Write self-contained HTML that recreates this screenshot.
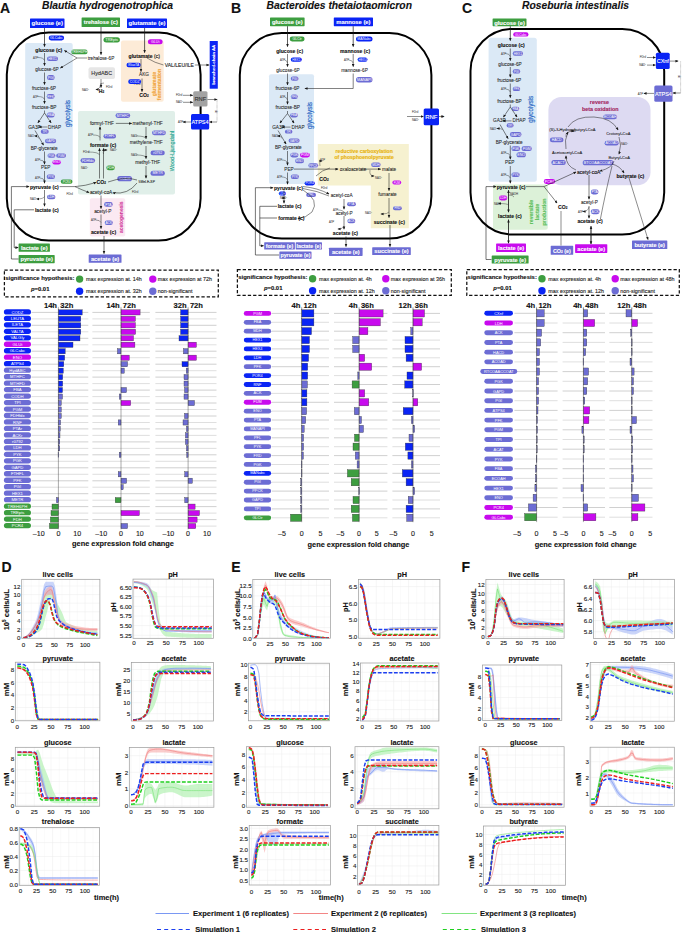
<!DOCTYPE html>
<html><head><meta charset="utf-8"><style>
html,body{margin:0;padding:0;background:#fff;width:685px;height:933px;overflow:hidden;}
svg{display:block;font-family:"Liberation Sans", sans-serif;}
</style></head><body>
<svg width="685" height="933" viewBox="0 0 685 933">
<defs><marker id="ah" viewBox="0 0 10 10" refX="8" refY="5" markerWidth="3.2" markerHeight="3.2" markerUnits="userSpaceOnUse" orient="auto"><path d="M0,1 L10,5 L0,9 Z" fill="#1a1a1a"/></marker></defs>
<rect width="685" height="933" fill="#fff"/>
<text x="0.00" y="7.60" font-size="14" font-weight="bold" text-anchor="start" fill="#111" dominant-baseline="central" stroke="#111" stroke-width="0.12">A</text>
<text x="42.00" y="5.40" font-size="10.3" font-weight="bold" text-anchor="start" fill="#111" dominant-baseline="central" font-style="italic" stroke="#111" stroke-width="0.12">Blautia hydrogenotrophica</text>
<rect x="25.20" y="43.10" width="47.50" height="139.00" rx="2" fill="#dbe9f6" stroke="none" stroke-width="1"/>
<rect x="121.00" y="40.50" width="42.70" height="61.30" rx="2" fill="#fdebd7" stroke="none" stroke-width="1"/>
<rect x="78.00" y="111.00" width="97.00" height="83.50" rx="2" fill="#e0efe9" stroke="none" stroke-width="1"/>
<rect x="89.80" y="198.20" width="35.40" height="38.30" rx="2" fill="#fbe9f2" stroke="none" stroke-width="1"/>
<rect x="88.50" y="67.30" width="26.50" height="11.70" rx="2" fill="#e6e6e6" stroke="none" stroke-width="1"/>
<text x="101.70" y="73.20" font-size="5.4" font-weight="normal" text-anchor="middle" fill="#333" dominant-baseline="central" stroke="#333" stroke-width="0.12">HydABC</text>
<rect x="6.80" y="32.60" width="193.80" height="208.00" rx="42" fill="none" stroke="#000" stroke-width="2.0"/>
<rect x="30.00" y="18.50" width="34.50" height="9.50" rx="0.6" fill="#0a24f5" stroke="none" stroke-width="1"/>
<text x="47.25" y="23.45" font-size="5.936" font-weight="bold" text-anchor="middle" fill="#fff" dominant-baseline="central" stroke="#fff" stroke-width="0.12">glucose (e)</text>
<rect x="81.60" y="17.50" width="38.40" height="9.50" rx="0.6" fill="#3d9e40" stroke="none" stroke-width="1"/>
<text x="100.80" y="22.45" font-size="5.724000000000001" font-weight="bold" text-anchor="middle" fill="#fff" dominant-baseline="central" stroke="#fff" stroke-width="0.12">trehalose (c)</text>
<rect x="127.00" y="18.50" width="40.00" height="9.50" rx="0.6" fill="#0a24f5" stroke="none" stroke-width="1"/>
<text x="147.00" y="23.45" font-size="5.936" font-weight="bold" text-anchor="middle" fill="#fff" dominant-baseline="central" stroke="#fff" stroke-width="0.12">glutamate (e)</text>
<rect x="209.70" y="41.00" width="8.10" height="47.70" rx="0" fill="#0a24f5" stroke="none" stroke-width="1"/>
<text x="213.90" y="64.80" font-size="4.4" font-weight="bold" text-anchor="middle" fill="#fff" dominant-baseline="central" transform="rotate(-90 213.90 64.80)" stroke="#fff" stroke-width="0.07">branched-chain AA</text>
<rect x="193.20" y="91.30" width="14.30" height="15.30" rx="1.5" fill="#a3a3a3" stroke="none" stroke-width="1"/>
<text x="200.35" y="99.15" font-size="5.724000000000001" font-weight="normal" text-anchor="middle" fill="#333" dominant-baseline="central" stroke="#333" stroke-width="0.12">RNF</text>
<rect x="191.00" y="114.00" width="18.20" height="15.50" rx="1.5" fill="#0a24f5" stroke="none" stroke-width="1"/>
<text x="200.10" y="121.95" font-size="5.5120000000000005" font-weight="normal" text-anchor="middle" fill="#fff" dominant-baseline="central" stroke="#fff" stroke-width="0.12">ATPS4</text>
<rect x="18.60" y="243.50" width="31.30" height="8.30" rx="0.6" fill="#3d9e40" stroke="none" stroke-width="1"/>
<text x="34.25" y="247.85" font-size="5.724000000000001" font-weight="bold" text-anchor="middle" fill="#fff" dominant-baseline="central" stroke="#fff" stroke-width="0.12">lactate (e)</text>
<rect x="18.60" y="255.10" width="36.10" height="8.10" rx="0.6" fill="#3d9e40" stroke="none" stroke-width="1"/>
<text x="36.65" y="259.35" font-size="5.724000000000001" font-weight="bold" text-anchor="middle" fill="#fff" dominant-baseline="central" stroke="#fff" stroke-width="0.12">pyruvate (e)</text>
<rect x="88.70" y="254.40" width="32.80" height="8.40" rx="0.6" fill="#6c6cd4" stroke="none" stroke-width="1"/>
<text x="105.10" y="258.80" font-size="5.724000000000001" font-weight="bold" text-anchor="middle" fill="#fff" dominant-baseline="central" stroke="#fff" stroke-width="0.12">acetate (e)</text>
<text x="35.30" y="49.80" font-size="5.1" font-weight="bold" text-anchor="start" fill="#111" dominant-baseline="central" stroke="#111" stroke-width="0.12">glucose (c)</text>
<text x="35.30" y="69.00" font-size="4.7" font-weight="normal" text-anchor="start" fill="#1e1e1e" dominant-baseline="central" stroke="#1e1e1e" stroke-width="0.07">glucose-6P</text>
<text x="31.90" y="88.00" font-size="4.7" font-weight="normal" text-anchor="start" fill="#1e1e1e" dominant-baseline="central" stroke="#1e1e1e" stroke-width="0.07">fructose-6P</text>
<text x="31.90" y="107.20" font-size="4.7" font-weight="normal" text-anchor="start" fill="#1e1e1e" dominant-baseline="central" stroke="#1e1e1e" stroke-width="0.07">fructose-BP</text>
<text x="28.20" y="127.00" font-size="4.7" font-weight="normal" text-anchor="start" fill="#1e1e1e" dominant-baseline="central" stroke="#1e1e1e" stroke-width="0.07">GA3P</text>
<text x="48.00" y="127.00" font-size="4.7" font-weight="normal" text-anchor="start" fill="#1e1e1e" dominant-baseline="central" stroke="#1e1e1e" stroke-width="0.07">DHAP</text>
<text x="30.70" y="148.20" font-size="4.7" font-weight="normal" text-anchor="start" fill="#1e1e1e" dominant-baseline="central" stroke="#1e1e1e" stroke-width="0.07">BP-glycerate</text>
<text x="41.10" y="167.50" font-size="4.7" font-weight="normal" text-anchor="start" fill="#1e1e1e" dominant-baseline="central" stroke="#1e1e1e" stroke-width="0.07">PEP</text>
<text x="29.90" y="186.60" font-size="5.1" font-weight="bold" text-anchor="start" fill="#111" dominant-baseline="central" stroke="#111" stroke-width="0.12">pyruvate (c)</text>
<text x="34.90" y="209.80" font-size="5.1" font-weight="bold" text-anchor="start" fill="#111" dominant-baseline="central" stroke="#111" stroke-width="0.12">lactate (c)</text>
<text x="87.70" y="58.00" font-size="4.7" font-weight="normal" text-anchor="start" fill="#1e1e1e" dominant-baseline="central" stroke="#1e1e1e" stroke-width="0.07">trehalose-6P</text>
<text x="128.60" y="55.80" font-size="5.1" font-weight="normal" text-anchor="start" fill="#111" dominant-baseline="central" stroke="#111" stroke-width="0.12"><tspan font-weight="bold">glutamate</tspan> (c)</text>
<text x="139.00" y="74.90" font-size="4.7" font-weight="normal" text-anchor="start" fill="#1e1e1e" dominant-baseline="central" stroke="#1e1e1e" stroke-width="0.07">AKG</text>
<text x="139.30" y="95.00" font-size="5.1" font-weight="bold" text-anchor="start" fill="#111" dominant-baseline="central" stroke="#111" stroke-width="0.12">CO<tspan font-size="3" dy="1">2</tspan></text>
<text x="164.80" y="65.00" font-size="5.0" font-weight="normal" text-anchor="start" fill="#1e1e1e" dominant-baseline="central" stroke="#1e1e1e" stroke-width="0.12">VAL/LEU/ILE</text>
<text x="98.80" y="91.30" font-size="5.1" font-weight="bold" text-anchor="start" fill="#111" dominant-baseline="central" stroke="#111" stroke-width="0.12">H<tspan font-size="3" dy="1">2</tspan></text>
<text x="89.90" y="123.30" font-size="4.8" font-weight="normal" text-anchor="start" fill="#1e1e1e" dominant-baseline="central" stroke="#1e1e1e" stroke-width="0.07">formyl-THF</text>
<text x="132.40" y="123.50" font-size="4.8" font-weight="normal" text-anchor="start" fill="#1e1e1e" dominant-baseline="central" stroke="#1e1e1e" stroke-width="0.07">methenyl-THF</text>
<text x="89.90" y="144.60" font-size="5.1" font-weight="bold" text-anchor="start" fill="#111" dominant-baseline="central" stroke="#111" stroke-width="0.12">formate (c)</text>
<text x="129.70" y="142.40" font-size="4.8" font-weight="normal" text-anchor="start" fill="#1e1e1e" dominant-baseline="central" stroke="#1e1e1e" stroke-width="0.07">methylene-THF</text>
<text x="135.20" y="162.50" font-size="4.8" font-weight="normal" text-anchor="start" fill="#1e1e1e" dominant-baseline="central" stroke="#1e1e1e" stroke-width="0.07">methyl-THF</text>
<text x="96.60" y="182.30" font-size="5.1" font-weight="bold" text-anchor="start" fill="#111" dominant-baseline="central" stroke="#111" stroke-width="0.12">CO<tspan font-size="3" dy="1">2</tspan></text>
<text x="138.50" y="181.60" font-size="3.4" font-weight="normal" text-anchor="start" fill="#1e1e1e" dominant-baseline="central" stroke="#1e1e1e" stroke-width="0.07">5MeLE-SP</text>
<text x="89.90" y="192.80" font-size="4.8" font-weight="normal" text-anchor="start" fill="#1e1e1e" dominant-baseline="central" stroke="#1e1e1e" stroke-width="0.07">acetyl-coA</text>
<text x="94.20" y="211.30" font-size="4.8" font-weight="normal" text-anchor="start" fill="#1e1e1e" dominant-baseline="central" stroke="#1e1e1e" stroke-width="0.07">acetyl-P</text>
<text x="90.90" y="231.90" font-size="5.1" font-weight="bold" text-anchor="start" fill="#111" dominant-baseline="central" stroke="#111" stroke-width="0.12">acetate (c)</text>
<text x="33.00" y="57.50" font-size="2.8" font-weight="normal" text-anchor="start" fill="#555" dominant-baseline="central" stroke="#555" stroke-width="0.07">ATP</text>
<text x="33.00" y="96.50" font-size="2.8" font-weight="normal" text-anchor="start" fill="#555" dominant-baseline="central" stroke="#555" stroke-width="0.07">ATP</text>
<text x="28.00" y="136.00" font-size="2.8" font-weight="normal" text-anchor="start" fill="#555" dominant-baseline="central" stroke="#555" stroke-width="0.07">NAD<tspan font-size="2" dy="-0.8">+</tspan></text>
<text x="35.00" y="160.00" font-size="2.8" font-weight="normal" text-anchor="start" fill="#555" dominant-baseline="central" stroke="#555" stroke-width="0.07">ATP</text>
<text x="35.00" y="178.00" font-size="2.8" font-weight="normal" text-anchor="start" fill="#555" dominant-baseline="central" stroke="#555" stroke-width="0.07">ATP</text>
<text x="30.00" y="199.00" font-size="2.8" font-weight="normal" text-anchor="start" fill="#555" dominant-baseline="central" stroke="#555" stroke-width="0.07">NAD<tspan font-size="2" dy="-0.8">+</tspan></text>
<text x="66.50" y="194.00" font-size="2.8" font-weight="normal" text-anchor="start" fill="#555" dominant-baseline="central" stroke="#555" stroke-width="0.07">FDrd</text>
<text x="82.00" y="90.00" font-size="2.8" font-weight="normal" text-anchor="start" fill="#555" dominant-baseline="central" stroke="#555" stroke-width="0.07">NAD<tspan font-size="2" dy="-0.8">+</tspan></text>
<text x="106.00" y="87.00" font-size="2.8" font-weight="normal" text-anchor="start" fill="#555" dominant-baseline="central" stroke="#555" stroke-width="0.07">FDrd</text>
<text x="134.00" y="84.00" font-size="2.8" font-weight="normal" text-anchor="start" fill="#555" dominant-baseline="central" stroke="#555" stroke-width="0.07">FDrd</text>
<text x="88.00" y="135.00" font-size="2.8" font-weight="normal" text-anchor="start" fill="#555" dominant-baseline="central" stroke="#555" stroke-width="0.07">ATP</text>
<text x="83.00" y="152.00" font-size="2.8" font-weight="normal" text-anchor="start" fill="#555" dominant-baseline="central" stroke="#555" stroke-width="0.07">FDrd</text>
<text x="81.00" y="168.00" font-size="2.8" font-weight="normal" text-anchor="start" fill="#555" dominant-baseline="central" stroke="#555" stroke-width="0.07">NAD<tspan font-size="2" dy="-0.8">+</tspan></text>
<text x="110.00" y="150.00" font-size="2.8" font-weight="normal" text-anchor="start" fill="#555" dominant-baseline="central" stroke="#555" stroke-width="0.07">NAD<tspan font-size="2" dy="-0.8">+</tspan></text>
<text x="131.00" y="136.00" font-size="2.8" font-weight="normal" text-anchor="start" fill="#555" dominant-baseline="central" stroke="#555" stroke-width="0.07">NAD<tspan font-size="2" dy="-0.8">+</tspan></text>
<text x="131.00" y="155.00" font-size="2.8" font-weight="normal" text-anchor="start" fill="#555" dominant-baseline="central" stroke="#555" stroke-width="0.07">NAD<tspan font-size="2" dy="-0.8">+</tspan></text>
<text x="132.00" y="191.50" font-size="2.8" font-weight="normal" text-anchor="start" fill="#555" dominant-baseline="central" stroke="#555" stroke-width="0.07">FDrd</text>
<text x="91.00" y="220.00" font-size="2.8" font-weight="normal" text-anchor="start" fill="#555" dominant-baseline="central" stroke="#555" stroke-width="0.07">ATP</text>
<text x="176.00" y="95.00" font-size="2.8" font-weight="normal" text-anchor="start" fill="#555" dominant-baseline="central" stroke="#555" stroke-width="0.07">FDrd</text>
<text x="176.00" y="102.00" font-size="2.8" font-weight="normal" text-anchor="start" fill="#555" dominant-baseline="central" stroke="#555" stroke-width="0.07">NAD<tspan font-size="2" dy="-0.8">+</tspan></text>
<text x="178.00" y="122.00" font-size="2.8" font-weight="normal" text-anchor="start" fill="#555" dominant-baseline="central" stroke="#555" stroke-width="0.07">ATP</text>
<text x="215.00" y="112.00" font-size="2.8" font-weight="normal" text-anchor="start" fill="#555" dominant-baseline="central" stroke="#555" stroke-width="0.07">H<tspan font-size="2" dy="-0.8">+</tspan></text>
<rect x="48.70" y="35.50" width="15.40" height="4.90" rx="2.4499999999999993" fill="#0a24f5" stroke="none" stroke-width="1"/>
<text x="56.40" y="38.05" font-size="3.5279999999999987" font-weight="normal" text-anchor="middle" fill="#fff" dominant-baseline="central">GLCabc</text>
<rect x="103.50" y="37.20" width="16.40" height="5.30" rx="2.6499999999999986" fill="#3d9e40" stroke="none" stroke-width="1"/>
<text x="111.70" y="39.95" font-size="3.8159999999999976" font-weight="normal" text-anchor="middle" fill="#fff" dominant-baseline="central">TREpts</text>
<rect x="71.30" y="49.60" width="16.30" height="4.70" rx="2.349999999999998" fill="#3d9e40" stroke="none" stroke-width="1"/>
<text x="79.45" y="52.05" font-size="3.383999999999997" font-weight="normal" text-anchor="middle" fill="#fff" dominant-baseline="central">TREH6PH</text>
<rect x="47.00" y="56.50" width="11.00" height="4.50" rx="2.25" fill="#6c6cd4" stroke="none" stroke-width="1"/>
<text x="52.50" y="58.85" font-size="3.2399999999999998" font-weight="normal" text-anchor="middle" fill="#fff" dominant-baseline="central">HEX1</text>
<rect x="47.00" y="75.00" width="7.60" height="5.00" rx="2.5" fill="#6c6cd4" stroke="none" stroke-width="1"/>
<text x="50.80" y="77.60" font-size="3.5999999999999996" font-weight="normal" text-anchor="middle" fill="#fff" dominant-baseline="central">PGI</text>
<rect x="46.70" y="94.00" width="7.90" height="4.80" rx="2.3999999999999986" fill="#6c6cd4" stroke="none" stroke-width="1"/>
<text x="50.65" y="96.50" font-size="3.4559999999999977" font-weight="normal" text-anchor="middle" fill="#fff" dominant-baseline="central">PFK</text>
<rect x="46.70" y="112.60" width="7.90" height="5.00" rx="2.5" fill="#6c6cd4" stroke="none" stroke-width="1"/>
<text x="50.65" y="115.20" font-size="3.5999999999999996" font-weight="normal" text-anchor="middle" fill="#fff" dominant-baseline="central">FBA</text>
<rect x="40.80" y="129.60" width="7.90" height="4.20" rx="2.1000000000000085" fill="#6c6cd4" stroke="none" stroke-width="1"/>
<text x="44.75" y="131.80" font-size="3.024000000000012" font-weight="normal" text-anchor="middle" fill="#fff" dominant-baseline="central">TPI</text>
<rect x="45.00" y="138.80" width="11.20" height="4.40" rx="2.1999999999999886" fill="#6c6cd4" stroke="none" stroke-width="1"/>
<text x="50.60" y="141.10" font-size="3.1679999999999837" font-weight="normal" text-anchor="middle" fill="#fff" dominant-baseline="central">GAPD</text>
<rect x="47.50" y="153.60" width="7.90" height="4.20" rx="2.1000000000000085" fill="#6c6cd4" stroke="none" stroke-width="1"/>
<text x="51.45" y="155.80" font-size="3.024000000000012" font-weight="normal" text-anchor="middle" fill="#fff" dominant-baseline="central">PGK</text>
<rect x="56.20" y="153.60" width="9.80" height="4.20" rx="2.1000000000000085" fill="#6c6cd4" stroke="none" stroke-width="1"/>
<text x="61.10" y="155.80" font-size="3.024000000000012" font-weight="normal" text-anchor="middle" fill="#fff" dominant-baseline="central">PGM</text>
<rect x="52.40" y="160.00" width="8.40" height="4.50" rx="2.25" fill="#c80aee" stroke="none" stroke-width="1"/>
<text x="56.60" y="162.35" font-size="3.2399999999999998" font-weight="normal" text-anchor="middle" fill="#fff" dominant-baseline="central">ENO</text>
<rect x="46.70" y="174.60" width="8.30" height="4.40" rx="2.200000000000003" fill="#6c6cd4" stroke="none" stroke-width="1"/>
<text x="50.85" y="176.90" font-size="3.168000000000004" font-weight="normal" text-anchor="middle" fill="#fff" dominant-baseline="central">PYK</text>
<rect x="60.80" y="179.60" width="11.70" height="4.20" rx="2.1000000000000085" fill="#3d9e40" stroke="none" stroke-width="1"/>
<text x="66.65" y="181.80" font-size="3.024000000000012" font-weight="normal" text-anchor="middle" fill="#fff" dominant-baseline="central">PCR4</text>
<rect x="47.00" y="194.70" width="8.40" height="4.50" rx="2.25" fill="#6c6cd4" stroke="none" stroke-width="1"/>
<text x="51.20" y="197.05" font-size="3.2399999999999998" font-weight="normal" text-anchor="middle" fill="#fff" dominant-baseline="central">LDH</text>
<rect x="147.90" y="39.20" width="14.70" height="5.00" rx="2.5" fill="#c80aee" stroke="none" stroke-width="1"/>
<text x="155.25" y="41.80" font-size="3.5999999999999996" font-weight="normal" text-anchor="middle" fill="#fff" dominant-baseline="central">GLUt</text>
<rect x="126.50" y="62.80" width="14.20" height="4.40" rx="2.200000000000003" fill="#0a24f5" stroke="none" stroke-width="1"/>
<text x="133.60" y="65.10" font-size="3.168000000000004" font-weight="normal" text-anchor="middle" fill="#fff" dominant-baseline="central">IKtaxTA</text>
<rect x="128.20" y="79.30" width="12.90" height="4.80" rx="2.3999999999999986" fill="#0a24f5" stroke="none" stroke-width="1"/>
<text x="134.65" y="81.80" font-size="3.4559999999999977" font-weight="normal" text-anchor="middle" fill="#fff" dominant-baseline="central">CODZ</text>
<rect x="115.50" y="113.20" width="14.70" height="4.80" rx="2.3999999999999986" fill="#6c6cd4" stroke="none" stroke-width="1"/>
<text x="122.85" y="115.70" font-size="3.4559999999999977" font-weight="normal" text-anchor="middle" fill="#fff" dominant-baseline="central">MTHFC</text>
<rect x="103.50" y="134.00" width="12.50" height="4.50" rx="2.25" fill="#6c6cd4" stroke="none" stroke-width="1"/>
<text x="109.75" y="136.35" font-size="3.2399999999999998" font-weight="normal" text-anchor="middle" fill="#fff" dominant-baseline="central">FTHFL</text>
<rect x="152.00" y="130.40" width="13.90" height="4.80" rx="2.3999999999999915" fill="#6c6cd4" stroke="none" stroke-width="1"/>
<text x="158.95" y="132.90" font-size="3.4559999999999875" font-weight="normal" text-anchor="middle" fill="#fff" dominant-baseline="central">MTHFD</text>
<rect x="150.50" y="150.50" width="14.30" height="4.80" rx="2.4000000000000057" fill="#6c6cd4" stroke="none" stroke-width="1"/>
<text x="157.65" y="153.00" font-size="3.456000000000008" font-weight="normal" text-anchor="middle" fill="#fff" dominant-baseline="central">r0792</text>
<rect x="150.50" y="170.70" width="14.30" height="5.00" rx="2.5" fill="#6c6cd4" stroke="none" stroke-width="1"/>
<text x="157.65" y="173.30" font-size="3.5999999999999996" font-weight="normal" text-anchor="middle" fill="#fff" dominant-baseline="central">METR</text>
<rect x="80.50" y="158.20" width="14.60" height="4.80" rx="2.4000000000000057" fill="#6c6cd4" stroke="none" stroke-width="1"/>
<text x="87.80" y="160.70" font-size="3.456000000000008" font-weight="normal" text-anchor="middle" fill="#fff" dominant-baseline="central">FDHfdx</text>
<rect x="106.30" y="165.40" width="8.60" height="4.80" rx="2.3999999999999915" fill="#3d9e40" stroke="none" stroke-width="1"/>
<text x="110.60" y="167.90" font-size="3.4559999999999875" font-weight="normal" text-anchor="middle" fill="#fff" dominant-baseline="central">FDH</text>
<rect x="117.30" y="176.10" width="14.70" height="5.10" rx="2.549999999999997" fill="#6c6cd4" stroke="none" stroke-width="1"/>
<text x="124.65" y="178.75" font-size="3.6719999999999957" font-weight="normal" text-anchor="middle" fill="#fff" dominant-baseline="central">CODH</text>
<rect x="104.10" y="202.00" width="8.60" height="4.80" rx="2.4000000000000057" fill="#6c6cd4" stroke="none" stroke-width="1"/>
<text x="108.40" y="204.50" font-size="3.456000000000008" font-weight="normal" text-anchor="middle" fill="#fff" dominant-baseline="central">PTA</text>
<rect x="104.70" y="220.50" width="8.10" height="4.40" rx="2.200000000000003" fill="#6c6cd4" stroke="none" stroke-width="1"/>
<text x="108.75" y="222.80" font-size="3.168000000000004" font-weight="normal" text-anchor="middle" fill="#fff" dominant-baseline="central">ACK</text>
<text x="67.30" y="113.50" font-size="6.3" font-weight="normal" text-anchor="middle" fill="#2f6cc6" dominant-baseline="central" transform="rotate(-90 67.30 113.50)" stroke="#2f6cc6" stroke-width="0.2">glycolysis</text>
<text x="153.80" y="84.00" font-size="5.2" font-weight="bold" text-anchor="middle" fill="#f0a43a" dominant-baseline="central" transform="rotate(-90 153.80 84.00)" stroke="#f0a43a" stroke-width="0.12">glutamate</text>
<text x="159.40" y="84.50" font-size="5.2" font-weight="bold" text-anchor="middle" fill="#f0a43a" dominant-baseline="central" transform="rotate(-90 159.40 84.50)" stroke="#f0a43a" stroke-width="0.12">fermentation</text>
<text x="171.60" y="151.00" font-size="5.6" font-weight="normal" text-anchor="middle" fill="#14a08c" dominant-baseline="central" transform="rotate(-90 171.60 151.00)" stroke="#14a08c" stroke-width="0.12">Wood-Ljungdahl</text>
<text x="121.20" y="217.20" font-size="5.0" font-weight="bold" text-anchor="middle" fill="#d23c9c" dominant-baseline="central" transform="rotate(-90 121.20 217.20)" stroke="#d23c9c" stroke-width="0.12">acetogenesis</text>
<path d="M44.5,28.0 L44.5,46.5" fill="none" stroke="#1a1a1a" stroke-width="0.7" marker-end="url(#ah)"/>
<path d="M101.0,27.0 L101.0,54.5" fill="none" stroke="#1a1a1a" stroke-width="0.7" marker-end="url(#ah)"/>
<path d="M144.6,28.0 L144.6,52.5" fill="none" stroke="#1a1a1a" stroke-width="0.7" marker-end="url(#ah)"/>
<path d="M44.5,53.0 L44.5,65.5" fill="none" stroke="#1a1a1a" stroke-width="0.55" marker-end="url(#ah)"/>
<path d="M44.5,72.5 L44.5,84.5" fill="none" stroke="#1a1a1a" stroke-width="0.55" marker-end="url(#ah)"/>
<path d="M44.5,91.5 L44.5,103.5" fill="none" stroke="#1a1a1a" stroke-width="0.55" marker-end="url(#ah)"/>
<path d="M44.5,151.5 L44.5,164.0" fill="none" stroke="#1a1a1a" stroke-width="0.55" marker-end="url(#ah)"/>
<path d="M44.5,171.0 L44.5,183.0" fill="none" stroke="#1a1a1a" stroke-width="0.55" marker-end="url(#ah)"/>
<path d="M44.5,110.5 L44.5,113.0 L38.0,122.8" fill="none" stroke="#1a1a1a" stroke-width="0.55" marker-end="url(#ah)"/>
<path d="M44.5,113.0 L51.0,122.8" fill="none" stroke="#1a1a1a" stroke-width="0.55" marker-end="url(#ah)"/>
<path d="M47.5,127.0 L39.0,127.0" fill="none" stroke="#1a1a1a" stroke-width="0.5" marker-end="url(#ah)"/>
<path d="M35.0,130.5 L43.5,145.0" fill="none" stroke="#1a1a1a" stroke-width="0.55" marker-end="url(#ah)"/>
<path d="M44.5,190.0 L44.5,206.0" fill="none" stroke="#1a1a1a" stroke-width="0.55" marker-end="url(#ah)"/>
<path d="M87.0,58.0 L77.0,58.0 L64.5,50.5" fill="none" stroke="#1a1a1a" stroke-width="0.5" marker-end="url(#ah)"/>
<path d="M77.0,58.0 L60.5,68.0" fill="none" stroke="#1a1a1a" stroke-width="0.5" marker-end="url(#ah)"/>
<path d="M101.0,79.0 L101.0,87.5" fill="none" stroke="#1a1a1a" stroke-width="0.5" marker-end="url(#ah)"/>
<path d="M141.0,59.0 L141.0,71.5" fill="none" stroke="#1a1a1a" stroke-width="0.55" marker-end="url(#ah)"/>
<path d="M142.0,78.5 L142.0,91.5" fill="none" stroke="#1a1a1a" stroke-width="0.55" marker-end="url(#ah)"/>
<path d="M147,58 Q155,63 163.5,65" fill="none" stroke="#1a1a1a" stroke-width="0.5"/>
<path d="M194.8,65.0 L209.0,65.0" fill="none" stroke="#1a1a1a" stroke-width="0.5" marker-end="url(#ah)"/>
<path d="M207.5,99.5 L217.0,99.5" fill="none" stroke="#1a1a1a" stroke-width="0.5" marker-end="url(#ah)"/>
<path d="M217.0,99.0 L217.0,122.0" fill="none" stroke="#666" stroke-width="0.5" stroke-dasharray="0.6,0.6"/>
<path d="M217.0,122.0 L209.7,122.0" fill="none" stroke="#1a1a1a" stroke-width="0.5" marker-end="url(#ah)"/>
<path d="M191.0,122.0 L183.0,122.0" fill="none" stroke="#1a1a1a" stroke-width="0.5" marker-end="url(#ah)"/>
<path d="M183.0,95.3 L192.7,95.3" fill="none" stroke="#1a1a1a" stroke-width="0.5" marker-end="url(#ah)"/>
<path d="M183.0,102.3 L192.7,102.3" fill="none" stroke="#1a1a1a" stroke-width="0.5" marker-end="url(#ah)"/>
<path d="M115.8,123.4 L131.5,123.4" fill="none" stroke="#1a1a1a" stroke-width="0.55" marker-end="url(#ah)"/>
<path d="M146.0,127.0 L146.0,138.5" fill="none" stroke="#1a1a1a" stroke-width="0.55" marker-end="url(#ah)"/>
<path d="M146.0,146.0 L146.0,158.5" fill="none" stroke="#1a1a1a" stroke-width="0.55" marker-end="url(#ah)"/>
<path d="M146.0,166.0 L146.0,178.0" fill="none" stroke="#1a1a1a" stroke-width="0.55" marker-end="url(#ah)"/>
<path d="M100.0,140.5 L100.0,127.0" fill="none" stroke="#1a1a1a" stroke-width="0.55" marker-end="url(#ah)"/>
<path d="M99.5,178.5 L99.5,148.5" fill="none" stroke="#1a1a1a" stroke-width="0.55" marker-end="url(#ah)"/>
<path d="M103.5,178.5 L103.5,148.5" fill="none" stroke="#1a1a1a" stroke-width="0.55" marker-end="url(#ah)"/>
<path d="M59.5,186.6 L75,186.6 Q85,186 96,182.5" fill="none" stroke="#1a1a1a" stroke-width="0.55" marker-end="url(#ah)"/>
<path d="M75,186.6 Q82,190 89,192.5" fill="none" stroke="#1a1a1a" stroke-width="0.55" marker-end="url(#ah)"/>
<path d="M108,182 Q125,176 137,180" fill="none" stroke="#1a1a1a" stroke-width="0.55"/>
<path d="M137,183 Q128,195 113,192.8" fill="none" stroke="#1a1a1a" stroke-width="0.55" marker-end="url(#ah)"/>
<path d="M101.0,195.5 L101.0,208.5" fill="none" stroke="#1a1a1a" stroke-width="0.55" marker-end="url(#ah)"/>
<path d="M101.0,214.5 L101.0,228.5" fill="none" stroke="#1a1a1a" stroke-width="0.55" marker-end="url(#ah)"/>
<path d="M104.0,236.0 L104.0,253.5" fill="none" stroke="#1a1a1a" stroke-width="0.6" marker-end="url(#ah)"/>
<path d="M37.8,57.5 Q43.7,57.5 44.5,60.5" fill="none" stroke="#333" stroke-width="0.45"/>
<path d="M37.8,96.5 Q43.7,96.5 44.5,99.5" fill="none" stroke="#333" stroke-width="0.45"/>
<path d="M39.8,160.0 Q43.7,160.0 44.5,163.0" fill="none" stroke="#333" stroke-width="0.45"/>
<path d="M39.8,178.0 Q43.7,178.0 44.5,181.0" fill="none" stroke="#333" stroke-width="0.45"/>
<path d="M38.8,138.5 Q37.8,136.0 34.8,136.0" fill="none" stroke="#333" stroke-width="0.45" marker-end="url(#ah)"/>
<path d="M44.5,196.5 Q43.5,199.0 36.8,199.0" fill="none" stroke="#333" stroke-width="0.45" marker-end="url(#ah)"/>
<path d="M101.0,83.0 Q100.0,89.5 96.0,89.5" fill="none" stroke="#333" stroke-width="0.45" marker-end="url(#ah)"/>
<path d="M104.0,83.0 Q100.2,83.0 101.0,85.0" fill="none" stroke="#333" stroke-width="0.45"/>
<path d="M93.0,135.0 Q99.2,135.0 100.0,137.5" fill="none" stroke="#333" stroke-width="0.45"/>
<path d="M88.0,152.0 Q98.7,152.0 99.5,155.0" fill="none" stroke="#333" stroke-width="0.45"/>
<path d="M103.5,154.0 Q102.5,150.0 107.0,150.0" fill="none" stroke="#333" stroke-width="0.45" marker-end="url(#ah)"/>
<path d="M136.0,136.0 Q145.2,136.0 146.0,138.5" fill="none" stroke="#333" stroke-width="0.45"/>
<path d="M136.0,155.0 Q145.2,155.0 146.0,157.5" fill="none" stroke="#333" stroke-width="0.45"/>
<path d="M95.5,220.0 Q100.2,220.0 101.0,222.5" fill="none" stroke="#333" stroke-width="0.45"/>
<path d="M11.4,259.0 L11.4,186.6 L29.0,186.6" fill="none" stroke="#1a1a1a" stroke-width="0.6" marker-end="url(#ah)"/>
<path d="M11.4,259.0 L18.5,259.0" fill="none" stroke="#1a1a1a" stroke-width="0.6"/>
<path d="M34.0,209.8 L14.2,209.8 L14.2,247.6 L18.0,247.6" fill="none" stroke="#1a1a1a" stroke-width="0.6" marker-end="url(#ah)"/>
<text x="231.00" y="8.20" font-size="14" font-weight="bold" text-anchor="start" fill="#111" dominant-baseline="central" stroke="#111" stroke-width="0.12">B</text>
<text x="266.60" y="5.80" font-size="10.3" font-weight="bold" text-anchor="start" fill="#111" dominant-baseline="central" font-style="italic" stroke="#111" stroke-width="0.12">Bacteroides thetaiotaomicron</text>
<rect x="269.00" y="74.30" width="45.00" height="109.70" rx="2" fill="#dbe9f6" stroke="none" stroke-width="1"/>
<path d="M317.8,144 L408.8,144 L408.8,228.2 L370.8,228.2 L370.8,185.5 L317.8,185.5 Z" fill="#f6f1d0" stroke="none" stroke-width="0"/>
<rect x="239.80" y="33.10" width="191.60" height="205.50" rx="42" fill="none" stroke="#000" stroke-width="2.0"/>
<rect x="270.00" y="17.50" width="34.60" height="8.70" rx="0.6" fill="#3d9e40" stroke="none" stroke-width="1"/>
<text x="287.30" y="22.05" font-size="5.83" font-weight="bold" text-anchor="middle" fill="#fff" dominant-baseline="central" stroke="#fff" stroke-width="0.12">glucose (e)</text>
<rect x="333.80" y="17.50" width="39.20" height="8.70" rx="0.6" fill="#0a24f5" stroke="none" stroke-width="1"/>
<text x="353.40" y="22.05" font-size="5.83" font-weight="bold" text-anchor="middle" fill="#fff" dominant-baseline="central" stroke="#fff" stroke-width="0.12">mannose (e)</text>
<rect x="423.70" y="108.50" width="15.30" height="16.80" rx="1.5" fill="#0a24f5" stroke="none" stroke-width="1"/>
<text x="431.35" y="117.10" font-size="5.936" font-weight="normal" text-anchor="middle" fill="#fff" dominant-baseline="central" stroke="#fff" stroke-width="0.12">RNF</text>
<rect x="264.20" y="242.20" width="30.70" height="7.30" rx="0.6" fill="#6c6cd4" stroke="none" stroke-width="1"/>
<text x="279.55" y="246.05" font-size="5.300000000000001" font-weight="bold" text-anchor="middle" fill="#fff" dominant-baseline="central" stroke="#fff" stroke-width="0.12">formate (e)</text>
<rect x="295.70" y="242.20" width="26.30" height="7.30" rx="0.6" fill="#6c6cd4" stroke="none" stroke-width="1"/>
<text x="308.85" y="246.05" font-size="5.300000000000001" font-weight="bold" text-anchor="middle" fill="#fff" dominant-baseline="central" stroke="#fff" stroke-width="0.12">lactate (e)</text>
<rect x="279.40" y="251.50" width="32.10" height="7.30" rx="0.6" fill="#6c6cd4" stroke="none" stroke-width="1"/>
<text x="295.45" y="255.35" font-size="5.300000000000001" font-weight="bold" text-anchor="middle" fill="#fff" dominant-baseline="central" stroke="#fff" stroke-width="0.12">pyruvate (e)</text>
<rect x="329.00" y="247.70" width="33.60" height="8.20" rx="0.6" fill="#6c6cd4" stroke="none" stroke-width="1"/>
<text x="345.80" y="252.00" font-size="5.618" font-weight="bold" text-anchor="middle" fill="#fff" dominant-baseline="central" stroke="#fff" stroke-width="0.12">acetate (e)</text>
<rect x="372.20" y="247.20" width="38.60" height="7.80" rx="0.6" fill="#6c6cd4" stroke="none" stroke-width="1"/>
<text x="391.50" y="251.30" font-size="5.618" font-weight="bold" text-anchor="middle" fill="#fff" dominant-baseline="central" stroke="#fff" stroke-width="0.12">succinate (e)</text>
<text x="276.20" y="50.80" font-size="5.1" font-weight="bold" text-anchor="start" fill="#111" dominant-baseline="central" stroke="#111" stroke-width="0.12">glucose (c)</text>
<text x="276.20" y="70.30" font-size="4.7" font-weight="normal" text-anchor="start" fill="#1e1e1e" dominant-baseline="central" stroke="#1e1e1e" stroke-width="0.07">glucose-6P</text>
<text x="275.50" y="88.50" font-size="4.7" font-weight="normal" text-anchor="start" fill="#1e1e1e" dominant-baseline="central" stroke="#1e1e1e" stroke-width="0.07">fructose-6P</text>
<text x="275.50" y="107.80" font-size="4.7" font-weight="normal" text-anchor="start" fill="#1e1e1e" dominant-baseline="central" stroke="#1e1e1e" stroke-width="0.07">fructose-BP</text>
<text x="272.20" y="127.10" font-size="4.7" font-weight="normal" text-anchor="start" fill="#1e1e1e" dominant-baseline="central" stroke="#1e1e1e" stroke-width="0.07">GA3P</text>
<text x="291.50" y="127.10" font-size="4.7" font-weight="normal" text-anchor="start" fill="#1e1e1e" dominant-baseline="central" stroke="#1e1e1e" stroke-width="0.07">DHAP</text>
<text x="274.90" y="147.90" font-size="4.7" font-weight="normal" text-anchor="start" fill="#1e1e1e" dominant-baseline="central" stroke="#1e1e1e" stroke-width="0.07">BP-glycerate</text>
<text x="284.30" y="169.10" font-size="4.7" font-weight="normal" text-anchor="start" fill="#1e1e1e" dominant-baseline="central" stroke="#1e1e1e" stroke-width="0.07">PEP</text>
<text x="274.00" y="187.70" font-size="5.1" font-weight="bold" text-anchor="start" fill="#111" dominant-baseline="central" stroke="#111" stroke-width="0.12">pyruvate (c)</text>
<text x="277.70" y="206.30" font-size="5.1" font-weight="bold" text-anchor="start" fill="#111" dominant-baseline="central" stroke="#111" stroke-width="0.12">lactate (c)</text>
<text x="278.20" y="218.00" font-size="5.1" font-weight="bold" text-anchor="start" fill="#111" dominant-baseline="central" stroke="#111" stroke-width="0.12">formate (c)</text>
<text x="340.10" y="50.80" font-size="5.1" font-weight="bold" text-anchor="start" fill="#111" dominant-baseline="central" stroke="#111" stroke-width="0.12">mannose (c)</text>
<text x="341.20" y="70.30" font-size="4.7" font-weight="normal" text-anchor="start" fill="#1e1e1e" dominant-baseline="central" stroke="#1e1e1e" stroke-width="0.07">mannose-6P</text>
<text x="339.70" y="169.10" font-size="4.7" font-weight="normal" text-anchor="start" fill="#1e1e1e" dominant-baseline="central" stroke="#1e1e1e" stroke-width="0.07">oxaloacetate</text>
<text x="382.10" y="169.10" font-size="4.7" font-weight="normal" text-anchor="start" fill="#1e1e1e" dominant-baseline="central" stroke="#1e1e1e" stroke-width="0.07">malate</text>
<text x="378.20" y="194.70" font-size="4.7" font-weight="normal" text-anchor="start" fill="#1e1e1e" dominant-baseline="central" stroke="#1e1e1e" stroke-width="0.07">fumarate</text>
<text x="373.70" y="221.50" font-size="5.1" font-weight="bold" text-anchor="start" fill="#111" dominant-baseline="central" stroke="#111" stroke-width="0.12">succinate (c)</text>
<text x="330.70" y="195.00" font-size="4.7" font-weight="normal" text-anchor="start" fill="#1e1e1e" dominant-baseline="central" stroke="#1e1e1e" stroke-width="0.07">acetyl-coA</text>
<text x="335.70" y="213.00" font-size="4.7" font-weight="normal" text-anchor="start" fill="#1e1e1e" dominant-baseline="central" stroke="#1e1e1e" stroke-width="0.07">acetyl-P</text>
<text x="332.80" y="233.10" font-size="5.1" font-weight="bold" text-anchor="start" fill="#111" dominant-baseline="central" stroke="#111" stroke-width="0.12">acetate (c)</text>
<text x="319.30" y="178.50" font-size="5.1" font-weight="bold" text-anchor="start" fill="#111" dominant-baseline="central" stroke="#111" stroke-width="0.12">CO<tspan font-size="3" dy="1">2</tspan></text>
<text x="364.20" y="151.20" font-size="5.1" font-weight="bold" text-anchor="middle" fill="#e8b20a" dominant-baseline="central" stroke="#e8b20a" stroke-width="0.12">reductive carboxylation</text>
<text x="364.20" y="157.20" font-size="5.1" font-weight="bold" text-anchor="middle" fill="#e8b20a" dominant-baseline="central" stroke="#e8b20a" stroke-width="0.12">of phosphoenolpyruvate</text>
<text x="309.80" y="115.50" font-size="6.3" font-weight="normal" text-anchor="middle" fill="#2f6cc6" dominant-baseline="central" transform="rotate(-90 309.80 115.50)" stroke="#2f6cc6" stroke-width="0.2">glycolysis</text>
<text x="280.00" y="60.00" font-size="2.8" font-weight="normal" text-anchor="start" fill="#555" dominant-baseline="central" stroke="#555" stroke-width="0.07">ATP</text>
<text x="344.00" y="60.00" font-size="2.8" font-weight="normal" text-anchor="start" fill="#555" dominant-baseline="central" stroke="#555" stroke-width="0.07">ATP</text>
<text x="280.00" y="97.00" font-size="2.8" font-weight="normal" text-anchor="start" fill="#555" dominant-baseline="central" stroke="#555" stroke-width="0.07">ATP</text>
<text x="272.00" y="136.00" font-size="2.8" font-weight="normal" text-anchor="start" fill="#555" dominant-baseline="central" stroke="#555" stroke-width="0.07">NAD<tspan font-size="2" dy="-0.8">+</tspan></text>
<text x="277.00" y="160.00" font-size="2.8" font-weight="normal" text-anchor="start" fill="#555" dominant-baseline="central" stroke="#555" stroke-width="0.07">ATP</text>
<text x="277.00" y="177.00" font-size="2.8" font-weight="normal" text-anchor="start" fill="#555" dominant-baseline="central" stroke="#555" stroke-width="0.07">ATP</text>
<text x="280.00" y="198.00" font-size="2.8" font-weight="normal" text-anchor="start" fill="#555" dominant-baseline="central" stroke="#555" stroke-width="0.07">NAD<tspan font-size="2" dy="-0.8">+</tspan></text>
<text x="320.00" y="160.00" font-size="2.8" font-weight="normal" text-anchor="start" fill="#555" dominant-baseline="central" stroke="#555" stroke-width="0.07">ATP</text>
<text x="375.00" y="178.00" font-size="2.8" font-weight="normal" text-anchor="start" fill="#555" dominant-baseline="central" stroke="#555" stroke-width="0.07">NAD<tspan font-size="2" dy="-0.8">+</tspan></text>
<text x="321.00" y="187.50" font-size="2.8" font-weight="normal" text-anchor="start" fill="#555" dominant-baseline="central" stroke="#555" stroke-width="0.07">FDrd</text>
<text x="333.00" y="210.00" font-size="2.8" font-weight="normal" text-anchor="start" fill="#555" dominant-baseline="central" stroke="#555" stroke-width="0.07">ATP</text>
<text x="329.00" y="222.00" font-size="2.8" font-weight="normal" text-anchor="start" fill="#555" dominant-baseline="central" stroke="#555" stroke-width="0.07">ATP</text>
<text x="365.00" y="213.00" font-size="2.8" font-weight="normal" text-anchor="start" fill="#555" dominant-baseline="central" stroke="#555" stroke-width="0.07">NAD<tspan font-size="2" dy="-0.8">+</tspan></text>
<text x="412.00" y="112.00" font-size="2.8" font-weight="normal" text-anchor="start" fill="#555" dominant-baseline="central" stroke="#555" stroke-width="0.07">FDrd</text>
<text x="412.00" y="120.00" font-size="2.8" font-weight="normal" text-anchor="start" fill="#555" dominant-baseline="central" stroke="#555" stroke-width="0.07">NAD<tspan font-size="2" dy="-0.8">+</tspan></text>
<text x="441.00" y="116.50" font-size="2.8" font-weight="normal" text-anchor="start" fill="#555" dominant-baseline="central" stroke="#555" stroke-width="0.07">H<tspan font-size="2" dy="-0.8">+</tspan></text>
<rect x="289.70" y="36.60" width="14.90" height="4.80" rx="2.3999999999999986" fill="#3d9e40" stroke="none" stroke-width="1"/>
<text x="297.15" y="39.10" font-size="3.4559999999999977" font-weight="normal" text-anchor="middle" fill="#fff" dominant-baseline="central">GLCtr</text>
<rect x="290.80" y="57.40" width="11.00" height="4.40" rx="2.1999999999999993" fill="#0a24f5" stroke="none" stroke-width="1"/>
<text x="296.30" y="59.70" font-size="3.167999999999999" font-weight="normal" text-anchor="middle" fill="#fff" dominant-baseline="central">HEX1</text>
<rect x="290.80" y="76.50" width="7.70" height="4.30" rx="2.1499999999999986" fill="#6c6cd4" stroke="none" stroke-width="1"/>
<text x="294.65" y="78.75" font-size="3.095999999999998" font-weight="normal" text-anchor="middle" fill="#fff" dominant-baseline="central">PGI</text>
<rect x="290.80" y="94.60" width="7.00" height="4.40" rx="2.200000000000003" fill="#6c6cd4" stroke="none" stroke-width="1"/>
<text x="294.30" y="96.90" font-size="3.168000000000004" font-weight="normal" text-anchor="middle" fill="#fff" dominant-baseline="central">PFK</text>
<rect x="290.20" y="113.00" width="7.60" height="4.40" rx="2.200000000000003" fill="#6c6cd4" stroke="none" stroke-width="1"/>
<text x="294.00" y="115.30" font-size="3.168000000000004" font-weight="normal" text-anchor="middle" fill="#fff" dominant-baseline="central">FBA</text>
<rect x="356.00" y="36.40" width="16.50" height="5.00" rx="2.5" fill="#0a24f5" stroke="none" stroke-width="1"/>
<text x="364.25" y="39.00" font-size="3.5999999999999996" font-weight="normal" text-anchor="middle" fill="#fff" dominant-baseline="central">MANabc</text>
<rect x="357.60" y="57.40" width="9.90" height="4.40" rx="2.1999999999999993" fill="#0a24f5" stroke="none" stroke-width="1"/>
<text x="362.55" y="59.70" font-size="3.167999999999999" font-weight="normal" text-anchor="middle" fill="#fff" dominant-baseline="central">HEX4</text>
<rect x="356.00" y="77.10" width="16.50" height="5.30" rx="2.6500000000000057" fill="#6c6cd4" stroke="none" stroke-width="1"/>
<text x="364.25" y="79.85" font-size="3.816000000000008" font-weight="normal" text-anchor="middle" fill="#fff" dominant-baseline="central">MANAPI</text>
<rect x="284.90" y="129.70" width="7.50" height="3.90" rx="1.9500000000000028" fill="#6c6cd4" stroke="none" stroke-width="1"/>
<text x="288.65" y="131.75" font-size="2.808000000000004" font-weight="normal" text-anchor="middle" fill="#fff" dominant-baseline="central">TPI</text>
<rect x="288.60" y="138.50" width="11.00" height="4.30" rx="2.1500000000000057" fill="#6c6cd4" stroke="none" stroke-width="1"/>
<text x="294.10" y="140.75" font-size="3.096000000000008" font-weight="normal" text-anchor="middle" fill="#fff" dominant-baseline="central">GAPD</text>
<rect x="290.20" y="152.70" width="8.30" height="4.80" rx="2.4000000000000057" fill="#6c6cd4" stroke="none" stroke-width="1"/>
<text x="294.35" y="155.20" font-size="3.456000000000008" font-weight="normal" text-anchor="middle" fill="#fff" dominant-baseline="central">PGK</text>
<rect x="300.00" y="152.70" width="9.90" height="4.80" rx="2.4000000000000057" fill="#c80aee" stroke="none" stroke-width="1"/>
<text x="304.95" y="155.20" font-size="3.456000000000008" font-weight="normal" text-anchor="middle" fill="#fff" dominant-baseline="central">PGM</text>
<rect x="295.20" y="158.60" width="8.80" height="4.60" rx="2.299999999999997" fill="#6c6cd4" stroke="none" stroke-width="1"/>
<text x="299.60" y="161.00" font-size="3.311999999999996" font-weight="normal" text-anchor="middle" fill="#fff" dominant-baseline="central">ENO</text>
<rect x="290.80" y="174.60" width="8.10" height="4.40" rx="2.200000000000003" fill="#6c6cd4" stroke="none" stroke-width="1"/>
<text x="294.85" y="176.90" font-size="3.168000000000004" font-weight="normal" text-anchor="middle" fill="#fff" dominant-baseline="central">PYK</text>
<rect x="308.40" y="163.20" width="9.80" height="4.40" rx="2.200000000000003" fill="#6c6cd4" stroke="none" stroke-width="1"/>
<text x="313.30" y="165.50" font-size="3.168000000000004" font-weight="normal" text-anchor="middle" fill="#fff" dominant-baseline="central">PPCK</text>
<rect x="371.20" y="162.50" width="9.40" height="4.50" rx="2.25" fill="#6c6cd4" stroke="none" stroke-width="1"/>
<text x="375.90" y="164.85" font-size="3.2399999999999998" font-weight="normal" text-anchor="middle" fill="#fff" dominant-baseline="central">MDH</text>
<rect x="304.60" y="181.20" width="10.30" height="4.30" rx="2.1500000000000057" fill="#0a24f5" stroke="none" stroke-width="1"/>
<text x="309.75" y="183.45" font-size="3.096000000000008" font-weight="normal" text-anchor="middle" fill="#fff" dominant-baseline="central">POR4</text>
<rect x="306.20" y="192.80" width="9.80" height="4.30" rx="2.1499999999999915" fill="#6c6cd4" stroke="none" stroke-width="1"/>
<text x="311.10" y="195.05" font-size="3.0959999999999877" font-weight="normal" text-anchor="middle" fill="#fff" dominant-baseline="central">PFL</text>
<rect x="278.80" y="191.50" width="7.20" height="3.90" rx="1.9500000000000028" fill="#0a24f5" stroke="none" stroke-width="1"/>
<text x="282.40" y="193.55" font-size="2.808000000000004" font-weight="normal" text-anchor="middle" fill="#fff" dominant-baseline="central">LDH</text>
<rect x="347.10" y="202.00" width="8.80" height="4.30" rx="2.1500000000000057" fill="#6c6cd4" stroke="none" stroke-width="1"/>
<text x="351.50" y="204.25" font-size="3.096000000000008" font-weight="normal" text-anchor="middle" fill="#fff" dominant-baseline="central">PTA</text>
<rect x="347.40" y="218.80" width="7.90" height="4.40" rx="2.1999999999999886" fill="#6c6cd4" stroke="none" stroke-width="1"/>
<text x="351.35" y="221.10" font-size="3.1679999999999837" font-weight="normal" text-anchor="middle" fill="#fff" dominant-baseline="central">ACK</text>
<rect x="392.40" y="180.50" width="8.80" height="3.90" rx="1.9500000000000028" fill="#c80aee" stroke="none" stroke-width="1"/>
<text x="396.80" y="182.55" font-size="2.808000000000004" font-weight="normal" text-anchor="middle" fill="#fff" dominant-baseline="central">FUM</text>
<rect x="393.00" y="206.30" width="8.80" height="4.00" rx="2.0" fill="#6c6cd4" stroke="none" stroke-width="1"/>
<text x="397.40" y="208.40" font-size="2.88" font-weight="normal" text-anchor="middle" fill="#fff" dominant-baseline="central">FRD</text>
<path d="M287.5,26.2 L287.5,46.5" fill="none" stroke="#1a1a1a" stroke-width="0.7" marker-end="url(#ah)"/>
<path d="M353.2,26.2 L353.2,46.5" fill="none" stroke="#1a1a1a" stroke-width="0.7" marker-end="url(#ah)"/>
<path d="M287.5,54.0 L287.5,66.5" fill="none" stroke="#1a1a1a" stroke-width="0.55" marker-end="url(#ah)"/>
<path d="M287.5,73.5 L287.5,84.8" fill="none" stroke="#1a1a1a" stroke-width="0.55" marker-end="url(#ah)"/>
<path d="M287.5,92.0 L287.5,104.0" fill="none" stroke="#1a1a1a" stroke-width="0.55" marker-end="url(#ah)"/>
<path d="M287.5,151.0 L287.5,165.0" fill="none" stroke="#1a1a1a" stroke-width="0.55" marker-end="url(#ah)"/>
<path d="M287.5,172.5 L287.5,184.0" fill="none" stroke="#1a1a1a" stroke-width="0.55" marker-end="url(#ah)"/>
<path d="M353.2,54.0 L353.2,66.5" fill="none" stroke="#1a1a1a" stroke-width="0.55" marker-end="url(#ah)"/>
<path d="M353.2,73.5 L353.2,88.5 L305.0,88.5" fill="none" stroke="#1a1a1a" stroke-width="0.55" marker-end="url(#ah)"/>
<path d="M287.5,111.0 L287.5,113.5 L280.0,123.0" fill="none" stroke="#1a1a1a" stroke-width="0.55" marker-end="url(#ah)"/>
<path d="M287.5,113.5 L294.0,123.0" fill="none" stroke="#1a1a1a" stroke-width="0.55" marker-end="url(#ah)"/>
<path d="M290.5,127.1 L282.0,127.1" fill="none" stroke="#1a1a1a" stroke-width="0.5" marker-end="url(#ah)"/>
<path d="M278.0,130.5 L286.0,144.0" fill="none" stroke="#1a1a1a" stroke-width="0.55" marker-end="url(#ah)"/>
<path d="M294.0,169.1 L338.0,169.1" fill="none" stroke="#1a1a1a" stroke-width="0.55" marker-end="url(#ah)"/>
<path d="M361.5,169.1 L380.5,169.1" fill="none" stroke="#1a1a1a" stroke-width="0.55" marker-end="url(#ah)"/>
<path d="M389.0,173.0 L389.0,190.5" fill="none" stroke="#1a1a1a" stroke-width="0.55" marker-end="url(#ah)"/>
<path d="M389.0,198.0 L389.0,217.5" fill="none" stroke="#1a1a1a" stroke-width="0.55" marker-end="url(#ah)"/>
<path d="M344.0,199.0 L344.0,209.0" fill="none" stroke="#1a1a1a" stroke-width="0.55" marker-end="url(#ah)"/>
<path d="M344.0,216.0 L344.0,229.0" fill="none" stroke="#1a1a1a" stroke-width="0.55" marker-end="url(#ah)"/>
<path d="M346.0,236.5 L346.0,246.5" fill="none" stroke="#1a1a1a" stroke-width="0.6" marker-end="url(#ah)"/>
<path d="M390.0,225.0 L390.0,246.5" fill="none" stroke="#1a1a1a" stroke-width="0.6" marker-end="url(#ah)"/>
<path d="M303,186.5 Q318,188 329,194" fill="none" stroke="#1a1a1a" stroke-width="0.5" marker-end="url(#ah)"/>
<path d="M303,188.5 Q318,191 329,196" fill="none" stroke="#1a1a1a" stroke-width="0.5"/>
<path d="M303,190 Q320,200 312,212 Q306,218 298,218.5" fill="none" stroke="#1a1a1a" stroke-width="0.5" marker-end="url(#ah)"/>
<path d="M316,176 Q322,170 330,168" fill="none" stroke="#1a1a1a" stroke-width="0.5"/>
<path d="M284.0,190.5 L284.0,203.0" fill="none" stroke="#1a1a1a" stroke-width="0.55" marker-end="url(#ah)"/>
<path d="M284.5,60.0 Q286.7,60.0 287.5,63.0" fill="none" stroke="#333" stroke-width="0.45"/>
<path d="M284.5,97.0 Q286.7,97.0 287.5,100.0" fill="none" stroke="#333" stroke-width="0.45"/>
<path d="M281.5,160.0 Q286.7,160.0 287.5,163.0" fill="none" stroke="#333" stroke-width="0.45"/>
<path d="M281.5,177.0 Q286.7,177.0 287.5,180.0" fill="none" stroke="#333" stroke-width="0.45"/>
<path d="M348.5,60.0 Q352.4,60.0 353.2,63.0" fill="none" stroke="#333" stroke-width="0.45"/>
<path d="M281.8,138.0 Q280.8,136.0 277.5,136.0" fill="none" stroke="#333" stroke-width="0.45" marker-end="url(#ah)"/>
<path d="M284.0,197.0 Q283.0,198.0 285.0,198.0" fill="none" stroke="#333" stroke-width="0.45" marker-end="url(#ah)"/>
<path d="M344.0,226.0 Q343.0,229.0 338.0,229.0" fill="none" stroke="#333" stroke-width="0.45" marker-end="url(#ah)"/>
<path d="M337.5,210.0 Q343.2,210.0 344.0,212.5" fill="none" stroke="#333" stroke-width="0.45"/>
<path d="M389.0,212.0 Q388.0,214.0 381.0,214.0" fill="none" stroke="#333" stroke-width="0.45" marker-end="url(#ah)"/>
<path d="M320.0,166.0 Q319.0,161.0 322.0,161.0" fill="none" stroke="#333" stroke-width="0.45" marker-end="url(#ah)"/>
<path d="M370.0,170.0 Q369.0,176.0 374.0,176.0" fill="none" stroke="#333" stroke-width="0.45" marker-end="url(#ah)"/>
<path d="M255.4,255.0 L255.4,187.7 L273.0,187.7" fill="none" stroke="#1a1a1a" stroke-width="0.6" marker-end="url(#ah)"/>
<path d="M255.4,255.0 L279.0,255.0" fill="none" stroke="#1a1a1a" stroke-width="0.6"/>
<path d="M277.0,206.3 L259.8,206.3 L259.8,245.8 L263.5,245.8" fill="none" stroke="#1a1a1a" stroke-width="0.6" marker-end="url(#ah)"/>
<path d="M277.0,218.0 L259.8,218.0" fill="none" stroke="#1a1a1a" stroke-width="0.6"/>
<path d="M407.0,116.5 L423.2,116.5" fill="none" stroke="#1a1a1a" stroke-width="0.5" marker-end="url(#ah)"/>
<path d="M439.0,116.5 L444.0,116.5" fill="none" stroke="#1a1a1a" stroke-width="0.5" marker-end="url(#ah)"/>
<text x="462.00" y="8.20" font-size="14" font-weight="bold" text-anchor="start" fill="#111" dominant-baseline="central" stroke="#111" stroke-width="0.12">C</text>
<text x="522.00" y="5.80" font-size="10.3" font-weight="bold" text-anchor="start" fill="#111" dominant-baseline="central" font-style="italic" stroke="#111" stroke-width="0.12">Roseburia intestinalis</text>
<rect x="488.60" y="37.70" width="48.20" height="144.10" rx="2.5" fill="#dbe9f6" stroke="none" stroke-width="1"/>
<rect x="548.40" y="96.90" width="102.10" height="88.40" rx="13" fill="#dddaf2" stroke="none" stroke-width="1"/>
<rect x="493.00" y="184.60" width="54.80" height="45.20" rx="2.5" fill="#dcf1d8" stroke="none" stroke-width="1"/>
<rect x="470.50" y="28.90" width="193.70" height="205.70" rx="42" fill="none" stroke="#000" stroke-width="2.0"/>
<rect x="492.60" y="18.50" width="33.90" height="7.70" rx="0.6" fill="#3d9e40" stroke="none" stroke-width="1"/>
<text x="509.55" y="22.55" font-size="5.83" font-weight="bold" text-anchor="middle" fill="#fff" dominant-baseline="central" stroke="#fff" stroke-width="0.12">glucose (e)</text>
<rect x="655.90" y="52.70" width="13.80" height="16.20" rx="1.5" fill="#0a24f5" stroke="none" stroke-width="1"/>
<text x="662.80" y="61.00" font-size="5.5120000000000005" font-weight="normal" text-anchor="middle" fill="#fff" dominant-baseline="central" stroke="#fff" stroke-width="0.12">CXnf</text>
<rect x="654.30" y="85.50" width="18.20" height="16.20" rx="1.5" fill="#6c6cd4" stroke="none" stroke-width="1"/>
<text x="663.40" y="93.80" font-size="5.5120000000000005" font-weight="normal" text-anchor="middle" fill="#fff" dominant-baseline="central" stroke="#fff" stroke-width="0.12">ATPS4</text>
<rect x="496.10" y="243.60" width="29.90" height="8.30" rx="0.6" fill="#c80aee" stroke="none" stroke-width="1"/>
<text x="511.05" y="247.95" font-size="5.618" font-weight="bold" text-anchor="middle" fill="#fff" dominant-baseline="central" stroke="#fff" stroke-width="0.12">lactate (e)</text>
<rect x="491.70" y="255.50" width="36.90" height="8.00" rx="0.6" fill="#3d9e40" stroke="none" stroke-width="1"/>
<text x="510.15" y="259.70" font-size="5.618" font-weight="bold" text-anchor="middle" fill="#fff" dominant-baseline="central" stroke="#fff" stroke-width="0.12">pyruvate (e)</text>
<rect x="550.70" y="245.80" width="22.50" height="9.00" rx="0.6" fill="#6c6cd4" stroke="none" stroke-width="1"/>
<text x="561.95" y="250.50" font-size="5.406" font-weight="bold" text-anchor="middle" fill="#fff" dominant-baseline="central" stroke="#fff" stroke-width="0.12">CO<tspan font-size="3.2" dy="1">2</tspan><tspan dy="-1"> (e)</tspan></text>
<rect x="575.10" y="244.20" width="32.20" height="8.70" rx="0.6" fill="#c80aee" stroke="none" stroke-width="1"/>
<text x="591.20" y="248.75" font-size="5.618" font-weight="bold" text-anchor="middle" fill="#fff" dominant-baseline="central" stroke="#fff" stroke-width="0.12">acetate (e)</text>
<rect x="632.00" y="240.40" width="35.30" height="8.60" rx="0.6" fill="#6c6cd4" stroke="none" stroke-width="1"/>
<text x="649.65" y="244.90" font-size="5.618" font-weight="bold" text-anchor="middle" fill="#fff" dominant-baseline="central" stroke="#fff" stroke-width="0.12">butyrate (e)</text>
<text x="497.80" y="45.10" font-size="5.1" font-weight="bold" text-anchor="start" fill="#111" dominant-baseline="central" stroke="#111" stroke-width="0.12">glucose (c)</text>
<text x="498.30" y="64.00" font-size="4.7" font-weight="normal" text-anchor="start" fill="#1e1e1e" dominant-baseline="central" stroke="#1e1e1e" stroke-width="0.07">glucose-6P</text>
<text x="497.20" y="80.40" font-size="4.7" font-weight="normal" text-anchor="start" fill="#1e1e1e" dominant-baseline="central" stroke="#1e1e1e" stroke-width="0.07">fructose-6P</text>
<text x="497.20" y="101.20" font-size="4.7" font-weight="normal" text-anchor="start" fill="#1e1e1e" dominant-baseline="central" stroke="#1e1e1e" stroke-width="0.07">fructose-BP</text>
<text x="493.00" y="120.90" font-size="4.7" font-weight="normal" text-anchor="start" fill="#1e1e1e" dominant-baseline="central" stroke="#1e1e1e" stroke-width="0.07">GA3P</text>
<text x="512.50" y="120.90" font-size="4.7" font-weight="normal" text-anchor="start" fill="#1e1e1e" dominant-baseline="central" stroke="#1e1e1e" stroke-width="0.07">DHAP</text>
<text x="495.70" y="142.40" font-size="4.7" font-weight="normal" text-anchor="start" fill="#1e1e1e" dominant-baseline="central" stroke="#1e1e1e" stroke-width="0.07">BP-glycerate</text>
<text x="505.00" y="162.70" font-size="4.7" font-weight="normal" text-anchor="start" fill="#1e1e1e" dominant-baseline="central" stroke="#1e1e1e" stroke-width="0.07">PEP</text>
<text x="496.70" y="186.60" font-size="5.1" font-weight="bold" text-anchor="start" fill="#111" dominant-baseline="central" stroke="#111" stroke-width="0.12">pyruvate (c)</text>
<text x="498.00" y="216.30" font-size="5.1" font-weight="bold" text-anchor="start" fill="#111" dominant-baseline="central" stroke="#111" stroke-width="0.12">lactate (c)</text>
<text x="558.00" y="207.30" font-size="5.1" font-weight="bold" text-anchor="start" fill="#111" dominant-baseline="central" stroke="#111" stroke-width="0.12">CO<tspan font-size="3" dy="1">2</tspan></text>
<text x="599.40" y="102.40" font-size="5.4" font-weight="bold" text-anchor="middle" fill="#a2245e" dominant-baseline="central" stroke="#a2245e" stroke-width="0.12">reverse</text>
<text x="600.20" y="108.50" font-size="5.4" font-weight="bold" text-anchor="middle" fill="#a2245e" dominant-baseline="central" stroke="#a2245e" stroke-width="0.12">beta oxidation</text>
<text x="549.20" y="129.30" font-size="4.05" font-weight="normal" text-anchor="start" fill="#1e1e1e" dominant-baseline="central" stroke="#1e1e1e" stroke-width="0.07">(S)-3-Hydroxybutyryl-CoA</text>
<text x="606.20" y="133.00" font-size="4.05" font-weight="normal" text-anchor="start" fill="#1e1e1e" dominant-baseline="central" stroke="#1e1e1e" stroke-width="0.07">Crotonyl-CoA</text>
<text x="552.00" y="152.80" font-size="4.05" font-weight="normal" text-anchor="start" fill="#1e1e1e" dominant-baseline="central" stroke="#1e1e1e" stroke-width="0.07">Acetoacetyl-CoA</text>
<text x="608.40" y="157.70" font-size="4.05" font-weight="normal" text-anchor="start" fill="#1e1e1e" dominant-baseline="central" stroke="#1e1e1e" stroke-width="0.07">Butyryl-CoA</text>
<text x="577.00" y="171.50" font-size="5.0" font-weight="normal" text-anchor="start" fill="#111" dominant-baseline="central" stroke="#111" stroke-width="0.12">acetyl-coA</text>
<text x="616.50" y="175.80" font-size="5.1" font-weight="bold" text-anchor="start" fill="#111" dominant-baseline="central" stroke="#111" stroke-width="0.12">butyrate (c)</text>
<text x="581.00" y="202.50" font-size="4.7" font-weight="normal" text-anchor="start" fill="#1e1e1e" dominant-baseline="central" stroke="#1e1e1e" stroke-width="0.07">acetyl-P</text>
<text x="577.40" y="221.00" font-size="5.1" font-weight="bold" text-anchor="start" fill="#111" dominant-baseline="central" stroke="#111" stroke-width="0.12">acetate (c)</text>
<text x="530.80" y="109.30" font-size="6.3" font-weight="normal" text-anchor="middle" fill="#2f6cc6" dominant-baseline="central" transform="rotate(-90 530.80 109.30)" stroke="#2f6cc6" stroke-width="0.2">glycolysis</text>
<text x="531.00" y="212.00" font-size="5.2" font-weight="bold" text-anchor="middle" fill="#5cbf5c" dominant-baseline="central" transform="rotate(-90 531.00 212.00)" stroke="#5cbf5c" stroke-width="0.12">reversible</text>
<text x="537.40" y="212.00" font-size="5.2" font-weight="bold" text-anchor="middle" fill="#5cbf5c" dominant-baseline="central" transform="rotate(-90 537.40 212.00)" stroke="#5cbf5c" stroke-width="0.12">lactate</text>
<text x="543.80" y="212.00" font-size="5.2" font-weight="bold" text-anchor="middle" fill="#5cbf5c" dominant-baseline="central" transform="rotate(-90 543.80 212.00)" stroke="#5cbf5c" stroke-width="0.12">production</text>
<text x="501.00" y="53.50" font-size="2.8" font-weight="normal" text-anchor="start" fill="#555" dominant-baseline="central" stroke="#555" stroke-width="0.07">ATP</text>
<text x="501.00" y="89.00" font-size="2.8" font-weight="normal" text-anchor="start" fill="#555" dominant-baseline="central" stroke="#555" stroke-width="0.07">ATP</text>
<text x="490.00" y="128.50" font-size="2.8" font-weight="normal" text-anchor="start" fill="#555" dominant-baseline="central" stroke="#555" stroke-width="0.07">NAD<tspan font-size="2" dy="-0.8">+</tspan></text>
<text x="501.00" y="153.00" font-size="2.8" font-weight="normal" text-anchor="start" fill="#555" dominant-baseline="central" stroke="#555" stroke-width="0.07">ATP</text>
<text x="501.00" y="175.00" font-size="2.8" font-weight="normal" text-anchor="start" fill="#555" dominant-baseline="central" stroke="#555" stroke-width="0.07">ATP</text>
<text x="510.00" y="194.00" font-size="2.8" font-weight="normal" text-anchor="start" fill="#555" dominant-baseline="central" stroke="#555" stroke-width="0.07">NADH</text>
<text x="494.00" y="203.50" font-size="2.8" font-weight="normal" text-anchor="start" fill="#555" dominant-baseline="central" stroke="#555" stroke-width="0.07">NAD<tspan font-size="2" dy="-0.8">+</tspan></text>
<text x="570.00" y="131.00" font-size="2.8" font-weight="normal" text-anchor="start" fill="#555" dominant-baseline="central" stroke="#555" stroke-width="0.07">NAD<tspan font-size="2" dy="-0.8">+</tspan></text>
<text x="621.00" y="144.00" font-size="2.8" font-weight="normal" text-anchor="start" fill="#555" dominant-baseline="central" stroke="#555" stroke-width="0.07">NAD<tspan font-size="2" dy="-0.8">+</tspan></text>
<text x="578.00" y="211.50" font-size="2.8" font-weight="normal" text-anchor="start" fill="#555" dominant-baseline="central" stroke="#555" stroke-width="0.07">ATP</text>
<text x="639.80" y="57.40" font-size="2.8" font-weight="normal" text-anchor="start" fill="#555" dominant-baseline="central" stroke="#555" stroke-width="0.07">FDrd</text>
<text x="639.20" y="65.10" font-size="2.8" font-weight="normal" text-anchor="start" fill="#555" dominant-baseline="central" stroke="#555" stroke-width="0.07">NAD<tspan font-size="2" dy="-0.8">+</tspan></text>
<text x="637.80" y="93.60" font-size="2.8" font-weight="normal" text-anchor="start" fill="#555" dominant-baseline="central" stroke="#555" stroke-width="0.07">ATP</text>
<text x="678.00" y="77.00" font-size="2.8" font-weight="normal" text-anchor="start" fill="#555" dominant-baseline="central" stroke="#555" stroke-width="0.07">H<tspan font-size="2" dy="-0.8">+</tspan></text>
<rect x="513.20" y="32.20" width="15.30" height="4.40" rx="2.1999999999999993" fill="#c80aee" stroke="none" stroke-width="1"/>
<text x="520.85" y="34.50" font-size="3.167999999999999" font-weight="normal" text-anchor="middle" fill="#fff" dominant-baseline="central">GLCabc</text>
<rect x="512.70" y="51.30" width="10.30" height="4.40" rx="2.200000000000003" fill="#6c6cd4" stroke="none" stroke-width="1"/>
<text x="517.85" y="53.60" font-size="3.168000000000004" font-weight="normal" text-anchor="middle" fill="#fff" dominant-baseline="central">HEX1</text>
<rect x="512.70" y="69.20" width="7.50" height="4.40" rx="2.1999999999999957" fill="#6c6cd4" stroke="none" stroke-width="1"/>
<text x="516.45" y="71.50" font-size="3.167999999999994" font-weight="normal" text-anchor="middle" fill="#fff" dominant-baseline="central">PGI</text>
<rect x="512.70" y="86.70" width="7.50" height="4.40" rx="2.1999999999999957" fill="#6c6cd4" stroke="none" stroke-width="1"/>
<text x="516.45" y="89.00" font-size="3.167999999999994" font-weight="normal" text-anchor="middle" fill="#fff" dominant-baseline="central">PFK</text>
<rect x="511.60" y="106.70" width="7.70" height="4.30" rx="2.1499999999999986" fill="#6c6cd4" stroke="none" stroke-width="1"/>
<text x="515.45" y="108.95" font-size="3.095999999999998" font-weight="normal" text-anchor="middle" fill="#fff" dominant-baseline="central">FBA</text>
<rect x="506.60" y="123.30" width="7.00" height="4.20" rx="2.1000000000000014" fill="#6c6cd4" stroke="none" stroke-width="1"/>
<text x="510.10" y="125.50" font-size="3.024000000000002" font-weight="normal" text-anchor="middle" fill="#fff" dominant-baseline="central">TPI</text>
<rect x="509.90" y="132.00" width="11.60" height="4.90" rx="2.450000000000003" fill="#6c6cd4" stroke="none" stroke-width="1"/>
<text x="515.70" y="134.55" font-size="3.528000000000004" font-weight="normal" text-anchor="middle" fill="#fff" dominant-baseline="central">GAPD</text>
<rect x="511.40" y="146.30" width="8.80" height="4.80" rx="2.3999999999999915" fill="#6c6cd4" stroke="none" stroke-width="1"/>
<text x="515.80" y="148.80" font-size="3.4559999999999875" font-weight="normal" text-anchor="middle" fill="#fff" dominant-baseline="central">PGK</text>
<rect x="521.50" y="146.30" width="10.30" height="4.80" rx="2.3999999999999915" fill="#6c6cd4" stroke="none" stroke-width="1"/>
<text x="526.65" y="148.80" font-size="3.4559999999999875" font-weight="normal" text-anchor="middle" fill="#fff" dominant-baseline="central">PGM</text>
<rect x="516.50" y="152.20" width="9.40" height="5.10" rx="2.5500000000000114" fill="#6c6cd4" stroke="none" stroke-width="1"/>
<text x="521.20" y="154.85" font-size="3.672000000000016" font-weight="normal" text-anchor="middle" fill="#fff" dominant-baseline="central">ENO</text>
<rect x="511.40" y="172.40" width="8.30" height="4.60" rx="2.299999999999997" fill="#6c6cd4" stroke="none" stroke-width="1"/>
<text x="515.55" y="174.80" font-size="3.311999999999996" font-weight="normal" text-anchor="middle" fill="#fff" dominant-baseline="central">PYK</text>
<rect x="499.00" y="195.60" width="8.30" height="4.80" rx="2.4000000000000057" fill="#c80aee" stroke="none" stroke-width="1"/>
<text x="503.15" y="198.10" font-size="3.456000000000008" font-weight="normal" text-anchor="middle" fill="#fff" dominant-baseline="central">LDH</text>
<rect x="543.80" y="179.10" width="11.30" height="4.80" rx="2.4000000000000057" fill="#c80aee" stroke="none" stroke-width="1"/>
<text x="549.45" y="181.60" font-size="3.456000000000008" font-weight="normal" text-anchor="middle" fill="#fff" dominant-baseline="central">PCR4</text>
<rect x="603.30" y="114.40" width="13.80" height="4.90" rx="2.4499999999999957" fill="#6c6cd4" stroke="none" stroke-width="1"/>
<text x="610.20" y="116.95" font-size="3.527999999999994" font-weight="normal" text-anchor="middle" fill="#fff" dominant-baseline="central">ECOAH</text>
<rect x="549.90" y="137.50" width="13.60" height="4.80" rx="2.4000000000000057" fill="#6c6cd4" stroke="none" stroke-width="1"/>
<text x="556.70" y="140.00" font-size="3.456000000000008" font-weight="normal" text-anchor="middle" fill="#fff" dominant-baseline="central">HACD</text>
<rect x="604.60" y="140.80" width="14.00" height="4.80" rx="2.3999999999999915" fill="#6c6cd4" stroke="none" stroke-width="1"/>
<text x="611.60" y="143.30" font-size="3.4559999999999875" font-weight="normal" text-anchor="middle" fill="#fff" dominant-baseline="central">ACOAD</text>
<rect x="551.40" y="159.90" width="14.30" height="5.00" rx="2.5" fill="#6c6cd4" stroke="none" stroke-width="1"/>
<text x="558.55" y="162.50" font-size="3.5999999999999996" font-weight="normal" text-anchor="middle" fill="#fff" dominant-baseline="central">ACACT</text>
<rect x="582.70" y="160.00" width="30.70" height="5.30" rx="2.6500000000000057" fill="#6c6cd4" stroke="none" stroke-width="1"/>
<text x="598.05" y="162.75" font-size="3.816000000000008" font-weight="normal" text-anchor="middle" fill="#fff" dominant-baseline="central">BTCOAACCOAT</text>
<rect x="590.80" y="189.60" width="7.70" height="4.80" rx="2.4000000000000057" fill="#6c6cd4" stroke="none" stroke-width="1"/>
<text x="594.65" y="192.10" font-size="3.456000000000008" font-weight="normal" text-anchor="middle" fill="#fff" dominant-baseline="central">PTA</text>
<rect x="590.80" y="209.30" width="8.80" height="4.90" rx="2.4499999999999886" fill="#6c6cd4" stroke="none" stroke-width="1"/>
<text x="595.20" y="211.85" font-size="3.5279999999999836" font-weight="normal" text-anchor="middle" fill="#fff" dominant-baseline="central">ACK</text>
<path d="M510.3,26.2 L510.3,40.5" fill="none" stroke="#1a1a1a" stroke-width="0.7" marker-end="url(#ah)"/>
<path d="M510.3,48.5 L510.3,60.5" fill="none" stroke="#1a1a1a" stroke-width="0.55" marker-end="url(#ah)"/>
<path d="M510.3,67.0 L510.3,77.0" fill="none" stroke="#1a1a1a" stroke-width="0.55" marker-end="url(#ah)"/>
<path d="M510.3,83.5 L510.3,97.5" fill="none" stroke="#1a1a1a" stroke-width="0.55" marker-end="url(#ah)"/>
<path d="M510.3,145.5 L510.3,159.0" fill="none" stroke="#1a1a1a" stroke-width="0.55" marker-end="url(#ah)"/>
<path d="M510.3,166.0 L510.3,183.0" fill="none" stroke="#1a1a1a" stroke-width="0.55" marker-end="url(#ah)"/>
<path d="M510.3,104.5 L510.3,107.0 L503.5,117.0" fill="none" stroke="#1a1a1a" stroke-width="0.55" marker-end="url(#ah)"/>
<path d="M510.3,107.0 L517.0,117.0" fill="none" stroke="#1a1a1a" stroke-width="0.55" marker-end="url(#ah)"/>
<path d="M511.5,120.9 L503.0,120.9" fill="none" stroke="#1a1a1a" stroke-width="0.5" marker-end="url(#ah)"/>
<path d="M500.0,124.5 L508.0,138.5" fill="none" stroke="#1a1a1a" stroke-width="0.55" marker-end="url(#ah)"/>
<path d="M505.5,53.5 Q509.5,53.5 510.3,56.5" fill="none" stroke="#333" stroke-width="0.45"/>
<path d="M505.5,89.0 Q509.5,89.0 510.3,92.0" fill="none" stroke="#333" stroke-width="0.45"/>
<path d="M505.5,153.0 Q509.5,153.0 510.3,156.0" fill="none" stroke="#333" stroke-width="0.45"/>
<path d="M505.5,175.0 Q509.5,175.0 510.3,178.0" fill="none" stroke="#333" stroke-width="0.45"/>
<path d="M502.6,129.5 Q501.6,128.5 497.0,128.5" fill="none" stroke="#333" stroke-width="0.45" marker-end="url(#ah)"/>
<path d="M508.5,195.0 Q513.2,195.0 514.0,197.0" fill="none" stroke="#333" stroke-width="0.45"/>
<path d="M508.5,205.0 Q507.5,203.5 498.5,203.5" fill="none" stroke="#333" stroke-width="0.45" marker-end="url(#ah)"/>
<path d="M589.0,207.0 Q588.0,211.5 583.0,211.5" fill="none" stroke="#333" stroke-width="0.45" marker-end="url(#ah)"/>
<path d="M566.0,137.0 Q565.0,131.0 574.0,131.0" fill="none" stroke="#333" stroke-width="0.45" marker-end="url(#ah)"/>
<path d="M508.5,190.0 L508.5,212.0" fill="none" stroke="#1a1a1a" stroke-width="0.6" marker-end="url(#ah)"/>
<path d="M508.5,212.0 L508.5,190.5" fill="none" stroke="#1a1a1a" stroke-width="0.6" marker-end="url(#ah)"/>
<path d="M508.5,219.5 L508.5,243.0" fill="none" stroke="#1a1a1a" stroke-width="0.6" marker-end="url(#ah)"/>
<path d="M508.5,243.0 L508.5,220.0" fill="none" stroke="#1a1a1a" stroke-width="0.6" marker-end="url(#ah)"/>
<path d="M486.0,259.5 L486.0,186.6 L496.0,186.6" fill="none" stroke="#1a1a1a" stroke-width="0.6" marker-end="url(#ah)"/>
<path d="M486.0,259.5 L491.5,259.5" fill="none" stroke="#1a1a1a" stroke-width="0.6"/>
<path d="M526.0,186.6 L544.0,186.6 L576.0,172.0" fill="none" stroke="#1a1a1a" stroke-width="0.55" marker-end="url(#ah)"/>
<path d="M544.0,186.6 L557.0,203.0" fill="none" stroke="#1a1a1a" stroke-width="0.55" marker-end="url(#ah)"/>
<path d="M561.0,211.0 L561.0,245.5" fill="none" stroke="#1a1a1a" stroke-width="0.5"/>
<path d="M589.0,175.0 L589.0,199.0" fill="none" stroke="#1a1a1a" stroke-width="0.55" marker-end="url(#ah)"/>
<path d="M589.0,206.0 L589.0,218.0" fill="none" stroke="#1a1a1a" stroke-width="0.55" marker-end="url(#ah)"/>
<path d="M591.0,226.0 L591.0,243.8" fill="none" stroke="#1a1a1a" stroke-width="0.6" marker-end="url(#ah)"/>
<path d="M591.0,243.8 L591.0,226.5" fill="none" stroke="#1a1a1a" stroke-width="0.6" marker-end="url(#ah)"/>
<path d="M568,127 Q575,116 594,117 Q612,118 618,130" fill="none" stroke="#1a1a1a" stroke-width="0.5" marker-end="url(#ah)"/>
<path d="M619,137 Q622,145 619,154" fill="none" stroke="#1a1a1a" stroke-width="0.5" marker-end="url(#ah)"/>
<path d="M614,161 Q612,168 600,171" fill="none" stroke="#1a1a1a" stroke-width="0.5" marker-end="url(#ah)"/>
<path d="M576,170 Q566,166 566,156" fill="none" stroke="#1a1a1a" stroke-width="0.5" marker-end="url(#ah)"/>
<path d="M566,149 Q564,140 568,132" fill="none" stroke="#1a1a1a" stroke-width="0.5" marker-end="url(#ah)"/>
<path d="M612,164 Q620,166 624,173" fill="none" stroke="#1a1a1a" stroke-width="0.5" marker-end="url(#ah)"/>
<path d="M612,166 Q606,190 600,221" fill="none" stroke="#1a1a1a" stroke-width="0.5"/>
<path d="M629.0,178.0 L648.0,239.5" fill="none" stroke="#1a1a1a" stroke-width="0.5" marker-end="url(#ah)"/>
<path d="M647.0,57.5 L655.4,57.5" fill="none" stroke="#1a1a1a" stroke-width="0.5" marker-end="url(#ah)"/>
<path d="M647.0,65.1 L655.4,65.1" fill="none" stroke="#1a1a1a" stroke-width="0.5" marker-end="url(#ah)"/>
<path d="M669.7,61.1 L678.0,61.1" fill="none" stroke="#1a1a1a" stroke-width="0.5" marker-end="url(#ah)"/>
<path d="M680.6,61.5 L680.6,93.0" fill="none" stroke="#666" stroke-width="0.5" stroke-dasharray="0.6,0.6"/>
<path d="M680.6,93.0 L673.0,93.0" fill="none" stroke="#1a1a1a" stroke-width="0.5" marker-end="url(#ah)"/>
<path d="M654.0,93.4 L644.0,93.4" fill="none" stroke="#1a1a1a" stroke-width="0.5" marker-end="url(#ah)"/>
<path d="M31.5,312.4 L88.3,312.4" fill="none" stroke="#a8a8a8" stroke-width="0.55"/>
<path d="M31.5,318.9 L88.3,318.9" fill="none" stroke="#c4c4c4" stroke-width="0.55"/>
<path d="M31.5,325.3 L88.3,325.3" fill="none" stroke="#a8a8a8" stroke-width="0.55"/>
<path d="M31.5,331.8 L88.3,331.8" fill="none" stroke="#c4c4c4" stroke-width="0.55"/>
<path d="M31.5,338.3 L88.3,338.3" fill="none" stroke="#a8a8a8" stroke-width="0.55"/>
<path d="M31.5,344.8 L88.3,344.8" fill="none" stroke="#c4c4c4" stroke-width="0.55"/>
<path d="M31.5,351.2 L88.3,351.2" fill="none" stroke="#a8a8a8" stroke-width="0.55"/>
<path d="M31.5,357.7 L88.3,357.7" fill="none" stroke="#c4c4c4" stroke-width="0.55"/>
<path d="M31.5,364.2 L88.3,364.2" fill="none" stroke="#a8a8a8" stroke-width="0.55"/>
<path d="M31.5,370.7 L88.3,370.7" fill="none" stroke="#c4c4c4" stroke-width="0.55"/>
<path d="M31.5,377.1 L88.3,377.1" fill="none" stroke="#a8a8a8" stroke-width="0.55"/>
<path d="M31.5,383.6 L88.3,383.6" fill="none" stroke="#c4c4c4" stroke-width="0.55"/>
<path d="M31.5,390.1 L88.3,390.1" fill="none" stroke="#a8a8a8" stroke-width="0.55"/>
<path d="M31.5,396.6 L88.3,396.6" fill="none" stroke="#c4c4c4" stroke-width="0.55"/>
<path d="M31.5,403.0 L88.3,403.0" fill="none" stroke="#a8a8a8" stroke-width="0.55"/>
<path d="M31.5,409.5 L88.3,409.5" fill="none" stroke="#c4c4c4" stroke-width="0.55"/>
<path d="M31.5,416.0 L88.3,416.0" fill="none" stroke="#a8a8a8" stroke-width="0.55"/>
<path d="M31.5,422.5 L88.3,422.5" fill="none" stroke="#c4c4c4" stroke-width="0.55"/>
<path d="M31.5,428.9 L88.3,428.9" fill="none" stroke="#a8a8a8" stroke-width="0.55"/>
<path d="M31.5,435.4 L88.3,435.4" fill="none" stroke="#c4c4c4" stroke-width="0.55"/>
<path d="M31.5,441.9 L88.3,441.9" fill="none" stroke="#a8a8a8" stroke-width="0.55"/>
<path d="M31.5,448.4 L88.3,448.4" fill="none" stroke="#c4c4c4" stroke-width="0.55"/>
<path d="M31.5,454.8 L88.3,454.8" fill="none" stroke="#a8a8a8" stroke-width="0.55"/>
<path d="M31.5,461.3 L88.3,461.3" fill="none" stroke="#c4c4c4" stroke-width="0.55"/>
<path d="M31.5,467.8 L88.3,467.8" fill="none" stroke="#a8a8a8" stroke-width="0.55"/>
<path d="M31.5,474.3 L88.3,474.3" fill="none" stroke="#c4c4c4" stroke-width="0.55"/>
<path d="M31.5,480.8 L88.3,480.8" fill="none" stroke="#a8a8a8" stroke-width="0.55"/>
<path d="M31.5,487.2 L88.3,487.2" fill="none" stroke="#c4c4c4" stroke-width="0.55"/>
<path d="M31.5,493.7 L88.3,493.7" fill="none" stroke="#a8a8a8" stroke-width="0.55"/>
<path d="M31.5,500.2 L88.3,500.2" fill="none" stroke="#c4c4c4" stroke-width="0.55"/>
<path d="M31.5,506.6 L88.3,506.6" fill="none" stroke="#a8a8a8" stroke-width="0.55"/>
<path d="M31.5,513.1 L88.3,513.1" fill="none" stroke="#c4c4c4" stroke-width="0.55"/>
<path d="M31.5,519.6 L88.3,519.6" fill="none" stroke="#a8a8a8" stroke-width="0.55"/>
<path d="M31.5,526.1 L88.3,526.1" fill="none" stroke="#c4c4c4" stroke-width="0.55"/>
<path d="M92.4,312.4 L149.8,312.4" fill="none" stroke="#a8a8a8" stroke-width="0.55"/>
<path d="M92.4,318.9 L149.8,318.9" fill="none" stroke="#c4c4c4" stroke-width="0.55"/>
<path d="M92.4,325.3 L149.8,325.3" fill="none" stroke="#a8a8a8" stroke-width="0.55"/>
<path d="M92.4,331.8 L149.8,331.8" fill="none" stroke="#c4c4c4" stroke-width="0.55"/>
<path d="M92.4,338.3 L149.8,338.3" fill="none" stroke="#a8a8a8" stroke-width="0.55"/>
<path d="M92.4,344.8 L149.8,344.8" fill="none" stroke="#c4c4c4" stroke-width="0.55"/>
<path d="M92.4,351.2 L149.8,351.2" fill="none" stroke="#a8a8a8" stroke-width="0.55"/>
<path d="M92.4,357.7 L149.8,357.7" fill="none" stroke="#c4c4c4" stroke-width="0.55"/>
<path d="M92.4,364.2 L149.8,364.2" fill="none" stroke="#a8a8a8" stroke-width="0.55"/>
<path d="M92.4,370.7 L149.8,370.7" fill="none" stroke="#c4c4c4" stroke-width="0.55"/>
<path d="M92.4,377.1 L149.8,377.1" fill="none" stroke="#a8a8a8" stroke-width="0.55"/>
<path d="M92.4,383.6 L149.8,383.6" fill="none" stroke="#c4c4c4" stroke-width="0.55"/>
<path d="M92.4,390.1 L149.8,390.1" fill="none" stroke="#a8a8a8" stroke-width="0.55"/>
<path d="M92.4,396.6 L149.8,396.6" fill="none" stroke="#c4c4c4" stroke-width="0.55"/>
<path d="M92.4,403.0 L149.8,403.0" fill="none" stroke="#a8a8a8" stroke-width="0.55"/>
<path d="M92.4,409.5 L149.8,409.5" fill="none" stroke="#c4c4c4" stroke-width="0.55"/>
<path d="M92.4,416.0 L149.8,416.0" fill="none" stroke="#a8a8a8" stroke-width="0.55"/>
<path d="M92.4,422.5 L149.8,422.5" fill="none" stroke="#c4c4c4" stroke-width="0.55"/>
<path d="M92.4,428.9 L149.8,428.9" fill="none" stroke="#a8a8a8" stroke-width="0.55"/>
<path d="M92.4,435.4 L149.8,435.4" fill="none" stroke="#c4c4c4" stroke-width="0.55"/>
<path d="M92.4,441.9 L149.8,441.9" fill="none" stroke="#a8a8a8" stroke-width="0.55"/>
<path d="M92.4,448.4 L149.8,448.4" fill="none" stroke="#c4c4c4" stroke-width="0.55"/>
<path d="M92.4,454.8 L149.8,454.8" fill="none" stroke="#a8a8a8" stroke-width="0.55"/>
<path d="M92.4,461.3 L149.8,461.3" fill="none" stroke="#c4c4c4" stroke-width="0.55"/>
<path d="M92.4,467.8 L149.8,467.8" fill="none" stroke="#a8a8a8" stroke-width="0.55"/>
<path d="M92.4,474.3 L149.8,474.3" fill="none" stroke="#c4c4c4" stroke-width="0.55"/>
<path d="M92.4,480.8 L149.8,480.8" fill="none" stroke="#a8a8a8" stroke-width="0.55"/>
<path d="M92.4,487.2 L149.8,487.2" fill="none" stroke="#c4c4c4" stroke-width="0.55"/>
<path d="M92.4,493.7 L149.8,493.7" fill="none" stroke="#a8a8a8" stroke-width="0.55"/>
<path d="M92.4,500.2 L149.8,500.2" fill="none" stroke="#c4c4c4" stroke-width="0.55"/>
<path d="M92.4,506.6 L149.8,506.6" fill="none" stroke="#a8a8a8" stroke-width="0.55"/>
<path d="M92.4,513.1 L149.8,513.1" fill="none" stroke="#c4c4c4" stroke-width="0.55"/>
<path d="M92.4,519.6 L149.8,519.6" fill="none" stroke="#a8a8a8" stroke-width="0.55"/>
<path d="M92.4,526.1 L149.8,526.1" fill="none" stroke="#c4c4c4" stroke-width="0.55"/>
<path d="M155.4,312.4 L216.5,312.4" fill="none" stroke="#a8a8a8" stroke-width="0.55"/>
<path d="M155.4,318.9 L216.5,318.9" fill="none" stroke="#c4c4c4" stroke-width="0.55"/>
<path d="M155.4,325.3 L216.5,325.3" fill="none" stroke="#a8a8a8" stroke-width="0.55"/>
<path d="M155.4,331.8 L216.5,331.8" fill="none" stroke="#c4c4c4" stroke-width="0.55"/>
<path d="M155.4,338.3 L216.5,338.3" fill="none" stroke="#a8a8a8" stroke-width="0.55"/>
<path d="M155.4,344.8 L216.5,344.8" fill="none" stroke="#c4c4c4" stroke-width="0.55"/>
<path d="M155.4,351.2 L216.5,351.2" fill="none" stroke="#a8a8a8" stroke-width="0.55"/>
<path d="M155.4,357.7 L216.5,357.7" fill="none" stroke="#c4c4c4" stroke-width="0.55"/>
<path d="M155.4,364.2 L216.5,364.2" fill="none" stroke="#a8a8a8" stroke-width="0.55"/>
<path d="M155.4,370.7 L216.5,370.7" fill="none" stroke="#c4c4c4" stroke-width="0.55"/>
<path d="M155.4,377.1 L216.5,377.1" fill="none" stroke="#a8a8a8" stroke-width="0.55"/>
<path d="M155.4,383.6 L216.5,383.6" fill="none" stroke="#c4c4c4" stroke-width="0.55"/>
<path d="M155.4,390.1 L216.5,390.1" fill="none" stroke="#a8a8a8" stroke-width="0.55"/>
<path d="M155.4,396.6 L216.5,396.6" fill="none" stroke="#c4c4c4" stroke-width="0.55"/>
<path d="M155.4,403.0 L216.5,403.0" fill="none" stroke="#a8a8a8" stroke-width="0.55"/>
<path d="M155.4,409.5 L216.5,409.5" fill="none" stroke="#c4c4c4" stroke-width="0.55"/>
<path d="M155.4,416.0 L216.5,416.0" fill="none" stroke="#a8a8a8" stroke-width="0.55"/>
<path d="M155.4,422.5 L216.5,422.5" fill="none" stroke="#c4c4c4" stroke-width="0.55"/>
<path d="M155.4,428.9 L216.5,428.9" fill="none" stroke="#a8a8a8" stroke-width="0.55"/>
<path d="M155.4,435.4 L216.5,435.4" fill="none" stroke="#c4c4c4" stroke-width="0.55"/>
<path d="M155.4,441.9 L216.5,441.9" fill="none" stroke="#a8a8a8" stroke-width="0.55"/>
<path d="M155.4,448.4 L216.5,448.4" fill="none" stroke="#c4c4c4" stroke-width="0.55"/>
<path d="M155.4,454.8 L216.5,454.8" fill="none" stroke="#a8a8a8" stroke-width="0.55"/>
<path d="M155.4,461.3 L216.5,461.3" fill="none" stroke="#c4c4c4" stroke-width="0.55"/>
<path d="M155.4,467.8 L216.5,467.8" fill="none" stroke="#a8a8a8" stroke-width="0.55"/>
<path d="M155.4,474.3 L216.5,474.3" fill="none" stroke="#c4c4c4" stroke-width="0.55"/>
<path d="M155.4,480.8 L216.5,480.8" fill="none" stroke="#a8a8a8" stroke-width="0.55"/>
<path d="M155.4,487.2 L216.5,487.2" fill="none" stroke="#c4c4c4" stroke-width="0.55"/>
<path d="M155.4,493.7 L216.5,493.7" fill="none" stroke="#a8a8a8" stroke-width="0.55"/>
<path d="M155.4,500.2 L216.5,500.2" fill="none" stroke="#c4c4c4" stroke-width="0.55"/>
<path d="M155.4,506.6 L216.5,506.6" fill="none" stroke="#a8a8a8" stroke-width="0.55"/>
<path d="M155.4,513.1 L216.5,513.1" fill="none" stroke="#c4c4c4" stroke-width="0.55"/>
<path d="M155.4,519.6 L216.5,519.6" fill="none" stroke="#a8a8a8" stroke-width="0.55"/>
<path d="M155.4,526.1 L216.5,526.1" fill="none" stroke="#c4c4c4" stroke-width="0.55"/>
<rect x="3.90" y="309.25" width="27.10" height="5.30" rx="2.6499999999999773" fill="#0a24f5" stroke="none" stroke-width="1"/>
<text x="17.45" y="312.00" font-size="4.24" font-weight="normal" text-anchor="middle" fill="#fff" dominant-baseline="central">CODZ</text>
<rect x="3.90" y="315.73" width="27.10" height="5.30" rx="2.6499999999999773" fill="#0a24f5" stroke="none" stroke-width="1"/>
<text x="17.45" y="318.48" font-size="4.24" font-weight="normal" text-anchor="middle" fill="#fff" dominant-baseline="central">LEUTA</text>
<rect x="3.90" y="322.20" width="27.10" height="5.30" rx="2.6499999999999773" fill="#0a24f5" stroke="none" stroke-width="1"/>
<text x="17.45" y="324.95" font-size="4.24" font-weight="normal" text-anchor="middle" fill="#fff" dominant-baseline="central">ILETA</text>
<rect x="3.90" y="328.68" width="27.10" height="5.30" rx="2.6499999999999773" fill="#0a24f5" stroke="none" stroke-width="1"/>
<text x="17.45" y="331.43" font-size="4.24" font-weight="normal" text-anchor="middle" fill="#fff" dominant-baseline="central">VALTA</text>
<rect x="3.90" y="335.15" width="27.10" height="5.30" rx="2.6499999999999773" fill="#0a24f5" stroke="none" stroke-width="1"/>
<text x="17.45" y="337.90" font-size="4.24" font-weight="normal" text-anchor="middle" fill="#fff" dominant-baseline="central">VALGly</text>
<rect x="3.90" y="341.62" width="27.10" height="5.30" rx="2.6499999999999773" fill="#c80aee" stroke="none" stroke-width="1"/>
<text x="17.45" y="344.38" font-size="4.24" font-weight="normal" text-anchor="middle" fill="#fff" dominant-baseline="central">GLUt</text>
<rect x="3.90" y="348.10" width="27.10" height="5.30" rx="2.6499999999999773" fill="#0a24f5" stroke="none" stroke-width="1"/>
<text x="17.45" y="350.85" font-size="4.24" font-weight="normal" text-anchor="middle" fill="#fff" dominant-baseline="central">GLCabc</text>
<rect x="3.90" y="354.57" width="27.10" height="5.30" rx="2.6499999999999773" fill="#c80aee" stroke="none" stroke-width="1"/>
<text x="17.45" y="357.32" font-size="4.24" font-weight="normal" text-anchor="middle" fill="#fff" dominant-baseline="central">ENO</text>
<rect x="3.90" y="361.05" width="27.10" height="5.30" rx="2.6499999999999773" fill="#0a24f5" stroke="none" stroke-width="1"/>
<text x="17.45" y="363.80" font-size="4.24" font-weight="normal" text-anchor="middle" fill="#fff" dominant-baseline="central">ATPS4</text>
<rect x="3.90" y="367.52" width="27.10" height="5.30" rx="2.6499999999999773" fill="#6c6cd4" stroke="none" stroke-width="1"/>
<text x="17.45" y="370.27" font-size="4.24" font-weight="normal" text-anchor="middle" fill="#fff" dominant-baseline="central">HydABC</text>
<rect x="3.90" y="374.00" width="27.10" height="5.30" rx="2.6499999999999773" fill="#6c6cd4" stroke="none" stroke-width="1"/>
<text x="17.45" y="376.75" font-size="4.24" font-weight="normal" text-anchor="middle" fill="#fff" dominant-baseline="central">MTHFC</text>
<rect x="3.90" y="380.48" width="27.10" height="5.30" rx="2.6499999999999773" fill="#6c6cd4" stroke="none" stroke-width="1"/>
<text x="17.45" y="383.23" font-size="4.24" font-weight="normal" text-anchor="middle" fill="#fff" dominant-baseline="central">MTHFD</text>
<rect x="3.90" y="386.95" width="27.10" height="5.30" rx="2.6499999999999773" fill="#6c6cd4" stroke="none" stroke-width="1"/>
<text x="17.45" y="389.70" font-size="4.24" font-weight="normal" text-anchor="middle" fill="#fff" dominant-baseline="central">FBA</text>
<rect x="3.90" y="393.43" width="27.10" height="5.30" rx="2.6499999999999773" fill="#6c6cd4" stroke="none" stroke-width="1"/>
<text x="17.45" y="396.18" font-size="4.24" font-weight="normal" text-anchor="middle" fill="#fff" dominant-baseline="central">CODH</text>
<rect x="3.90" y="399.90" width="27.10" height="5.30" rx="2.6499999999999773" fill="#6c6cd4" stroke="none" stroke-width="1"/>
<text x="17.45" y="402.65" font-size="4.24" font-weight="normal" text-anchor="middle" fill="#fff" dominant-baseline="central">TPI</text>
<rect x="3.90" y="406.38" width="27.10" height="5.30" rx="2.6499999999999773" fill="#6c6cd4" stroke="none" stroke-width="1"/>
<text x="17.45" y="409.12" font-size="4.24" font-weight="normal" text-anchor="middle" fill="#fff" dominant-baseline="central">PGM</text>
<rect x="3.90" y="412.85" width="27.10" height="5.30" rx="2.6499999999999773" fill="#6c6cd4" stroke="none" stroke-width="1"/>
<text x="17.45" y="415.60" font-size="4.24" font-weight="normal" text-anchor="middle" fill="#fff" dominant-baseline="central">FDHfdx</text>
<rect x="3.90" y="419.32" width="27.10" height="5.30" rx="2.6499999999999773" fill="#6c6cd4" stroke="none" stroke-width="1"/>
<text x="17.45" y="422.07" font-size="4.24" font-weight="normal" text-anchor="middle" fill="#fff" dominant-baseline="central">RNF</text>
<rect x="3.90" y="425.80" width="27.10" height="5.30" rx="2.6499999999999773" fill="#6c6cd4" stroke="none" stroke-width="1"/>
<text x="17.45" y="428.55" font-size="4.24" font-weight="normal" text-anchor="middle" fill="#fff" dominant-baseline="central">PTAr</text>
<rect x="3.90" y="432.27" width="27.10" height="5.30" rx="2.6499999999999773" fill="#6c6cd4" stroke="none" stroke-width="1"/>
<text x="17.45" y="435.02" font-size="4.24" font-weight="normal" text-anchor="middle" fill="#fff" dominant-baseline="central">ACKr</text>
<rect x="3.90" y="438.75" width="27.10" height="5.30" rx="2.6499999999999773" fill="#6c6cd4" stroke="none" stroke-width="1"/>
<text x="17.45" y="441.50" font-size="4.24" font-weight="normal" text-anchor="middle" fill="#fff" dominant-baseline="central">r0792</text>
<rect x="3.90" y="445.23" width="27.10" height="5.30" rx="2.6499999999999773" fill="#6c6cd4" stroke="none" stroke-width="1"/>
<text x="17.45" y="447.98" font-size="4.24" font-weight="normal" text-anchor="middle" fill="#fff" dominant-baseline="central">LDH</text>
<rect x="3.90" y="451.70" width="27.10" height="5.30" rx="2.6499999999999773" fill="#6c6cd4" stroke="none" stroke-width="1"/>
<text x="17.45" y="454.45" font-size="4.24" font-weight="normal" text-anchor="middle" fill="#fff" dominant-baseline="central">PYK</text>
<rect x="3.90" y="458.17" width="27.10" height="5.30" rx="2.6499999999999773" fill="#6c6cd4" stroke="none" stroke-width="1"/>
<text x="17.45" y="460.92" font-size="4.24" font-weight="normal" text-anchor="middle" fill="#fff" dominant-baseline="central">PGK</text>
<rect x="3.90" y="464.65" width="27.10" height="5.30" rx="2.6499999999999773" fill="#6c6cd4" stroke="none" stroke-width="1"/>
<text x="17.45" y="467.40" font-size="4.24" font-weight="normal" text-anchor="middle" fill="#fff" dominant-baseline="central">GAPD</text>
<rect x="3.90" y="471.12" width="27.10" height="5.30" rx="2.6499999999999773" fill="#6c6cd4" stroke="none" stroke-width="1"/>
<text x="17.45" y="473.88" font-size="4.24" font-weight="normal" text-anchor="middle" fill="#fff" dominant-baseline="central">FTHFL</text>
<rect x="3.90" y="477.60" width="27.10" height="5.30" rx="2.6499999999999773" fill="#6c6cd4" stroke="none" stroke-width="1"/>
<text x="17.45" y="480.35" font-size="4.24" font-weight="normal" text-anchor="middle" fill="#fff" dominant-baseline="central">PFK</text>
<rect x="3.90" y="484.07" width="27.10" height="5.30" rx="2.6499999999999773" fill="#6c6cd4" stroke="none" stroke-width="1"/>
<text x="17.45" y="486.82" font-size="4.24" font-weight="normal" text-anchor="middle" fill="#fff" dominant-baseline="central">PGI</text>
<rect x="3.90" y="490.55" width="27.10" height="5.30" rx="2.6499999999999773" fill="#6c6cd4" stroke="none" stroke-width="1"/>
<text x="17.45" y="493.30" font-size="4.24" font-weight="normal" text-anchor="middle" fill="#fff" dominant-baseline="central">HEX1</text>
<rect x="3.90" y="497.02" width="27.10" height="5.30" rx="2.6499999999999773" fill="#6c6cd4" stroke="none" stroke-width="1"/>
<text x="17.45" y="499.77" font-size="4.24" font-weight="normal" text-anchor="middle" fill="#fff" dominant-baseline="central">METR</text>
<rect x="3.90" y="503.50" width="27.10" height="5.30" rx="2.6499999999999773" fill="#3d9e40" stroke="none" stroke-width="1"/>
<text x="17.45" y="506.25" font-size="4.24" font-weight="normal" text-anchor="middle" fill="#fff" dominant-baseline="central">TREH6PH</text>
<rect x="3.90" y="509.98" width="27.10" height="5.30" rx="2.6499999999999773" fill="#3d9e40" stroke="none" stroke-width="1"/>
<text x="17.45" y="512.73" font-size="4.24" font-weight="normal" text-anchor="middle" fill="#fff" dominant-baseline="central">TREpts</text>
<rect x="3.90" y="516.45" width="27.10" height="5.30" rx="2.6499999999999773" fill="#3d9e40" stroke="none" stroke-width="1"/>
<text x="17.45" y="519.20" font-size="4.24" font-weight="normal" text-anchor="middle" fill="#fff" dominant-baseline="central">FDH</text>
<rect x="3.90" y="522.92" width="27.10" height="5.30" rx="2.6499999999999773" fill="#3d9e40" stroke="none" stroke-width="1"/>
<text x="17.45" y="525.67" font-size="4.24" font-weight="normal" text-anchor="middle" fill="#fff" dominant-baseline="central">PCR4</text>
<rect x="58.40" y="309.80" width="23.80" height="5.20" rx="0" fill="#0a24f5" stroke="#333" stroke-width="0.35"/>
<rect x="58.40" y="316.27" width="22.40" height="5.20" rx="0" fill="#0a24f5" stroke="#333" stroke-width="0.35"/>
<rect x="58.40" y="322.75" width="22.40" height="5.20" rx="0" fill="#0a24f5" stroke="#333" stroke-width="0.35"/>
<rect x="58.40" y="329.22" width="22.40" height="5.20" rx="0" fill="#0a24f5" stroke="#333" stroke-width="0.35"/>
<rect x="58.40" y="335.70" width="21.60" height="5.20" rx="0" fill="#0a24f5" stroke="#333" stroke-width="0.35"/>
<rect x="58.40" y="342.17" width="14.60" height="5.20" rx="0" fill="#0a24f5" stroke="#333" stroke-width="0.35"/>
<rect x="58.40" y="348.65" width="6.80" height="5.20" rx="0" fill="#0a24f5" stroke="#333" stroke-width="0.35"/>
<rect x="58.40" y="355.12" width="6.30" height="5.20" rx="0" fill="#0a24f5" stroke="#333" stroke-width="0.35"/>
<rect x="58.40" y="361.60" width="5.40" height="5.20" rx="0" fill="#0a24f5" stroke="#333" stroke-width="0.35"/>
<rect x="58.40" y="368.07" width="4.90" height="5.20" rx="0" fill="#0a24f5" stroke="#333" stroke-width="0.35"/>
<rect x="58.40" y="374.55" width="4.30" height="5.20" rx="0" fill="#0a24f5" stroke="#333" stroke-width="0.35"/>
<rect x="58.40" y="381.02" width="4.30" height="5.20" rx="0" fill="#0a24f5" stroke="#333" stroke-width="0.35"/>
<rect x="58.40" y="387.50" width="4.10" height="5.20" rx="0" fill="#0a24f5" stroke="#333" stroke-width="0.35"/>
<rect x="58.40" y="393.97" width="4.10" height="5.20" rx="0" fill="#6c6cd4" stroke="#333" stroke-width="0.35"/>
<rect x="58.40" y="400.45" width="2.90" height="5.20" rx="0" fill="#6c6cd4" stroke="#333" stroke-width="0.35"/>
<rect x="58.40" y="406.92" width="2.90" height="5.20" rx="0" fill="#6c6cd4" stroke="#333" stroke-width="0.35"/>
<rect x="58.40" y="413.40" width="2.90" height="5.20" rx="0" fill="#6c6cd4" stroke="#333" stroke-width="0.35"/>
<rect x="58.40" y="419.87" width="2.20" height="5.20" rx="0" fill="#6c6cd4" stroke="#333" stroke-width="0.35"/>
<rect x="58.40" y="426.35" width="1.90" height="5.20" rx="0" fill="#6c6cd4" stroke="#333" stroke-width="0.35"/>
<rect x="58.40" y="432.82" width="1.60" height="5.20" rx="0" fill="#6c6cd4" stroke="#333" stroke-width="0.35"/>
<rect x="58.40" y="439.30" width="1.40" height="5.20" rx="0" fill="#6c6cd4" stroke="#333" stroke-width="0.35"/>
<rect x="58.40" y="445.77" width="1.40" height="5.20" rx="0" fill="#6c6cd4" stroke="#333" stroke-width="0.35"/>
<rect x="58.10" y="452.25" width="0.60" height="5.20" rx="0" fill="#6c6cd4" stroke="#333" stroke-width="0.35"/>
<rect x="56.40" y="497.57" width="2.00" height="5.20" rx="0" fill="#6c6cd4" stroke="#333" stroke-width="0.35"/>
<rect x="52.00" y="504.05" width="6.40" height="5.20" rx="0" fill="#3d9e40" stroke="#333" stroke-width="0.35"/>
<rect x="51.00" y="510.52" width="7.40" height="5.20" rx="0" fill="#3d9e40" stroke="#333" stroke-width="0.35"/>
<rect x="50.40" y="517.00" width="8.00" height="5.20" rx="0" fill="#3d9e40" stroke="#333" stroke-width="0.35"/>
<rect x="49.40" y="523.47" width="9.00" height="5.20" rx="0" fill="#3d9e40" stroke="#333" stroke-width="0.35"/>
<rect x="121.00" y="309.80" width="19.10" height="5.20" rx="0" fill="#c80aee" stroke="#333" stroke-width="0.35"/>
<rect x="121.00" y="316.27" width="14.40" height="5.20" rx="0" fill="#c80aee" stroke="#333" stroke-width="0.35"/>
<rect x="121.00" y="322.75" width="14.40" height="5.20" rx="0" fill="#c80aee" stroke="#333" stroke-width="0.35"/>
<rect x="121.00" y="329.22" width="14.60" height="5.20" rx="0" fill="#c80aee" stroke="#333" stroke-width="0.35"/>
<rect x="121.00" y="335.70" width="12.50" height="5.20" rx="0" fill="#c80aee" stroke="#333" stroke-width="0.35"/>
<rect x="121.00" y="342.17" width="13.90" height="5.20" rx="0" fill="#c80aee" stroke="#333" stroke-width="0.35"/>
<rect x="117.40" y="348.65" width="3.60" height="5.20" rx="0" fill="#6c6cd4" stroke="#333" stroke-width="0.35"/>
<rect x="121.00" y="355.12" width="8.30" height="5.20" rx="0" fill="#c80aee" stroke="#333" stroke-width="0.35"/>
<rect x="121.00" y="361.60" width="6.60" height="5.20" rx="0" fill="#6c6cd4" stroke="#333" stroke-width="0.35"/>
<rect x="121.00" y="368.07" width="3.30" height="5.20" rx="0" fill="#6c6cd4" stroke="#333" stroke-width="0.35"/>
<rect x="121.00" y="387.50" width="5.50" height="5.20" rx="0" fill="#6c6cd4" stroke="#333" stroke-width="0.35"/>
<rect x="119.30" y="393.97" width="1.70" height="5.20" rx="0" fill="#6c6cd4" stroke="#333" stroke-width="0.35"/>
<rect x="121.00" y="400.45" width="9.70" height="5.20" rx="0" fill="#c80aee" stroke="#333" stroke-width="0.35"/>
<rect x="118.20" y="419.87" width="2.80" height="5.20" rx="0" fill="#6c6cd4" stroke="#333" stroke-width="0.35"/>
<rect x="119.20" y="452.25" width="1.80" height="5.20" rx="0" fill="#6c6cd4" stroke="#333" stroke-width="0.35"/>
<rect x="118.20" y="471.67" width="2.80" height="5.20" rx="0" fill="#6c6cd4" stroke="#333" stroke-width="0.35"/>
<rect x="121.00" y="478.15" width="5.60" height="5.20" rx="0" fill="#6c6cd4" stroke="#333" stroke-width="0.35"/>
<rect x="121.00" y="484.62" width="2.20" height="5.20" rx="0" fill="#6c6cd4" stroke="#333" stroke-width="0.35"/>
<rect x="115.20" y="497.57" width="5.80" height="5.20" rx="0" fill="#3d9e40" stroke="#333" stroke-width="0.35"/>
<rect x="121.00" y="510.52" width="18.40" height="5.20" rx="0" fill="#c80aee" stroke="#333" stroke-width="0.35"/>
<rect x="121.00" y="523.47" width="6.60" height="5.20" rx="0" fill="#6c6cd4" stroke="#333" stroke-width="0.35"/>
<rect x="180.60" y="309.80" width="7.50" height="5.20" rx="0" fill="#0a24f5" stroke="#333" stroke-width="0.35"/>
<rect x="180.60" y="316.27" width="7.50" height="5.20" rx="0" fill="#0a24f5" stroke="#333" stroke-width="0.35"/>
<rect x="180.60" y="322.75" width="7.50" height="5.20" rx="0" fill="#0a24f5" stroke="#333" stroke-width="0.35"/>
<rect x="180.60" y="329.22" width="7.50" height="5.20" rx="0" fill="#0a24f5" stroke="#333" stroke-width="0.35"/>
<rect x="179.00" y="335.70" width="9.10" height="5.20" rx="0" fill="#0a24f5" stroke="#333" stroke-width="0.35"/>
<rect x="188.10" y="342.17" width="8.30" height="5.20" rx="0" fill="#c80aee" stroke="#333" stroke-width="0.35"/>
<rect x="183.40" y="348.65" width="4.70" height="5.20" rx="0" fill="#6c6cd4" stroke="#333" stroke-width="0.35"/>
<rect x="188.10" y="355.12" width="8.30" height="5.20" rx="0" fill="#c80aee" stroke="#333" stroke-width="0.35"/>
<rect x="182.00" y="361.60" width="6.10" height="5.20" rx="0" fill="#0a24f5" stroke="#333" stroke-width="0.35"/>
<rect x="186.20" y="368.07" width="1.90" height="5.20" rx="0" fill="#6c6cd4" stroke="#333" stroke-width="0.35"/>
<rect x="184.00" y="374.55" width="4.10" height="5.20" rx="0" fill="#6c6cd4" stroke="#333" stroke-width="0.35"/>
<rect x="184.00" y="381.02" width="4.10" height="5.20" rx="0" fill="#6c6cd4" stroke="#333" stroke-width="0.35"/>
<rect x="184.50" y="387.50" width="3.60" height="5.20" rx="0" fill="#6c6cd4" stroke="#333" stroke-width="0.35"/>
<rect x="184.00" y="393.97" width="4.10" height="5.20" rx="0" fill="#6c6cd4" stroke="#333" stroke-width="0.35"/>
<rect x="188.10" y="400.45" width="6.40" height="5.20" rx="0" fill="#6c6cd4" stroke="#333" stroke-width="0.35"/>
<rect x="184.50" y="413.40" width="3.60" height="5.20" rx="0" fill="#6c6cd4" stroke="#333" stroke-width="0.35"/>
<rect x="183.00" y="419.87" width="5.10" height="5.20" rx="0" fill="#6c6cd4" stroke="#333" stroke-width="0.35"/>
<rect x="186.40" y="426.35" width="1.70" height="5.20" rx="0" fill="#6c6cd4" stroke="#333" stroke-width="0.35"/>
<rect x="185.40" y="432.82" width="2.70" height="5.20" rx="0" fill="#6c6cd4" stroke="#333" stroke-width="0.35"/>
<rect x="185.40" y="439.30" width="2.70" height="5.20" rx="0" fill="#6c6cd4" stroke="#333" stroke-width="0.35"/>
<rect x="186.40" y="445.77" width="1.70" height="5.20" rx="0" fill="#6c6cd4" stroke="#333" stroke-width="0.35"/>
<rect x="186.70" y="452.25" width="1.40" height="5.20" rx="0" fill="#6c6cd4" stroke="#333" stroke-width="0.35"/>
<rect x="184.70" y="471.67" width="3.40" height="5.20" rx="0" fill="#6c6cd4" stroke="#333" stroke-width="0.35"/>
<rect x="188.10" y="478.15" width="4.30" height="5.20" rx="0" fill="#6c6cd4" stroke="#333" stroke-width="0.35"/>
<rect x="184.70" y="497.57" width="3.40" height="5.20" rx="0" fill="#6c6cd4" stroke="#333" stroke-width="0.35"/>
<rect x="188.10" y="504.05" width="7.00" height="5.20" rx="0" fill="#c80aee" stroke="#333" stroke-width="0.35"/>
<rect x="188.10" y="510.52" width="11.40" height="5.20" rx="0" fill="#c80aee" stroke="#333" stroke-width="0.35"/>
<rect x="188.10" y="517.00" width="9.00" height="5.20" rx="0" fill="#c80aee" stroke="#333" stroke-width="0.35"/>
<rect x="188.10" y="523.47" width="7.70" height="5.20" rx="0" fill="#c80aee" stroke="#333" stroke-width="0.35"/>
<path d="M58.4,308.7 L58.4,529.3" fill="none" stroke="#444" stroke-width="0.45"/>
<path d="M121.0,308.7 L121.0,529.3" fill="none" stroke="#444" stroke-width="0.45"/>
<path d="M188.1,308.7 L188.1,529.3" fill="none" stroke="#444" stroke-width="0.45"/>
<text x="57.00" y="305.40" font-size="7.6" font-weight="bold" text-anchor="end" fill="#111" dominant-baseline="central" stroke="#111" stroke-width="0.12">14h</text>
<text x="60.20" y="305.40" font-size="7.6" font-weight="bold" text-anchor="start" fill="#111" dominant-baseline="central" stroke="#111" stroke-width="0.12">32h</text>
<path d="M58.4,306.9 L58.4,308.9" fill="none" stroke="#444" stroke-width="0.4"/>
<text x="119.60" y="305.40" font-size="7.6" font-weight="bold" text-anchor="end" fill="#111" dominant-baseline="central" stroke="#111" stroke-width="0.12">14h</text>
<text x="122.80" y="305.40" font-size="7.6" font-weight="bold" text-anchor="start" fill="#111" dominant-baseline="central" stroke="#111" stroke-width="0.12">72h</text>
<path d="M121.0,306.9 L121.0,308.9" fill="none" stroke="#444" stroke-width="0.4"/>
<text x="186.70" y="305.40" font-size="7.6" font-weight="bold" text-anchor="end" fill="#111" dominant-baseline="central" stroke="#111" stroke-width="0.12">32h</text>
<text x="189.90" y="305.40" font-size="7.6" font-weight="bold" text-anchor="start" fill="#111" dominant-baseline="central" stroke="#111" stroke-width="0.12">72h</text>
<path d="M188.1,306.9 L188.1,308.9" fill="none" stroke="#444" stroke-width="0.4"/>
<text x="38.70" y="534.00" font-size="7.1" font-weight="normal" text-anchor="middle" fill="#222" dominant-baseline="central" stroke="#222" stroke-width="0.12">–10</text>
<text x="58.40" y="534.00" font-size="7.1" font-weight="normal" text-anchor="middle" fill="#222" dominant-baseline="central" stroke="#222" stroke-width="0.12">0</text>
<text x="77.20" y="534.00" font-size="7.1" font-weight="normal" text-anchor="middle" fill="#222" dominant-baseline="central" stroke="#222" stroke-width="0.12">10</text>
<text x="101.25" y="534.00" font-size="7.1" font-weight="normal" text-anchor="middle" fill="#222" dominant-baseline="central" stroke="#222" stroke-width="0.12">–10</text>
<text x="121.00" y="534.00" font-size="7.1" font-weight="normal" text-anchor="middle" fill="#222" dominant-baseline="central" stroke="#222" stroke-width="0.12">0</text>
<text x="139.85" y="534.00" font-size="7.1" font-weight="normal" text-anchor="middle" fill="#222" dominant-baseline="central" stroke="#222" stroke-width="0.12">10</text>
<text x="168.40" y="534.00" font-size="7.1" font-weight="normal" text-anchor="middle" fill="#222" dominant-baseline="central" stroke="#222" stroke-width="0.12">–10</text>
<text x="188.10" y="534.00" font-size="7.1" font-weight="normal" text-anchor="middle" fill="#222" dominant-baseline="central" stroke="#222" stroke-width="0.12">0</text>
<text x="206.90" y="534.00" font-size="7.1" font-weight="normal" text-anchor="middle" fill="#222" dominant-baseline="central" stroke="#222" stroke-width="0.12">10</text>
<text x="123.00" y="543.60" font-size="7.4" font-weight="bold" text-anchor="middle" fill="#111" dominant-baseline="central" stroke="#111" stroke-width="0.12">gene expression fold change</text>
<rect x="4.40" y="270.00" width="213.90" height="26.90" rx="0" fill="none" stroke="#111" stroke-width="1.25" stroke-dasharray="3.3,2.0"/>
<text x="5.20" y="277.80" font-size="5.95" font-weight="bold" text-anchor="start" fill="#111" dominant-baseline="central" stroke="#111" stroke-width="0.12">significance hypothesis:</text>
<text x="30.90" y="288.50" font-size="5.9" font-weight="bold" text-anchor="start" fill="#111" dominant-baseline="central" stroke="#111" stroke-width="0.12"><tspan font-style="italic">p</tspan>=0.01</text>
<circle cx="79.60" cy="279.10" r="3.7" fill="#3d9e40"/>
<text x="85.90" y="279.30" font-size="5.4" font-weight="normal" text-anchor="start" fill="#222" dominant-baseline="central" stroke="#222" stroke-width="0.12">max expression at. 14h</text>
<circle cx="152.80" cy="279.10" r="3.7" fill="#c80aee"/>
<text x="157.80" y="279.30" font-size="5.4" font-weight="normal" text-anchor="start" fill="#222" dominant-baseline="central" stroke="#222" stroke-width="0.12">max expression at 72h</text>
<circle cx="79.60" cy="291.20" r="3.7" fill="#0a24f5"/>
<text x="85.90" y="291.00" font-size="5.4" font-weight="normal" text-anchor="start" fill="#222" dominant-baseline="central" stroke="#222" stroke-width="0.12">max expression at. 32h</text>
<circle cx="152.80" cy="291.20" r="3.7" fill="#6c6cd4"/>
<text x="157.80" y="291.00" font-size="5.4" font-weight="normal" text-anchor="start" fill="#222" dominant-baseline="central" stroke="#222" stroke-width="0.12">non-significant</text>
<path d="M272.0,313.4 L329.0,313.4" fill="none" stroke="#a8a8a8" stroke-width="0.55"/>
<path d="M272.0,322.3 L329.0,322.3" fill="none" stroke="#c4c4c4" stroke-width="0.55"/>
<path d="M272.0,331.2 L329.0,331.2" fill="none" stroke="#a8a8a8" stroke-width="0.55"/>
<path d="M272.0,340.1 L329.0,340.1" fill="none" stroke="#c4c4c4" stroke-width="0.55"/>
<path d="M272.0,348.9 L329.0,348.9" fill="none" stroke="#a8a8a8" stroke-width="0.55"/>
<path d="M272.0,357.8 L329.0,357.8" fill="none" stroke="#c4c4c4" stroke-width="0.55"/>
<path d="M272.0,366.7 L329.0,366.7" fill="none" stroke="#a8a8a8" stroke-width="0.55"/>
<path d="M272.0,375.6 L329.0,375.6" fill="none" stroke="#c4c4c4" stroke-width="0.55"/>
<path d="M272.0,384.5 L329.0,384.5" fill="none" stroke="#a8a8a8" stroke-width="0.55"/>
<path d="M272.0,393.4 L329.0,393.4" fill="none" stroke="#c4c4c4" stroke-width="0.55"/>
<path d="M272.0,402.3 L329.0,402.3" fill="none" stroke="#a8a8a8" stroke-width="0.55"/>
<path d="M272.0,411.1 L329.0,411.1" fill="none" stroke="#c4c4c4" stroke-width="0.55"/>
<path d="M272.0,420.0 L329.0,420.0" fill="none" stroke="#a8a8a8" stroke-width="0.55"/>
<path d="M272.0,428.9 L329.0,428.9" fill="none" stroke="#c4c4c4" stroke-width="0.55"/>
<path d="M272.0,437.8 L329.0,437.8" fill="none" stroke="#a8a8a8" stroke-width="0.55"/>
<path d="M272.0,446.7 L329.0,446.7" fill="none" stroke="#c4c4c4" stroke-width="0.55"/>
<path d="M272.0,455.6 L329.0,455.6" fill="none" stroke="#a8a8a8" stroke-width="0.55"/>
<path d="M272.0,464.5 L329.0,464.5" fill="none" stroke="#c4c4c4" stroke-width="0.55"/>
<path d="M272.0,473.3 L329.0,473.3" fill="none" stroke="#a8a8a8" stroke-width="0.55"/>
<path d="M272.0,482.2 L329.0,482.2" fill="none" stroke="#c4c4c4" stroke-width="0.55"/>
<path d="M272.0,491.1 L329.0,491.1" fill="none" stroke="#a8a8a8" stroke-width="0.55"/>
<path d="M272.0,500.0 L329.0,500.0" fill="none" stroke="#c4c4c4" stroke-width="0.55"/>
<path d="M272.0,508.9 L329.0,508.9" fill="none" stroke="#a8a8a8" stroke-width="0.55"/>
<path d="M272.0,517.8 L329.0,517.8" fill="none" stroke="#c4c4c4" stroke-width="0.55"/>
<path d="M334.0,313.4 L387.4,313.4" fill="none" stroke="#a8a8a8" stroke-width="0.55"/>
<path d="M334.0,322.3 L387.4,322.3" fill="none" stroke="#c4c4c4" stroke-width="0.55"/>
<path d="M334.0,331.2 L387.4,331.2" fill="none" stroke="#a8a8a8" stroke-width="0.55"/>
<path d="M334.0,340.1 L387.4,340.1" fill="none" stroke="#c4c4c4" stroke-width="0.55"/>
<path d="M334.0,348.9 L387.4,348.9" fill="none" stroke="#a8a8a8" stroke-width="0.55"/>
<path d="M334.0,357.8 L387.4,357.8" fill="none" stroke="#c4c4c4" stroke-width="0.55"/>
<path d="M334.0,366.7 L387.4,366.7" fill="none" stroke="#a8a8a8" stroke-width="0.55"/>
<path d="M334.0,375.6 L387.4,375.6" fill="none" stroke="#c4c4c4" stroke-width="0.55"/>
<path d="M334.0,384.5 L387.4,384.5" fill="none" stroke="#a8a8a8" stroke-width="0.55"/>
<path d="M334.0,393.4 L387.4,393.4" fill="none" stroke="#c4c4c4" stroke-width="0.55"/>
<path d="M334.0,402.3 L387.4,402.3" fill="none" stroke="#a8a8a8" stroke-width="0.55"/>
<path d="M334.0,411.1 L387.4,411.1" fill="none" stroke="#c4c4c4" stroke-width="0.55"/>
<path d="M334.0,420.0 L387.4,420.0" fill="none" stroke="#a8a8a8" stroke-width="0.55"/>
<path d="M334.0,428.9 L387.4,428.9" fill="none" stroke="#c4c4c4" stroke-width="0.55"/>
<path d="M334.0,437.8 L387.4,437.8" fill="none" stroke="#a8a8a8" stroke-width="0.55"/>
<path d="M334.0,446.7 L387.4,446.7" fill="none" stroke="#c4c4c4" stroke-width="0.55"/>
<path d="M334.0,455.6 L387.4,455.6" fill="none" stroke="#a8a8a8" stroke-width="0.55"/>
<path d="M334.0,464.5 L387.4,464.5" fill="none" stroke="#c4c4c4" stroke-width="0.55"/>
<path d="M334.0,473.3 L387.4,473.3" fill="none" stroke="#a8a8a8" stroke-width="0.55"/>
<path d="M334.0,482.2 L387.4,482.2" fill="none" stroke="#c4c4c4" stroke-width="0.55"/>
<path d="M334.0,491.1 L387.4,491.1" fill="none" stroke="#a8a8a8" stroke-width="0.55"/>
<path d="M334.0,500.0 L387.4,500.0" fill="none" stroke="#c4c4c4" stroke-width="0.55"/>
<path d="M334.0,508.9 L387.4,508.9" fill="none" stroke="#a8a8a8" stroke-width="0.55"/>
<path d="M334.0,517.8 L387.4,517.8" fill="none" stroke="#c4c4c4" stroke-width="0.55"/>
<path d="M392.4,313.4 L440.0,313.4" fill="none" stroke="#a8a8a8" stroke-width="0.55"/>
<path d="M392.4,322.3 L440.0,322.3" fill="none" stroke="#c4c4c4" stroke-width="0.55"/>
<path d="M392.4,331.2 L440.0,331.2" fill="none" stroke="#a8a8a8" stroke-width="0.55"/>
<path d="M392.4,340.1 L440.0,340.1" fill="none" stroke="#c4c4c4" stroke-width="0.55"/>
<path d="M392.4,348.9 L440.0,348.9" fill="none" stroke="#a8a8a8" stroke-width="0.55"/>
<path d="M392.4,357.8 L440.0,357.8" fill="none" stroke="#c4c4c4" stroke-width="0.55"/>
<path d="M392.4,366.7 L440.0,366.7" fill="none" stroke="#a8a8a8" stroke-width="0.55"/>
<path d="M392.4,375.6 L440.0,375.6" fill="none" stroke="#c4c4c4" stroke-width="0.55"/>
<path d="M392.4,384.5 L440.0,384.5" fill="none" stroke="#a8a8a8" stroke-width="0.55"/>
<path d="M392.4,393.4 L440.0,393.4" fill="none" stroke="#c4c4c4" stroke-width="0.55"/>
<path d="M392.4,402.3 L440.0,402.3" fill="none" stroke="#a8a8a8" stroke-width="0.55"/>
<path d="M392.4,411.1 L440.0,411.1" fill="none" stroke="#c4c4c4" stroke-width="0.55"/>
<path d="M392.4,420.0 L440.0,420.0" fill="none" stroke="#a8a8a8" stroke-width="0.55"/>
<path d="M392.4,428.9 L440.0,428.9" fill="none" stroke="#c4c4c4" stroke-width="0.55"/>
<path d="M392.4,437.8 L440.0,437.8" fill="none" stroke="#a8a8a8" stroke-width="0.55"/>
<path d="M392.4,446.7 L440.0,446.7" fill="none" stroke="#c4c4c4" stroke-width="0.55"/>
<path d="M392.4,455.6 L440.0,455.6" fill="none" stroke="#a8a8a8" stroke-width="0.55"/>
<path d="M392.4,464.5 L440.0,464.5" fill="none" stroke="#c4c4c4" stroke-width="0.55"/>
<path d="M392.4,473.3 L440.0,473.3" fill="none" stroke="#a8a8a8" stroke-width="0.55"/>
<path d="M392.4,482.2 L440.0,482.2" fill="none" stroke="#c4c4c4" stroke-width="0.55"/>
<path d="M392.4,491.1 L440.0,491.1" fill="none" stroke="#a8a8a8" stroke-width="0.55"/>
<path d="M392.4,500.0 L440.0,500.0" fill="none" stroke="#c4c4c4" stroke-width="0.55"/>
<path d="M392.4,508.9 L440.0,508.9" fill="none" stroke="#a8a8a8" stroke-width="0.55"/>
<path d="M392.4,517.8 L440.0,517.8" fill="none" stroke="#c4c4c4" stroke-width="0.55"/>
<rect x="243.80" y="311.00" width="27.40" height="4.80" rx="2.3999999999999773" fill="#c80aee" stroke="none" stroke-width="1"/>
<text x="257.50" y="313.50" font-size="3.84" font-weight="normal" text-anchor="middle" fill="#fff" dominant-baseline="central">PGM</text>
<rect x="243.80" y="319.89" width="27.40" height="4.80" rx="2.3999999999999773" fill="#6c6cd4" stroke="none" stroke-width="1"/>
<text x="257.50" y="322.39" font-size="3.84" font-weight="normal" text-anchor="middle" fill="#fff" dominant-baseline="central">FBA</text>
<rect x="243.80" y="328.77" width="27.40" height="4.80" rx="2.3999999999999773" fill="#6c6cd4" stroke="none" stroke-width="1"/>
<text x="257.50" y="331.27" font-size="3.84" font-weight="normal" text-anchor="middle" fill="#fff" dominant-baseline="central">MDH</text>
<rect x="243.80" y="337.66" width="27.40" height="4.80" rx="2.3999999999999773" fill="#0a24f5" stroke="none" stroke-width="1"/>
<text x="257.50" y="340.16" font-size="3.84" font-weight="normal" text-anchor="middle" fill="#fff" dominant-baseline="central">HEX1</text>
<rect x="243.80" y="346.54" width="27.40" height="4.80" rx="2.3999999999999773" fill="#0a24f5" stroke="none" stroke-width="1"/>
<text x="257.50" y="349.04" font-size="3.84" font-weight="normal" text-anchor="middle" fill="#fff" dominant-baseline="central">HEX4</text>
<rect x="243.80" y="355.43" width="27.40" height="4.80" rx="2.3999999999999773" fill="#0a24f5" stroke="none" stroke-width="1"/>
<text x="257.50" y="357.93" font-size="3.84" font-weight="normal" text-anchor="middle" fill="#fff" dominant-baseline="central">LDH</text>
<rect x="243.80" y="364.32" width="27.40" height="4.80" rx="2.3999999999999773" fill="#6c6cd4" stroke="none" stroke-width="1"/>
<text x="257.50" y="366.82" font-size="3.84" font-weight="normal" text-anchor="middle" fill="#fff" dominant-baseline="central">PFK</text>
<rect x="243.80" y="373.20" width="27.40" height="4.80" rx="2.3999999999999773" fill="#0a24f5" stroke="none" stroke-width="1"/>
<text x="257.50" y="375.70" font-size="3.84" font-weight="normal" text-anchor="middle" fill="#fff" dominant-baseline="central">POR4</text>
<rect x="243.80" y="382.09" width="27.40" height="4.80" rx="2.3999999999999773" fill="#0a24f5" stroke="none" stroke-width="1"/>
<text x="257.50" y="384.59" font-size="3.84" font-weight="normal" text-anchor="middle" fill="#fff" dominant-baseline="central">RNF</text>
<rect x="243.80" y="390.97" width="27.40" height="4.80" rx="2.3999999999999773" fill="#6c6cd4" stroke="none" stroke-width="1"/>
<text x="257.50" y="393.47" font-size="3.84" font-weight="normal" text-anchor="middle" fill="#fff" dominant-baseline="central">ACK</text>
<rect x="243.80" y="399.86" width="27.40" height="4.80" rx="2.3999999999999773" fill="#c80aee" stroke="none" stroke-width="1"/>
<text x="257.50" y="402.36" font-size="3.84" font-weight="normal" text-anchor="middle" fill="#fff" dominant-baseline="central">FUM</text>
<rect x="243.80" y="408.75" width="27.40" height="4.80" rx="2.3999999999999773" fill="#6c6cd4" stroke="none" stroke-width="1"/>
<text x="257.50" y="411.25" font-size="3.84" font-weight="normal" text-anchor="middle" fill="#fff" dominant-baseline="central">ENO</text>
<rect x="243.80" y="417.63" width="27.40" height="4.80" rx="2.3999999999999773" fill="#6c6cd4" stroke="none" stroke-width="1"/>
<text x="257.50" y="420.13" font-size="3.84" font-weight="normal" text-anchor="middle" fill="#fff" dominant-baseline="central">PTA</text>
<rect x="243.80" y="426.52" width="27.40" height="4.80" rx="2.3999999999999773" fill="#6c6cd4" stroke="none" stroke-width="1"/>
<text x="257.50" y="429.02" font-size="3.84" font-weight="normal" text-anchor="middle" fill="#fff" dominant-baseline="central">MANAPI</text>
<rect x="243.80" y="435.40" width="27.40" height="4.80" rx="2.3999999999999773" fill="#6c6cd4" stroke="none" stroke-width="1"/>
<text x="257.50" y="437.90" font-size="3.84" font-weight="normal" text-anchor="middle" fill="#fff" dominant-baseline="central">PFL</text>
<rect x="243.80" y="444.29" width="27.40" height="4.80" rx="2.3999999999999773" fill="#6c6cd4" stroke="none" stroke-width="1"/>
<text x="257.50" y="446.79" font-size="3.84" font-weight="normal" text-anchor="middle" fill="#fff" dominant-baseline="central">PYK</text>
<rect x="243.80" y="453.18" width="27.40" height="4.80" rx="2.3999999999999773" fill="#6c6cd4" stroke="none" stroke-width="1"/>
<text x="257.50" y="455.68" font-size="3.84" font-weight="normal" text-anchor="middle" fill="#fff" dominant-baseline="central">FRD</text>
<rect x="243.80" y="462.06" width="27.40" height="4.80" rx="2.3999999999999773" fill="#6c6cd4" stroke="none" stroke-width="1"/>
<text x="257.50" y="464.56" font-size="3.84" font-weight="normal" text-anchor="middle" fill="#fff" dominant-baseline="central">PGK</text>
<rect x="243.80" y="470.95" width="27.40" height="4.80" rx="2.3999999999999773" fill="#0a24f5" stroke="none" stroke-width="1"/>
<text x="257.50" y="473.45" font-size="3.84" font-weight="normal" text-anchor="middle" fill="#fff" dominant-baseline="central">MANabc</text>
<rect x="243.80" y="479.83" width="27.40" height="4.80" rx="2.3999999999999773" fill="#6c6cd4" stroke="none" stroke-width="1"/>
<text x="257.50" y="482.33" font-size="3.84" font-weight="normal" text-anchor="middle" fill="#fff" dominant-baseline="central">PGI</text>
<rect x="243.80" y="488.72" width="27.40" height="4.80" rx="2.3999999999999773" fill="#6c6cd4" stroke="none" stroke-width="1"/>
<text x="257.50" y="491.22" font-size="3.84" font-weight="normal" text-anchor="middle" fill="#fff" dominant-baseline="central">PPCK</text>
<rect x="243.80" y="497.61" width="27.40" height="4.80" rx="2.3999999999999773" fill="#6c6cd4" stroke="none" stroke-width="1"/>
<text x="257.50" y="500.11" font-size="3.84" font-weight="normal" text-anchor="middle" fill="#fff" dominant-baseline="central">GAPD</text>
<rect x="243.80" y="506.49" width="27.40" height="4.80" rx="2.3999999999999773" fill="#6c6cd4" stroke="none" stroke-width="1"/>
<text x="257.50" y="508.99" font-size="3.84" font-weight="normal" text-anchor="middle" fill="#fff" dominant-baseline="central">TPI</text>
<rect x="243.80" y="515.38" width="27.40" height="4.80" rx="2.3999999999999773" fill="#3d9e40" stroke="none" stroke-width="1"/>
<text x="257.50" y="517.88" font-size="3.84" font-weight="normal" text-anchor="middle" fill="#fff" dominant-baseline="central">GLCtr</text>
<rect x="301.70" y="309.80" width="12.20" height="7.20" rx="0" fill="#0a24f5" stroke="#333" stroke-width="0.35"/>
<rect x="301.70" y="318.69" width="12.20" height="7.20" rx="0" fill="#0a24f5" stroke="#333" stroke-width="0.35"/>
<rect x="301.70" y="327.57" width="9.80" height="7.20" rx="0" fill="#0a24f5" stroke="#333" stroke-width="0.35"/>
<rect x="301.70" y="336.46" width="7.80" height="7.20" rx="0" fill="#0a24f5" stroke="#333" stroke-width="0.35"/>
<rect x="301.70" y="345.34" width="7.80" height="7.20" rx="0" fill="#0a24f5" stroke="#333" stroke-width="0.35"/>
<rect x="301.70" y="354.23" width="6.90" height="7.20" rx="0" fill="#0a24f5" stroke="#333" stroke-width="0.35"/>
<rect x="301.70" y="363.12" width="6.00" height="7.20" rx="0" fill="#0a24f5" stroke="#333" stroke-width="0.35"/>
<rect x="301.70" y="372.00" width="6.00" height="7.20" rx="0" fill="#0a24f5" stroke="#333" stroke-width="0.35"/>
<rect x="301.70" y="380.89" width="5.70" height="7.20" rx="0" fill="#6c6cd4" stroke="#333" stroke-width="0.35"/>
<rect x="301.70" y="389.77" width="5.20" height="7.20" rx="0" fill="#0a24f5" stroke="#333" stroke-width="0.35"/>
<rect x="301.70" y="398.66" width="5.20" height="7.20" rx="0" fill="#0a24f5" stroke="#333" stroke-width="0.35"/>
<rect x="301.70" y="407.55" width="4.90" height="7.20" rx="0" fill="#6c6cd4" stroke="#333" stroke-width="0.35"/>
<rect x="301.70" y="416.43" width="4.00" height="7.20" rx="0" fill="#6c6cd4" stroke="#333" stroke-width="0.35"/>
<rect x="301.70" y="425.32" width="2.50" height="7.20" rx="0" fill="#6c6cd4" stroke="#333" stroke-width="0.35"/>
<rect x="301.70" y="434.20" width="1.90" height="7.20" rx="0" fill="#6c6cd4" stroke="#333" stroke-width="0.35"/>
<rect x="301.70" y="443.09" width="1.90" height="7.20" rx="0" fill="#6c6cd4" stroke="#333" stroke-width="0.35"/>
<rect x="301.70" y="451.98" width="1.70" height="7.20" rx="0" fill="#6c6cd4" stroke="#333" stroke-width="0.35"/>
<rect x="301.40" y="460.86" width="0.60" height="7.20" rx="0" fill="#6c6cd4" stroke="#333" stroke-width="0.35"/>
<rect x="301.40" y="469.75" width="0.60" height="7.20" rx="0" fill="#6c6cd4" stroke="#333" stroke-width="0.35"/>
<rect x="300.70" y="478.63" width="1.00" height="7.20" rx="0" fill="#6c6cd4" stroke="#333" stroke-width="0.35"/>
<rect x="300.70" y="487.52" width="1.00" height="7.20" rx="0" fill="#6c6cd4" stroke="#333" stroke-width="0.35"/>
<rect x="300.70" y="496.41" width="1.00" height="7.20" rx="0" fill="#6c6cd4" stroke="#333" stroke-width="0.35"/>
<rect x="300.70" y="505.29" width="1.00" height="7.20" rx="0" fill="#6c6cd4" stroke="#333" stroke-width="0.35"/>
<rect x="290.50" y="514.18" width="11.20" height="7.20" rx="0" fill="#3d9e40" stroke="#333" stroke-width="0.35"/>
<rect x="359.10" y="309.80" width="24.00" height="7.20" rx="0" fill="#c80aee" stroke="#333" stroke-width="0.35"/>
<rect x="359.10" y="318.69" width="21.30" height="7.20" rx="0" fill="#c80aee" stroke="#333" stroke-width="0.35"/>
<rect x="359.10" y="327.57" width="8.80" height="7.20" rx="0" fill="#c80aee" stroke="#333" stroke-width="0.35"/>
<rect x="352.70" y="336.46" width="6.40" height="7.20" rx="0" fill="#6c6cd4" stroke="#333" stroke-width="0.35"/>
<rect x="352.70" y="345.34" width="6.40" height="7.20" rx="0" fill="#6c6cd4" stroke="#333" stroke-width="0.35"/>
<rect x="359.10" y="354.23" width="5.60" height="7.20" rx="0" fill="#c80aee" stroke="#333" stroke-width="0.35"/>
<rect x="359.10" y="363.12" width="12.60" height="7.20" rx="0" fill="#c80aee" stroke="#333" stroke-width="0.35"/>
<rect x="357.80" y="372.00" width="1.30" height="7.20" rx="0" fill="#6c6cd4" stroke="#333" stroke-width="0.35"/>
<rect x="352.10" y="380.89" width="7.00" height="7.20" rx="0" fill="#3d9e40" stroke="#333" stroke-width="0.35"/>
<rect x="359.10" y="389.77" width="5.60" height="7.20" rx="0" fill="#c80aee" stroke="#333" stroke-width="0.35"/>
<rect x="359.10" y="398.66" width="9.70" height="7.20" rx="0" fill="#c80aee" stroke="#333" stroke-width="0.35"/>
<rect x="354.30" y="407.55" width="4.80" height="7.20" rx="0" fill="#6c6cd4" stroke="#333" stroke-width="0.35"/>
<rect x="359.10" y="416.43" width="2.40" height="7.20" rx="0" fill="#6c6cd4" stroke="#333" stroke-width="0.35"/>
<rect x="359.10" y="425.32" width="4.40" height="7.20" rx="0" fill="#6c6cd4" stroke="#333" stroke-width="0.35"/>
<rect x="354.50" y="434.20" width="4.60" height="7.20" rx="0" fill="#3d9e40" stroke="#333" stroke-width="0.35"/>
<rect x="353.00" y="443.09" width="6.10" height="7.20" rx="0" fill="#3d9e40" stroke="#333" stroke-width="0.35"/>
<rect x="355.30" y="451.98" width="3.80" height="7.20" rx="0" fill="#6c6cd4" stroke="#333" stroke-width="0.35"/>
<rect x="357.10" y="460.86" width="2.00" height="7.20" rx="0" fill="#6c6cd4" stroke="#333" stroke-width="0.35"/>
<rect x="347.40" y="469.75" width="11.70" height="7.20" rx="0" fill="#3d9e40" stroke="#333" stroke-width="0.35"/>
<rect x="351.20" y="478.63" width="7.90" height="7.20" rx="0" fill="#3d9e40" stroke="#333" stroke-width="0.35"/>
<rect x="358.80" y="487.52" width="0.60" height="7.20" rx="0" fill="#6c6cd4" stroke="#333" stroke-width="0.35"/>
<rect x="353.00" y="496.41" width="6.10" height="7.20" rx="0" fill="#3d9e40" stroke="#333" stroke-width="0.35"/>
<rect x="351.20" y="505.29" width="7.90" height="7.20" rx="0" fill="#3d9e40" stroke="#333" stroke-width="0.35"/>
<rect x="352.40" y="514.18" width="6.70" height="7.20" rx="0" fill="#3d9e40" stroke="#333" stroke-width="0.35"/>
<rect x="413.00" y="309.80" width="11.50" height="7.20" rx="0" fill="#c80aee" stroke="#333" stroke-width="0.35"/>
<rect x="413.00" y="318.69" width="9.20" height="7.20" rx="0" fill="#c80aee" stroke="#333" stroke-width="0.35"/>
<rect x="410.80" y="327.57" width="2.20" height="7.20" rx="0" fill="#6c6cd4" stroke="#333" stroke-width="0.35"/>
<rect x="405.00" y="336.46" width="8.00" height="7.20" rx="0" fill="#0a24f5" stroke="#333" stroke-width="0.35"/>
<rect x="405.00" y="345.34" width="8.00" height="7.20" rx="0" fill="#0a24f5" stroke="#333" stroke-width="0.35"/>
<rect x="406.10" y="354.23" width="6.90" height="7.20" rx="0" fill="#0a24f5" stroke="#333" stroke-width="0.35"/>
<rect x="413.00" y="363.12" width="8.60" height="7.20" rx="0" fill="#c80aee" stroke="#333" stroke-width="0.35"/>
<rect x="407.00" y="372.00" width="6.00" height="7.20" rx="0" fill="#0a24f5" stroke="#333" stroke-width="0.35"/>
<rect x="404.70" y="380.89" width="8.30" height="7.20" rx="0" fill="#0a24f5" stroke="#333" stroke-width="0.35"/>
<rect x="412.70" y="389.77" width="0.60" height="7.20" rx="0" fill="#6c6cd4" stroke="#333" stroke-width="0.35"/>
<rect x="413.00" y="398.66" width="4.80" height="7.20" rx="0" fill="#c80aee" stroke="#333" stroke-width="0.35"/>
<rect x="403.20" y="407.55" width="9.80" height="7.20" rx="0" fill="#0a24f5" stroke="#333" stroke-width="0.35"/>
<rect x="411.40" y="416.43" width="1.60" height="7.20" rx="0" fill="#6c6cd4" stroke="#333" stroke-width="0.35"/>
<rect x="413.00" y="425.32" width="1.60" height="7.20" rx="0" fill="#6c6cd4" stroke="#333" stroke-width="0.35"/>
<rect x="409.00" y="434.20" width="4.00" height="7.20" rx="0" fill="#6c6cd4" stroke="#333" stroke-width="0.35"/>
<rect x="405.30" y="443.09" width="7.70" height="7.20" rx="0" fill="#0a24f5" stroke="#333" stroke-width="0.35"/>
<rect x="407.90" y="451.98" width="5.10" height="7.20" rx="0" fill="#0a24f5" stroke="#333" stroke-width="0.35"/>
<rect x="411.40" y="460.86" width="1.60" height="7.20" rx="0" fill="#6c6cd4" stroke="#333" stroke-width="0.35"/>
<rect x="402.30" y="469.75" width="10.70" height="7.20" rx="0" fill="#0a24f5" stroke="#333" stroke-width="0.35"/>
<rect x="406.10" y="478.63" width="6.90" height="7.20" rx="0" fill="#0a24f5" stroke="#333" stroke-width="0.35"/>
<rect x="413.00" y="487.52" width="1.60" height="7.20" rx="0" fill="#6c6cd4" stroke="#333" stroke-width="0.35"/>
<rect x="408.20" y="496.41" width="4.80" height="7.20" rx="0" fill="#6c6cd4" stroke="#333" stroke-width="0.35"/>
<rect x="406.10" y="505.29" width="6.90" height="7.20" rx="0" fill="#0a24f5" stroke="#333" stroke-width="0.35"/>
<rect x="406.70" y="514.18" width="6.30" height="7.20" rx="0" fill="#6c6cd4" stroke="#333" stroke-width="0.35"/>
<path d="M301.7,308.5 L301.7,522.2" fill="none" stroke="#444" stroke-width="0.45"/>
<path d="M359.1,308.5 L359.1,522.2" fill="none" stroke="#444" stroke-width="0.45"/>
<path d="M413.0,308.5 L413.0,522.2" fill="none" stroke="#444" stroke-width="0.45"/>
<text x="300.30" y="305.40" font-size="7.6" font-weight="bold" text-anchor="end" fill="#111" dominant-baseline="central" stroke="#111" stroke-width="0.12">4h</text>
<text x="303.50" y="305.40" font-size="7.6" font-weight="bold" text-anchor="start" fill="#111" dominant-baseline="central" stroke="#111" stroke-width="0.12">12h</text>
<path d="M301.7,306.9 L301.7,308.9" fill="none" stroke="#444" stroke-width="0.4"/>
<text x="357.70" y="305.40" font-size="7.6" font-weight="bold" text-anchor="end" fill="#111" dominant-baseline="central" stroke="#111" stroke-width="0.12">4h</text>
<text x="360.90" y="305.40" font-size="7.6" font-weight="bold" text-anchor="start" fill="#111" dominant-baseline="central" stroke="#111" stroke-width="0.12">36h</text>
<path d="M359.1,306.9 L359.1,308.9" fill="none" stroke="#444" stroke-width="0.4"/>
<text x="411.60" y="305.40" font-size="7.6" font-weight="bold" text-anchor="end" fill="#111" dominant-baseline="central" stroke="#111" stroke-width="0.12">12h</text>
<text x="414.80" y="305.40" font-size="7.6" font-weight="bold" text-anchor="start" fill="#111" dominant-baseline="central" stroke="#111" stroke-width="0.12">36h</text>
<path d="M413.0,306.9 L413.0,308.9" fill="none" stroke="#444" stroke-width="0.4"/>
<text x="282.00" y="533.80" font-size="7.1" font-weight="normal" text-anchor="middle" fill="#222" dominant-baseline="central" stroke="#222" stroke-width="0.12">–5</text>
<text x="301.70" y="533.80" font-size="7.1" font-weight="normal" text-anchor="middle" fill="#222" dominant-baseline="central" stroke="#222" stroke-width="0.12">0</text>
<text x="320.50" y="533.80" font-size="7.1" font-weight="normal" text-anchor="middle" fill="#222" dominant-baseline="central" stroke="#222" stroke-width="0.12">5</text>
<text x="340.45" y="533.80" font-size="7.1" font-weight="normal" text-anchor="middle" fill="#222" dominant-baseline="central" stroke="#222" stroke-width="0.12">–5</text>
<text x="359.10" y="533.80" font-size="7.1" font-weight="normal" text-anchor="middle" fill="#222" dominant-baseline="central" stroke="#222" stroke-width="0.12">0</text>
<text x="376.85" y="533.80" font-size="7.1" font-weight="normal" text-anchor="middle" fill="#222" dominant-baseline="central" stroke="#222" stroke-width="0.12">5</text>
<text x="393.45" y="533.80" font-size="7.1" font-weight="normal" text-anchor="middle" fill="#222" dominant-baseline="central" stroke="#222" stroke-width="0.12">–5</text>
<text x="413.00" y="533.80" font-size="7.1" font-weight="normal" text-anchor="middle" fill="#222" dominant-baseline="central" stroke="#222" stroke-width="0.12">0</text>
<text x="431.65" y="533.80" font-size="7.1" font-weight="normal" text-anchor="middle" fill="#222" dominant-baseline="central" stroke="#222" stroke-width="0.12">5</text>
<text x="358.50" y="544.80" font-size="7.4" font-weight="bold" text-anchor="middle" fill="#111" dominant-baseline="central" stroke="#111" stroke-width="0.12">gene expression fold change</text>
<rect x="237.40" y="269.60" width="213.90" height="25.80" rx="0" fill="none" stroke="#111" stroke-width="1.25" stroke-dasharray="3.3,2.0"/>
<text x="238.20" y="277.40" font-size="5.95" font-weight="bold" text-anchor="start" fill="#111" dominant-baseline="central" stroke="#111" stroke-width="0.12">significance hypothesis:</text>
<text x="263.90" y="288.10" font-size="5.9" font-weight="bold" text-anchor="start" fill="#111" dominant-baseline="central" stroke="#111" stroke-width="0.12"><tspan font-style="italic">p</tspan>=0.01</text>
<circle cx="312.60" cy="278.70" r="3.7" fill="#3d9e40"/>
<text x="318.90" y="278.90" font-size="5.4" font-weight="normal" text-anchor="start" fill="#222" dominant-baseline="central" stroke="#222" stroke-width="0.12">max expression at. 4h</text>
<circle cx="385.80" cy="278.70" r="3.7" fill="#c80aee"/>
<text x="390.80" y="278.90" font-size="5.4" font-weight="normal" text-anchor="start" fill="#222" dominant-baseline="central" stroke="#222" stroke-width="0.12">max expression at 36h</text>
<circle cx="312.60" cy="290.80" r="3.7" fill="#0a24f5"/>
<text x="318.90" y="290.60" font-size="5.4" font-weight="normal" text-anchor="start" fill="#222" dominant-baseline="central" stroke="#222" stroke-width="0.12">max expression at. 12h</text>
<circle cx="385.80" cy="290.80" r="3.7" fill="#6c6cd4"/>
<text x="390.80" y="290.60" font-size="5.4" font-weight="normal" text-anchor="start" fill="#222" dominant-baseline="central" stroke="#222" stroke-width="0.12">non-significant</text>
<path d="M514.4,313.3 L557.6,313.3" fill="none" stroke="#a8a8a8" stroke-width="0.55"/>
<path d="M514.4,323.0 L557.6,323.0" fill="none" stroke="#c4c4c4" stroke-width="0.55"/>
<path d="M514.4,332.7 L557.6,332.7" fill="none" stroke="#a8a8a8" stroke-width="0.55"/>
<path d="M514.4,342.4 L557.6,342.4" fill="none" stroke="#c4c4c4" stroke-width="0.55"/>
<path d="M514.4,352.1 L557.6,352.1" fill="none" stroke="#a8a8a8" stroke-width="0.55"/>
<path d="M514.4,361.9 L557.6,361.9" fill="none" stroke="#c4c4c4" stroke-width="0.55"/>
<path d="M514.4,371.6 L557.6,371.6" fill="none" stroke="#a8a8a8" stroke-width="0.55"/>
<path d="M514.4,381.3 L557.6,381.3" fill="none" stroke="#c4c4c4" stroke-width="0.55"/>
<path d="M514.4,391.0 L557.6,391.0" fill="none" stroke="#a8a8a8" stroke-width="0.55"/>
<path d="M514.4,400.7 L557.6,400.7" fill="none" stroke="#c4c4c4" stroke-width="0.55"/>
<path d="M514.4,410.4 L557.6,410.4" fill="none" stroke="#a8a8a8" stroke-width="0.55"/>
<path d="M514.4,420.1 L557.6,420.1" fill="none" stroke="#c4c4c4" stroke-width="0.55"/>
<path d="M514.4,429.8 L557.6,429.8" fill="none" stroke="#a8a8a8" stroke-width="0.55"/>
<path d="M514.4,439.5 L557.6,439.5" fill="none" stroke="#c4c4c4" stroke-width="0.55"/>
<path d="M514.4,449.2 L557.6,449.2" fill="none" stroke="#a8a8a8" stroke-width="0.55"/>
<path d="M514.4,459.0 L557.6,459.0" fill="none" stroke="#c4c4c4" stroke-width="0.55"/>
<path d="M514.4,468.7 L557.6,468.7" fill="none" stroke="#a8a8a8" stroke-width="0.55"/>
<path d="M514.4,478.4 L557.6,478.4" fill="none" stroke="#c4c4c4" stroke-width="0.55"/>
<path d="M514.4,488.1 L557.6,488.1" fill="none" stroke="#a8a8a8" stroke-width="0.55"/>
<path d="M514.4,497.8 L557.6,497.8" fill="none" stroke="#c4c4c4" stroke-width="0.55"/>
<path d="M514.4,507.5 L557.6,507.5" fill="none" stroke="#a8a8a8" stroke-width="0.55"/>
<path d="M514.4,517.2 L557.6,517.2" fill="none" stroke="#c4c4c4" stroke-width="0.55"/>
<path d="M562.6,313.3 L605.0,313.3" fill="none" stroke="#a8a8a8" stroke-width="0.55"/>
<path d="M562.6,323.0 L605.0,323.0" fill="none" stroke="#c4c4c4" stroke-width="0.55"/>
<path d="M562.6,332.7 L605.0,332.7" fill="none" stroke="#a8a8a8" stroke-width="0.55"/>
<path d="M562.6,342.4 L605.0,342.4" fill="none" stroke="#c4c4c4" stroke-width="0.55"/>
<path d="M562.6,352.1 L605.0,352.1" fill="none" stroke="#a8a8a8" stroke-width="0.55"/>
<path d="M562.6,361.9 L605.0,361.9" fill="none" stroke="#c4c4c4" stroke-width="0.55"/>
<path d="M562.6,371.6 L605.0,371.6" fill="none" stroke="#a8a8a8" stroke-width="0.55"/>
<path d="M562.6,381.3 L605.0,381.3" fill="none" stroke="#c4c4c4" stroke-width="0.55"/>
<path d="M562.6,391.0 L605.0,391.0" fill="none" stroke="#a8a8a8" stroke-width="0.55"/>
<path d="M562.6,400.7 L605.0,400.7" fill="none" stroke="#c4c4c4" stroke-width="0.55"/>
<path d="M562.6,410.4 L605.0,410.4" fill="none" stroke="#a8a8a8" stroke-width="0.55"/>
<path d="M562.6,420.1 L605.0,420.1" fill="none" stroke="#c4c4c4" stroke-width="0.55"/>
<path d="M562.6,429.8 L605.0,429.8" fill="none" stroke="#a8a8a8" stroke-width="0.55"/>
<path d="M562.6,439.5 L605.0,439.5" fill="none" stroke="#c4c4c4" stroke-width="0.55"/>
<path d="M562.6,449.2 L605.0,449.2" fill="none" stroke="#a8a8a8" stroke-width="0.55"/>
<path d="M562.6,459.0 L605.0,459.0" fill="none" stroke="#c4c4c4" stroke-width="0.55"/>
<path d="M562.6,468.7 L605.0,468.7" fill="none" stroke="#a8a8a8" stroke-width="0.55"/>
<path d="M562.6,478.4 L605.0,478.4" fill="none" stroke="#c4c4c4" stroke-width="0.55"/>
<path d="M562.6,488.1 L605.0,488.1" fill="none" stroke="#a8a8a8" stroke-width="0.55"/>
<path d="M562.6,497.8 L605.0,497.8" fill="none" stroke="#c4c4c4" stroke-width="0.55"/>
<path d="M562.6,507.5 L605.0,507.5" fill="none" stroke="#a8a8a8" stroke-width="0.55"/>
<path d="M562.6,517.2 L605.0,517.2" fill="none" stroke="#c4c4c4" stroke-width="0.55"/>
<path d="M609.3,313.3 L652.5,313.3" fill="none" stroke="#a8a8a8" stroke-width="0.55"/>
<path d="M609.3,323.0 L652.5,323.0" fill="none" stroke="#c4c4c4" stroke-width="0.55"/>
<path d="M609.3,332.7 L652.5,332.7" fill="none" stroke="#a8a8a8" stroke-width="0.55"/>
<path d="M609.3,342.4 L652.5,342.4" fill="none" stroke="#c4c4c4" stroke-width="0.55"/>
<path d="M609.3,352.1 L652.5,352.1" fill="none" stroke="#a8a8a8" stroke-width="0.55"/>
<path d="M609.3,361.9 L652.5,361.9" fill="none" stroke="#c4c4c4" stroke-width="0.55"/>
<path d="M609.3,371.6 L652.5,371.6" fill="none" stroke="#a8a8a8" stroke-width="0.55"/>
<path d="M609.3,381.3 L652.5,381.3" fill="none" stroke="#c4c4c4" stroke-width="0.55"/>
<path d="M609.3,391.0 L652.5,391.0" fill="none" stroke="#a8a8a8" stroke-width="0.55"/>
<path d="M609.3,400.7 L652.5,400.7" fill="none" stroke="#c4c4c4" stroke-width="0.55"/>
<path d="M609.3,410.4 L652.5,410.4" fill="none" stroke="#a8a8a8" stroke-width="0.55"/>
<path d="M609.3,420.1 L652.5,420.1" fill="none" stroke="#c4c4c4" stroke-width="0.55"/>
<path d="M609.3,429.8 L652.5,429.8" fill="none" stroke="#a8a8a8" stroke-width="0.55"/>
<path d="M609.3,439.5 L652.5,439.5" fill="none" stroke="#c4c4c4" stroke-width="0.55"/>
<path d="M609.3,449.2 L652.5,449.2" fill="none" stroke="#a8a8a8" stroke-width="0.55"/>
<path d="M609.3,459.0 L652.5,459.0" fill="none" stroke="#c4c4c4" stroke-width="0.55"/>
<path d="M609.3,468.7 L652.5,468.7" fill="none" stroke="#a8a8a8" stroke-width="0.55"/>
<path d="M609.3,478.4 L652.5,478.4" fill="none" stroke="#c4c4c4" stroke-width="0.55"/>
<path d="M609.3,488.1 L652.5,488.1" fill="none" stroke="#a8a8a8" stroke-width="0.55"/>
<path d="M609.3,497.8 L652.5,497.8" fill="none" stroke="#c4c4c4" stroke-width="0.55"/>
<path d="M609.3,507.5 L652.5,507.5" fill="none" stroke="#a8a8a8" stroke-width="0.55"/>
<path d="M609.3,517.2 L652.5,517.2" fill="none" stroke="#c4c4c4" stroke-width="0.55"/>
<rect x="484.30" y="310.85" width="28.70" height="4.90" rx="2.4499999999999886" fill="#0a24f5" stroke="none" stroke-width="1"/>
<text x="498.65" y="313.40" font-size="3.9200000000000004" font-weight="normal" text-anchor="middle" fill="#fff" dominant-baseline="central">CXnf</text>
<rect x="484.30" y="320.56" width="28.70" height="4.90" rx="2.4499999999999886" fill="#c80aee" stroke="none" stroke-width="1"/>
<text x="498.65" y="323.11" font-size="3.9200000000000004" font-weight="normal" text-anchor="middle" fill="#fff" dominant-baseline="central">LDH</text>
<rect x="484.30" y="330.27" width="28.70" height="4.90" rx="2.4499999999999886" fill="#6c6cd4" stroke="none" stroke-width="1"/>
<text x="498.65" y="332.82" font-size="3.9200000000000004" font-weight="normal" text-anchor="middle" fill="#fff" dominant-baseline="central">ACK</text>
<rect x="484.30" y="339.98" width="28.70" height="4.90" rx="2.4499999999999886" fill="#6c6cd4" stroke="none" stroke-width="1"/>
<text x="498.65" y="342.53" font-size="3.9200000000000004" font-weight="normal" text-anchor="middle" fill="#fff" dominant-baseline="central">PTA</text>
<rect x="484.30" y="349.69" width="28.70" height="4.90" rx="2.4499999999999886" fill="#6c6cd4" stroke="none" stroke-width="1"/>
<text x="498.65" y="352.24" font-size="3.9200000000000004" font-weight="normal" text-anchor="middle" fill="#fff" dominant-baseline="central">HACD</text>
<rect x="484.30" y="359.40" width="28.70" height="4.90" rx="2.4499999999999886" fill="#6c6cd4" stroke="none" stroke-width="1"/>
<text x="498.65" y="361.95" font-size="3.9200000000000004" font-weight="normal" text-anchor="middle" fill="#fff" dominant-baseline="central">ACOAD</text>
<rect x="480.30" y="369.11" width="37.00" height="4.90" rx="2.4499999999999886" fill="#6c6cd4" stroke="none" stroke-width="1"/>
<text x="498.80" y="371.66" font-size="3.9200000000000004" font-weight="normal" text-anchor="middle" fill="#fff" dominant-baseline="central">RTCOAACCOAT</text>
<rect x="484.30" y="378.82" width="28.70" height="4.90" rx="2.4499999999999886" fill="#6c6cd4" stroke="none" stroke-width="1"/>
<text x="498.65" y="381.37" font-size="3.9200000000000004" font-weight="normal" text-anchor="middle" fill="#fff" dominant-baseline="central">PGK</text>
<rect x="484.30" y="388.53" width="28.70" height="4.90" rx="2.4499999999999886" fill="#6c6cd4" stroke="none" stroke-width="1"/>
<text x="498.65" y="391.08" font-size="3.9200000000000004" font-weight="normal" text-anchor="middle" fill="#fff" dominant-baseline="central">GAPD</text>
<rect x="484.30" y="398.24" width="28.70" height="4.90" rx="2.4499999999999886" fill="#6c6cd4" stroke="none" stroke-width="1"/>
<text x="498.65" y="400.79" font-size="3.9200000000000004" font-weight="normal" text-anchor="middle" fill="#fff" dominant-baseline="central">PGI</text>
<rect x="484.30" y="407.95" width="28.70" height="4.90" rx="2.4499999999999886" fill="#6c6cd4" stroke="none" stroke-width="1"/>
<text x="498.65" y="410.50" font-size="3.9200000000000004" font-weight="normal" text-anchor="middle" fill="#fff" dominant-baseline="central">ATPS4</text>
<rect x="484.30" y="417.66" width="28.70" height="4.90" rx="2.4499999999999886" fill="#6c6cd4" stroke="none" stroke-width="1"/>
<text x="498.65" y="420.21" font-size="3.9200000000000004" font-weight="normal" text-anchor="middle" fill="#fff" dominant-baseline="central">PFK</text>
<rect x="484.30" y="427.37" width="28.70" height="4.90" rx="2.4499999999999886" fill="#6c6cd4" stroke="none" stroke-width="1"/>
<text x="498.65" y="429.92" font-size="3.9200000000000004" font-weight="normal" text-anchor="middle" fill="#fff" dominant-baseline="central">PGM</text>
<rect x="484.30" y="437.08" width="28.70" height="4.90" rx="2.4499999999999886" fill="#6c6cd4" stroke="none" stroke-width="1"/>
<text x="498.65" y="439.63" font-size="3.9200000000000004" font-weight="normal" text-anchor="middle" fill="#fff" dominant-baseline="central">TPI</text>
<rect x="484.30" y="446.79" width="28.70" height="4.90" rx="2.4499999999999886" fill="#6c6cd4" stroke="none" stroke-width="1"/>
<text x="498.65" y="449.34" font-size="3.9200000000000004" font-weight="normal" text-anchor="middle" fill="#fff" dominant-baseline="central">ACAT</text>
<rect x="484.30" y="456.50" width="28.70" height="4.90" rx="2.4499999999999886" fill="#6c6cd4" stroke="none" stroke-width="1"/>
<text x="498.65" y="459.05" font-size="3.9200000000000004" font-weight="normal" text-anchor="middle" fill="#fff" dominant-baseline="central">PYK</text>
<rect x="484.30" y="466.21" width="28.70" height="4.90" rx="2.4499999999999886" fill="#6c6cd4" stroke="none" stroke-width="1"/>
<text x="498.65" y="468.76" font-size="3.9200000000000004" font-weight="normal" text-anchor="middle" fill="#fff" dominant-baseline="central">FBA</text>
<rect x="484.30" y="475.92" width="28.70" height="4.90" rx="2.4499999999999886" fill="#6c6cd4" stroke="none" stroke-width="1"/>
<text x="498.65" y="478.47" font-size="3.9200000000000004" font-weight="normal" text-anchor="middle" fill="#fff" dominant-baseline="central">ECOAH</text>
<rect x="484.30" y="485.63" width="28.70" height="4.90" rx="2.4499999999999886" fill="#6c6cd4" stroke="none" stroke-width="1"/>
<text x="498.65" y="488.18" font-size="3.9200000000000004" font-weight="normal" text-anchor="middle" fill="#fff" dominant-baseline="central">HEX1</text>
<rect x="484.30" y="495.34" width="28.70" height="4.90" rx="2.4499999999999886" fill="#6c6cd4" stroke="none" stroke-width="1"/>
<text x="498.65" y="497.89" font-size="3.9200000000000004" font-weight="normal" text-anchor="middle" fill="#fff" dominant-baseline="central">ENO</text>
<rect x="484.30" y="505.05" width="28.70" height="4.90" rx="2.4499999999999886" fill="#c80aee" stroke="none" stroke-width="1"/>
<text x="498.65" y="507.60" font-size="3.9200000000000004" font-weight="normal" text-anchor="middle" fill="#fff" dominant-baseline="central">PCR4</text>
<rect x="484.30" y="514.76" width="28.70" height="4.90" rx="2.4500000000000455" fill="#c80aee" stroke="none" stroke-width="1"/>
<text x="498.65" y="517.31" font-size="3.9200000000000004" font-weight="normal" text-anchor="middle" fill="#fff" dominant-baseline="central">GLCabc</text>
<rect x="536.60" y="309.70" width="7.60" height="7.20" rx="0" fill="#6c6cd4" stroke="#333" stroke-width="0.35"/>
<rect x="536.60" y="319.41" width="7.60" height="7.20" rx="0" fill="#6c6cd4" stroke="#333" stroke-width="0.35"/>
<rect x="536.60" y="329.12" width="5.00" height="7.20" rx="0" fill="#6c6cd4" stroke="#333" stroke-width="0.35"/>
<rect x="536.60" y="338.83" width="4.10" height="7.20" rx="0" fill="#6c6cd4" stroke="#333" stroke-width="0.35"/>
<rect x="536.60" y="348.54" width="2.90" height="7.20" rx="0" fill="#6c6cd4" stroke="#333" stroke-width="0.35"/>
<rect x="536.60" y="358.25" width="2.90" height="7.20" rx="0" fill="#6c6cd4" stroke="#333" stroke-width="0.35"/>
<rect x="536.60" y="367.96" width="2.90" height="7.20" rx="0" fill="#6c6cd4" stroke="#333" stroke-width="0.35"/>
<rect x="536.60" y="377.67" width="2.00" height="7.20" rx="0" fill="#6c6cd4" stroke="#333" stroke-width="0.35"/>
<rect x="536.60" y="387.38" width="2.00" height="7.20" rx="0" fill="#6c6cd4" stroke="#333" stroke-width="0.35"/>
<rect x="536.60" y="397.09" width="2.00" height="7.20" rx="0" fill="#6c6cd4" stroke="#333" stroke-width="0.35"/>
<rect x="536.60" y="406.80" width="1.40" height="7.20" rx="0" fill="#6c6cd4" stroke="#333" stroke-width="0.35"/>
<rect x="536.60" y="416.51" width="0.90" height="7.20" rx="0" fill="#6c6cd4" stroke="#333" stroke-width="0.35"/>
<rect x="536.60" y="426.22" width="0.90" height="7.20" rx="0" fill="#6c6cd4" stroke="#333" stroke-width="0.35"/>
<rect x="536.60" y="435.93" width="0.60" height="7.20" rx="0" fill="#6c6cd4" stroke="#333" stroke-width="0.35"/>
<rect x="536.60" y="445.64" width="0.60" height="7.20" rx="0" fill="#6c6cd4" stroke="#333" stroke-width="0.35"/>
<rect x="536.30" y="455.35" width="0.60" height="7.20" rx="0" fill="#6c6cd4" stroke="#333" stroke-width="0.35"/>
<rect x="535.40" y="465.06" width="1.20" height="7.20" rx="0" fill="#6c6cd4" stroke="#333" stroke-width="0.35"/>
<rect x="535.40" y="474.77" width="1.20" height="7.20" rx="0" fill="#6c6cd4" stroke="#333" stroke-width="0.35"/>
<rect x="534.90" y="484.48" width="1.70" height="7.20" rx="0" fill="#6c6cd4" stroke="#333" stroke-width="0.35"/>
<rect x="533.10" y="494.19" width="3.50" height="7.20" rx="0" fill="#6c6cd4" stroke="#333" stroke-width="0.35"/>
<rect x="528.40" y="503.90" width="8.20" height="7.20" rx="0" fill="#6c6cd4" stroke="#333" stroke-width="0.35"/>
<rect x="524.60" y="513.61" width="12.00" height="7.20" rx="0" fill="#3d9e40" stroke="#333" stroke-width="0.35"/>
<rect x="583.40" y="309.70" width="4.30" height="7.20" rx="0" fill="#6c6cd4" stroke="#333" stroke-width="0.35"/>
<rect x="583.40" y="319.41" width="11.30" height="7.20" rx="0" fill="#c80aee" stroke="#333" stroke-width="0.35"/>
<rect x="583.40" y="329.12" width="3.40" height="7.20" rx="0" fill="#6c6cd4" stroke="#333" stroke-width="0.35"/>
<rect x="583.40" y="338.83" width="3.40" height="7.20" rx="0" fill="#6c6cd4" stroke="#333" stroke-width="0.35"/>
<rect x="583.40" y="348.54" width="2.30" height="7.20" rx="0" fill="#6c6cd4" stroke="#333" stroke-width="0.35"/>
<rect x="583.10" y="358.25" width="0.60" height="7.20" rx="0" fill="#6c6cd4" stroke="#333" stroke-width="0.35"/>
<rect x="583.40" y="367.96" width="5.20" height="7.20" rx="0" fill="#6c6cd4" stroke="#333" stroke-width="0.35"/>
<rect x="583.40" y="377.67" width="4.30" height="7.20" rx="0" fill="#6c6cd4" stroke="#333" stroke-width="0.35"/>
<rect x="583.40" y="387.38" width="3.40" height="7.20" rx="0" fill="#6c6cd4" stroke="#333" stroke-width="0.35"/>
<rect x="583.40" y="397.09" width="1.40" height="7.20" rx="0" fill="#6c6cd4" stroke="#333" stroke-width="0.35"/>
<rect x="583.40" y="406.80" width="6.30" height="7.20" rx="0" fill="#c80aee" stroke="#333" stroke-width="0.35"/>
<rect x="583.40" y="416.51" width="5.50" height="7.20" rx="0" fill="#c80aee" stroke="#333" stroke-width="0.35"/>
<rect x="581.90" y="426.22" width="1.50" height="7.20" rx="0" fill="#6c6cd4" stroke="#333" stroke-width="0.35"/>
<rect x="583.40" y="435.93" width="0.80" height="7.20" rx="0" fill="#6c6cd4" stroke="#333" stroke-width="0.35"/>
<rect x="583.40" y="445.64" width="0.80" height="7.20" rx="0" fill="#6c6cd4" stroke="#333" stroke-width="0.35"/>
<rect x="583.10" y="455.35" width="0.60" height="7.20" rx="0" fill="#6c6cd4" stroke="#333" stroke-width="0.35"/>
<rect x="583.10" y="465.06" width="0.60" height="7.20" rx="0" fill="#6c6cd4" stroke="#333" stroke-width="0.35"/>
<rect x="583.10" y="474.77" width="0.60" height="7.20" rx="0" fill="#6c6cd4" stroke="#333" stroke-width="0.35"/>
<rect x="581.00" y="484.48" width="2.40" height="7.20" rx="0" fill="#6c6cd4" stroke="#333" stroke-width="0.35"/>
<rect x="583.10" y="494.19" width="0.60" height="7.20" rx="0" fill="#6c6cd4" stroke="#333" stroke-width="0.35"/>
<rect x="583.40" y="503.90" width="4.30" height="7.20" rx="0" fill="#6c6cd4" stroke="#333" stroke-width="0.35"/>
<rect x="583.40" y="513.61" width="12.50" height="7.20" rx="0" fill="#c80aee" stroke="#333" stroke-width="0.35"/>
<rect x="626.00" y="309.70" width="5.80" height="7.20" rx="0" fill="#6c6cd4" stroke="#333" stroke-width="0.35"/>
<rect x="631.80" y="319.41" width="5.80" height="7.20" rx="0" fill="#c80aee" stroke="#333" stroke-width="0.35"/>
<rect x="630.60" y="329.12" width="1.20" height="7.20" rx="0" fill="#6c6cd4" stroke="#333" stroke-width="0.35"/>
<rect x="631.50" y="338.83" width="0.60" height="7.20" rx="0" fill="#6c6cd4" stroke="#333" stroke-width="0.35"/>
<rect x="631.50" y="348.54" width="0.60" height="7.20" rx="0" fill="#6c6cd4" stroke="#333" stroke-width="0.35"/>
<rect x="630.00" y="358.25" width="1.80" height="7.20" rx="0" fill="#6c6cd4" stroke="#333" stroke-width="0.35"/>
<rect x="631.80" y="367.96" width="2.30" height="7.20" rx="0" fill="#6c6cd4" stroke="#333" stroke-width="0.35"/>
<rect x="631.80" y="377.67" width="1.70" height="7.20" rx="0" fill="#6c6cd4" stroke="#333" stroke-width="0.35"/>
<rect x="631.80" y="387.38" width="1.70" height="7.20" rx="0" fill="#6c6cd4" stroke="#333" stroke-width="0.35"/>
<rect x="631.50" y="397.09" width="0.60" height="7.20" rx="0" fill="#6c6cd4" stroke="#333" stroke-width="0.35"/>
<rect x="631.50" y="406.80" width="0.60" height="7.20" rx="0" fill="#6c6cd4" stroke="#333" stroke-width="0.35"/>
<rect x="631.80" y="416.51" width="4.70" height="7.20" rx="0" fill="#6c6cd4" stroke="#333" stroke-width="0.35"/>
<rect x="630.00" y="426.22" width="1.80" height="7.20" rx="0" fill="#6c6cd4" stroke="#333" stroke-width="0.35"/>
<rect x="631.80" y="435.93" width="0.80" height="7.20" rx="0" fill="#6c6cd4" stroke="#333" stroke-width="0.35"/>
<rect x="631.80" y="445.64" width="0.80" height="7.20" rx="0" fill="#6c6cd4" stroke="#333" stroke-width="0.35"/>
<rect x="631.50" y="455.35" width="0.60" height="7.20" rx="0" fill="#6c6cd4" stroke="#333" stroke-width="0.35"/>
<rect x="631.80" y="465.06" width="1.20" height="7.20" rx="0" fill="#6c6cd4" stroke="#333" stroke-width="0.35"/>
<rect x="631.80" y="474.77" width="1.70" height="7.20" rx="0" fill="#6c6cd4" stroke="#333" stroke-width="0.35"/>
<rect x="631.50" y="484.48" width="0.60" height="7.20" rx="0" fill="#6c6cd4" stroke="#333" stroke-width="0.35"/>
<rect x="631.80" y="494.19" width="6.70" height="7.20" rx="0" fill="#6c6cd4" stroke="#333" stroke-width="0.35"/>
<rect x="631.80" y="503.90" width="13.10" height="7.20" rx="0" fill="#c80aee" stroke="#333" stroke-width="0.35"/>
<rect x="631.80" y="513.61" width="6.10" height="7.20" rx="0" fill="#c80aee" stroke="#333" stroke-width="0.35"/>
<path d="M536.6,307.9 L536.6,522.1" fill="none" stroke="#444" stroke-width="0.45"/>
<path d="M583.4,307.9 L583.4,522.1" fill="none" stroke="#444" stroke-width="0.45"/>
<path d="M631.8,307.9 L631.8,522.1" fill="none" stroke="#444" stroke-width="0.45"/>
<text x="535.20" y="305.40" font-size="7.6" font-weight="bold" text-anchor="end" fill="#111" dominant-baseline="central" stroke="#111" stroke-width="0.12">4h</text>
<text x="538.40" y="305.40" font-size="7.6" font-weight="bold" text-anchor="start" fill="#111" dominant-baseline="central" stroke="#111" stroke-width="0.12">12h</text>
<path d="M536.6,306.9 L536.6,308.9" fill="none" stroke="#444" stroke-width="0.4"/>
<text x="582.00" y="305.40" font-size="7.6" font-weight="bold" text-anchor="end" fill="#111" dominant-baseline="central" stroke="#111" stroke-width="0.12">4h</text>
<text x="585.20" y="305.40" font-size="7.6" font-weight="bold" text-anchor="start" fill="#111" dominant-baseline="central" stroke="#111" stroke-width="0.12">48h</text>
<path d="M583.4,306.9 L583.4,308.9" fill="none" stroke="#444" stroke-width="0.4"/>
<text x="630.40" y="305.40" font-size="7.6" font-weight="bold" text-anchor="end" fill="#111" dominant-baseline="central" stroke="#111" stroke-width="0.12">12h</text>
<text x="633.60" y="305.40" font-size="7.6" font-weight="bold" text-anchor="start" fill="#111" dominant-baseline="central" stroke="#111" stroke-width="0.12">48h</text>
<path d="M631.8,306.9 L631.8,308.9" fill="none" stroke="#444" stroke-width="0.4"/>
<text x="517.25" y="533.80" font-size="7.1" font-weight="normal" text-anchor="middle" fill="#222" dominant-baseline="central" stroke="#222" stroke-width="0.12">–5</text>
<text x="536.60" y="533.80" font-size="7.1" font-weight="normal" text-anchor="middle" fill="#222" dominant-baseline="central" stroke="#222" stroke-width="0.12">0</text>
<text x="555.05" y="533.80" font-size="7.1" font-weight="normal" text-anchor="middle" fill="#222" dominant-baseline="central" stroke="#222" stroke-width="0.12">5</text>
<text x="564.25" y="533.80" font-size="7.1" font-weight="normal" text-anchor="middle" fill="#222" dominant-baseline="central" stroke="#222" stroke-width="0.12">–5</text>
<text x="583.40" y="533.80" font-size="7.1" font-weight="normal" text-anchor="middle" fill="#222" dominant-baseline="central" stroke="#222" stroke-width="0.12">0</text>
<text x="601.65" y="533.80" font-size="7.1" font-weight="normal" text-anchor="middle" fill="#222" dominant-baseline="central" stroke="#222" stroke-width="0.12">5</text>
<text x="612.40" y="533.80" font-size="7.1" font-weight="normal" text-anchor="middle" fill="#222" dominant-baseline="central" stroke="#222" stroke-width="0.12">–5</text>
<text x="631.80" y="533.80" font-size="7.1" font-weight="normal" text-anchor="middle" fill="#222" dominant-baseline="central" stroke="#222" stroke-width="0.12">0</text>
<text x="650.30" y="533.80" font-size="7.1" font-weight="normal" text-anchor="middle" fill="#222" dominant-baseline="central" stroke="#222" stroke-width="0.12">5</text>
<text x="585.60" y="544.80" font-size="7.4" font-weight="bold" text-anchor="middle" fill="#111" dominant-baseline="central" stroke="#111" stroke-width="0.12">gene expression fold change</text>
<rect x="466.80" y="269.60" width="212.50" height="25.80" rx="0" fill="none" stroke="#111" stroke-width="1.25" stroke-dasharray="3.3,2.0"/>
<text x="467.60" y="277.40" font-size="5.95" font-weight="bold" text-anchor="start" fill="#111" dominant-baseline="central" stroke="#111" stroke-width="0.12">significance hypothesis:</text>
<text x="493.30" y="288.10" font-size="5.9" font-weight="bold" text-anchor="start" fill="#111" dominant-baseline="central" stroke="#111" stroke-width="0.12"><tspan font-style="italic">p</tspan>=0.01</text>
<circle cx="542.00" cy="278.70" r="3.7" fill="#3d9e40"/>
<text x="548.30" y="278.90" font-size="5.4" font-weight="normal" text-anchor="start" fill="#222" dominant-baseline="central" stroke="#222" stroke-width="0.12">max expression at. 4h</text>
<circle cx="615.20" cy="278.70" r="3.7" fill="#c80aee"/>
<text x="620.20" y="278.90" font-size="5.4" font-weight="normal" text-anchor="start" fill="#222" dominant-baseline="central" stroke="#222" stroke-width="0.12">max expression at 48h</text>
<circle cx="542.00" cy="290.80" r="3.7" fill="#0a24f5"/>
<text x="548.30" y="290.60" font-size="5.4" font-weight="normal" text-anchor="start" fill="#222" dominant-baseline="central" stroke="#222" stroke-width="0.12">max expression at. 12h</text>
<circle cx="615.20" cy="290.80" r="3.7" fill="#6c6cd4"/>
<text x="620.20" y="290.60" font-size="5.4" font-weight="normal" text-anchor="start" fill="#222" dominant-baseline="central" stroke="#222" stroke-width="0.12">non-significant</text>
<g>
<rect x="21.70" y="579.30" width="78.20" height="59.00" rx="0" fill="#fff" stroke="none" stroke-width="1"/>
<path d="M23.6,579.3 L23.6,638.3" fill="none" stroke="#ececec" stroke-width="0.5"/>
<path d="M39.0,579.3 L39.0,638.3" fill="none" stroke="#ececec" stroke-width="0.5"/>
<path d="M54.3,579.3 L54.3,638.3" fill="none" stroke="#ececec" stroke-width="0.5"/>
<path d="M69.7,579.3 L69.7,638.3" fill="none" stroke="#ececec" stroke-width="0.5"/>
<path d="M85.1,579.3 L85.1,638.3" fill="none" stroke="#ececec" stroke-width="0.5"/>
<path d="M31.3,579.3 L31.3,638.3" fill="none" stroke="#f5f5f5" stroke-width="0.4"/>
<path d="M46.7,579.3 L46.7,638.3" fill="none" stroke="#f5f5f5" stroke-width="0.4"/>
<path d="M62.0,579.3 L62.0,638.3" fill="none" stroke="#f5f5f5" stroke-width="0.4"/>
<path d="M77.4,579.3 L77.4,638.3" fill="none" stroke="#f5f5f5" stroke-width="0.4"/>
<path d="M92.8,579.3 L92.8,638.3" fill="none" stroke="#f5f5f5" stroke-width="0.4"/>
<path d="M21.7,637.6 L99.9,637.6" fill="none" stroke="#ececec" stroke-width="0.5"/>
<path d="M21.7,629.0 L99.9,629.0" fill="none" stroke="#ececec" stroke-width="0.5"/>
<path d="M21.7,620.4 L99.9,620.4" fill="none" stroke="#ececec" stroke-width="0.5"/>
<path d="M21.7,611.8 L99.9,611.8" fill="none" stroke="#ececec" stroke-width="0.5"/>
<path d="M21.7,603.2 L99.9,603.2" fill="none" stroke="#ececec" stroke-width="0.5"/>
<path d="M21.7,594.6 L99.9,594.6" fill="none" stroke="#ececec" stroke-width="0.5"/>
<path d="M21.7,586.0 L99.9,586.0" fill="none" stroke="#ececec" stroke-width="0.5"/>
<clipPath id="d1"><rect x="21.7" y="579.3" width="78.2" height="59.0"/></clipPath>
<g clip-path="url(#d1)">
<path d="M23.6,637.6 L25.2,637.4 L26.7,637.0 L28.3,636.5 L29.9,636.0 L31.5,635.3 L33.0,634.7 L34.6,633.9 L36.2,633.2 L37.7,632.4 L39.3,631.5 L40.9,630.2 L42.4,628.4 L44.0,623.6 L45.6,617.1 L47.2,611.2 L48.7,605.1 L50.3,600.0 L51.9,599.2 L53.4,602.8 L55.0,608.5 L56.6,614.0 L58.1,617.4 L59.7,619.8 L61.3,621.9 L62.9,624.3 L64.4,626.7 L66.0,628.6 L67.6,629.4 L69.1,630.0 L70.7,630.6 L72.3,631.1 L73.8,631.6 L75.4,632.0 L77.0,632.5 L78.6,632.9 L80.1,633.2 L81.7,633.5 L83.3,633.8 L84.8,634.1 L86.4,634.3 L88.0,634.5 L89.5,634.7 L91.1,634.8 L92.7,634.9 L94.3,635.0 L95.8,635.0 L97.4,635.0 L97.4,630.7 L95.8,630.7 L94.3,630.6 L92.7,630.6 L91.1,630.4 L89.5,630.3 L88.0,630.1 L86.4,629.8 L84.8,629.5 L83.3,629.2 L81.7,628.8 L80.1,628.4 L78.6,627.9 L77.0,627.4 L75.4,626.8 L73.8,626.1 L72.3,625.5 L70.7,624.7 L69.1,623.9 L67.6,623.1 L66.0,621.9 L64.4,618.7 L62.9,614.5 L61.3,610.9 L59.7,607.7 L58.1,604.7 L56.6,601.2 L55.0,597.0 L53.4,592.9 L51.9,590.5 L50.3,590.3 L48.7,590.3 L47.2,590.3 L45.6,592.0 L44.0,596.6 L42.4,602.0 L40.9,607.3 L39.3,613.6 L37.7,619.8 L36.2,624.2 L34.6,626.8 L33.0,629.1 L31.5,631.2 L29.9,633.1 L28.3,634.6 L26.7,635.8 L25.2,636.5 L23.6,636.7Z" fill="#a6eea6" fill-opacity="0.6" stroke="none"/>
<path d="M23.6,637.6 L25.2,637.4 L26.7,636.9 L28.3,636.1 L29.9,635.0 L31.5,633.7 L33.0,632.2 L34.6,630.5 L36.2,628.7 L37.7,625.7 L39.3,621.5 L40.9,616.2 L42.4,609.9 L44.0,598.7 L45.6,594.6 L47.2,594.6 L48.7,594.6 L50.3,594.6 L51.9,594.6 L53.4,595.0 L55.0,604.1 L56.6,612.5 L58.1,619.2 L59.7,621.9 L61.3,623.6 L62.9,624.9 L64.4,625.8 L66.0,626.6 L67.6,627.2 L69.1,627.8 L70.7,628.5 L72.3,629.0 L73.8,629.6 L75.4,630.1 L77.0,630.6 L78.6,631.1 L80.1,631.6 L81.7,632.0 L83.3,632.4 L84.8,632.7 L86.4,633.1 L88.0,633.3 L89.5,633.6 L91.1,633.8 L92.7,633.9 L94.3,634.1 L95.8,634.1 L97.4,634.2 L97.4,632.4 L95.8,632.4 L94.3,632.3 L92.7,632.2 L91.1,632.1 L89.5,631.9 L88.0,631.6 L86.4,631.4 L84.8,631.0 L83.3,630.7 L81.7,630.3 L80.1,629.8 L78.6,629.4 L77.0,628.9 L75.4,628.3 L73.8,627.7 L72.3,627.1 L70.7,626.5 L69.1,625.8 L67.6,625.1 L66.0,624.4 L64.4,623.5 L62.9,622.3 L61.3,620.6 L59.7,618.2 L58.1,613.5 L56.6,597.6 L55.0,586.4 L53.4,581.7 L51.9,581.7 L50.3,581.7 L48.7,581.7 L47.2,581.7 L45.6,581.7 L44.0,584.5 L42.4,592.8 L40.9,599.9 L39.3,607.5 L37.7,614.6 L36.2,619.8 L34.6,623.2 L33.0,626.3 L31.5,629.1 L29.9,631.7 L28.3,633.8 L26.7,635.4 L25.2,636.4 L23.6,636.7Z" fill="#a6b9f6" fill-opacity="0.6" stroke="none"/>
<path d="M23.6,637.6 L25.2,637.4 L26.7,636.7 L28.3,635.6 L29.9,634.2 L31.5,632.4 L33.0,630.3 L34.6,628.0 L36.2,625.4 L37.7,622.7 L39.3,619.7 L40.9,613.6 L42.4,605.6 L44.0,599.0 L45.6,596.5 L47.2,595.6 L48.7,595.0 L50.3,594.7 L51.9,595.3 L53.4,601.5 L55.0,609.6 L56.6,615.1 L58.1,620.3 L59.7,623.9 L61.3,625.0 L62.9,625.6 L64.4,626.2 L66.0,626.8 L67.6,627.3 L69.1,627.7 L70.7,628.2 L72.3,628.6 L73.8,628.9 L75.4,629.2 L77.0,629.5 L78.6,629.8 L80.1,630.0 L81.7,630.3 L83.3,630.4 L84.8,630.6 L86.4,630.7 L88.0,630.9 L89.5,631.0 L91.1,631.0 L92.7,631.1 L94.3,631.1 L95.8,631.1 L97.4,631.1 L97.4,628.1 L95.8,628.1 L94.3,628.1 L92.7,628.1 L91.1,628.0 L89.5,627.9 L88.0,627.8 L86.4,627.7 L84.8,627.5 L83.3,627.3 L81.7,627.1 L80.1,626.8 L78.6,626.6 L77.0,626.2 L75.4,625.9 L73.8,625.5 L72.3,625.1 L70.7,624.6 L69.1,624.1 L67.6,623.5 L66.0,622.9 L64.4,622.2 L62.9,621.5 L61.3,620.8 L59.7,619.3 L58.1,614.2 L56.6,607.3 L55.0,600.7 L53.4,592.6 L51.9,586.6 L50.3,586.1 L48.7,586.9 L47.2,588.1 L45.6,589.8 L44.0,593.1 L42.4,600.3 L40.9,608.7 L39.3,615.3 L37.7,618.8 L36.2,622.0 L34.6,625.1 L33.0,627.9 L31.5,630.4 L29.9,632.6 L28.3,634.3 L26.7,635.6 L25.2,636.5 L23.6,636.7Z" fill="#f6aaaa" fill-opacity="0.6" stroke="none"/>
<path d="M23.6,637.2 L25.2,636.9 L26.7,636.1 L28.3,634.9 L29.9,633.4 L31.5,631.4 L33.0,629.3 L34.6,626.8 L36.2,624.2 L37.7,620.3 L39.3,614.7 L40.9,608.3 L42.4,601.2 L44.0,590.7 L45.6,586.7 L47.2,586.4 L48.7,586.2 L50.3,586.1 L51.9,586.0 L53.4,587.8 L55.0,595.8 L56.6,605.5 L58.1,616.5 L59.7,620.1 L61.3,622.2 L62.9,623.7 L64.4,624.9 L66.0,625.7 L67.6,626.4 L69.1,627.0 L70.7,627.7 L72.3,628.3 L73.8,628.8 L75.4,629.4 L77.0,629.9 L78.6,630.4 L80.1,630.8 L81.7,631.2 L83.3,631.6 L84.8,632.0 L86.4,632.3 L88.0,632.5 L89.5,632.8 L91.1,633.0 L92.7,633.1 L94.3,633.2 L95.8,633.3 L97.4,633.3" fill="none" stroke="#6b8cf2" stroke-width="0.6"/>
<path d="M23.6,637.2 L25.2,636.9 L26.7,636.2 L28.3,634.9 L29.9,633.3 L31.5,631.4 L33.0,629.1 L34.6,626.5 L36.2,623.7 L37.7,620.7 L39.3,617.5 L40.9,611.6 L42.4,604.0 L44.0,597.3 L45.6,594.0 L47.2,592.0 L48.7,590.5 L50.3,589.6 L51.9,590.1 L53.4,596.6 L55.0,605.1 L56.6,611.2 L58.1,616.9 L59.7,621.3 L61.3,623.3 L62.9,624.7 L64.4,625.8 L66.0,626.6 L67.6,627.2 L69.1,627.6 L70.7,627.8 L72.3,628.0 L73.8,628.2 L75.4,628.4 L77.0,628.5 L78.6,628.7 L80.1,628.8 L81.7,628.9 L83.3,629.0 L84.8,629.1 L86.4,629.2 L88.0,629.2 L89.5,629.3 L91.1,629.3 L92.7,629.4 L94.3,629.4 L95.8,629.4 L97.4,629.4" fill="none" stroke="#f27878" stroke-width="0.6"/>
<path d="M23.6,637.6 L25.2,637.5 L26.7,637.2 L28.3,636.8 L29.9,636.3 L31.5,635.5 L33.0,634.3 L34.6,632.7 L36.2,630.8 L37.7,627.9 L39.3,623.7 L40.9,616.8 L42.4,610.3 L44.0,604.5 L45.6,602.1 L47.2,601.5 L48.7,602.2 L50.3,604.6 L51.9,611.4 L53.4,616.9 L55.0,621.1 L56.6,623.4 L58.1,624.9 L59.7,626.0 L61.3,626.8 L62.9,627.6 L64.4,628.2 L66.0,628.7 L67.6,629.2 L69.1,629.7 L70.7,630.1 L72.3,630.6 L73.8,630.9 L75.4,631.3 L77.0,631.7 L78.6,632.0 L80.1,632.3 L81.7,632.6 L83.3,632.9 L84.8,633.2 L86.4,633.6 L88.0,633.8 L89.5,634.1 L91.1,634.4 L92.7,634.7 L94.3,635.0 L95.8,635.2 L97.4,635.5" fill="none" stroke="#1ecf1e" stroke-width="1.45" stroke-dasharray="3.8,1.6"/>
<path d="M23.6,637.6 L25.2,637.5 L26.7,637.2 L28.3,636.8 L29.9,636.3 L31.5,635.5 L33.0,634.4 L34.6,633.0 L36.2,631.3 L37.7,628.5 L39.3,624.6 L40.9,617.9 L42.4,611.1 L44.0,604.8 L45.6,601.2 L47.2,599.4 L48.7,598.8 L50.3,598.6 L51.9,598.5 L53.4,602.2 L55.0,609.6 L56.6,616.2 L58.1,619.4 L59.7,621.3 L61.3,622.8 L62.9,624.0 L64.4,625.1 L66.0,626.0 L67.6,626.8 L69.1,627.5 L70.7,628.1 L72.3,628.7 L73.8,629.2 L75.4,629.7 L77.0,630.1 L78.6,630.5 L80.1,630.9 L81.7,631.3 L83.3,631.6 L84.8,632.0 L86.4,632.3 L88.0,632.6 L89.5,632.9 L91.1,633.2 L92.7,633.5 L94.3,633.7 L95.8,633.9 L97.4,634.2" fill="none" stroke="#1c3ff0" stroke-width="1.45" stroke-dasharray="3.8,1.6"/>
<path d="M23.6,637.6 L25.2,637.4 L26.7,636.9 L28.3,636.2 L29.9,635.4 L31.5,634.3 L33.0,632.8 L34.6,630.8 L36.2,628.6 L37.7,625.4 L39.3,621.1 L40.9,614.4 L42.4,608.4 L44.0,603.4 L45.6,601.2 L47.2,600.6 L48.7,601.8 L50.3,605.4 L51.9,612.6 L53.4,618.2 L55.0,621.3 L56.6,622.9 L58.1,624.0 L59.7,625.0 L61.3,625.8 L62.9,626.5 L64.4,627.2 L66.0,627.8 L67.6,628.3 L69.1,628.8 L70.7,629.3 L72.3,629.7 L73.8,630.1 L75.4,630.5 L77.0,630.8 L78.6,631.2 L80.1,631.5 L81.7,631.8 L83.3,632.1 L84.8,632.4 L86.4,632.7 L88.0,633.0 L89.5,633.3 L91.1,633.6 L92.7,633.8 L94.3,634.1 L95.8,634.3 L97.4,634.6" fill="none" stroke="#ec1e1e" stroke-width="1.45" stroke-dasharray="3.8,1.6"/>
</g>
<rect x="21.70" y="579.30" width="78.20" height="59.00" rx="0" fill="none" stroke="#9a9a9a" stroke-width="0.7"/>
</g>
<text x="20.50" y="637.60" font-size="6.2" font-weight="normal" text-anchor="end" fill="#222" dominant-baseline="central" stroke="#222" stroke-width="0.12">0</text>
<text x="20.50" y="629.00" font-size="6.2" font-weight="normal" text-anchor="end" fill="#222" dominant-baseline="central" stroke="#222" stroke-width="0.12">2</text>
<text x="20.50" y="620.40" font-size="6.2" font-weight="normal" text-anchor="end" fill="#222" dominant-baseline="central" stroke="#222" stroke-width="0.12">4</text>
<text x="20.50" y="611.80" font-size="6.2" font-weight="normal" text-anchor="end" fill="#222" dominant-baseline="central" stroke="#222" stroke-width="0.12">6</text>
<text x="20.50" y="603.20" font-size="6.2" font-weight="normal" text-anchor="end" fill="#222" dominant-baseline="central" stroke="#222" stroke-width="0.12">8</text>
<text x="20.50" y="594.60" font-size="6.2" font-weight="normal" text-anchor="end" fill="#222" dominant-baseline="central" stroke="#222" stroke-width="0.12">10</text>
<text x="20.50" y="586.00" font-size="6.2" font-weight="normal" text-anchor="end" fill="#222" dominant-baseline="central" stroke="#222" stroke-width="0.12">12</text>
<text x="23.60" y="644.20" font-size="6.2" font-weight="normal" text-anchor="middle" fill="#222" dominant-baseline="central" stroke="#222" stroke-width="0.12">0</text>
<text x="38.98" y="644.20" font-size="6.2" font-weight="normal" text-anchor="middle" fill="#222" dominant-baseline="central" stroke="#222" stroke-width="0.12">25</text>
<text x="54.35" y="644.20" font-size="6.2" font-weight="normal" text-anchor="middle" fill="#222" dominant-baseline="central" stroke="#222" stroke-width="0.12">50</text>
<text x="69.72" y="644.20" font-size="6.2" font-weight="normal" text-anchor="middle" fill="#222" dominant-baseline="central" stroke="#222" stroke-width="0.12">75</text>
<text x="85.10" y="644.20" font-size="6.2" font-weight="normal" text-anchor="middle" fill="#222" dominant-baseline="central" stroke="#222" stroke-width="0.12">100</text>
<text x="57.80" y="574.80" font-size="7.3" font-weight="bold" text-anchor="middle" fill="#111" dominant-baseline="central" stroke="#111" stroke-width="0.12">live cells</text>
<text x="6.50" y="609.70" font-size="7.6" font-weight="bold" text-anchor="middle" fill="#111" dominant-baseline="central" transform="rotate(-90 6.50 609.70)" stroke="#111" stroke-width="0.12">10<tspan font-size="4.5" dy="-2.6">5</tspan><tspan dy="2.6"> cells/uL</tspan></text>
<g>
<rect x="133.00" y="579.10" width="80.60" height="59.20" rx="0" fill="#fff" stroke="none" stroke-width="1"/>
<path d="M133.9,579.1 L133.9,638.3" fill="none" stroke="#ececec" stroke-width="0.5"/>
<path d="M150.1,579.1 L150.1,638.3" fill="none" stroke="#ececec" stroke-width="0.5"/>
<path d="M166.3,579.1 L166.3,638.3" fill="none" stroke="#ececec" stroke-width="0.5"/>
<path d="M182.5,579.1 L182.5,638.3" fill="none" stroke="#ececec" stroke-width="0.5"/>
<path d="M198.7,579.1 L198.7,638.3" fill="none" stroke="#ececec" stroke-width="0.5"/>
<path d="M142.0,579.1 L142.0,638.3" fill="none" stroke="#f5f5f5" stroke-width="0.4"/>
<path d="M158.2,579.1 L158.2,638.3" fill="none" stroke="#f5f5f5" stroke-width="0.4"/>
<path d="M174.4,579.1 L174.4,638.3" fill="none" stroke="#f5f5f5" stroke-width="0.4"/>
<path d="M190.6,579.1 L190.6,638.3" fill="none" stroke="#f5f5f5" stroke-width="0.4"/>
<path d="M206.8,579.1 L206.8,638.3" fill="none" stroke="#f5f5f5" stroke-width="0.4"/>
<path d="M133.0,635.3 L213.6,635.3" fill="none" stroke="#ececec" stroke-width="0.5"/>
<path d="M133.0,625.6 L213.6,625.6" fill="none" stroke="#ececec" stroke-width="0.5"/>
<path d="M133.0,616.0 L213.6,616.0" fill="none" stroke="#ececec" stroke-width="0.5"/>
<path d="M133.0,606.3 L213.6,606.3" fill="none" stroke="#ececec" stroke-width="0.5"/>
<path d="M133.0,596.7 L213.6,596.7" fill="none" stroke="#ececec" stroke-width="0.5"/>
<path d="M133.0,587.0 L213.6,587.0" fill="none" stroke="#ececec" stroke-width="0.5"/>
<clipPath id="d2"><rect x="133" y="579.1" width="80.6" height="59.19999999999993"/></clipPath>
<g clip-path="url(#d2)">
<path d="M133.9,583.1 L135.6,583.2 L137.2,583.6 L138.9,584.1 L140.5,584.7 L142.2,585.6 L143.8,586.6 L145.5,587.8 L147.1,589.2 L148.8,592.3 L150.4,597.1 L152.1,602.5 L153.8,607.5 L155.4,612.1 L157.1,617.3 L158.7,625.3 L160.4,630.5 L162.0,633.2 L163.7,635.1 L165.3,636.2 L167.0,636.5 L168.6,636.7 L170.3,636.8 L172.0,636.9 L173.6,637.0 L175.3,637.1 L176.9,637.2 L178.6,637.3 L180.2,637.4 L181.9,637.5 L183.5,637.5 L185.2,637.6 L186.8,637.7 L188.5,637.7 L190.2,637.8 L191.8,637.8 L193.5,637.8 L195.1,637.9 L196.8,637.9 L198.4,637.9 L200.1,637.9 L201.7,638.0 L203.4,638.0 L205.0,638.0 L206.7,638.0 L208.4,638.0 L210.0,638.0 L211.7,638.0 L211.7,634.1 L210.0,634.1 L208.4,634.1 L206.7,634.1 L205.0,634.1 L203.4,634.1 L201.7,634.1 L200.1,634.0 L198.4,634.0 L196.8,633.9 L195.1,633.9 L193.5,633.8 L191.8,633.8 L190.2,633.7 L188.5,633.6 L186.8,633.5 L185.2,633.4 L183.5,633.3 L181.9,633.2 L180.2,633.0 L178.6,632.9 L176.9,632.7 L175.3,632.6 L173.6,632.4 L172.0,632.2 L170.3,632.0 L168.6,631.8 L167.0,631.5 L165.3,631.1 L163.7,629.7 L162.0,627.1 L160.4,623.3 L158.7,609.7 L157.1,592.6 L155.4,591.7 L153.8,591.1 L152.1,589.9 L150.4,588.2 L148.8,586.5 L147.1,585.2 L145.5,584.4 L143.8,583.7 L142.2,583.0 L140.5,582.4 L138.9,581.9 L137.2,581.5 L135.6,581.3 L133.9,581.2Z" fill="#a6eea6" fill-opacity="0.6" stroke="none"/>
<path d="M133.9,583.1 L135.6,583.2 L137.2,583.4 L138.9,583.7 L140.5,584.2 L142.2,584.7 L143.8,585.4 L145.5,586.2 L147.1,587.2 L148.8,589.6 L150.4,593.6 L152.1,598.5 L153.8,603.9 L155.4,612.3 L157.1,621.1 L158.7,625.9 L160.4,627.9 L162.0,629.5 L163.7,630.6 L165.3,631.3 L167.0,631.5 L168.6,631.6 L170.3,631.7 L172.0,631.8 L173.6,631.8 L175.3,631.9 L176.9,632.0 L178.6,632.1 L180.2,632.1 L181.9,632.2 L183.5,632.2 L185.2,632.3 L186.8,632.3 L188.5,632.4 L190.2,632.4 L191.8,632.4 L193.5,632.5 L195.1,632.5 L196.8,632.5 L198.4,632.5 L200.1,632.5 L201.7,632.6 L203.4,632.6 L205.0,632.6 L206.7,632.6 L208.4,632.6 L210.0,632.6 L211.7,632.6 L211.7,629.5 L210.0,629.5 L208.4,629.5 L206.7,629.5 L205.0,629.5 L203.4,629.5 L201.7,629.5 L200.1,629.5 L198.4,629.5 L196.8,629.5 L195.1,629.5 L193.5,629.5 L191.8,629.5 L190.2,629.5 L188.5,629.5 L186.8,629.5 L185.2,629.5 L183.5,629.5 L181.9,629.5 L180.2,629.5 L178.6,629.5 L176.9,629.5 L175.3,629.5 L173.6,629.5 L172.0,629.5 L170.3,629.5 L168.6,629.5 L167.0,629.5 L165.3,629.4 L163.7,628.5 L162.0,626.9 L160.4,624.8 L158.7,622.1 L157.1,616.0 L155.4,605.4 L153.8,596.1 L152.1,591.5 L150.4,587.7 L148.8,584.8 L147.1,583.2 L145.5,582.7 L143.8,582.3 L142.2,582.0 L140.5,581.7 L138.9,581.5 L137.2,581.3 L135.6,581.2 L133.9,581.2Z" fill="#a6b9f6" fill-opacity="0.6" stroke="none"/>
<path d="M133.9,582.4 L135.6,582.4 L137.2,582.5 L138.9,582.8 L140.5,583.1 L142.2,583.5 L143.8,584.0 L145.5,584.5 L147.1,585.2 L148.8,587.2 L150.4,590.6 L152.1,595.0 L153.8,600.0 L155.4,608.8 L157.1,618.5 L158.7,624.0 L160.4,626.5 L162.0,628.6 L163.7,630.1 L165.3,630.9 L167.0,631.0 L168.6,631.0 L170.3,631.0 L172.0,631.0 L173.6,631.0 L175.3,631.0 L176.9,631.0 L178.6,631.0 L180.2,631.0 L181.9,631.0 L183.5,631.0 L185.2,631.0 L186.8,631.0 L188.5,631.0 L190.2,631.0 L191.8,631.0 L193.5,631.0 L195.1,631.0 L196.8,631.0 L198.4,631.0 L200.1,631.0 L201.7,631.0 L203.4,631.0 L205.0,631.0 L206.7,631.0 L208.4,631.0 L210.0,631.0 L211.7,631.0" fill="none" stroke="#6b8cf2" stroke-width="0.6"/>
<path d="M133.9,581.6 L135.6,581.7 L137.2,581.8 L138.9,582.1 L140.5,582.5 L142.2,583.1 L143.8,583.7 L145.5,584.4 L147.1,585.2 L148.8,587.0 L150.4,589.8 L152.1,593.5 L153.8,598.0 L155.4,606.6 L157.1,616.4 L158.7,622.1 L160.4,624.7 L162.0,626.8 L163.7,628.3 L165.3,629.3 L167.0,629.6 L168.6,629.8 L170.3,630.0 L172.0,630.1 L173.6,630.3 L175.3,630.5 L176.9,630.6 L178.6,630.7 L180.2,630.9 L181.9,631.0 L183.5,631.1 L185.2,631.2 L186.8,631.3 L188.5,631.3 L190.2,631.4 L191.8,631.5 L193.5,631.5 L195.1,631.6 L196.8,631.6 L198.4,631.7 L200.1,631.7 L201.7,631.7 L203.4,631.8 L205.0,631.8 L206.7,631.8 L208.4,631.8 L210.0,631.8 L211.7,631.8" fill="none" stroke="#f27878" stroke-width="0.6"/>
<path d="M133.9,587.0 L135.6,587.1 L137.2,587.3 L138.9,587.7 L140.5,588.2 L142.2,589.1 L143.8,590.6 L145.5,592.7 L147.1,595.2 L148.8,599.7 L150.4,605.9 L152.1,615.7 L153.8,623.0 L155.4,627.0 L157.1,628.1 L158.7,628.6 L160.4,628.7 L162.0,628.7 L163.7,628.7 L165.3,628.7 L167.0,628.7 L168.6,628.7 L170.3,628.7 L172.0,628.7 L173.6,628.7 L175.3,628.7 L176.9,628.7 L178.6,628.7 L180.2,628.7 L181.9,628.7 L183.5,628.7 L185.2,628.7 L186.8,628.7 L188.5,628.7 L190.2,628.7 L191.8,628.7 L193.5,628.7 L195.1,628.7 L196.8,628.7 L198.4,628.7 L200.1,628.7 L201.7,628.7 L203.4,628.7 L205.0,628.7 L206.7,628.7 L208.4,628.7 L210.0,628.7 L211.7,628.7" fill="none" stroke="#1ecf1e" stroke-width="1.45" stroke-dasharray="3.8,1.6"/>
<path d="M133.9,587.0 L135.6,587.1 L137.2,587.4 L138.9,587.7 L140.5,588.2 L142.2,589.0 L143.8,590.3 L145.5,592.1 L147.1,594.4 L148.8,598.3 L150.4,603.8 L152.1,612.2 L153.8,619.4 L155.4,624.8 L157.1,627.1 L158.7,627.8 L160.4,628.0 L162.0,628.0 L163.7,628.0 L165.3,628.0 L167.0,628.0 L168.6,628.0 L170.3,628.0 L172.0,628.0 L173.6,628.0 L175.3,628.0 L176.9,628.0 L178.6,628.0 L180.2,628.0 L181.9,628.0 L183.5,628.0 L185.2,628.0 L186.8,628.0 L188.5,628.0 L190.2,628.0 L191.8,628.0 L193.5,628.0 L195.1,628.0 L196.8,628.0 L198.4,628.0 L200.1,628.0 L201.7,628.0 L203.4,628.0 L205.0,628.0 L206.7,628.0 L208.4,628.0 L210.0,628.0 L211.7,628.0" fill="none" stroke="#1c3ff0" stroke-width="1.45" stroke-dasharray="3.8,1.6"/>
<path d="M133.9,587.8 L135.6,587.8 L137.2,588.0 L138.9,588.2 L140.5,588.6 L142.2,589.4 L143.8,590.8 L145.5,592.8 L147.1,595.2 L148.8,599.0 L150.4,604.6 L152.1,614.2 L153.8,620.9 L155.4,624.3 L157.1,625.9 L158.7,626.6 L160.4,626.8 L162.0,626.8 L163.7,626.8 L165.3,626.8 L167.0,626.8 L168.6,626.8 L170.3,626.8 L172.0,626.8 L173.6,626.8 L175.3,626.8 L176.9,626.8 L178.6,626.8 L180.2,626.8 L181.9,626.8 L183.5,626.8 L185.2,626.8 L186.8,626.8 L188.5,626.8 L190.2,626.8 L191.8,626.8 L193.5,626.8 L195.1,626.8 L196.8,626.8 L198.4,626.8 L200.1,626.8 L201.7,626.8 L203.4,626.8 L205.0,626.8 L206.7,626.8 L208.4,626.8 L210.0,626.8 L211.7,626.8" fill="none" stroke="#ec1e1e" stroke-width="1.45" stroke-dasharray="3.8,1.6"/>
</g>
<rect x="133.00" y="579.10" width="80.60" height="59.20" rx="0" fill="none" stroke="#9a9a9a" stroke-width="0.7"/>
</g>
<text x="131.80" y="635.30" font-size="6.2" font-weight="normal" text-anchor="end" fill="#222" dominant-baseline="central" stroke="#222" stroke-width="0.12">5.25</text>
<text x="131.80" y="625.64" font-size="6.2" font-weight="normal" text-anchor="end" fill="#222" dominant-baseline="central" stroke="#222" stroke-width="0.12">5.50</text>
<text x="131.80" y="615.98" font-size="6.2" font-weight="normal" text-anchor="end" fill="#222" dominant-baseline="central" stroke="#222" stroke-width="0.12">5.75</text>
<text x="131.80" y="606.32" font-size="6.2" font-weight="normal" text-anchor="end" fill="#222" dominant-baseline="central" stroke="#222" stroke-width="0.12">6.00</text>
<text x="131.80" y="596.66" font-size="6.2" font-weight="normal" text-anchor="end" fill="#222" dominant-baseline="central" stroke="#222" stroke-width="0.12">6.25</text>
<text x="131.80" y="587.00" font-size="6.2" font-weight="normal" text-anchor="end" fill="#222" dominant-baseline="central" stroke="#222" stroke-width="0.12">6.50</text>
<text x="133.90" y="642.20" font-size="6.2" font-weight="normal" text-anchor="middle" fill="#222" dominant-baseline="central" stroke="#222" stroke-width="0.12">0</text>
<text x="150.10" y="642.20" font-size="6.2" font-weight="normal" text-anchor="middle" fill="#222" dominant-baseline="central" stroke="#222" stroke-width="0.12">25</text>
<text x="166.30" y="642.20" font-size="6.2" font-weight="normal" text-anchor="middle" fill="#222" dominant-baseline="central" stroke="#222" stroke-width="0.12">50</text>
<text x="182.50" y="642.20" font-size="6.2" font-weight="normal" text-anchor="middle" fill="#222" dominant-baseline="central" stroke="#222" stroke-width="0.12">75</text>
<text x="198.70" y="642.20" font-size="6.2" font-weight="normal" text-anchor="middle" fill="#222" dominant-baseline="central" stroke="#222" stroke-width="0.12">100</text>
<text x="173.00" y="574.80" font-size="7.3" font-weight="bold" text-anchor="middle" fill="#111" dominant-baseline="central" stroke="#111" stroke-width="0.12">pH</text>
<text x="113.60" y="607.00" font-size="7.3" font-weight="bold" text-anchor="middle" fill="#111" dominant-baseline="central" transform="rotate(-90 113.60 607.00)" stroke="#111" stroke-width="0.12">pH</text>
<g>
<rect x="15.30" y="662.20" width="84.60" height="58.60" rx="0" fill="#fff" stroke="none" stroke-width="1"/>
<path d="M17.3,662.2 L17.3,720.8" fill="none" stroke="#ececec" stroke-width="0.5"/>
<path d="M34.1,662.2 L34.1,720.8" fill="none" stroke="#ececec" stroke-width="0.5"/>
<path d="M51.0,662.2 L51.0,720.8" fill="none" stroke="#ececec" stroke-width="0.5"/>
<path d="M67.8,662.2 L67.8,720.8" fill="none" stroke="#ececec" stroke-width="0.5"/>
<path d="M84.6,662.2 L84.6,720.8" fill="none" stroke="#ececec" stroke-width="0.5"/>
<path d="M25.7,662.2 L25.7,720.8" fill="none" stroke="#f5f5f5" stroke-width="0.4"/>
<path d="M42.5,662.2 L42.5,720.8" fill="none" stroke="#f5f5f5" stroke-width="0.4"/>
<path d="M59.4,662.2 L59.4,720.8" fill="none" stroke="#f5f5f5" stroke-width="0.4"/>
<path d="M76.2,662.2 L76.2,720.8" fill="none" stroke="#f5f5f5" stroke-width="0.4"/>
<path d="M93.0,662.2 L93.0,720.8" fill="none" stroke="#f5f5f5" stroke-width="0.4"/>
<path d="M15.3,720.0 L99.9,720.0" fill="none" stroke="#ececec" stroke-width="0.5"/>
<path d="M15.3,707.5 L99.9,707.5" fill="none" stroke="#ececec" stroke-width="0.5"/>
<path d="M15.3,694.9 L99.9,694.9" fill="none" stroke="#ececec" stroke-width="0.5"/>
<path d="M15.3,682.3 L99.9,682.3" fill="none" stroke="#ececec" stroke-width="0.5"/>
<path d="M15.3,669.8 L99.9,669.8" fill="none" stroke="#ececec" stroke-width="0.5"/>
<clipPath id="d3"><rect x="15.3" y="662.2" width="84.60000000000001" height="58.59999999999991"/></clipPath>
<g clip-path="url(#d3)">
<path d="M17.3,667.3 L19.0,667.5 L20.7,668.0 L22.5,668.9 L24.2,670.1 L25.9,671.5 L27.6,673.2 L29.3,676.4 L31.0,681.6 L32.8,689.0 L34.5,702.9 L36.2,713.9 L37.9,719.0 L39.6,720.0 L41.4,720.0 L43.1,720.0 L44.8,720.0 L46.5,720.0 L48.2,720.0 L49.9,720.0 L51.7,720.0 L53.4,720.0 L55.1,720.0 L56.8,720.0 L58.5,720.0 L60.3,720.0 L62.0,720.0 L63.7,720.0 L65.4,720.0 L67.1,720.0 L68.8,720.0 L70.6,720.0 L72.3,720.0 L74.0,720.0 L75.7,720.0 L77.4,720.0 L79.2,720.0 L80.9,720.0 L82.6,720.0 L84.3,720.0 L86.0,720.0 L87.8,720.0 L89.5,720.0 L91.2,720.0 L92.9,720.0 L94.6,720.0 L96.3,720.0 L98.1,720.0 L98.1,719.4 L96.3,719.4 L94.6,719.4 L92.9,719.4 L91.2,719.4 L89.5,719.4 L87.8,719.4 L86.0,719.4 L84.3,719.4 L82.6,719.4 L80.9,719.4 L79.2,719.3 L77.4,719.3 L75.7,719.3 L74.0,719.3 L72.3,719.3 L70.6,719.3 L68.8,719.3 L67.1,719.3 L65.4,719.2 L63.7,719.2 L62.0,719.2 L60.3,719.2 L58.5,719.2 L56.8,719.1 L55.1,719.1 L53.4,719.1 L51.7,719.0 L49.9,719.0 L48.2,719.0 L46.5,718.9 L44.8,718.9 L43.1,718.8 L41.4,718.8 L39.6,718.7 L37.9,712.8 L36.2,701.5 L34.5,691.2 L32.8,681.7 L31.0,676.3 L29.3,672.4 L27.6,670.0 L25.9,668.7 L24.2,667.6 L22.5,666.7 L20.7,666.0 L19.0,665.6 L17.3,665.4Z" fill="#a6eea6" fill-opacity="0.6" stroke="none"/>
<path d="M17.3,666.7 L19.0,666.9 L20.7,667.4 L22.5,668.3 L24.2,669.5 L25.9,670.9 L27.6,672.5 L29.3,675.1 L31.0,679.2 L32.8,685.2 L34.5,696.6 L36.2,707.7 L37.9,717.2 L39.6,719.4 L41.4,719.4 L43.1,719.4 L44.8,719.5 L46.5,719.5 L48.2,719.5 L49.9,719.5 L51.7,719.5 L53.4,719.5 L55.1,719.6 L56.8,719.6 L58.5,719.6 L60.3,719.6 L62.0,719.6 L63.7,719.6 L65.4,719.6 L67.1,719.6 L68.8,719.6 L70.6,719.7 L72.3,719.7 L74.0,719.7 L75.7,719.7 L77.4,719.7 L79.2,719.7 L80.9,719.7 L82.6,719.7 L84.3,719.7 L86.0,719.7 L87.8,719.7 L89.5,719.7 L91.2,719.7 L92.9,719.7 L94.6,719.7 L96.3,719.7 L98.1,719.7" fill="none" stroke="#74e274" stroke-width="0.6"/>
<path d="M17.3,667.9 L19.0,668.1 L20.7,668.6 L22.5,669.4 L24.2,670.4 L25.9,671.7 L27.6,673.1 L29.3,675.8 L31.0,680.2 L32.8,686.6 L34.5,699.1 L36.2,710.9 L37.9,719.2 L39.6,719.4 L41.4,719.4 L43.1,719.4 L44.8,719.5 L46.5,719.5 L48.2,719.5 L49.9,719.5 L51.7,719.5 L53.4,719.6 L55.1,719.6 L56.8,719.6 L58.5,719.6 L60.3,719.6 L62.0,719.6 L63.7,719.6 L65.4,719.6 L67.1,719.6 L68.8,719.6 L70.6,719.7 L72.3,719.7 L74.0,719.7 L75.7,719.7 L77.4,719.7 L79.2,719.7 L80.9,719.7 L82.6,719.7 L84.3,719.7 L86.0,719.7 L87.8,719.7 L89.5,719.7 L91.2,719.7 L92.9,719.7 L94.6,719.7 L96.3,719.7 L98.1,719.7" fill="none" stroke="#f27878" stroke-width="0.6"/>
<path d="M17.3,666.0 L19.0,666.1 L20.7,666.4 L22.5,666.8 L24.2,667.3 L25.9,668.8 L27.6,671.4 L29.3,674.6 L31.0,679.0 L32.8,685.4 L34.5,696.2 L36.2,713.2 L37.9,719.1 L39.6,719.4 L41.4,719.4 L43.1,719.4 L44.8,719.4 L46.5,719.4 L48.2,719.4 L49.9,719.4 L51.7,719.4 L53.4,719.4 L55.1,719.4 L56.8,719.4 L58.5,719.4 L60.3,719.4 L62.0,719.4 L63.7,719.4 L65.4,719.4 L67.1,719.4 L68.8,719.4 L70.6,719.4 L72.3,719.4 L74.0,719.4 L75.7,719.4 L77.4,719.4 L79.2,719.4 L80.9,719.4 L82.6,719.4 L84.3,719.4 L86.0,719.4 L87.8,719.4 L89.5,719.4 L91.2,719.4 L92.9,719.4 L94.6,719.4 L96.3,719.4 L98.1,719.4" fill="none" stroke="#1ecf1e" stroke-width="1.45" stroke-dasharray="3.8,1.6"/>
<path d="M17.3,667.9 L19.0,668.1 L20.7,668.5 L22.5,669.1 L24.2,669.9 L25.9,671.4 L27.6,673.9 L29.3,677.2 L31.0,681.7 L32.8,688.6 L34.5,699.8 L36.2,714.4 L37.9,719.1 L39.6,719.4 L41.4,719.4 L43.1,719.4 L44.8,719.4 L46.5,719.4 L48.2,719.4 L49.9,719.4 L51.7,719.4 L53.4,719.4 L55.1,719.4 L56.8,719.4 L58.5,719.4 L60.3,719.4 L62.0,719.4 L63.7,719.4 L65.4,719.4 L67.1,719.4 L68.8,719.4 L70.6,719.4 L72.3,719.4 L74.0,719.4 L75.7,719.4 L77.4,719.4 L79.2,719.4 L80.9,719.4 L82.6,719.4 L84.3,719.4 L86.0,719.4 L87.8,719.4 L89.5,719.4 L91.2,719.4 L92.9,719.4 L94.6,719.4 L96.3,719.4 L98.1,719.4" fill="none" stroke="#ec1e1e" stroke-width="1.45" stroke-dasharray="3.8,1.6"/>
<path d="M17.3,664.2 L19.0,664.2 L20.7,664.3 L22.5,664.5 L24.2,664.8 L25.9,666.2 L27.6,668.9 L29.3,672.1 L31.0,676.2 L32.8,682.3 L34.5,693.4 L36.2,707.9 L37.9,718.4 L39.6,719.4 L41.4,719.4 L43.1,719.4 L44.8,719.4 L46.5,719.4 L48.2,719.4 L49.9,719.4 L51.7,719.4 L53.4,719.4 L55.1,719.4 L56.8,719.4 L58.5,719.4 L60.3,719.4 L62.0,719.4 L63.7,719.4 L65.4,719.4 L67.1,719.4 L68.8,719.4 L70.6,719.4 L72.3,719.4 L74.0,719.4 L75.7,719.4 L77.4,719.4 L79.2,719.4 L80.9,719.4 L82.6,719.4 L84.3,719.4 L86.0,719.4 L87.8,719.4 L89.5,719.4 L91.2,719.4 L92.9,719.4 L94.6,719.4 L96.3,719.4 L98.1,719.4" fill="none" stroke="#1c3ff0" stroke-width="1.45" stroke-dasharray="3.8,1.6"/>
</g>
<rect x="15.30" y="662.20" width="84.60" height="58.60" rx="0" fill="none" stroke="#9a9a9a" stroke-width="0.7"/>
</g>
<text x="14.10" y="720.00" font-size="6.2" font-weight="normal" text-anchor="end" fill="#222" dominant-baseline="central" stroke="#222" stroke-width="0.12">0</text>
<text x="14.10" y="707.45" font-size="6.2" font-weight="normal" text-anchor="end" fill="#222" dominant-baseline="central" stroke="#222" stroke-width="0.12">2</text>
<text x="14.10" y="694.90" font-size="6.2" font-weight="normal" text-anchor="end" fill="#222" dominant-baseline="central" stroke="#222" stroke-width="0.12">4</text>
<text x="14.10" y="682.35" font-size="6.2" font-weight="normal" text-anchor="end" fill="#222" dominant-baseline="central" stroke="#222" stroke-width="0.12">6</text>
<text x="14.10" y="669.80" font-size="6.2" font-weight="normal" text-anchor="end" fill="#222" dominant-baseline="central" stroke="#222" stroke-width="0.12">8</text>
<text x="17.30" y="726.50" font-size="6.2" font-weight="normal" text-anchor="middle" fill="#222" dominant-baseline="central" stroke="#222" stroke-width="0.12">0</text>
<text x="34.12" y="726.50" font-size="6.2" font-weight="normal" text-anchor="middle" fill="#222" dominant-baseline="central" stroke="#222" stroke-width="0.12">25</text>
<text x="50.95" y="726.50" font-size="6.2" font-weight="normal" text-anchor="middle" fill="#222" dominant-baseline="central" stroke="#222" stroke-width="0.12">50</text>
<text x="67.78" y="726.50" font-size="6.2" font-weight="normal" text-anchor="middle" fill="#222" dominant-baseline="central" stroke="#222" stroke-width="0.12">75</text>
<text x="84.60" y="726.50" font-size="6.2" font-weight="normal" text-anchor="middle" fill="#222" dominant-baseline="central" stroke="#222" stroke-width="0.12">100</text>
<text x="57.80" y="658.10" font-size="7.3" font-weight="bold" text-anchor="middle" fill="#111" dominant-baseline="central" stroke="#111" stroke-width="0.12">pyruvate</text>
<text x="6.40" y="689.50" font-size="7.8" font-weight="bold" text-anchor="middle" fill="#111" dominant-baseline="central" transform="rotate(-90 6.40 689.50)" stroke="#111" stroke-width="0.12">mM</text>
<g>
<rect x="131.30" y="662.40" width="82.30" height="58.60" rx="0" fill="#fff" stroke="none" stroke-width="1"/>
<path d="M133.0,662.4 L133.0,721.0" fill="none" stroke="#ececec" stroke-width="0.5"/>
<path d="M149.2,662.4 L149.2,721.0" fill="none" stroke="#ececec" stroke-width="0.5"/>
<path d="M165.4,662.4 L165.4,721.0" fill="none" stroke="#ececec" stroke-width="0.5"/>
<path d="M181.7,662.4 L181.7,721.0" fill="none" stroke="#ececec" stroke-width="0.5"/>
<path d="M197.9,662.4 L197.9,721.0" fill="none" stroke="#ececec" stroke-width="0.5"/>
<path d="M141.1,662.4 L141.1,721.0" fill="none" stroke="#f5f5f5" stroke-width="0.4"/>
<path d="M157.3,662.4 L157.3,721.0" fill="none" stroke="#f5f5f5" stroke-width="0.4"/>
<path d="M173.6,662.4 L173.6,721.0" fill="none" stroke="#f5f5f5" stroke-width="0.4"/>
<path d="M189.8,662.4 L189.8,721.0" fill="none" stroke="#f5f5f5" stroke-width="0.4"/>
<path d="M206.0,662.4 L206.0,721.0" fill="none" stroke="#f5f5f5" stroke-width="0.4"/>
<path d="M131.3,713.7 L213.6,713.7" fill="none" stroke="#ececec" stroke-width="0.5"/>
<path d="M131.3,702.7 L213.6,702.7" fill="none" stroke="#ececec" stroke-width="0.5"/>
<path d="M131.3,691.6 L213.6,691.6" fill="none" stroke="#ececec" stroke-width="0.5"/>
<path d="M131.3,680.5 L213.6,680.5" fill="none" stroke="#ececec" stroke-width="0.5"/>
<path d="M131.3,669.5 L213.6,669.5" fill="none" stroke="#ececec" stroke-width="0.5"/>
<clipPath id="d4"><rect x="131.3" y="662.4" width="82.29999999999998" height="58.60000000000002"/></clipPath>
<g clip-path="url(#d4)">
<path d="M133.0,719.9 L134.7,719.8 L136.3,719.6 L138.0,719.3 L139.6,719.0 L141.3,718.5 L142.9,718.1 L144.6,717.3 L146.3,716.2 L147.9,714.9 L149.6,713.4 L151.2,711.3 L152.9,708.7 L154.5,705.4 L156.2,700.8 L157.9,695.3 L159.5,687.2 L161.2,679.1 L162.8,675.2 L164.5,673.2 L166.1,671.7 L167.8,670.8 L169.5,670.6 L171.1,670.5 L172.8,670.4 L174.4,670.3 L176.1,670.2 L177.7,670.1 L179.4,670.0 L181.1,670.0 L182.7,669.9 L184.4,669.9 L186.0,669.8 L187.7,669.8 L189.3,669.7 L191.0,669.7 L192.7,669.6 L194.3,669.6 L196.0,669.6 L197.6,669.6 L199.3,669.6 L200.9,669.5 L202.6,669.5 L204.3,669.5 L205.9,669.5 L207.6,669.5 L209.2,669.5 L210.9,669.5 L210.9,666.2 L209.2,666.1 L207.6,665.9 L205.9,665.8 L204.3,665.7 L202.6,665.7 L200.9,665.6 L199.3,665.5 L197.6,665.4 L196.0,665.4 L194.3,665.3 L192.7,665.3 L191.0,665.2 L189.3,665.2 L187.7,665.2 L186.0,665.2 L184.4,665.1 L182.7,665.1 L181.1,665.1 L179.4,665.1 L177.7,665.1 L176.1,665.1 L174.4,665.1 L172.8,665.1 L171.1,665.1 L169.5,665.1 L167.8,665.1 L166.1,665.3 L164.5,665.6 L162.8,666.0 L161.2,666.8 L159.5,668.7 L157.9,671.4 L156.2,674.9 L154.5,680.0 L152.9,686.9 L151.2,697.3 L149.6,706.0 L147.9,710.1 L146.3,713.3 L144.6,715.6 L142.9,716.9 L141.3,717.5 L139.6,718.0 L138.0,718.4 L136.3,718.8 L134.7,718.9 L133.0,719.0Z" fill="#a6eea6" fill-opacity="0.6" stroke="none"/>
<path d="M133.0,719.9 L134.7,719.8 L136.3,719.6 L138.0,719.3 L139.6,718.8 L141.3,718.3 L142.9,717.5 L144.6,716.7 L146.3,715.7 L147.9,712.8 L149.6,707.9 L151.2,702.3 L152.9,696.9 L154.5,690.7 L156.2,684.5 L157.9,680.2 L159.5,677.1 L161.2,674.3 L162.8,672.2 L164.5,670.9 L166.1,670.6 L167.8,670.5 L169.5,670.4 L171.1,670.3 L172.8,670.2 L174.4,670.1 L176.1,670.1 L177.7,670.0 L179.4,669.9 L181.1,669.9 L182.7,669.8 L184.4,669.8 L186.0,669.8 L187.7,669.7 L189.3,669.7 L191.0,669.6 L192.7,669.6 L194.3,669.6 L196.0,669.6 L197.6,669.6 L199.3,669.5 L200.9,669.5 L202.6,669.5 L204.3,669.5 L205.9,669.5 L207.6,669.5 L209.2,669.5 L210.9,669.5 L210.9,667.7 L209.2,667.7 L207.6,667.7 L205.9,667.7 L204.3,667.7 L202.6,667.7 L200.9,667.8 L199.3,667.8 L197.6,667.8 L196.0,667.8 L194.3,667.8 L192.7,667.8 L191.0,667.8 L189.3,667.8 L187.7,667.9 L186.0,667.9 L184.4,667.9 L182.7,667.9 L181.1,668.0 L179.4,668.0 L177.7,668.0 L176.1,668.1 L174.4,668.1 L172.8,668.2 L171.1,668.2 L169.5,668.3 L167.8,668.3 L166.1,668.4 L164.5,668.5 L162.8,669.2 L161.2,670.3 L159.5,671.9 L157.9,673.7 L156.2,676.8 L154.5,682.1 L152.9,688.0 L151.2,694.2 L149.6,701.9 L147.9,709.1 L146.3,713.4 L144.6,714.8 L142.9,716.0 L141.3,716.9 L139.6,717.8 L138.0,718.4 L136.3,718.9 L134.7,719.1 L133.0,719.2Z" fill="#a6b9f6" fill-opacity="0.6" stroke="none"/>
<path d="M133.0,719.7 L134.7,719.6 L136.3,719.3 L138.0,718.9 L139.6,718.4 L141.3,717.7 L142.9,716.8 L144.6,715.8 L146.3,714.5 L147.9,710.9 L149.6,705.0 L151.2,698.3 L152.9,692.4 L154.5,686.4 L156.2,680.7 L157.9,676.9 L159.5,674.5 L161.2,672.5 L162.8,670.9 L164.5,669.8 L166.1,669.4 L167.8,669.1 L169.5,668.8 L171.1,668.6 L172.8,668.4 L174.4,668.3 L176.1,668.2 L177.7,668.2 L179.4,668.2 L181.1,668.2 L182.7,668.2 L184.4,668.2 L186.0,668.2 L187.7,668.2 L189.3,668.2 L191.0,668.2 L192.7,668.2 L194.3,668.2 L196.0,668.2 L197.6,668.3 L199.3,668.3 L200.9,668.3 L202.6,668.4 L204.3,668.4 L205.9,668.4 L207.6,668.5 L209.2,668.6 L210.9,668.6" fill="none" stroke="#6b8cf2" stroke-width="0.6"/>
<path d="M133.0,719.7 L134.7,719.6 L136.3,719.3 L138.0,718.9 L139.6,718.4 L141.3,717.6 L142.9,716.8 L144.6,715.8 L146.3,714.6 L147.9,711.4 L149.6,706.2 L151.2,700.2 L152.9,694.6 L154.5,688.3 L156.2,682.1 L157.9,678.0 L159.5,675.5 L161.2,673.2 L162.8,671.6 L164.5,670.6 L166.1,670.4 L167.8,670.3 L169.5,670.3 L171.1,670.3 L172.8,670.2 L174.4,670.2 L176.1,670.2 L177.7,670.1 L179.4,670.1 L181.1,670.1 L182.7,670.1 L184.4,670.1 L186.0,670.0 L187.7,670.0 L189.3,670.0 L191.0,670.0 L192.7,670.0 L194.3,670.0 L196.0,670.0 L197.6,670.0 L199.3,670.0 L200.9,670.0 L202.6,669.9 L204.3,669.9 L205.9,669.9 L207.6,669.9 L209.2,669.9 L210.9,669.9" fill="none" stroke="#f27878" stroke-width="0.6"/>
<path d="M133.0,719.7 L134.7,719.6 L136.3,719.5 L138.0,719.3 L139.6,719.0 L141.3,718.3 L142.9,717.2 L144.6,715.5 L146.3,713.2 L147.9,708.3 L149.6,700.8 L151.2,688.4 L152.9,678.9 L154.5,673.6 L156.2,671.8 L157.9,671.3 L159.5,671.3 L161.2,671.3 L162.8,671.3 L164.5,671.3 L166.1,671.3 L167.8,671.3 L169.5,671.3 L171.1,671.3 L172.8,671.3 L174.4,671.3 L176.1,671.3 L177.7,671.3 L179.4,671.3 L181.1,671.3 L182.7,671.3 L184.4,671.3 L186.0,671.3 L187.7,671.3 L189.3,671.3 L191.0,671.3 L192.7,671.3 L194.3,671.3 L196.0,671.3 L197.6,671.3 L199.3,671.3 L200.9,671.3 L202.6,671.3 L204.3,671.3 L205.9,671.3 L207.6,671.3 L209.2,671.3 L210.9,671.3" fill="none" stroke="#1ecf1e" stroke-width="1.45" stroke-dasharray="3.8,1.6"/>
<path d="M133.0,719.9 L134.7,719.8 L136.3,719.7 L138.0,719.5 L139.6,719.2 L141.3,718.7 L142.9,717.7 L144.6,716.3 L146.3,714.4 L147.9,710.5 L149.6,704.5 L151.2,694.4 L152.9,685.3 L154.5,678.1 L156.2,674.4 L157.9,672.6 L159.5,672.2 L161.2,672.2 L162.8,672.2 L164.5,672.2 L166.1,672.2 L167.8,672.2 L169.5,672.2 L171.1,672.2 L172.8,672.2 L174.4,672.2 L176.1,672.2 L177.7,672.2 L179.4,672.2 L181.1,672.2 L182.7,672.2 L184.4,672.2 L186.0,672.2 L187.7,672.2 L189.3,672.2 L191.0,672.2 L192.7,672.2 L194.3,672.2 L196.0,672.2 L197.6,672.2 L199.3,672.2 L200.9,672.2 L202.6,672.2 L204.3,672.2 L205.9,672.2 L207.6,672.2 L209.2,672.2 L210.9,672.2" fill="none" stroke="#1c3ff0" stroke-width="1.45" stroke-dasharray="3.8,1.6"/>
<path d="M133.0,720.3 L134.7,720.3 L136.3,720.1 L138.0,719.8 L139.6,719.4 L141.3,718.7 L142.9,717.5 L144.6,715.9 L146.3,713.7 L147.9,709.6 L149.6,703.3 L151.2,692.3 L152.9,683.3 L154.5,677.3 L156.2,674.6 L157.9,673.7 L159.5,673.5 L161.2,673.5 L162.8,673.5 L164.5,673.5 L166.1,673.5 L167.8,673.5 L169.5,673.5 L171.1,673.5 L172.8,673.5 L174.4,673.5 L176.1,673.5 L177.7,673.5 L179.4,673.5 L181.1,673.5 L182.7,673.5 L184.4,673.5 L186.0,673.5 L187.7,673.5 L189.3,673.5 L191.0,673.5 L192.7,673.5 L194.3,673.5 L196.0,673.5 L197.6,673.5 L199.3,673.5 L200.9,673.5 L202.6,673.5 L204.3,673.5 L205.9,673.5 L207.6,673.5 L209.2,673.5 L210.9,673.5" fill="none" stroke="#ec1e1e" stroke-width="1.45" stroke-dasharray="3.8,1.6"/>
</g>
<rect x="131.30" y="662.40" width="82.30" height="58.60" rx="0" fill="none" stroke="#9a9a9a" stroke-width="0.7"/>
</g>
<text x="130.10" y="713.70" font-size="6.2" font-weight="normal" text-anchor="end" fill="#222" dominant-baseline="central" stroke="#222" stroke-width="0.12">5</text>
<text x="130.10" y="702.65" font-size="6.2" font-weight="normal" text-anchor="end" fill="#222" dominant-baseline="central" stroke="#222" stroke-width="0.12">10</text>
<text x="130.10" y="691.60" font-size="6.2" font-weight="normal" text-anchor="end" fill="#222" dominant-baseline="central" stroke="#222" stroke-width="0.12">15</text>
<text x="130.10" y="680.55" font-size="6.2" font-weight="normal" text-anchor="end" fill="#222" dominant-baseline="central" stroke="#222" stroke-width="0.12">20</text>
<text x="130.10" y="669.50" font-size="6.2" font-weight="normal" text-anchor="end" fill="#222" dominant-baseline="central" stroke="#222" stroke-width="0.12">25</text>
<text x="133.00" y="726.80" font-size="6.2" font-weight="normal" text-anchor="middle" fill="#222" dominant-baseline="central" stroke="#222" stroke-width="0.12">0</text>
<text x="149.22" y="726.80" font-size="6.2" font-weight="normal" text-anchor="middle" fill="#222" dominant-baseline="central" stroke="#222" stroke-width="0.12">25</text>
<text x="165.45" y="726.80" font-size="6.2" font-weight="normal" text-anchor="middle" fill="#222" dominant-baseline="central" stroke="#222" stroke-width="0.12">50</text>
<text x="181.68" y="726.80" font-size="6.2" font-weight="normal" text-anchor="middle" fill="#222" dominant-baseline="central" stroke="#222" stroke-width="0.12">75</text>
<text x="197.90" y="726.80" font-size="6.2" font-weight="normal" text-anchor="middle" fill="#222" dominant-baseline="central" stroke="#222" stroke-width="0.12">100</text>
<text x="174.00" y="658.10" font-size="7.3" font-weight="bold" text-anchor="middle" fill="#111" dominant-baseline="central" stroke="#111" stroke-width="0.12">acetate</text>
<text x="118.10" y="689.50" font-size="7.8" font-weight="bold" text-anchor="middle" fill="#111" dominant-baseline="central" transform="rotate(-90 118.10 689.50)" stroke="#111" stroke-width="0.12">mM</text>
<g>
<rect x="15.30" y="747.30" width="84.40" height="58.90" rx="0" fill="#fff" stroke="none" stroke-width="1"/>
<path d="M17.5,747.3 L17.5,806.2" fill="none" stroke="#ececec" stroke-width="0.5"/>
<path d="M34.3,747.3 L34.3,806.2" fill="none" stroke="#ececec" stroke-width="0.5"/>
<path d="M51.0,747.3 L51.0,806.2" fill="none" stroke="#ececec" stroke-width="0.5"/>
<path d="M67.8,747.3 L67.8,806.2" fill="none" stroke="#ececec" stroke-width="0.5"/>
<path d="M84.6,747.3 L84.6,806.2" fill="none" stroke="#ececec" stroke-width="0.5"/>
<path d="M25.9,747.3 L25.9,806.2" fill="none" stroke="#f5f5f5" stroke-width="0.4"/>
<path d="M42.7,747.3 L42.7,806.2" fill="none" stroke="#f5f5f5" stroke-width="0.4"/>
<path d="M59.4,747.3 L59.4,806.2" fill="none" stroke="#f5f5f5" stroke-width="0.4"/>
<path d="M76.2,747.3 L76.2,806.2" fill="none" stroke="#f5f5f5" stroke-width="0.4"/>
<path d="M93.0,747.3 L93.0,806.2" fill="none" stroke="#f5f5f5" stroke-width="0.4"/>
<path d="M15.3,805.0 L99.7,805.0" fill="none" stroke="#ececec" stroke-width="0.5"/>
<path d="M15.3,793.2 L99.7,793.2" fill="none" stroke="#ececec" stroke-width="0.5"/>
<path d="M15.3,781.5 L99.7,781.5" fill="none" stroke="#ececec" stroke-width="0.5"/>
<path d="M15.3,769.8 L99.7,769.8" fill="none" stroke="#ececec" stroke-width="0.5"/>
<path d="M15.3,758.0 L99.7,758.0" fill="none" stroke="#ececec" stroke-width="0.5"/>
<clipPath id="d5"><rect x="15.3" y="747.3" width="84.4" height="58.90000000000009"/></clipPath>
<g clip-path="url(#d5)">
<path d="M17.5,755.1 L19.2,755.1 L20.9,755.1 L22.6,755.1 L24.4,755.1 L26.1,755.1 L27.8,755.1 L29.5,755.1 L31.2,755.1 L32.9,755.1 L34.6,755.4 L36.3,763.1 L38.1,771.4 L39.8,777.4 L41.5,782.9 L43.2,787.9 L44.9,793.1 L46.6,797.5 L48.3,799.8 L50.1,801.3 L51.8,802.5 L53.5,803.1 L55.2,803.2 L56.9,803.2 L58.6,803.2 L60.3,803.2 L62.0,803.2 L63.8,803.2 L65.5,803.2 L67.2,803.2 L68.9,803.2 L70.6,803.2 L72.3,803.2 L74.0,803.2 L75.7,803.2 L77.5,803.2 L79.2,803.2 L80.9,803.2 L82.6,803.2 L84.3,803.2 L86.0,803.2 L87.7,803.2 L89.5,803.2 L91.2,803.2 L92.9,803.2 L94.6,803.2 L96.3,803.2 L98.0,803.2 L98.0,801.5 L96.3,801.5 L94.6,801.5 L92.9,801.5 L91.2,801.5 L89.5,801.4 L87.7,801.4 L86.0,801.4 L84.3,801.4 L82.6,801.4 L80.9,801.3 L79.2,801.3 L77.5,801.2 L75.7,801.2 L74.0,801.1 L72.3,801.1 L70.6,801.0 L68.9,800.9 L67.2,800.8 L65.5,800.7 L63.8,800.6 L62.0,800.5 L60.3,800.4 L58.6,800.1 L56.9,798.1 L55.2,794.8 L53.5,791.3 L51.8,787.0 L50.1,782.1 L48.3,777.3 L46.6,772.9 L44.9,768.7 L43.2,764.4 L41.5,759.0 L39.8,753.0 L38.1,749.4 L36.3,750.5 L34.6,753.2 L32.9,753.3 L31.2,753.3 L29.5,753.3 L27.8,753.3 L26.1,753.3 L24.4,753.3 L22.6,753.3 L20.9,753.3 L19.2,753.3 L17.5,753.3Z" fill="#a6eea6" fill-opacity="0.6" stroke="none"/>
<path d="M17.5,752.7 L19.2,752.7 L20.9,752.7 L22.6,752.7 L24.4,752.8 L26.1,752.8 L27.8,752.8 L29.5,752.9 L31.2,753.0 L32.9,753.1 L34.6,753.2 L36.3,753.3 L38.1,763.3 L39.8,776.2 L41.5,783.9 L43.2,790.1 L44.9,794.6 L46.6,798.3 L48.3,799.1 L50.1,799.1 L51.8,799.1 L53.5,799.1 L55.2,799.1 L56.9,799.1 L58.6,799.1 L60.3,799.1 L62.0,799.1 L63.8,799.1 L65.5,799.1 L67.2,799.1 L68.9,799.1 L70.6,799.1 L72.3,799.1 L74.0,799.1 L75.7,799.1 L77.5,799.1 L79.2,799.1 L80.9,799.1 L82.6,799.1 L84.3,799.1 L86.0,799.1 L87.7,799.1 L89.5,799.1 L91.2,799.1 L92.9,799.1 L94.6,799.1 L96.3,799.1 L98.0,799.1 L98.0,797.4 L96.3,797.4 L94.6,797.4 L92.9,797.4 L91.2,797.4 L89.5,797.4 L87.7,797.4 L86.0,797.3 L84.3,797.3 L82.6,797.3 L80.9,797.3 L79.2,797.3 L77.5,797.3 L75.7,797.3 L74.0,797.3 L72.3,797.3 L70.6,797.2 L68.9,797.2 L67.2,797.2 L65.5,797.2 L63.8,797.1 L62.0,797.1 L60.3,797.1 L58.6,797.1 L56.9,797.0 L55.2,797.0 L53.5,796.9 L51.8,796.9 L50.1,796.8 L48.3,796.8 L46.6,792.3 L44.9,783.9 L43.2,777.2 L41.5,770.7 L39.8,764.3 L38.1,756.9 L36.3,752.1 L34.6,752.0 L32.9,751.9 L31.2,751.8 L29.5,751.7 L27.8,751.7 L26.1,751.6 L24.4,751.6 L22.6,751.6 L20.9,751.5 L19.2,751.5 L17.5,751.5Z" fill="#a6b9f6" fill-opacity="0.6" stroke="none"/>
<path d="M17.5,752.1 L19.2,752.1 L20.9,752.1 L22.6,752.2 L24.4,752.2 L26.1,752.2 L27.8,752.3 L29.5,752.3 L31.2,752.4 L32.9,752.5 L34.6,752.6 L36.3,752.7 L38.1,760.0 L39.8,770.3 L41.5,777.4 L43.2,783.7 L44.9,789.2 L46.6,795.0 L48.3,797.9 L50.1,798.0 L51.8,798.1 L53.5,798.1 L55.2,798.1 L56.9,798.2 L58.6,798.2 L60.3,798.3 L62.0,798.3 L63.8,798.3 L65.5,798.4 L67.2,798.4 L68.9,798.4 L70.6,798.4 L72.3,798.4 L74.0,798.5 L75.7,798.5 L77.5,798.5 L79.2,798.5 L80.9,798.5 L82.6,798.5 L84.3,798.5 L86.0,798.5 L87.7,798.5 L89.5,798.5 L91.2,798.5 L92.9,798.5 L94.6,798.5 L96.3,798.5 L98.0,798.5" fill="none" stroke="#6b8cf2" stroke-width="0.6"/>
<path d="M17.5,752.7 L19.2,752.7 L20.9,752.7 L22.6,752.7 L24.4,752.8 L26.1,752.8 L27.8,752.8 L29.5,752.9 L31.2,753.0 L32.9,753.1 L34.6,753.2 L36.3,753.3 L38.1,761.8 L39.8,773.3 L41.5,780.6 L43.2,786.9 L44.9,791.9 L46.6,796.8 L48.3,799.1 L50.1,799.2 L51.8,799.2 L53.5,799.3 L55.2,799.3 L56.9,799.4 L58.6,799.4 L60.3,799.4 L62.0,799.5 L63.8,799.5 L65.5,799.5 L67.2,799.6 L68.9,799.6 L70.6,799.6 L72.3,799.6 L74.0,799.6 L75.7,799.6 L77.5,799.7 L79.2,799.7 L80.9,799.7 L82.6,799.7 L84.3,799.7 L86.0,799.7 L87.7,799.7 L89.5,799.7 L91.2,799.7 L92.9,799.7 L94.6,799.7 L96.3,799.7 L98.0,799.7" fill="none" stroke="#f27878" stroke-width="0.6"/>
<path d="M17.5,755.1 L19.2,755.1 L20.9,755.1 L22.6,755.1 L24.4,755.1 L26.1,755.1 L27.8,755.1 L29.5,755.1 L31.2,755.1 L32.9,755.1 L34.6,758.0 L36.3,771.5 L38.1,790.4 L39.8,798.1 L41.5,799.8 L43.2,800.0 L44.9,800.0 L46.6,800.0 L48.3,800.0 L50.1,800.0 L51.8,800.0 L53.5,800.0 L55.2,800.0 L56.9,800.0 L58.6,800.0 L60.3,800.0 L62.0,800.0 L63.8,800.0 L65.5,800.0 L67.2,800.0 L68.9,800.0 L70.6,800.0 L72.3,800.0 L74.0,800.0 L75.7,800.0 L77.5,800.0 L79.2,800.0 L80.9,800.0 L82.6,800.0 L84.3,800.0 L86.0,800.0 L87.7,800.0 L89.5,800.0 L91.2,800.0 L92.9,800.0 L94.6,800.0 L96.3,800.0 L98.0,800.0" fill="none" stroke="#1ecf1e" stroke-width="1.45" stroke-dasharray="3.8,1.6"/>
<path d="M17.5,752.1 L19.2,752.1 L20.9,752.1 L22.6,752.1 L24.4,752.1 L26.1,752.1 L27.8,752.1 L29.5,752.1 L31.2,752.1 L32.9,752.1 L34.6,752.1 L36.3,753.8 L38.1,763.9 L39.8,780.4 L41.5,791.0 L43.2,796.4 L44.9,797.8 L46.6,798.0 L48.3,798.0 L50.1,798.0 L51.8,798.0 L53.5,798.0 L55.2,798.0 L56.9,798.0 L58.6,798.0 L60.3,798.0 L62.0,798.0 L63.8,798.0 L65.5,798.0 L67.2,798.0 L68.9,798.0 L70.6,798.0 L72.3,798.0 L74.0,798.0 L75.7,798.0 L77.5,798.0 L79.2,798.0 L80.9,798.0 L82.6,798.0 L84.3,798.0 L86.0,798.0 L87.7,798.0 L89.5,798.0 L91.2,798.0 L92.9,798.0 L94.6,798.0 L96.3,798.0 L98.0,798.0" fill="none" stroke="#1c3ff0" stroke-width="1.45" stroke-dasharray="3.8,1.6"/>
<path d="M17.5,752.1 L19.2,752.1 L20.9,752.1 L22.6,752.1 L24.4,752.2 L26.1,752.2 L27.8,752.3 L29.5,752.3 L31.2,752.4 L32.9,752.5 L34.6,752.6 L36.3,754.8 L38.1,768.1 L39.8,788.2 L41.5,796.5 L43.2,798.0 L44.9,798.2 L46.6,798.2 L48.3,798.2 L50.1,798.2 L51.8,798.2 L53.5,798.2 L55.2,798.2 L56.9,798.2 L58.6,798.2 L60.3,798.2 L62.0,798.2 L63.8,798.2 L65.5,798.2 L67.2,798.2 L68.9,798.2 L70.6,798.2 L72.3,798.2 L74.0,798.2 L75.7,798.2 L77.5,798.2 L79.2,798.2 L80.9,798.2 L82.6,798.2 L84.3,798.2 L86.0,798.2 L87.7,798.2 L89.5,798.2 L91.2,798.2 L92.9,798.2 L94.6,798.2 L96.3,798.2 L98.0,798.2" fill="none" stroke="#ec1e1e" stroke-width="1.45" stroke-dasharray="3.8,1.6"/>
</g>
<rect x="15.30" y="747.30" width="84.40" height="58.90" rx="0" fill="none" stroke="#9a9a9a" stroke-width="0.7"/>
</g>
<text x="14.10" y="805.00" font-size="6.2" font-weight="normal" text-anchor="end" fill="#222" dominant-baseline="central" stroke="#222" stroke-width="0.12">0</text>
<text x="14.10" y="793.25" font-size="6.2" font-weight="normal" text-anchor="end" fill="#222" dominant-baseline="central" stroke="#222" stroke-width="0.12">2</text>
<text x="14.10" y="781.50" font-size="6.2" font-weight="normal" text-anchor="end" fill="#222" dominant-baseline="central" stroke="#222" stroke-width="0.12">4</text>
<text x="14.10" y="769.75" font-size="6.2" font-weight="normal" text-anchor="end" fill="#222" dominant-baseline="central" stroke="#222" stroke-width="0.12">6</text>
<text x="14.10" y="758.00" font-size="6.2" font-weight="normal" text-anchor="end" fill="#222" dominant-baseline="central" stroke="#222" stroke-width="0.12">8</text>
<text x="17.50" y="811.50" font-size="6.2" font-weight="normal" text-anchor="middle" fill="#222" dominant-baseline="central" stroke="#222" stroke-width="0.12">0</text>
<text x="34.27" y="811.50" font-size="6.2" font-weight="normal" text-anchor="middle" fill="#222" dominant-baseline="central" stroke="#222" stroke-width="0.12">25</text>
<text x="51.05" y="811.50" font-size="6.2" font-weight="normal" text-anchor="middle" fill="#222" dominant-baseline="central" stroke="#222" stroke-width="0.12">50</text>
<text x="67.83" y="811.50" font-size="6.2" font-weight="normal" text-anchor="middle" fill="#222" dominant-baseline="central" stroke="#222" stroke-width="0.12">75</text>
<text x="84.60" y="811.50" font-size="6.2" font-weight="normal" text-anchor="middle" fill="#222" dominant-baseline="central" stroke="#222" stroke-width="0.12">100</text>
<text x="57.80" y="742.70" font-size="7.3" font-weight="bold" text-anchor="middle" fill="#111" dominant-baseline="central" stroke="#111" stroke-width="0.12">glucose</text>
<text x="6.20" y="779.30" font-size="7.8" font-weight="bold" text-anchor="middle" fill="#111" dominant-baseline="central" transform="rotate(-90 6.20 779.30)" stroke="#111" stroke-width="0.12">mM</text>
<g>
<rect x="129.30" y="747.40" width="84.60" height="59.80" rx="0" fill="#fff" stroke="none" stroke-width="1"/>
<path d="M131.0,747.4 L131.0,807.2" fill="none" stroke="#ececec" stroke-width="0.5"/>
<path d="M147.9,747.4 L147.9,807.2" fill="none" stroke="#ececec" stroke-width="0.5"/>
<path d="M164.9,747.4 L164.9,807.2" fill="none" stroke="#ececec" stroke-width="0.5"/>
<path d="M181.9,747.4 L181.9,807.2" fill="none" stroke="#ececec" stroke-width="0.5"/>
<path d="M198.8,747.4 L198.8,807.2" fill="none" stroke="#ececec" stroke-width="0.5"/>
<path d="M139.5,747.4 L139.5,807.2" fill="none" stroke="#f5f5f5" stroke-width="0.4"/>
<path d="M156.4,747.4 L156.4,807.2" fill="none" stroke="#f5f5f5" stroke-width="0.4"/>
<path d="M173.4,747.4 L173.4,807.2" fill="none" stroke="#f5f5f5" stroke-width="0.4"/>
<path d="M190.3,747.4 L190.3,807.2" fill="none" stroke="#f5f5f5" stroke-width="0.4"/>
<path d="M207.3,747.4 L207.3,807.2" fill="none" stroke="#f5f5f5" stroke-width="0.4"/>
<path d="M129.3,805.5 L213.9,805.5" fill="none" stroke="#ececec" stroke-width="0.5"/>
<path d="M129.3,788.9 L213.9,788.9" fill="none" stroke="#ececec" stroke-width="0.5"/>
<path d="M129.3,772.3 L213.9,772.3" fill="none" stroke="#ececec" stroke-width="0.5"/>
<path d="M129.3,755.7 L213.9,755.7" fill="none" stroke="#ececec" stroke-width="0.5"/>
<clipPath id="d6"><rect x="129.3" y="747.4" width="84.6" height="59.80000000000007"/></clipPath>
<g clip-path="url(#d6)">
<path d="M131.0,805.5 L132.7,805.5 L134.5,805.5 L136.2,805.5 L137.9,805.5 L139.7,805.5 L141.4,805.5 L143.1,805.5 L144.8,798.3 L146.6,795.9 L148.3,794.7 L150.0,794.0 L151.8,794.1 L153.5,798.6 L155.2,803.8 L157.0,801.2 L158.7,795.2 L160.4,794.3 L162.2,793.6 L163.9,793.1 L165.6,792.7 L167.4,792.5 L169.1,792.3 L170.8,792.2 L172.5,792.3 L174.3,792.7 L176.0,793.4 L177.7,794.3 L179.5,795.3 L181.2,796.1 L182.9,796.8 L184.7,797.2 L186.4,797.2 L188.1,797.2 L189.9,797.2 L191.6,797.2 L193.3,797.2 L195.0,797.2 L196.8,797.2 L198.5,797.2 L200.2,797.2 L202.0,797.1 L203.7,796.9 L205.4,796.7 L207.2,796.4 L208.9,796.2 L210.6,795.9 L212.4,795.5 L212.4,783.9 L210.6,783.9 L208.9,783.9 L207.2,783.9 L205.4,783.9 L203.7,783.9 L202.0,783.9 L200.2,783.9 L198.5,783.9 L196.8,784.0 L195.0,784.2 L193.3,784.5 L191.6,784.8 L189.9,785.1 L188.1,785.4 L186.4,785.5 L184.7,785.6 L182.9,785.3 L181.2,784.9 L179.5,784.3 L177.7,783.7 L176.0,783.1 L174.3,782.6 L172.5,782.3 L170.8,782.3 L169.1,782.3 L167.4,782.4 L165.6,782.5 L163.9,782.7 L162.2,783.0 L160.4,783.3 L158.7,783.7 L157.0,788.0 L155.2,790.1 L153.5,787.1 L151.8,784.2 L150.0,783.3 L148.3,782.7 L146.6,782.4 L144.8,784.2 L143.1,803.0 L141.4,803.2 L139.7,803.3 L137.9,803.4 L136.2,803.4 L134.5,803.5 L132.7,803.5 L131.0,803.5Z" fill="#a6eea6" fill-opacity="0.6" stroke="none"/>
<path d="M131.0,800.9 L132.7,800.6 L134.5,799.9 L136.2,798.7 L137.9,797.0 L139.7,790.3 L141.4,781.2 L143.1,772.4 L144.8,764.5 L146.6,757.3 L148.3,753.7 L150.0,752.7 L151.8,752.4 L153.5,752.4 L155.2,752.4 L157.0,752.4 L158.7,752.4 L160.4,752.4 L162.2,752.4 L163.9,752.4 L165.6,752.5 L167.4,752.7 L169.1,752.8 L170.8,753.0 L172.5,753.2 L174.3,753.5 L176.0,753.7 L177.7,753.9 L179.5,754.2 L181.2,754.4 L182.9,754.6 L184.7,754.8 L186.4,755.0 L188.1,755.2 L189.9,755.3 L191.6,755.5 L193.3,755.6 L195.0,755.8 L196.8,756.0 L198.5,756.1 L200.2,756.3 L202.0,756.4 L203.7,756.6 L205.4,756.8 L207.2,756.9 L208.9,757.1 L210.6,757.2 L212.4,757.4 L212.4,754.9 L210.6,754.7 L208.9,754.5 L207.2,754.3 L205.4,754.1 L203.7,753.9 L202.0,753.7 L200.2,753.4 L198.5,753.2 L196.8,753.0 L195.0,752.8 L193.3,752.6 L191.6,752.4 L189.9,752.1 L188.1,751.9 L186.4,751.7 L184.7,751.5 L182.9,751.2 L181.2,751.0 L179.5,750.7 L177.7,750.5 L176.0,750.2 L174.3,749.9 L172.5,749.7 L170.8,749.4 L169.1,749.2 L167.4,748.9 L165.6,748.7 L163.9,748.5 L162.2,748.3 L160.4,748.1 L158.7,747.9 L157.0,747.7 L155.2,747.6 L153.5,747.5 L151.8,747.4 L150.0,747.7 L148.3,748.8 L146.6,751.8 L144.8,757.9 L143.1,766.1 L141.4,776.1 L139.7,786.5 L137.9,794.5 L136.2,796.8 L134.5,798.4 L132.7,799.5 L131.0,799.9Z" fill="#f6aaaa" fill-opacity="0.6" stroke="none"/>
<path d="M131.0,795.2 L132.7,794.9 L134.5,793.9 L136.2,792.4 L137.9,790.4 L139.7,785.1 L141.4,778.1 L143.1,770.0 L144.8,765.4 L146.6,764.3 L148.3,764.0 L150.0,764.0 L151.8,764.0 L153.5,764.0 L155.2,764.0 L157.0,764.0 L158.7,764.0 L160.4,764.0 L162.2,764.0 L163.9,764.0 L165.6,764.0 L167.4,764.0 L169.1,764.1 L170.8,764.1 L172.5,764.1 L174.3,764.1 L176.0,764.1 L177.7,764.2 L179.5,764.2 L181.2,764.2 L182.9,764.3 L184.7,764.3 L186.4,764.4 L188.1,764.4 L189.9,764.5 L191.6,764.5 L193.3,764.6 L195.0,764.6 L196.8,764.7 L198.5,764.8 L200.2,764.9 L202.0,765.0 L203.7,765.1 L205.4,765.2 L207.2,765.3 L208.9,765.4 L210.6,765.5 L212.4,765.7 L212.4,759.9 L210.6,759.8 L208.9,759.7 L207.2,759.7 L205.4,759.6 L203.7,759.6 L202.0,759.5 L200.2,759.5 L198.5,759.4 L196.8,759.4 L195.0,759.3 L193.3,759.3 L191.6,759.3 L189.9,759.2 L188.1,759.2 L186.4,759.2 L184.7,759.2 L182.9,759.2 L181.2,759.1 L179.5,759.1 L177.7,759.1 L176.0,759.1 L174.3,759.1 L172.5,759.1 L170.8,759.1 L169.1,759.0 L167.4,759.0 L165.6,759.0 L163.9,759.0 L162.2,759.0 L160.4,759.0 L158.7,759.0 L157.0,759.0 L155.2,759.0 L153.5,759.0 L151.8,759.0 L150.0,759.0 L148.3,759.0 L146.6,759.3 L144.8,760.4 L143.1,764.2 L141.4,771.4 L139.7,779.7 L137.9,786.9 L136.2,789.9 L134.5,792.2 L132.7,793.7 L131.0,794.2Z" fill="#a6b9f6" fill-opacity="0.6" stroke="none"/>
<path d="M131.0,804.7 L132.7,804.7 L134.5,804.6 L136.2,804.6 L137.9,804.6 L139.7,804.5 L141.4,804.3 L143.1,804.2 L144.8,790.5 L146.6,788.2 L148.3,787.6 L150.0,787.3 L151.8,787.6 L153.5,794.4 L155.2,802.4 L157.0,797.9 L158.7,788.7 L160.4,788.3 L162.2,787.9 L163.9,787.7 L165.6,787.5 L167.4,787.3 L169.1,787.3 L170.8,787.2 L172.5,787.3 L174.3,787.6 L176.0,788.0 L177.7,788.6 L179.5,789.3 L181.2,789.9 L182.9,790.3 L184.7,790.5 L186.4,790.6 L188.1,790.6 L189.9,790.6 L191.6,790.6 L193.3,790.6 L195.0,790.6 L196.8,790.6 L198.5,790.6 L200.2,790.6 L202.0,790.6 L203.7,790.6 L205.4,790.6 L207.2,790.6 L208.9,790.6 L210.6,790.6 L212.4,790.6" fill="none" stroke="#74e274" stroke-width="0.6"/>
<path d="M131.0,800.5 L132.7,800.2 L134.5,799.1 L136.2,797.5 L137.9,795.3 L139.7,788.1 L141.4,778.7 L143.1,769.3 L144.8,761.2 L146.6,754.5 L148.3,751.3 L150.0,750.3 L151.8,749.8 L153.5,749.5 L155.2,749.2 L157.0,749.1 L158.7,749.1 L160.4,749.1 L162.2,749.2 L163.9,749.4 L165.6,749.7 L167.4,749.9 L169.1,750.2 L170.8,750.6 L172.5,750.9 L174.3,751.3 L176.0,751.6 L177.7,752.0 L179.5,752.3 L181.2,752.6 L182.9,752.9 L184.7,753.1 L186.4,753.3 L188.1,753.5 L189.9,753.7 L191.6,753.9 L193.3,754.1 L195.0,754.3 L196.8,754.4 L198.5,754.6 L200.2,754.8 L202.0,754.9 L203.7,755.1 L205.4,755.2 L207.2,755.3 L208.9,755.5 L210.6,755.6 L212.4,755.7" fill="none" stroke="#f27878" stroke-width="0.6"/>
<path d="M131.0,794.7 L132.7,794.3 L134.5,793.0 L136.2,791.1 L137.9,788.7 L139.7,782.4 L141.4,774.8 L143.1,767.1 L144.8,762.9 L146.6,761.8 L148.3,761.5 L150.0,761.5 L151.8,761.5 L153.5,761.5 L155.2,761.5 L157.0,761.5 L158.7,761.5 L160.4,761.5 L162.2,761.5 L163.9,761.5 L165.6,761.5 L167.4,761.5 L169.1,761.5 L170.8,761.5 L172.5,761.6 L174.3,761.6 L176.0,761.6 L177.7,761.6 L179.5,761.6 L181.2,761.6 L182.9,761.6 L184.7,761.7 L186.4,761.7 L188.1,761.7 L189.9,761.7 L191.6,761.8 L193.3,761.8 L195.0,761.8 L196.8,761.9 L198.5,761.9 L200.2,762.0 L202.0,762.0 L203.7,762.0 L205.4,762.1 L207.2,762.2 L208.9,762.2 L210.6,762.3 L212.4,762.3" fill="none" stroke="#6b8cf2" stroke-width="0.6"/>
<path d="M131.0,804.2 L132.7,804.1 L134.5,803.8 L136.2,801.9 L137.9,798.6 L139.7,794.6 L141.4,790.0 L143.1,784.5 L144.8,782.3 L146.6,781.9 L148.3,781.9 L150.0,781.9 L151.8,781.9 L153.5,781.9 L155.2,781.9 L157.0,781.9 L158.7,781.9 L160.4,781.9 L162.2,781.9 L163.9,781.9 L165.6,781.9 L167.4,781.9 L169.1,781.9 L170.8,781.9 L172.5,781.9 L174.3,781.9 L176.0,781.9 L177.7,781.9 L179.5,781.9 L181.2,781.9 L182.9,781.9 L184.7,781.9 L186.4,781.9 L188.1,781.9 L189.9,781.9 L191.6,781.9 L193.3,781.9 L195.0,781.9 L196.8,781.9 L198.5,781.9 L200.2,781.9 L202.0,781.9 L203.7,781.9 L205.4,781.9 L207.2,781.9 L208.9,781.9 L210.6,781.9 L212.4,781.9" fill="none" stroke="#1ecf1e" stroke-width="1.45" stroke-dasharray="3.8,1.6"/>
<path d="M131.0,800.9 L132.7,800.7 L134.5,800.2 L136.2,797.7 L137.9,793.5 L139.7,787.7 L141.4,781.5 L143.1,775.6 L144.8,773.8 L146.6,773.6 L148.3,773.6 L150.0,773.6 L151.8,773.6 L153.5,773.6 L155.2,773.6 L157.0,773.6 L158.7,773.6 L160.4,773.6 L162.2,773.6 L163.9,773.6 L165.6,773.6 L167.4,773.6 L169.1,773.6 L170.8,773.6 L172.5,773.6 L174.3,773.6 L176.0,773.6 L177.7,773.6 L179.5,773.6 L181.2,773.6 L182.9,773.6 L184.7,773.6 L186.4,773.6 L188.1,773.6 L189.9,773.6 L191.6,773.6 L193.3,773.6 L195.0,773.6 L196.8,773.6 L198.5,773.6 L200.2,773.6 L202.0,773.6 L203.7,773.6 L205.4,773.6 L207.2,773.6 L208.9,773.6 L210.6,773.6 L212.4,773.6" fill="none" stroke="#ec1e1e" stroke-width="1.45" stroke-dasharray="3.8,1.6"/>
<path d="M131.0,794.7 L132.7,794.6 L134.5,794.2 L136.2,792.2 L137.9,788.5 L139.7,781.5 L141.4,772.9 L143.1,764.1 L144.8,762.6 L146.6,762.3 L148.3,762.3 L150.0,762.3 L151.8,762.3 L153.5,762.3 L155.2,762.3 L157.0,762.3 L158.7,762.3 L160.4,762.3 L162.2,762.3 L163.9,762.3 L165.6,762.3 L167.4,762.3 L169.1,762.3 L170.8,762.3 L172.5,762.3 L174.3,762.3 L176.0,762.3 L177.7,762.3 L179.5,762.3 L181.2,762.3 L182.9,762.3 L184.7,762.3 L186.4,762.3 L188.1,762.3 L189.9,762.3 L191.6,762.3 L193.3,762.3 L195.0,762.3 L196.8,762.3 L198.5,762.3 L200.2,762.3 L202.0,762.3 L203.7,762.3 L205.4,762.3 L207.2,762.3 L208.9,762.3 L210.6,762.3 L212.4,762.3" fill="none" stroke="#1c3ff0" stroke-width="1.45" stroke-dasharray="3.8,1.6"/>
</g>
<rect x="129.30" y="747.40" width="84.60" height="59.80" rx="0" fill="none" stroke="#9a9a9a" stroke-width="0.7"/>
</g>
<text x="128.10" y="805.50" font-size="6.2" font-weight="normal" text-anchor="end" fill="#222" dominant-baseline="central" stroke="#222" stroke-width="0.12">0</text>
<text x="128.10" y="788.90" font-size="6.2" font-weight="normal" text-anchor="end" fill="#222" dominant-baseline="central" stroke="#222" stroke-width="0.12">1</text>
<text x="128.10" y="772.30" font-size="6.2" font-weight="normal" text-anchor="end" fill="#222" dominant-baseline="central" stroke="#222" stroke-width="0.12">2</text>
<text x="128.10" y="755.70" font-size="6.2" font-weight="normal" text-anchor="end" fill="#222" dominant-baseline="central" stroke="#222" stroke-width="0.12">3</text>
<text x="131.00" y="811.50" font-size="6.2" font-weight="normal" text-anchor="middle" fill="#222" dominant-baseline="central" stroke="#222" stroke-width="0.12">0</text>
<text x="147.95" y="811.50" font-size="6.2" font-weight="normal" text-anchor="middle" fill="#222" dominant-baseline="central" stroke="#222" stroke-width="0.12">25</text>
<text x="164.90" y="811.50" font-size="6.2" font-weight="normal" text-anchor="middle" fill="#222" dominant-baseline="central" stroke="#222" stroke-width="0.12">50</text>
<text x="181.85" y="811.50" font-size="6.2" font-weight="normal" text-anchor="middle" fill="#222" dominant-baseline="central" stroke="#222" stroke-width="0.12">75</text>
<text x="198.80" y="811.50" font-size="6.2" font-weight="normal" text-anchor="middle" fill="#222" dominant-baseline="central" stroke="#222" stroke-width="0.12">100</text>
<text x="174.00" y="742.70" font-size="7.3" font-weight="bold" text-anchor="middle" fill="#111" dominant-baseline="central" stroke="#111" stroke-width="0.12">lactate</text>
<text x="118.20" y="779.30" font-size="7.8" font-weight="bold" text-anchor="middle" fill="#111" dominant-baseline="central" transform="rotate(-90 118.20 779.30)" stroke="#111" stroke-width="0.12">mM</text>
<g>
<rect x="19.20" y="827.40" width="80.30" height="57.90" rx="0" fill="#fff" stroke="none" stroke-width="1"/>
<path d="M20.4,827.4 L20.4,885.3" fill="none" stroke="#ececec" stroke-width="0.5"/>
<path d="M36.5,827.4 L36.5,885.3" fill="none" stroke="#ececec" stroke-width="0.5"/>
<path d="M52.6,827.4 L52.6,885.3" fill="none" stroke="#ececec" stroke-width="0.5"/>
<path d="M68.8,827.4 L68.8,885.3" fill="none" stroke="#ececec" stroke-width="0.5"/>
<path d="M84.9,827.4 L84.9,885.3" fill="none" stroke="#ececec" stroke-width="0.5"/>
<path d="M28.5,827.4 L28.5,885.3" fill="none" stroke="#f5f5f5" stroke-width="0.4"/>
<path d="M44.6,827.4 L44.6,885.3" fill="none" stroke="#f5f5f5" stroke-width="0.4"/>
<path d="M60.7,827.4 L60.7,885.3" fill="none" stroke="#f5f5f5" stroke-width="0.4"/>
<path d="M76.8,827.4 L76.8,885.3" fill="none" stroke="#f5f5f5" stroke-width="0.4"/>
<path d="M93.0,827.4 L93.0,885.3" fill="none" stroke="#f5f5f5" stroke-width="0.4"/>
<path d="M19.2,884.3 L99.5,884.3" fill="none" stroke="#ececec" stroke-width="0.5"/>
<path d="M19.2,870.4 L99.5,870.4" fill="none" stroke="#ececec" stroke-width="0.5"/>
<path d="M19.2,856.5 L99.5,856.5" fill="none" stroke="#ececec" stroke-width="0.5"/>
<path d="M19.2,842.6 L99.5,842.6" fill="none" stroke="#ececec" stroke-width="0.5"/>
<path d="M19.2,828.7 L99.5,828.7" fill="none" stroke="#ececec" stroke-width="0.5"/>
<clipPath id="d7"><rect x="19.2" y="827.4" width="80.3" height="57.89999999999998"/></clipPath>
<g clip-path="url(#d7)">
<path d="M20.4,845.4 L22.0,845.5 L23.7,845.7 L25.3,846.1 L27.0,846.7 L28.6,847.4 L30.3,848.3 L31.9,851.2 L33.6,856.3 L35.2,863.0 L36.9,873.8 L38.5,881.5 L40.2,884.3 L41.8,884.3 L43.5,884.3 L45.1,884.3 L46.7,884.3 L48.4,884.3 L50.0,884.3 L51.7,884.3 L53.3,884.3 L55.0,884.3 L56.6,884.3 L58.3,884.3 L59.9,884.3 L61.6,884.3 L63.2,884.3 L64.9,884.3 L66.5,884.3 L68.2,884.3 L69.8,884.3 L71.5,884.3 L73.1,884.3 L74.7,884.3 L76.4,884.3 L78.0,884.3 L79.7,884.3 L81.3,884.3 L83.0,884.3 L84.6,884.3 L86.3,884.3 L87.9,884.3 L89.6,884.3 L91.2,884.3 L92.9,884.3 L94.5,884.3 L96.2,884.3 L97.8,884.3 L97.8,884.3 L96.2,884.3 L94.5,884.3 L92.9,884.3 L91.2,884.3 L89.6,884.3 L87.9,884.3 L86.3,884.3 L84.6,884.3 L83.0,884.3 L81.3,884.3 L79.7,884.3 L78.0,884.3 L76.4,884.3 L74.7,884.2 L73.1,884.2 L71.5,884.2 L69.8,884.2 L68.2,884.2 L66.5,884.2 L64.9,884.2 L63.2,884.1 L61.6,884.1 L59.9,884.1 L58.3,884.1 L56.6,884.0 L55.0,884.0 L53.3,884.0 L51.7,883.9 L50.0,883.9 L48.4,883.8 L46.7,883.8 L45.1,883.8 L43.5,883.7 L41.8,883.7 L40.2,883.4 L38.5,874.8 L36.9,864.2 L35.2,853.4 L33.6,848.5 L31.9,845.6 L30.3,844.1 L28.6,843.6 L27.0,843.2 L25.3,843.0 L23.7,842.8 L22.0,842.6 L20.4,842.6Z" fill="#a6eea6" fill-opacity="0.6" stroke="none"/>
<path d="M20.4,830.1 L22.0,831.3 L23.7,833.0 L25.3,835.1 L27.0,837.5 L28.6,840.2 L30.3,842.9 L31.9,845.8 L33.6,849.6 L35.2,858.0 L36.9,876.3 L38.5,878.4 L40.2,878.7 L41.8,878.7 L43.5,878.7 L45.1,878.7 L46.7,878.7 L48.4,878.7 L50.0,878.7 L51.7,878.7 L53.3,878.7 L55.0,878.7 L56.6,878.7 L58.3,878.7 L59.9,878.7 L61.6,878.7 L63.2,878.7 L64.9,878.7 L66.5,878.7 L68.2,878.7 L69.8,878.7 L71.5,878.7 L73.1,878.7 L74.7,878.7 L76.4,878.7 L78.0,878.7 L79.7,878.7 L81.3,878.7 L83.0,878.7 L84.6,878.7 L86.3,878.7 L87.9,878.7 L89.6,878.7 L91.2,878.7 L92.9,878.7 L94.5,878.7 L96.2,878.7 L97.8,878.7 L97.8,877.3 L96.2,877.3 L94.5,877.3 L92.9,877.3 L91.2,877.3 L89.6,877.3 L87.9,877.3 L86.3,877.3 L84.6,877.3 L83.0,877.3 L81.3,877.3 L79.7,877.3 L78.0,877.3 L76.4,877.3 L74.7,877.3 L73.1,877.3 L71.5,877.3 L69.8,877.3 L68.2,877.3 L66.5,877.3 L64.9,877.3 L63.2,877.3 L61.6,877.3 L59.9,877.3 L58.3,877.3 L56.6,877.3 L55.0,877.3 L53.3,877.3 L51.7,877.3 L50.0,877.3 L48.4,877.3 L46.7,877.3 L45.1,877.3 L43.5,877.3 L41.8,877.3 L40.2,877.3 L38.5,875.4 L36.9,868.6 L35.2,850.5 L33.6,843.0 L31.9,839.6 L30.3,837.3 L28.6,835.1 L27.0,833.1 L25.3,831.3 L23.7,829.7 L22.0,828.6 L20.4,828.0Z" fill="#a6b9f6" fill-opacity="0.6" stroke="none"/>
<path d="M20.4,828.7 L22.0,829.2 L23.7,830.1 L25.3,831.7 L27.0,833.9 L28.6,836.6 L30.3,839.5 L31.9,842.3 L33.6,846.1 L35.2,854.1 L36.9,872.0 L38.5,878.0 L40.2,878.0 L41.8,878.0 L43.5,878.0 L45.1,878.0 L46.7,878.0 L48.4,878.0 L50.0,878.0 L51.7,878.0 L53.3,878.0 L55.0,878.0 L56.6,878.0 L58.3,878.0 L59.9,878.0 L61.6,878.0 L63.2,878.0 L64.9,878.0 L66.5,878.0 L68.2,878.0 L69.8,878.0 L71.5,878.0 L73.1,878.0 L74.7,878.0 L76.4,878.0 L78.0,878.0 L79.7,878.0 L81.3,878.0 L83.0,878.0 L84.6,878.0 L86.3,878.0 L87.9,878.0 L89.6,878.0 L91.2,878.0 L92.9,878.0 L94.5,878.0 L96.2,878.0 L97.8,878.0" fill="none" stroke="#6b8cf2" stroke-width="0.6"/>
<path d="M20.4,835.7 L22.0,837.1 L23.7,838.8 L25.3,840.7 L27.0,842.8 L28.6,844.8 L30.3,847.0 L31.9,849.8 L33.6,854.0 L35.2,865.3 L36.9,876.4 L38.5,879.4 L40.2,879.5 L41.8,879.5 L43.5,879.6 L45.1,879.6 L46.7,879.7 L48.4,879.7 L50.0,879.8 L51.7,879.8 L53.3,879.8 L55.0,879.9 L56.6,879.9 L58.3,879.9 L59.9,879.9 L61.6,880.0 L63.2,880.0 L64.9,880.0 L66.5,880.0 L68.2,880.0 L69.8,880.0 L71.5,880.1 L73.1,880.1 L74.7,880.1 L76.4,880.1 L78.0,880.1 L79.7,880.1 L81.3,880.1 L83.0,880.1 L84.6,880.1 L86.3,880.1 L87.9,880.1 L89.6,880.1 L91.2,880.1 L92.9,880.1 L94.5,880.1 L96.2,880.1 L97.8,880.1" fill="none" stroke="#f27878" stroke-width="0.6"/>
<path d="M20.4,844.0 L22.0,844.0 L23.7,844.2 L25.3,844.5 L27.0,844.9 L28.6,845.5 L30.3,846.2 L31.9,848.6 L33.6,853.1 L35.2,859.4 L36.9,870.2 L38.5,879.9 L40.2,884.3 L41.8,884.3 L43.5,884.3 L45.1,884.3 L46.7,884.3 L48.4,884.3 L50.0,884.3 L51.7,884.3 L53.3,884.3 L55.0,884.3 L56.6,884.3 L58.3,884.3 L59.9,884.3 L61.6,884.3 L63.2,884.3 L64.9,884.3 L66.5,884.3 L68.2,884.3 L69.8,884.3 L71.5,884.3 L73.1,884.3 L74.7,884.3 L76.4,884.3 L78.0,884.3 L79.7,884.3 L81.3,884.3 L83.0,884.3 L84.6,884.3 L86.3,884.3 L87.9,884.3 L89.6,884.3 L91.2,884.3 L92.9,884.3 L94.5,884.3 L96.2,884.3 L97.8,884.3" fill="none" stroke="#74e274" stroke-width="0.6"/>
<path d="M20.4,844.0 L22.0,844.6 L23.7,846.2 L25.3,849.8 L27.0,855.7 L28.6,865.3 L30.3,876.5 L31.9,883.2 L33.6,884.3 L35.2,884.3 L36.9,884.3 L38.5,884.3 L40.2,884.3 L41.8,884.3 L43.5,884.3 L45.1,884.3 L46.7,884.3 L48.4,884.3 L50.0,884.3 L51.7,884.3 L53.3,884.3 L55.0,884.3 L56.6,884.3 L58.3,884.3 L59.9,884.3 L61.6,884.3 L63.2,884.3 L64.9,884.3 L66.5,884.3 L68.2,884.3 L69.8,884.3 L71.5,884.3 L73.1,884.3 L74.7,884.3 L76.4,884.3 L78.0,884.3 L79.7,884.3 L81.3,884.3 L83.0,884.3 L84.6,884.3 L86.3,884.3 L87.9,884.3 L89.6,884.3 L91.2,884.3 L92.9,884.3 L94.5,884.3 L96.2,884.3 L97.8,884.3" fill="none" stroke="#1ecf1e" stroke-width="1.45" stroke-dasharray="3.8,1.6"/>
<path d="M20.4,835.7 L22.0,836.3 L23.7,837.8 L25.3,842.6 L27.0,850.2 L28.6,860.4 L30.3,871.8 L31.9,882.7 L33.6,884.3 L35.2,884.3 L36.9,884.3 L38.5,884.3 L40.2,884.3 L41.8,884.3 L43.5,884.3 L45.1,884.3 L46.7,884.3 L48.4,884.3 L50.0,884.3 L51.7,884.3 L53.3,884.3 L55.0,884.3 L56.6,884.3 L58.3,884.3 L59.9,884.3 L61.6,884.3 L63.2,884.3 L64.9,884.3 L66.5,884.3 L68.2,884.3 L69.8,884.3 L71.5,884.3 L73.1,884.3 L74.7,884.3 L76.4,884.3 L78.0,884.3 L79.7,884.3 L81.3,884.3 L83.0,884.3 L84.6,884.3 L86.3,884.3 L87.9,884.3 L89.6,884.3 L91.2,884.3 L92.9,884.3 L94.5,884.3 L96.2,884.3 L97.8,884.3" fill="none" stroke="#ec1e1e" stroke-width="1.45" stroke-dasharray="3.8,1.6"/>
<path d="M20.4,828.7 L22.0,829.1 L23.7,830.1 L25.3,833.7 L27.0,839.7 L28.6,849.1 L30.3,861.7 L31.9,878.2 L33.6,884.3 L35.2,884.3 L36.9,884.3 L38.5,884.3 L40.2,884.3 L41.8,884.3 L43.5,884.3 L45.1,884.3 L46.7,884.3 L48.4,884.3 L50.0,884.3 L51.7,884.3 L53.3,884.3 L55.0,884.3 L56.6,884.3 L58.3,884.3 L59.9,884.3 L61.6,884.3 L63.2,884.3 L64.9,884.3 L66.5,884.3 L68.2,884.3 L69.8,884.3 L71.5,884.3 L73.1,884.3 L74.7,884.3 L76.4,884.3 L78.0,884.3 L79.7,884.3 L81.3,884.3 L83.0,884.3 L84.6,884.3 L86.3,884.3 L87.9,884.3 L89.6,884.3 L91.2,884.3 L92.9,884.3 L94.5,884.3 L96.2,884.3 L97.8,884.3" fill="none" stroke="#1c3ff0" stroke-width="1.45" stroke-dasharray="3.8,1.6"/>
</g>
<rect x="19.20" y="827.40" width="80.30" height="57.90" rx="0" fill="none" stroke="#9a9a9a" stroke-width="0.7"/>
</g>
<text x="18.00" y="884.30" font-size="6.2" font-weight="normal" text-anchor="end" fill="#222" dominant-baseline="central" stroke="#222" stroke-width="0.12">0.0</text>
<text x="18.00" y="870.40" font-size="6.2" font-weight="normal" text-anchor="end" fill="#222" dominant-baseline="central" stroke="#222" stroke-width="0.12">0.2</text>
<text x="18.00" y="856.50" font-size="6.2" font-weight="normal" text-anchor="end" fill="#222" dominant-baseline="central" stroke="#222" stroke-width="0.12">0.4</text>
<text x="18.00" y="842.60" font-size="6.2" font-weight="normal" text-anchor="end" fill="#222" dominant-baseline="central" stroke="#222" stroke-width="0.12">0.6</text>
<text x="18.00" y="828.70" font-size="6.2" font-weight="normal" text-anchor="end" fill="#222" dominant-baseline="central" stroke="#222" stroke-width="0.12">0.8</text>
<text x="20.40" y="890.20" font-size="6.2" font-weight="normal" text-anchor="middle" fill="#222" dominant-baseline="central" stroke="#222" stroke-width="0.12">0</text>
<text x="36.52" y="890.20" font-size="6.2" font-weight="normal" text-anchor="middle" fill="#222" dominant-baseline="central" stroke="#222" stroke-width="0.12">25</text>
<text x="52.65" y="890.20" font-size="6.2" font-weight="normal" text-anchor="middle" fill="#222" dominant-baseline="central" stroke="#222" stroke-width="0.12">50</text>
<text x="68.78" y="890.20" font-size="6.2" font-weight="normal" text-anchor="middle" fill="#222" dominant-baseline="central" stroke="#222" stroke-width="0.12">75</text>
<text x="84.90" y="890.20" font-size="6.2" font-weight="normal" text-anchor="middle" fill="#222" dominant-baseline="central" stroke="#222" stroke-width="0.12">100</text>
<text x="58.00" y="821.50" font-size="7.3" font-weight="bold" text-anchor="middle" fill="#111" dominant-baseline="central" stroke="#111" stroke-width="0.12">trehalose</text>
<text x="6.20" y="862.00" font-size="7.8" font-weight="bold" text-anchor="middle" fill="#111" dominant-baseline="central" transform="rotate(-90 6.20 862.00)" stroke="#111" stroke-width="0.12">mM</text>
<g>
<rect x="252.80" y="579.40" width="77.60" height="58.80" rx="0" fill="#fff" stroke="none" stroke-width="1"/>
<path d="M254.4,579.4 L254.4,638.2" fill="none" stroke="#ececec" stroke-width="0.5"/>
<path d="M269.9,579.4 L269.9,638.2" fill="none" stroke="#ececec" stroke-width="0.5"/>
<path d="M285.4,579.4 L285.4,638.2" fill="none" stroke="#ececec" stroke-width="0.5"/>
<path d="M301.0,579.4 L301.0,638.2" fill="none" stroke="#ececec" stroke-width="0.5"/>
<path d="M316.5,579.4 L316.5,638.2" fill="none" stroke="#ececec" stroke-width="0.5"/>
<path d="M262.2,579.4 L262.2,638.2" fill="none" stroke="#f5f5f5" stroke-width="0.4"/>
<path d="M277.7,579.4 L277.7,638.2" fill="none" stroke="#f5f5f5" stroke-width="0.4"/>
<path d="M293.2,579.4 L293.2,638.2" fill="none" stroke="#f5f5f5" stroke-width="0.4"/>
<path d="M308.7,579.4 L308.7,638.2" fill="none" stroke="#f5f5f5" stroke-width="0.4"/>
<path d="M324.3,579.4 L324.3,638.2" fill="none" stroke="#f5f5f5" stroke-width="0.4"/>
<path d="M252.8,627.6 L330.4,627.6" fill="none" stroke="#ececec" stroke-width="0.5"/>
<path d="M252.8,617.0 L330.4,617.0" fill="none" stroke="#ececec" stroke-width="0.5"/>
<path d="M252.8,606.5 L330.4,606.5" fill="none" stroke="#ececec" stroke-width="0.5"/>
<path d="M252.8,595.9 L330.4,595.9" fill="none" stroke="#ececec" stroke-width="0.5"/>
<path d="M252.8,585.3 L330.4,585.3" fill="none" stroke="#ececec" stroke-width="0.5"/>
<clipPath id="e1"><rect x="252.8" y="579.4" width="77.59999999999997" height="58.80000000000007"/></clipPath>
<g clip-path="url(#e1)">
<path d="M254.4,638.2 L256.0,637.5 L257.6,635.5 L259.2,625.0 L260.7,612.0 L262.3,602.1 L263.9,593.5 L265.5,589.5 L267.1,592.5 L268.7,598.0 L270.3,600.1 L271.8,600.1 L273.4,600.1 L275.0,600.1 L276.6,600.2 L278.2,601.5 L279.8,604.0 L281.4,606.9 L282.9,609.6 L284.5,613.2 L286.1,617.0 L287.7,620.2 L289.3,621.9 L290.9,623.0 L292.5,623.7 L294.0,624.3 L295.6,624.9 L297.2,625.3 L298.8,625.7 L300.4,626.2 L302.0,626.6 L303.6,627.1 L305.1,627.6 L306.7,628.0 L308.3,628.5 L309.9,628.9 L311.5,629.3 L313.1,629.7 L314.7,630.1 L316.2,630.5 L317.8,630.9 L319.4,631.2 L321.0,631.6 L322.6,631.9 L324.2,632.2 L325.7,632.5 L327.3,632.8 L328.9,633.1 L328.9,632.3 L327.3,631.9 L325.7,631.4 L324.2,630.9 L322.6,630.5 L321.0,630.0 L319.4,629.5 L317.8,628.9 L316.2,628.4 L314.7,627.8 L313.1,627.2 L311.5,626.5 L309.9,625.9 L308.3,625.2 L306.7,624.5 L305.1,623.8 L303.6,623.1 L302.0,622.5 L300.4,621.9 L298.8,621.3 L297.2,620.8 L295.6,620.3 L294.0,619.7 L292.5,619.1 L290.9,618.4 L289.3,617.6 L287.7,615.9 L286.1,612.1 L284.5,607.3 L282.9,603.3 L281.4,600.8 L279.8,598.6 L278.2,596.8 L276.6,595.9 L275.0,595.9 L273.4,595.9 L271.8,595.9 L270.3,595.9 L268.7,592.9 L267.1,585.2 L265.5,581.1 L263.9,585.8 L262.3,596.1 L260.7,607.7 L259.2,622.0 L257.6,633.8 L256.0,636.7 L254.4,637.8Z" fill="#f6aaaa" fill-opacity="0.6" stroke="none"/>
<path d="M254.4,638.2 L256.0,637.6 L257.6,636.0 L259.2,627.2 L260.7,616.4 L262.3,608.0 L263.9,604.4 L265.5,608.2 L267.1,610.5 L268.7,603.9 L270.3,600.1 L271.8,600.8 L273.4,602.4 L275.0,604.6 L276.6,607.7 L278.2,616.8 L279.8,627.0 L281.4,631.9 L282.9,635.0 L284.5,636.1 L286.1,636.3 L287.7,636.5 L289.3,636.7 L290.9,636.8 L292.5,637.0 L294.0,637.1 L295.6,637.2 L297.2,637.3 L298.8,637.4 L300.4,637.5 L302.0,637.6 L303.6,637.7 L305.1,637.8 L306.7,637.9 L308.3,637.9 L309.9,638.0 L311.5,638.0 L313.1,638.0 L314.7,638.1 L316.2,638.1 L317.8,638.1 L319.4,638.2 L321.0,638.2 L322.6,638.2 L324.2,638.2 L325.7,638.2 L327.3,638.2 L328.9,638.2 L328.9,637.8 L327.3,637.8 L325.7,637.8 L324.2,637.8 L322.6,637.7 L321.0,637.7 L319.4,637.7 L317.8,637.7 L316.2,637.6 L314.7,637.6 L313.1,637.5 L311.5,637.4 L309.9,637.4 L308.3,637.3 L306.7,637.2 L305.1,637.0 L303.6,636.9 L302.0,636.8 L300.4,636.6 L298.8,636.4 L297.2,636.2 L295.6,636.0 L294.0,635.8 L292.5,635.6 L290.9,635.3 L289.3,635.0 L287.7,634.7 L286.1,634.4 L284.5,634.0 L282.9,631.6 L281.4,625.0 L279.8,617.9 L278.2,608.5 L276.6,601.1 L275.0,598.8 L273.4,597.3 L271.8,596.3 L270.3,595.9 L268.7,597.4 L267.1,600.0 L265.5,598.5 L263.9,595.9 L262.3,599.3 L260.7,607.8 L259.2,621.5 L257.6,633.8 L256.0,636.7 L254.4,637.8Z" fill="#a6eea6" fill-opacity="0.6" stroke="none"/>
<path d="M254.4,638.2 L256.0,637.5 L257.6,635.5 L259.2,624.3 L260.7,607.2 L262.3,598.9 L263.9,596.0 L265.5,597.2 L267.1,600.8 L268.7,602.6 L270.3,603.6 L271.8,604.2 L273.4,603.6 L275.0,598.0 L276.6,605.4 L278.2,613.3 L279.8,617.2 L281.4,620.4 L282.9,623.0 L284.5,624.8 L286.1,625.9 L287.7,626.8 L289.3,627.7 L290.9,628.5 L292.5,629.3 L294.0,630.0 L295.6,630.8 L297.2,631.4 L298.8,632.1 L300.4,632.7 L302.0,633.3 L303.6,633.8 L305.1,634.3 L306.7,634.8 L308.3,635.3 L309.9,635.7 L311.5,636.0 L313.1,636.4 L314.7,636.7 L316.2,637.0 L317.8,637.2 L319.4,637.4 L321.0,637.6 L322.6,637.7 L324.2,637.8 L325.7,637.9 L327.3,638.0 L328.9,638.0 L328.9,637.4 L327.3,637.3 L325.7,637.3 L324.2,637.2 L322.6,637.0 L321.0,636.8 L319.4,636.6 L317.8,636.3 L316.2,636.0 L314.7,635.6 L313.1,635.2 L311.5,634.8 L309.9,634.3 L308.3,633.8 L306.7,633.2 L305.1,632.6 L303.6,631.9 L302.0,631.2 L300.4,630.4 L298.8,629.7 L297.2,628.8 L295.6,627.9 L294.0,627.0 L292.5,626.1 L290.9,625.0 L289.3,624.0 L287.7,622.9 L286.1,621.8 L284.5,620.4 L282.9,618.1 L281.4,615.0 L279.8,611.2 L278.2,607.0 L276.6,599.9 L275.0,593.8 L273.4,597.5 L271.8,598.0 L270.3,598.0 L268.7,598.0 L267.1,596.9 L265.5,593.1 L263.9,591.7 L262.3,593.1 L260.7,600.7 L259.2,620.2 L257.6,633.8 L256.0,636.6 L254.4,637.8Z" fill="#a6b9f6" fill-opacity="0.6" stroke="none"/>
<path d="M254.4,638.0 L256.0,637.1 L257.6,634.7 L259.2,623.5 L260.7,609.9 L262.3,599.1 L263.9,589.6 L265.5,585.3 L267.1,588.8 L268.7,595.4 L270.3,598.0 L271.8,598.0 L273.4,598.0 L275.0,598.0 L276.6,598.1 L278.2,599.1 L279.8,601.2 L281.4,603.6 L282.9,606.2 L284.5,610.1 L286.1,614.4 L287.7,618.0 L289.3,619.8 L290.9,620.9 L292.5,621.6 L294.0,622.2 L295.6,622.7 L297.2,623.1 L298.8,623.6 L300.4,624.0 L302.0,624.6 L303.6,625.1 L305.1,625.7 L306.7,626.3 L308.3,626.9 L309.9,627.5 L311.5,628.1 L313.1,628.7 L314.7,629.2 L316.2,629.7 L317.8,630.1 L319.4,630.5 L321.0,630.9 L322.6,631.3 L324.2,631.7 L325.7,632.1 L327.3,632.4 L328.9,632.7" fill="none" stroke="#f27878" stroke-width="0.6"/>
<path d="M254.4,638.0 L256.0,637.1 L257.6,634.7 L259.2,624.5 L260.7,612.0 L262.3,602.3 L263.9,598.1 L265.5,603.2 L267.1,606.3 L268.7,601.0 L270.3,598.0 L271.8,598.4 L273.4,599.4 L275.0,600.9 L276.6,603.3 L278.2,611.8 L279.8,622.2 L281.4,628.6 L282.9,633.4 L284.5,635.3 L286.1,635.8 L287.7,636.2 L289.3,636.6 L290.9,636.8 L292.5,637.0 L294.0,637.1 L295.6,637.2 L297.2,637.3 L298.8,637.4 L300.4,637.5 L302.0,637.5 L303.6,637.6 L305.1,637.6 L306.7,637.7 L308.3,637.7 L309.9,637.7 L311.5,637.8 L313.1,637.8 L314.7,637.9 L316.2,637.9 L317.8,637.9 L319.4,637.9 L321.0,637.9 L322.6,638.0 L324.2,638.0 L325.7,638.0 L327.3,638.0 L328.9,638.0" fill="none" stroke="#74e274" stroke-width="0.6"/>
<path d="M254.4,638.0 L256.0,637.0 L257.6,634.7 L259.2,622.4 L260.7,604.2 L262.3,595.5 L263.9,592.7 L265.5,594.3 L267.1,598.8 L268.7,600.1 L270.3,600.1 L271.8,600.1 L273.4,599.5 L275.0,595.1 L276.6,602.9 L278.2,611.2 L279.8,615.0 L281.4,618.0 L282.9,620.4 L284.5,622.4 L286.1,624.1 L287.7,625.6 L289.3,627.1 L290.9,628.4 L292.5,629.6 L294.0,630.8 L295.6,631.7 L297.2,632.6 L298.8,633.3 L300.4,633.8 L302.0,634.2 L303.6,634.6 L305.1,634.9 L306.7,635.3 L308.3,635.6 L309.9,635.9 L311.5,636.2 L313.1,636.4 L314.7,636.7 L316.2,636.9 L317.8,637.1 L319.4,637.3 L321.0,637.4 L322.6,637.5 L324.2,637.6 L325.7,637.7 L327.3,637.8 L328.9,637.8" fill="none" stroke="#6b8cf2" stroke-width="0.6"/>
<path d="M254.4,638.2 L256.0,636.9 L257.6,633.8 L259.2,622.4 L260.7,608.5 L262.3,597.6 L263.9,591.3 L265.5,589.5 L267.1,591.7 L268.7,595.9 L270.3,598.2 L271.8,598.8 L273.4,599.1 L275.0,599.6 L276.6,600.5 L278.2,603.3 L279.8,607.0 L281.4,610.6 L282.9,614.6 L284.5,618.3 L286.1,621.0 L287.7,622.9 L289.3,624.6 L290.9,626.1 L292.5,627.4 L294.0,628.8 L295.6,630.0 L297.2,631.1 L298.8,632.1 L300.4,632.9 L302.0,633.5 L303.6,634.0 L305.1,634.5 L306.7,635.0 L308.3,635.4 L309.9,635.8 L311.5,636.2 L313.1,636.5 L314.7,636.7 L316.2,636.9 L317.8,637.1 L319.4,637.2 L321.0,637.4 L322.6,637.5 L324.2,637.6 L325.7,637.7 L327.3,637.8 L328.9,637.8" fill="none" stroke="#1ecf1e" stroke-width="1.45" stroke-dasharray="3.8,1.6"/>
<path d="M254.4,638.2 L256.0,636.9 L257.6,633.8 L259.2,623.4 L260.7,609.7 L262.3,595.4 L263.9,593.5 L265.5,597.5 L267.1,599.6 L268.7,601.2 L270.3,602.4 L271.8,603.1 L273.4,603.8 L275.0,605.4 L276.6,609.7 L278.2,614.6 L279.8,617.9 L281.4,620.0 L282.9,621.7 L284.5,623.3 L286.1,624.9 L287.7,626.5 L289.3,627.9 L290.9,629.2 L292.5,630.2 L294.0,631.1 L295.6,631.9 L297.2,632.6 L298.8,633.2 L300.4,633.8 L302.0,634.3 L303.6,634.7 L305.1,635.2 L306.7,635.6 L308.3,636.0 L309.9,636.3 L311.5,636.7 L313.1,636.9 L314.7,637.2 L316.2,637.3 L317.8,637.5 L319.4,637.6 L321.0,637.7 L322.6,637.8 L324.2,637.9 L325.7,637.9 L327.3,638.0 L328.9,638.0" fill="none" stroke="#1c3ff0" stroke-width="1.45" stroke-dasharray="3.8,1.6"/>
<path d="M254.4,638.2 L256.0,636.9 L257.6,633.8 L259.2,622.1 L260.7,607.6 L262.3,596.2 L263.9,589.1 L265.5,586.6 L267.1,589.2 L268.7,592.8 L270.3,595.8 L271.8,598.0 L273.4,599.2 L275.0,600.1 L276.6,601.5 L278.2,604.4 L279.8,607.5 L281.4,610.9 L282.9,614.4 L284.5,617.6 L286.1,620.1 L287.7,622.2 L289.3,624.0 L290.9,625.6 L292.5,627.1 L294.0,628.5 L295.6,629.8 L297.2,631.0 L298.8,632.0 L300.4,632.9 L302.0,633.5 L303.6,634.1 L305.1,634.6 L306.7,635.0 L308.3,635.5 L309.9,635.8 L311.5,636.2 L313.1,636.5 L314.7,636.7 L316.2,636.9 L317.8,637.1 L319.4,637.2 L321.0,637.4 L322.6,637.5 L324.2,637.6 L325.7,637.7 L327.3,637.8 L328.9,637.8" fill="none" stroke="#ec1e1e" stroke-width="1.45" stroke-dasharray="3.8,1.6"/>
</g>
<rect x="252.80" y="579.40" width="77.60" height="58.80" rx="0" fill="none" stroke="#9a9a9a" stroke-width="0.7"/>
</g>
<text x="251.60" y="638.20" font-size="6.2" font-weight="normal" text-anchor="end" fill="#222" dominant-baseline="central" stroke="#222" stroke-width="0.12">0.0</text>
<text x="251.60" y="627.62" font-size="6.2" font-weight="normal" text-anchor="end" fill="#222" dominant-baseline="central" stroke="#222" stroke-width="0.12">2.5</text>
<text x="251.60" y="617.04" font-size="6.2" font-weight="normal" text-anchor="end" fill="#222" dominant-baseline="central" stroke="#222" stroke-width="0.12">5.0</text>
<text x="251.60" y="606.46" font-size="6.2" font-weight="normal" text-anchor="end" fill="#222" dominant-baseline="central" stroke="#222" stroke-width="0.12">7.5</text>
<text x="251.60" y="595.88" font-size="6.2" font-weight="normal" text-anchor="end" fill="#222" dominant-baseline="central" stroke="#222" stroke-width="0.12">10.0</text>
<text x="251.60" y="585.30" font-size="6.2" font-weight="normal" text-anchor="end" fill="#222" dominant-baseline="central" stroke="#222" stroke-width="0.12">12.5</text>
<text x="254.40" y="643.60" font-size="6.2" font-weight="normal" text-anchor="middle" fill="#222" dominant-baseline="central" stroke="#222" stroke-width="0.12">0</text>
<text x="269.93" y="643.60" font-size="6.2" font-weight="normal" text-anchor="middle" fill="#222" dominant-baseline="central" stroke="#222" stroke-width="0.12">25</text>
<text x="285.45" y="643.60" font-size="6.2" font-weight="normal" text-anchor="middle" fill="#222" dominant-baseline="central" stroke="#222" stroke-width="0.12">50</text>
<text x="300.98" y="643.60" font-size="6.2" font-weight="normal" text-anchor="middle" fill="#222" dominant-baseline="central" stroke="#222" stroke-width="0.12">75</text>
<text x="316.50" y="643.60" font-size="6.2" font-weight="normal" text-anchor="middle" fill="#222" dominant-baseline="central" stroke="#222" stroke-width="0.12">100</text>
<text x="289.80" y="574.70" font-size="7.3" font-weight="bold" text-anchor="middle" fill="#111" dominant-baseline="central" stroke="#111" stroke-width="0.12">live cells</text>
<text x="237.40" y="609.20" font-size="7.6" font-weight="bold" text-anchor="middle" fill="#111" dominant-baseline="central" transform="rotate(-90 237.40 609.20)" stroke="#111" stroke-width="0.12">10<tspan font-size="4.5" dy="-2.6">5</tspan><tspan dy="2.6"> cells/uL</tspan></text>
<g>
<rect x="358.50" y="579.40" width="81.40" height="58.80" rx="0" fill="#fff" stroke="none" stroke-width="1"/>
<path d="M360.1,579.4 L360.1,638.2" fill="none" stroke="#ececec" stroke-width="0.5"/>
<path d="M376.3,579.4 L376.3,638.2" fill="none" stroke="#ececec" stroke-width="0.5"/>
<path d="M392.5,579.4 L392.5,638.2" fill="none" stroke="#ececec" stroke-width="0.5"/>
<path d="M408.6,579.4 L408.6,638.2" fill="none" stroke="#ececec" stroke-width="0.5"/>
<path d="M424.8,579.4 L424.8,638.2" fill="none" stroke="#ececec" stroke-width="0.5"/>
<path d="M368.2,579.4 L368.2,638.2" fill="none" stroke="#f5f5f5" stroke-width="0.4"/>
<path d="M384.4,579.4 L384.4,638.2" fill="none" stroke="#f5f5f5" stroke-width="0.4"/>
<path d="M400.5,579.4 L400.5,638.2" fill="none" stroke="#f5f5f5" stroke-width="0.4"/>
<path d="M416.7,579.4 L416.7,638.2" fill="none" stroke="#f5f5f5" stroke-width="0.4"/>
<path d="M432.9,579.4 L432.9,638.2" fill="none" stroke="#f5f5f5" stroke-width="0.4"/>
<path d="M358.5,636.0 L439.9,636.0" fill="none" stroke="#ececec" stroke-width="0.5"/>
<path d="M358.5,619.5 L439.9,619.5" fill="none" stroke="#ececec" stroke-width="0.5"/>
<path d="M358.5,603.1 L439.9,603.1" fill="none" stroke="#ececec" stroke-width="0.5"/>
<path d="M358.5,586.6 L439.9,586.6" fill="none" stroke="#ececec" stroke-width="0.5"/>
<clipPath id="e2"><rect x="358.5" y="579.4" width="81.39999999999998" height="58.80000000000007"/></clipPath>
<g clip-path="url(#e2)">
<path d="M360.1,582.6 L361.8,585.2 L363.4,590.1 L365.1,599.6 L366.7,610.4 L368.4,619.9 L370.0,626.7 L371.7,630.8 L373.3,632.9 L375.0,634.0 L376.6,634.3 L378.3,634.1 L379.9,633.6 L381.6,633.1 L383.2,632.5 L384.9,631.8 L386.5,631.0 L388.2,630.1 L389.8,629.4 L391.5,628.9 L393.1,628.7 L394.8,628.6 L396.4,628.6 L398.1,628.5 L399.7,628.4 L401.4,628.4 L403.0,628.3 L404.7,628.2 L406.4,628.2 L408.0,628.1 L409.7,628.1 L411.3,628.1 L413.0,628.0 L414.6,628.0 L416.3,627.9 L417.9,627.9 L419.6,627.9 L421.2,627.9 L422.9,627.8 L424.5,627.8 L426.2,627.8 L427.8,627.8 L429.5,627.8 L431.1,627.8 L432.8,627.8 L434.4,627.8 L436.1,627.8 L437.7,627.8" fill="none" stroke="#74e274" stroke-width="0.6"/>
<path d="M360.1,583.3 L361.8,584.9 L363.4,588.4 L365.1,596.7 L366.7,607.1 L368.4,617.4 L370.0,625.1 L371.7,629.8 L373.3,632.3 L375.0,633.4 L376.6,633.7 L378.3,633.5 L379.9,633.0 L381.6,632.5 L383.2,631.9 L384.9,631.0 L386.5,629.9 L388.2,628.8 L389.8,628.0 L391.5,627.8 L393.1,627.7 L394.8,627.7 L396.4,627.7 L398.1,627.7 L399.7,627.6 L401.4,627.6 L403.0,627.6 L404.7,627.6 L406.4,627.6 L408.0,627.5 L409.7,627.5 L411.3,627.5 L413.0,627.5 L414.6,627.5 L416.3,627.5 L417.9,627.5 L419.6,627.5 L421.2,627.5 L422.9,627.5 L424.5,627.5 L426.2,627.4 L427.8,627.4 L429.5,627.4 L431.1,627.4 L432.8,627.4 L434.4,627.4 L436.1,627.4 L437.7,627.4" fill="none" stroke="#6b8cf2" stroke-width="0.6"/>
<path d="M360.1,583.3 L361.8,585.2 L363.4,589.4 L365.1,598.1 L366.7,608.8 L368.4,619.2 L370.0,626.7 L371.7,630.8 L373.3,632.9 L375.0,634.0 L376.6,634.3 L378.3,634.0 L379.9,633.3 L381.6,632.5 L383.2,631.9 L384.9,631.2 L386.5,630.5 L388.2,629.8 L389.8,629.2 L391.5,628.8 L393.1,628.7 L394.8,628.7 L396.4,628.6 L398.1,628.6 L399.7,628.5 L401.4,628.5 L403.0,628.4 L404.7,628.4 L406.4,628.4 L408.0,628.3 L409.7,628.3 L411.3,628.3 L413.0,628.3 L414.6,628.2 L416.3,628.2 L417.9,628.2 L419.6,628.2 L421.2,628.2 L422.9,628.1 L424.5,628.1 L426.2,628.1 L427.8,628.1 L429.5,628.1 L431.1,628.1 L432.8,628.1 L434.4,628.1 L436.1,628.1 L437.7,628.1" fill="none" stroke="#f27878" stroke-width="0.6"/>
<path d="M360.1,586.6 L361.8,587.3 L363.4,592.1 L365.1,601.8 L366.7,612.7 L368.4,621.5 L370.0,627.3 L371.7,630.9 L373.3,632.7 L375.0,633.7 L376.6,634.3 L378.3,634.4 L379.9,634.4 L381.6,634.4 L383.2,634.4 L384.9,634.4 L386.5,634.4 L388.2,634.4 L389.8,634.4 L391.5,634.4 L393.1,634.4 L394.8,634.4 L396.4,634.4 L398.1,634.4 L399.7,634.4 L401.4,634.4 L403.0,634.4 L404.7,634.4 L406.4,634.4 L408.0,634.4 L409.7,634.4 L411.3,634.4 L413.0,634.4 L414.6,634.4 L416.3,634.4 L417.9,634.4 L419.6,634.4 L421.2,634.4 L422.9,634.4 L424.5,634.4 L426.2,634.4 L427.8,634.4 L429.5,634.4 L431.1,634.4 L432.8,634.4 L434.4,634.4 L436.1,634.4 L437.7,634.4" fill="none" stroke="#1ecf1e" stroke-width="1.45" stroke-dasharray="3.8,1.6"/>
<path d="M360.1,584.0 L361.8,586.0 L363.4,592.0 L365.1,601.8 L366.7,611.6 L368.4,620.2 L370.0,626.9 L371.7,629.1 L373.3,629.4 L375.0,629.4 L376.6,629.4 L378.3,629.4 L379.9,629.4 L381.6,629.4 L383.2,629.4 L384.9,629.4 L386.5,629.4 L388.2,629.4 L389.8,629.4 L391.5,629.4 L393.1,629.4 L394.8,629.4 L396.4,629.4 L398.1,629.4 L399.7,629.4 L401.4,629.4 L403.0,629.4 L404.7,629.4 L406.4,629.4 L408.0,629.4 L409.7,629.4 L411.3,629.4 L413.0,629.4 L414.6,629.4 L416.3,629.4 L417.9,629.4 L419.6,629.4 L421.2,629.4 L422.9,629.4 L424.5,629.4 L426.2,629.4 L427.8,629.4 L429.5,629.4 L431.1,629.4 L432.8,629.4 L434.4,629.4 L436.1,629.4 L437.7,629.4" fill="none" stroke="#1c3ff0" stroke-width="1.45" stroke-dasharray="3.8,1.6"/>
<path d="M360.1,586.6 L361.8,587.3 L363.4,592.1 L365.1,601.8 L366.7,612.6 L368.4,621.7 L370.0,627.9 L371.7,631.9 L373.3,634.0 L375.0,634.9 L376.6,635.3 L378.3,635.3 L379.9,635.3 L381.6,635.3 L383.2,635.3 L384.9,635.3 L386.5,635.3 L388.2,635.3 L389.8,635.3 L391.5,635.3 L393.1,635.3 L394.8,635.3 L396.4,635.3 L398.1,635.3 L399.7,635.3 L401.4,635.3 L403.0,635.3 L404.7,635.3 L406.4,635.3 L408.0,635.3 L409.7,635.3 L411.3,635.3 L413.0,635.3 L414.6,635.3 L416.3,635.3 L417.9,635.3 L419.6,635.3 L421.2,635.3 L422.9,635.3 L424.5,635.3 L426.2,635.3 L427.8,635.3 L429.5,635.3 L431.1,635.3 L432.8,635.3 L434.4,635.3 L436.1,635.3 L437.7,635.3" fill="none" stroke="#ec1e1e" stroke-width="1.45" stroke-dasharray="3.8,1.6"/>
</g>
<rect x="358.50" y="579.40" width="81.40" height="58.80" rx="0" fill="none" stroke="#9a9a9a" stroke-width="0.7"/>
</g>
<text x="357.30" y="636.00" font-size="6.2" font-weight="normal" text-anchor="end" fill="#222" dominant-baseline="central" stroke="#222" stroke-width="0.12">5.0</text>
<text x="357.30" y="619.53" font-size="6.2" font-weight="normal" text-anchor="end" fill="#222" dominant-baseline="central" stroke="#222" stroke-width="0.12">5.0</text>
<text x="357.30" y="603.07" font-size="6.2" font-weight="normal" text-anchor="end" fill="#222" dominant-baseline="central" stroke="#222" stroke-width="0.12">6.0</text>
<text x="357.30" y="586.60" font-size="6.2" font-weight="normal" text-anchor="end" fill="#222" dominant-baseline="central" stroke="#222" stroke-width="0.12">6.5</text>
<text x="360.10" y="643.60" font-size="6.2" font-weight="normal" text-anchor="middle" fill="#222" dominant-baseline="central" stroke="#222" stroke-width="0.12">0</text>
<text x="376.28" y="643.60" font-size="6.2" font-weight="normal" text-anchor="middle" fill="#222" dominant-baseline="central" stroke="#222" stroke-width="0.12">25</text>
<text x="392.45" y="643.60" font-size="6.2" font-weight="normal" text-anchor="middle" fill="#222" dominant-baseline="central" stroke="#222" stroke-width="0.12">50</text>
<text x="408.62" y="643.60" font-size="6.2" font-weight="normal" text-anchor="middle" fill="#222" dominant-baseline="central" stroke="#222" stroke-width="0.12">75</text>
<text x="424.80" y="643.60" font-size="6.2" font-weight="normal" text-anchor="middle" fill="#222" dominant-baseline="central" stroke="#222" stroke-width="0.12">100</text>
<text x="402.10" y="574.70" font-size="7.3" font-weight="bold" text-anchor="middle" fill="#111" dominant-baseline="central" stroke="#111" stroke-width="0.12">pH</text>
<text x="345.60" y="607.00" font-size="7.3" font-weight="bold" text-anchor="middle" fill="#111" dominant-baseline="central" transform="rotate(-90 345.60 607.00)" stroke="#111" stroke-width="0.12">pH</text>
<g>
<rect x="248.60" y="663.20" width="80.80" height="57.60" rx="0" fill="#fff" stroke="none" stroke-width="1"/>
<path d="M250.5,663.2 L250.5,720.8" fill="none" stroke="#ececec" stroke-width="0.5"/>
<path d="M266.9,663.2 L266.9,720.8" fill="none" stroke="#ececec" stroke-width="0.5"/>
<path d="M283.2,663.2 L283.2,720.8" fill="none" stroke="#ececec" stroke-width="0.5"/>
<path d="M299.6,663.2 L299.6,720.8" fill="none" stroke="#ececec" stroke-width="0.5"/>
<path d="M316.0,663.2 L316.0,720.8" fill="none" stroke="#ececec" stroke-width="0.5"/>
<path d="M258.7,663.2 L258.7,720.8" fill="none" stroke="#f5f5f5" stroke-width="0.4"/>
<path d="M275.1,663.2 L275.1,720.8" fill="none" stroke="#f5f5f5" stroke-width="0.4"/>
<path d="M291.4,663.2 L291.4,720.8" fill="none" stroke="#f5f5f5" stroke-width="0.4"/>
<path d="M307.8,663.2 L307.8,720.8" fill="none" stroke="#f5f5f5" stroke-width="0.4"/>
<path d="M324.2,663.2 L324.2,720.8" fill="none" stroke="#f5f5f5" stroke-width="0.4"/>
<path d="M248.6,711.8 L329.4,711.8" fill="none" stroke="#ececec" stroke-width="0.5"/>
<path d="M248.6,700.0 L329.4,700.0" fill="none" stroke="#ececec" stroke-width="0.5"/>
<path d="M248.6,688.2 L329.4,688.2" fill="none" stroke="#ececec" stroke-width="0.5"/>
<path d="M248.6,676.5 L329.4,676.5" fill="none" stroke="#ececec" stroke-width="0.5"/>
<path d="M248.6,664.7 L329.4,664.7" fill="none" stroke="#ececec" stroke-width="0.5"/>
<clipPath id="e3"><rect x="248.6" y="663.2" width="80.79999999999998" height="57.59999999999991"/></clipPath>
<g clip-path="url(#e3)">
<path d="M250.5,665.3 L252.2,664.9 L253.8,664.7 L255.5,664.7 L257.2,666.8 L258.9,673.4 L260.5,690.2 L262.2,703.7 L263.9,712.8 L265.6,717.7 L267.2,718.3 L268.9,718.3 L270.6,718.4 L272.2,718.4 L273.9,718.5 L275.6,718.5 L277.3,718.5 L278.9,718.6 L280.6,718.6 L282.3,718.6 L283.9,718.6 L285.6,718.7 L287.3,718.7 L289.0,718.7 L290.6,718.7 L292.3,718.7 L294.0,718.8 L295.7,718.8 L297.3,718.8 L299.0,718.8 L300.7,718.8 L302.3,718.8 L304.0,718.8 L305.7,718.8 L307.4,718.8 L309.0,718.8 L310.7,718.8 L312.4,718.8 L314.0,718.9 L315.7,718.9 L317.4,718.9 L319.1,718.9 L320.7,718.9 L322.4,718.9 L324.1,718.9 L325.8,718.9 L327.4,718.9 L329.1,718.9" fill="none" stroke="#6b8cf2" stroke-width="0.6"/>
<path d="M250.5,674.1 L252.2,674.2 L253.8,674.6 L255.5,676.5 L257.2,682.9 L258.9,690.7 L260.5,700.6 L262.2,709.4 L263.9,715.3 L265.6,718.0 L267.2,718.9 L268.9,719.0 L270.6,719.0 L272.2,719.1 L273.9,719.2 L275.6,719.3 L277.3,719.3 L278.9,719.4 L280.6,719.5 L282.3,719.5 L283.9,719.6 L285.6,719.6 L287.3,719.6 L289.0,719.7 L290.6,719.7 L292.3,719.8 L294.0,719.8 L295.7,719.8 L297.3,719.9 L299.0,719.9 L300.7,719.9 L302.3,719.9 L304.0,719.9 L305.7,720.0 L307.4,720.0 L309.0,720.0 L310.7,720.0 L312.4,720.0 L314.0,720.0 L315.7,720.0 L317.4,720.0 L319.1,720.0 L320.7,720.0 L322.4,720.0 L324.1,720.0 L325.8,720.0 L327.4,720.0 L329.1,720.0" fill="none" stroke="#f27878" stroke-width="0.6"/>
<path d="M250.5,672.9 L252.2,673.1 L253.8,673.8 L255.5,680.0 L257.2,695.1 L258.9,707.6 L260.5,715.2 L262.2,717.9 L263.9,718.9 L265.6,719.0 L267.2,719.1 L268.9,719.2 L270.6,719.3 L272.2,719.4 L273.9,719.5 L275.6,719.6 L277.3,719.7 L278.9,719.8 L280.6,719.9 L282.3,719.9 L283.9,720.0 L285.6,720.1 L287.3,720.1 L289.0,720.2 L290.6,720.2 L292.3,720.3 L294.0,720.3 L295.7,720.3 L297.3,720.4 L299.0,720.4 L300.7,720.4 L302.3,720.5 L304.0,720.5 L305.7,720.5 L307.4,720.5 L309.0,720.6 L310.7,720.6 L312.4,720.6 L314.0,720.6 L315.7,720.6 L317.4,720.6 L319.1,720.6 L320.7,720.6 L322.4,720.6 L324.1,720.6 L325.8,720.6 L327.4,720.6 L329.1,720.6" fill="none" stroke="#74e274" stroke-width="0.6"/>
<path d="M250.5,673.5 L252.2,673.8 L253.8,674.8 L255.5,683.8 L257.2,698.9 L258.9,709.9 L260.5,715.7 L262.2,717.7 L263.9,718.7 L265.6,719.0 L267.2,719.2 L268.9,719.2 L270.6,719.2 L272.2,719.2 L273.9,719.2 L275.6,719.2 L277.3,719.2 L278.9,719.2 L280.6,719.2 L282.3,719.3 L283.9,719.3 L285.6,719.3 L287.3,719.3 L289.0,719.3 L290.6,719.3 L292.3,719.3 L294.0,719.3 L295.7,719.3 L297.3,719.3 L299.0,719.3 L300.7,719.3 L302.3,719.3 L304.0,719.3 L305.7,719.3 L307.4,719.3 L309.0,719.3 L310.7,719.3 L312.4,719.3 L314.0,719.3 L315.7,719.3 L317.4,719.3 L319.1,719.3 L320.7,719.3 L322.4,719.3 L324.1,719.3 L325.8,719.3 L327.4,719.3 L329.1,719.3" fill="none" stroke="#1ecf1e" stroke-width="1.45" stroke-dasharray="3.8,1.6"/>
<path d="M250.5,674.7 L252.2,675.0 L253.8,676.0 L255.5,685.0 L257.2,699.1 L258.9,709.5 L260.5,715.1 L262.2,717.1 L263.9,718.1 L265.6,718.5 L267.2,718.6 L268.9,718.6 L270.6,718.6 L272.2,718.6 L273.9,718.6 L275.6,718.6 L277.3,718.6 L278.9,718.6 L280.6,718.6 L282.3,718.6 L283.9,718.6 L285.6,718.6 L287.3,718.6 L289.0,718.6 L290.6,718.6 L292.3,718.6 L294.0,718.6 L295.7,718.6 L297.3,718.6 L299.0,718.6 L300.7,718.6 L302.3,718.6 L304.0,718.6 L305.7,718.6 L307.4,718.6 L309.0,718.6 L310.7,718.6 L312.4,718.6 L314.0,718.6 L315.7,718.6 L317.4,718.6 L319.1,718.6 L320.7,718.6 L322.4,718.6 L324.1,718.6 L325.8,718.6 L327.4,718.6 L329.1,718.6" fill="none" stroke="#ec1e1e" stroke-width="1.45" stroke-dasharray="3.8,1.6"/>
<path d="M250.5,667.1 L252.2,668.0 L253.8,669.5 L255.5,680.7 L257.2,694.5 L258.9,705.5 L260.5,712.0 L262.2,714.7 L263.9,715.6 L265.6,715.7 L267.2,715.7 L268.9,715.7 L270.6,715.7 L272.2,715.7 L273.9,715.7 L275.6,715.8 L277.3,715.8 L278.9,715.8 L280.6,715.8 L282.3,715.8 L283.9,715.8 L285.6,715.8 L287.3,715.8 L289.0,715.8 L290.6,715.9 L292.3,715.9 L294.0,715.9 L295.7,715.9 L297.3,715.9 L299.0,715.9 L300.7,715.9 L302.3,715.9 L304.0,715.9 L305.7,715.9 L307.4,715.9 L309.0,715.9 L310.7,715.9 L312.4,715.9 L314.0,715.9 L315.7,715.9 L317.4,715.9 L319.1,715.9 L320.7,715.9 L322.4,715.9 L324.1,715.9 L325.8,715.9 L327.4,715.9 L329.1,715.9" fill="none" stroke="#1c3ff0" stroke-width="1.45" stroke-dasharray="3.8,1.6"/>
</g>
<rect x="248.60" y="663.20" width="80.80" height="57.60" rx="0" fill="none" stroke="#9a9a9a" stroke-width="0.7"/>
</g>
<text x="247.40" y="711.80" font-size="6.2" font-weight="normal" text-anchor="end" fill="#222" dominant-baseline="central" stroke="#222" stroke-width="0.12">2</text>
<text x="247.40" y="700.02" font-size="6.2" font-weight="normal" text-anchor="end" fill="#222" dominant-baseline="central" stroke="#222" stroke-width="0.12">4</text>
<text x="247.40" y="688.25" font-size="6.2" font-weight="normal" text-anchor="end" fill="#222" dominant-baseline="central" stroke="#222" stroke-width="0.12">6</text>
<text x="247.40" y="676.48" font-size="6.2" font-weight="normal" text-anchor="end" fill="#222" dominant-baseline="central" stroke="#222" stroke-width="0.12">8</text>
<text x="247.40" y="664.70" font-size="6.2" font-weight="normal" text-anchor="end" fill="#222" dominant-baseline="central" stroke="#222" stroke-width="0.12">10</text>
<text x="250.50" y="726.30" font-size="6.2" font-weight="normal" text-anchor="middle" fill="#222" dominant-baseline="central" stroke="#222" stroke-width="0.12">0</text>
<text x="266.88" y="726.30" font-size="6.2" font-weight="normal" text-anchor="middle" fill="#222" dominant-baseline="central" stroke="#222" stroke-width="0.12">25</text>
<text x="283.25" y="726.30" font-size="6.2" font-weight="normal" text-anchor="middle" fill="#222" dominant-baseline="central" stroke="#222" stroke-width="0.12">50</text>
<text x="299.62" y="726.30" font-size="6.2" font-weight="normal" text-anchor="middle" fill="#222" dominant-baseline="central" stroke="#222" stroke-width="0.12">75</text>
<text x="316.00" y="726.30" font-size="6.2" font-weight="normal" text-anchor="middle" fill="#222" dominant-baseline="central" stroke="#222" stroke-width="0.12">100</text>
<text x="290.00" y="658.10" font-size="7.3" font-weight="bold" text-anchor="middle" fill="#111" dominant-baseline="central" stroke="#111" stroke-width="0.12">pyruvate</text>
<text x="237.40" y="689.50" font-size="7.8" font-weight="bold" text-anchor="middle" fill="#111" dominant-baseline="central" transform="rotate(-90 237.40 689.50)" stroke="#111" stroke-width="0.12">mM</text>
<g>
<rect x="360.60" y="663.00" width="78.30" height="58.00" rx="0" fill="#fff" stroke="none" stroke-width="1"/>
<path d="M362.3,663.0 L362.3,721.0" fill="none" stroke="#ececec" stroke-width="0.5"/>
<path d="M378.0,663.0 L378.0,721.0" fill="none" stroke="#ececec" stroke-width="0.5"/>
<path d="M393.7,663.0 L393.7,721.0" fill="none" stroke="#ececec" stroke-width="0.5"/>
<path d="M409.4,663.0 L409.4,721.0" fill="none" stroke="#ececec" stroke-width="0.5"/>
<path d="M425.1,663.0 L425.1,721.0" fill="none" stroke="#ececec" stroke-width="0.5"/>
<path d="M370.2,663.0 L370.2,721.0" fill="none" stroke="#f5f5f5" stroke-width="0.4"/>
<path d="M385.9,663.0 L385.9,721.0" fill="none" stroke="#f5f5f5" stroke-width="0.4"/>
<path d="M401.6,663.0 L401.6,721.0" fill="none" stroke="#f5f5f5" stroke-width="0.4"/>
<path d="M417.2,663.0 L417.2,721.0" fill="none" stroke="#f5f5f5" stroke-width="0.4"/>
<path d="M433.0,663.0 L433.0,721.0" fill="none" stroke="#f5f5f5" stroke-width="0.4"/>
<path d="M360.6,718.9 L438.9,718.9" fill="none" stroke="#ececec" stroke-width="0.5"/>
<path d="M360.6,709.6 L438.9,709.6" fill="none" stroke="#ececec" stroke-width="0.5"/>
<path d="M360.6,700.3 L438.9,700.3" fill="none" stroke="#ececec" stroke-width="0.5"/>
<path d="M360.6,691.0 L438.9,691.0" fill="none" stroke="#ececec" stroke-width="0.5"/>
<path d="M360.6,681.6 L438.9,681.6" fill="none" stroke="#ececec" stroke-width="0.5"/>
<path d="M360.6,672.3 L438.9,672.3" fill="none" stroke="#ececec" stroke-width="0.5"/>
<clipPath id="e4"><rect x="360.6" y="663.0" width="78.29999999999995" height="58.0"/></clipPath>
<g clip-path="url(#e4)">
<path d="M362.3,716.6 L363.9,715.2 L365.5,711.7 L367.1,699.4 L368.7,685.5 L370.3,677.2 L371.9,671.9 L373.5,668.9 L375.1,667.6 L376.7,667.2 L378.3,666.9 L379.9,666.8 L381.5,666.7 L383.1,666.7 L384.7,666.7 L386.4,666.7 L388.0,666.7 L389.6,666.7 L391.2,666.7 L392.8,666.7 L394.4,666.8 L396.0,666.8 L397.6,666.8 L399.2,666.8 L400.8,666.8 L402.4,666.8 L404.0,666.8 L405.6,666.9 L407.2,666.9 L408.8,666.9 L410.4,667.0 L412.0,667.0 L413.6,667.1 L415.2,667.1 L416.8,667.2 L418.4,667.3 L420.0,667.3 L421.6,667.4 L423.2,667.5 L424.8,667.6 L426.4,667.7 L428.0,667.8 L429.6,667.9 L431.2,668.0 L432.8,668.2 L434.5,668.3 L436.1,668.4 L437.7,668.6" fill="none" stroke="#74e274" stroke-width="0.6"/>
<path d="M362.3,719.8 L363.9,718.1 L365.5,714.0 L367.1,702.7 L368.7,690.2 L370.3,682.2 L371.9,676.4 L373.5,671.9 L375.1,669.9 L376.7,669.3 L378.3,668.9 L379.9,668.7 L381.5,668.6 L383.1,668.5 L384.7,668.5 L386.4,668.4 L388.0,668.3 L389.6,668.3 L391.2,668.2 L392.8,668.2 L394.4,668.2 L396.0,668.1 L397.6,668.1 L399.2,668.0 L400.8,668.0 L402.4,668.0 L404.0,667.9 L405.6,667.9 L407.2,667.9 L408.8,667.9 L410.4,667.8 L412.0,667.8 L413.6,667.8 L415.2,667.8 L416.8,667.8 L418.4,667.7 L420.0,667.7 L421.6,667.7 L423.2,667.7 L424.8,667.7 L426.4,667.7 L428.0,667.7 L429.6,667.7 L431.2,667.7 L432.8,667.7 L434.5,667.7 L436.1,667.7 L437.7,667.7" fill="none" stroke="#6b8cf2" stroke-width="0.6"/>
<path d="M362.3,718.9 L363.9,717.5 L365.5,714.1 L367.1,701.7 L368.7,687.9 L370.3,679.7 L371.9,674.1 L373.5,670.2 L375.1,668.5 L376.7,668.1 L378.3,667.9 L379.9,667.7 L381.5,667.6 L383.1,667.6 L384.7,667.5 L386.4,667.5 L388.0,667.4 L389.6,667.4 L391.2,667.3 L392.8,667.3 L394.4,667.2 L396.0,667.2 L397.6,667.2 L399.2,667.1 L400.8,667.1 L402.4,667.1 L404.0,667.0 L405.6,667.0 L407.2,667.0 L408.8,666.9 L410.4,666.9 L412.0,666.9 L413.6,666.9 L415.2,666.8 L416.8,666.8 L418.4,666.8 L420.0,666.8 L421.6,666.8 L423.2,666.8 L424.8,666.8 L426.4,666.8 L428.0,666.7 L429.6,666.7 L431.2,666.7 L432.8,666.7 L434.5,666.7 L436.1,666.7 L437.7,666.7" fill="none" stroke="#f27878" stroke-width="0.6"/>
<path d="M362.3,717.5 L363.9,716.1 L365.5,712.7 L367.1,701.2 L368.7,687.8 L370.3,678.1 L371.9,671.8 L373.5,668.7 L375.1,667.0 L376.7,666.1 L378.3,665.8 L379.9,665.8 L381.5,665.8 L383.1,665.8 L384.7,665.8 L386.4,665.8 L388.0,665.8 L389.6,665.8 L391.2,665.8 L392.8,665.8 L394.4,665.8 L396.0,665.8 L397.6,665.8 L399.2,665.8 L400.8,665.8 L402.4,665.8 L404.0,665.8 L405.6,665.8 L407.2,665.8 L408.8,665.8 L410.4,665.8 L412.0,665.8 L413.6,665.8 L415.2,665.8 L416.8,665.8 L418.4,665.8 L420.0,665.8 L421.6,665.8 L423.2,665.8 L424.8,665.8 L426.4,665.8 L428.0,665.8 L429.6,665.8 L431.2,665.8 L432.8,665.8 L434.5,665.8 L436.1,665.8 L437.7,665.8" fill="none" stroke="#1ecf1e" stroke-width="1.45" stroke-dasharray="3.8,1.6"/>
<path d="M362.3,720.3 L363.9,718.7 L365.5,715.0 L367.1,703.7 L368.7,690.0 L370.3,679.1 L371.9,674.4 L373.5,672.8 L375.1,672.8 L376.7,672.8 L378.3,672.8 L379.9,672.8 L381.5,672.8 L383.1,672.8 L384.7,672.8 L386.4,672.8 L388.0,672.8 L389.6,672.8 L391.2,672.8 L392.8,672.8 L394.4,672.8 L396.0,672.8 L397.6,672.8 L399.2,672.8 L400.8,672.8 L402.4,672.8 L404.0,672.8 L405.6,672.8 L407.2,672.8 L408.8,672.8 L410.4,672.8 L412.0,672.8 L413.6,672.8 L415.2,672.8 L416.8,672.8 L418.4,672.8 L420.0,672.8 L421.6,672.8 L423.2,672.8 L424.8,672.8 L426.4,672.8 L428.0,672.8 L429.6,672.8 L431.2,672.8 L432.8,672.8 L434.5,672.8 L436.1,672.8 L437.7,672.8" fill="none" stroke="#1c3ff0" stroke-width="1.45" stroke-dasharray="3.8,1.6"/>
<path d="M362.3,719.4 L363.9,717.8 L365.5,714.0 L367.1,702.3 L368.7,688.7 L370.3,679.1 L371.9,672.7 L373.5,669.2 L375.1,667.5 L376.7,666.7 L378.3,666.5 L379.9,666.5 L381.5,666.5 L383.1,666.5 L384.7,666.5 L386.4,666.5 L388.0,666.5 L389.6,666.5 L391.2,666.5 L392.8,666.5 L394.4,666.5 L396.0,666.5 L397.6,666.5 L399.2,666.5 L400.8,666.5 L402.4,666.5 L404.0,666.5 L405.6,666.5 L407.2,666.5 L408.8,666.5 L410.4,666.5 L412.0,666.5 L413.6,666.5 L415.2,666.5 L416.8,666.5 L418.4,666.5 L420.0,666.5 L421.6,666.5 L423.2,666.5 L424.8,666.5 L426.4,666.5 L428.0,666.5 L429.6,666.5 L431.2,666.5 L432.8,666.5 L434.5,666.5 L436.1,666.5 L437.7,666.5" fill="none" stroke="#ec1e1e" stroke-width="1.45" stroke-dasharray="3.8,1.6"/>
</g>
<rect x="360.60" y="663.00" width="78.30" height="58.00" rx="0" fill="none" stroke="#9a9a9a" stroke-width="0.7"/>
</g>
<text x="359.40" y="718.90" font-size="6.2" font-weight="normal" text-anchor="end" fill="#222" dominant-baseline="central" stroke="#222" stroke-width="0.12">2</text>
<text x="359.40" y="709.58" font-size="6.2" font-weight="normal" text-anchor="end" fill="#222" dominant-baseline="central" stroke="#222" stroke-width="0.12">4</text>
<text x="359.40" y="700.27" font-size="6.2" font-weight="normal" text-anchor="end" fill="#222" dominant-baseline="central" stroke="#222" stroke-width="0.12">6</text>
<text x="359.40" y="690.95" font-size="6.2" font-weight="normal" text-anchor="end" fill="#222" dominant-baseline="central" stroke="#222" stroke-width="0.12">8</text>
<text x="359.40" y="681.63" font-size="6.2" font-weight="normal" text-anchor="end" fill="#222" dominant-baseline="central" stroke="#222" stroke-width="0.12">10</text>
<text x="359.40" y="672.32" font-size="6.2" font-weight="normal" text-anchor="end" fill="#222" dominant-baseline="central" stroke="#222" stroke-width="0.12">12</text>
<text x="359.40" y="663.00" font-size="6.2" font-weight="normal" text-anchor="end" fill="#222" dominant-baseline="central" stroke="#222" stroke-width="0.12">14</text>
<text x="362.30" y="726.30" font-size="6.2" font-weight="normal" text-anchor="middle" fill="#222" dominant-baseline="central" stroke="#222" stroke-width="0.12">0</text>
<text x="378.00" y="726.30" font-size="6.2" font-weight="normal" text-anchor="middle" fill="#222" dominant-baseline="central" stroke="#222" stroke-width="0.12">25</text>
<text x="393.70" y="726.30" font-size="6.2" font-weight="normal" text-anchor="middle" fill="#222" dominant-baseline="central" stroke="#222" stroke-width="0.12">50</text>
<text x="409.40" y="726.30" font-size="6.2" font-weight="normal" text-anchor="middle" fill="#222" dominant-baseline="central" stroke="#222" stroke-width="0.12">75</text>
<text x="425.10" y="726.30" font-size="6.2" font-weight="normal" text-anchor="middle" fill="#222" dominant-baseline="central" stroke="#222" stroke-width="0.12">100</text>
<text x="402.00" y="658.10" font-size="7.3" font-weight="bold" text-anchor="middle" fill="#111" dominant-baseline="central" stroke="#111" stroke-width="0.12">acetate</text>
<text x="345.90" y="689.50" font-size="7.8" font-weight="bold" text-anchor="middle" fill="#111" dominant-baseline="central" transform="rotate(-90 345.90 689.50)" stroke="#111" stroke-width="0.12">mM</text>
<g>
<rect x="246.50" y="746.70" width="83.90" height="60.50" rx="0" fill="#fff" stroke="none" stroke-width="1"/>
<path d="M248.8,746.7 L248.8,807.2" fill="none" stroke="#ececec" stroke-width="0.5"/>
<path d="M265.2,746.7 L265.2,807.2" fill="none" stroke="#ececec" stroke-width="0.5"/>
<path d="M281.7,746.7 L281.7,807.2" fill="none" stroke="#ececec" stroke-width="0.5"/>
<path d="M298.2,746.7 L298.2,807.2" fill="none" stroke="#ececec" stroke-width="0.5"/>
<path d="M314.6,746.7 L314.6,807.2" fill="none" stroke="#ececec" stroke-width="0.5"/>
<path d="M257.0,746.7 L257.0,807.2" fill="none" stroke="#f5f5f5" stroke-width="0.4"/>
<path d="M273.5,746.7 L273.5,807.2" fill="none" stroke="#f5f5f5" stroke-width="0.4"/>
<path d="M289.9,746.7 L289.9,807.2" fill="none" stroke="#f5f5f5" stroke-width="0.4"/>
<path d="M306.4,746.7 L306.4,807.2" fill="none" stroke="#f5f5f5" stroke-width="0.4"/>
<path d="M322.8,746.7 L322.8,807.2" fill="none" stroke="#f5f5f5" stroke-width="0.4"/>
<path d="M246.5,805.5 L330.4,805.5" fill="none" stroke="#ececec" stroke-width="0.5"/>
<path d="M246.5,792.6 L330.4,792.6" fill="none" stroke="#ececec" stroke-width="0.5"/>
<path d="M246.5,779.8 L330.4,779.8" fill="none" stroke="#ececec" stroke-width="0.5"/>
<path d="M246.5,766.9 L330.4,766.9" fill="none" stroke="#ececec" stroke-width="0.5"/>
<path d="M246.5,754.0 L330.4,754.0" fill="none" stroke="#ececec" stroke-width="0.5"/>
<clipPath id="e5"><rect x="246.5" y="746.7" width="83.89999999999998" height="60.5"/></clipPath>
<g clip-path="url(#e5)">
<path d="M248.8,748.2 L250.5,748.6 L252.2,749.6 L253.8,754.8 L255.5,767.9 L257.2,782.7 L258.9,796.3 L260.6,803.2 L262.2,804.2 L263.9,804.2 L265.6,804.3 L267.3,804.3 L269.0,804.3 L270.6,804.3 L272.3,804.3 L274.0,804.4 L275.7,804.4 L277.4,804.4 L279.0,804.4 L280.7,804.4 L282.4,804.4 L284.1,804.4 L285.8,804.4 L287.4,804.5 L289.1,804.5 L290.8,804.5 L292.5,804.5 L294.2,804.5 L295.8,804.5 L297.5,804.5 L299.2,804.5 L300.9,804.5 L302.6,804.5 L304.2,804.5 L305.9,804.5 L307.6,804.5 L309.3,804.5 L311.0,804.5 L312.6,804.5 L314.3,804.5 L316.0,804.5 L317.7,804.5 L319.4,804.5 L321.0,804.5 L322.7,804.5 L324.4,804.5 L326.1,804.5 L327.8,804.5" fill="none" stroke="#f27878" stroke-width="0.6"/>
<path d="M248.8,750.1 L250.5,750.4 L252.2,751.1 L253.8,756.6 L255.5,771.2 L257.2,786.3 L258.9,798.9 L260.6,803.6 L262.2,803.7 L263.9,803.8 L265.6,803.9 L267.3,803.9 L269.0,804.0 L270.6,804.1 L272.3,804.1 L274.0,804.2 L275.7,804.3 L277.4,804.3 L279.0,804.4 L280.7,804.4 L282.4,804.5 L284.1,804.5 L285.8,804.5 L287.4,804.6 L289.1,804.6 L290.8,804.6 L292.5,804.7 L294.2,804.7 L295.8,804.7 L297.5,804.7 L299.2,804.7 L300.9,804.8 L302.6,804.8 L304.2,804.8 L305.9,804.8 L307.6,804.8 L309.3,804.8 L311.0,804.8 L312.6,804.8 L314.3,804.8 L316.0,804.8 L317.7,804.8 L319.4,804.9 L321.0,804.9 L322.7,804.9 L324.4,804.9 L326.1,804.9 L327.8,804.9" fill="none" stroke="#74e274" stroke-width="0.6"/>
<path d="M248.8,757.2 L250.5,757.6 L252.2,758.6 L253.8,770.9 L255.5,788.4 L257.2,801.0 L258.9,804.2 L260.6,804.3 L262.2,804.3 L263.9,804.3 L265.6,804.4 L267.3,804.4 L269.0,804.5 L270.6,804.5 L272.3,804.5 L274.0,804.5 L275.7,804.6 L277.4,804.6 L279.0,804.6 L280.7,804.6 L282.4,804.7 L284.1,804.7 L285.8,804.7 L287.4,804.7 L289.1,804.7 L290.8,804.7 L292.5,804.8 L294.2,804.8 L295.8,804.8 L297.5,804.8 L299.2,804.8 L300.9,804.8 L302.6,804.8 L304.2,804.8 L305.9,804.8 L307.6,804.8 L309.3,804.8 L311.0,804.8 L312.6,804.8 L314.3,804.8 L316.0,804.9 L317.7,804.9 L319.4,804.9 L321.0,804.9 L322.7,804.9 L324.4,804.9 L326.1,804.9 L327.8,804.9" fill="none" stroke="#6b8cf2" stroke-width="0.6"/>
<path d="M248.8,748.9 L250.5,749.4 L252.2,750.9 L253.8,759.9 L255.5,774.4 L257.2,790.5 L258.9,801.0 L260.6,804.2 L262.2,804.3 L263.9,804.3 L265.6,804.3 L267.3,804.4 L269.0,804.4 L270.6,804.5 L272.3,804.5 L274.0,804.5 L275.7,804.5 L277.4,804.6 L279.0,804.6 L280.7,804.6 L282.4,804.6 L284.1,804.7 L285.8,804.7 L287.4,804.7 L289.1,804.7 L290.8,804.7 L292.5,804.8 L294.2,804.8 L295.8,804.8 L297.5,804.8 L299.2,804.8 L300.9,804.8 L302.6,804.8 L304.2,804.8 L305.9,804.8 L307.6,804.8 L309.3,804.8 L311.0,804.8 L312.6,804.8 L314.3,804.8 L316.0,804.9 L317.7,804.9 L319.4,804.9 L321.0,804.9 L322.7,804.9 L324.4,804.9 L326.1,804.9 L327.8,804.9" fill="none" stroke="#1ecf1e" stroke-width="1.45" stroke-dasharray="3.8,1.6"/>
<path d="M248.8,757.2 L250.5,757.7 L252.2,759.3 L253.8,774.1 L255.5,794.0 L257.2,804.2 L258.9,805.2 L260.6,805.2 L262.2,805.2 L263.9,805.2 L265.6,805.2 L267.3,805.2 L269.0,805.3 L270.6,805.3 L272.3,805.3 L274.0,805.3 L275.7,805.3 L277.4,805.3 L279.0,805.3 L280.7,805.3 L282.4,805.3 L284.1,805.3 L285.8,805.3 L287.4,805.3 L289.1,805.3 L290.8,805.3 L292.5,805.3 L294.2,805.3 L295.8,805.4 L297.5,805.4 L299.2,805.4 L300.9,805.4 L302.6,805.4 L304.2,805.4 L305.9,805.4 L307.6,805.4 L309.3,805.4 L311.0,805.4 L312.6,805.4 L314.3,805.4 L316.0,805.4 L317.7,805.4 L319.4,805.4 L321.0,805.4 L322.7,805.4 L324.4,805.4 L326.1,805.4 L327.8,805.4" fill="none" stroke="#1c3ff0" stroke-width="1.45" stroke-dasharray="3.8,1.6"/>
<path d="M248.8,747.6 L250.5,748.1 L252.2,749.6 L253.8,757.4 L255.5,770.9 L257.2,787.7 L258.9,799.8 L260.6,803.5 L262.2,804.6 L263.9,804.9 L265.6,804.9 L267.3,804.9 L269.0,804.9 L270.6,804.9 L272.3,804.9 L274.0,804.9 L275.7,804.9 L277.4,804.9 L279.0,804.9 L280.7,804.9 L282.4,804.9 L284.1,804.9 L285.8,804.9 L287.4,804.9 L289.1,804.9 L290.8,804.9 L292.5,804.9 L294.2,804.9 L295.8,804.9 L297.5,804.9 L299.2,804.9 L300.9,804.9 L302.6,804.9 L304.2,804.9 L305.9,804.9 L307.6,804.9 L309.3,804.9 L311.0,804.9 L312.6,804.9 L314.3,804.9 L316.0,804.9 L317.7,804.9 L319.4,804.9 L321.0,804.9 L322.7,804.9 L324.4,804.9 L326.1,804.9 L327.8,804.9" fill="none" stroke="#ec1e1e" stroke-width="1.45" stroke-dasharray="3.8,1.6"/>
</g>
<rect x="246.50" y="746.70" width="83.90" height="60.50" rx="0" fill="none" stroke="#9a9a9a" stroke-width="0.7"/>
</g>
<text x="245.30" y="805.50" font-size="6.2" font-weight="normal" text-anchor="end" fill="#222" dominant-baseline="central" stroke="#222" stroke-width="0.12">0</text>
<text x="245.30" y="792.62" font-size="6.2" font-weight="normal" text-anchor="end" fill="#222" dominant-baseline="central" stroke="#222" stroke-width="0.12">2</text>
<text x="245.30" y="779.75" font-size="6.2" font-weight="normal" text-anchor="end" fill="#222" dominant-baseline="central" stroke="#222" stroke-width="0.12">4</text>
<text x="245.30" y="766.88" font-size="6.2" font-weight="normal" text-anchor="end" fill="#222" dominant-baseline="central" stroke="#222" stroke-width="0.12">6</text>
<text x="245.30" y="754.00" font-size="6.2" font-weight="normal" text-anchor="end" fill="#222" dominant-baseline="central" stroke="#222" stroke-width="0.12">8</text>
<text x="248.80" y="811.20" font-size="6.2" font-weight="normal" text-anchor="middle" fill="#222" dominant-baseline="central" stroke="#222" stroke-width="0.12">0</text>
<text x="265.25" y="811.20" font-size="6.2" font-weight="normal" text-anchor="middle" fill="#222" dominant-baseline="central" stroke="#222" stroke-width="0.12">25</text>
<text x="281.70" y="811.20" font-size="6.2" font-weight="normal" text-anchor="middle" fill="#222" dominant-baseline="central" stroke="#222" stroke-width="0.12">50</text>
<text x="298.15" y="811.20" font-size="6.2" font-weight="normal" text-anchor="middle" fill="#222" dominant-baseline="central" stroke="#222" stroke-width="0.12">75</text>
<text x="314.60" y="811.20" font-size="6.2" font-weight="normal" text-anchor="middle" fill="#222" dominant-baseline="central" stroke="#222" stroke-width="0.12">100</text>
<text x="290.00" y="742.70" font-size="7.3" font-weight="bold" text-anchor="middle" fill="#111" dominant-baseline="central" stroke="#111" stroke-width="0.12">glucose</text>
<text x="236.40" y="779.30" font-size="7.8" font-weight="bold" text-anchor="middle" fill="#111" dominant-baseline="central" transform="rotate(-90 236.40 779.30)" stroke="#111" stroke-width="0.12">mM</text>
<g>
<rect x="355.00" y="746.70" width="83.90" height="62.10" rx="0" fill="#fff" stroke="none" stroke-width="1"/>
<path d="M357.3,746.7 L357.3,808.8" fill="none" stroke="#ececec" stroke-width="0.5"/>
<path d="M373.9,746.7 L373.9,808.8" fill="none" stroke="#ececec" stroke-width="0.5"/>
<path d="M390.6,746.7 L390.6,808.8" fill="none" stroke="#ececec" stroke-width="0.5"/>
<path d="M407.2,746.7 L407.2,808.8" fill="none" stroke="#ececec" stroke-width="0.5"/>
<path d="M423.8,746.7 L423.8,808.8" fill="none" stroke="#ececec" stroke-width="0.5"/>
<path d="M365.6,746.7 L365.6,808.8" fill="none" stroke="#f5f5f5" stroke-width="0.4"/>
<path d="M382.2,746.7 L382.2,808.8" fill="none" stroke="#f5f5f5" stroke-width="0.4"/>
<path d="M398.9,746.7 L398.9,808.8" fill="none" stroke="#f5f5f5" stroke-width="0.4"/>
<path d="M415.5,746.7 L415.5,808.8" fill="none" stroke="#f5f5f5" stroke-width="0.4"/>
<path d="M432.1,746.7 L432.1,808.8" fill="none" stroke="#f5f5f5" stroke-width="0.4"/>
<path d="M355.0,805.5 L438.9,805.5" fill="none" stroke="#ececec" stroke-width="0.5"/>
<path d="M355.0,788.7 L438.9,788.7" fill="none" stroke="#ececec" stroke-width="0.5"/>
<path d="M355.0,771.8 L438.9,771.8" fill="none" stroke="#ececec" stroke-width="0.5"/>
<path d="M355.0,755.0 L438.9,755.0" fill="none" stroke="#ececec" stroke-width="0.5"/>
<clipPath id="e6"><rect x="355.0" y="746.7" width="83.89999999999998" height="62.09999999999991"/></clipPath>
<g clip-path="url(#e6)">
<path d="M357.3,804.7 L359.0,804.1 L360.7,802.6 L362.4,800.1 L364.1,796.7 L365.8,782.9 L367.5,769.1 L369.2,761.6 L370.9,758.2 L372.6,757.2 L374.3,756.6 L376.0,756.1 L377.7,755.7 L379.4,755.4 L381.1,755.1 L382.8,754.8 L384.5,754.5 L386.2,754.3 L387.9,754.1 L389.6,753.9 L391.3,753.6 L393.0,753.4 L394.7,753.2 L396.4,753.0 L398.0,752.8 L399.7,752.6 L401.4,752.4 L403.1,752.2 L404.8,752.0 L406.5,751.8 L408.2,751.6 L409.9,751.5 L411.6,751.3 L413.3,751.2 L415.0,751.1 L416.7,751.0 L418.4,750.9 L420.1,750.8 L421.8,750.8 L423.5,750.8 L425.2,750.8 L426.9,750.9 L428.6,751.1 L430.3,751.3 L432.0,751.6 L433.7,751.9 L435.4,752.2 L437.1,752.5 L437.1,749.1 L435.4,748.8 L433.7,748.5 L432.0,748.2 L430.3,748.0 L428.6,747.7 L426.9,747.6 L425.2,747.5 L423.5,747.4 L421.8,747.4 L420.1,747.4 L418.4,747.4 L416.7,747.4 L415.0,747.4 L413.3,747.4 L411.6,747.4 L409.9,747.4 L408.2,747.4 L406.5,747.4 L404.8,747.4 L403.1,747.4 L401.4,747.4 L399.7,747.4 L398.0,747.4 L396.4,747.4 L394.7,747.4 L393.0,747.4 L391.3,747.4 L389.6,747.4 L387.9,747.4 L386.2,747.5 L384.5,747.7 L382.8,748.1 L381.1,748.7 L379.4,749.3 L377.7,749.8 L376.0,750.3 L374.3,750.8 L372.6,751.4 L370.9,752.3 L369.2,755.0 L367.5,760.9 L365.8,773.6 L364.1,788.1 L362.4,794.0 L360.7,798.7 L359.0,801.8 L357.3,803.0Z" fill="#a6eea6" fill-opacity="0.6" stroke="none"/>
<path d="M357.3,804.7 L359.0,804.4 L360.7,803.8 L362.4,802.7 L364.1,801.0 L365.8,788.5 L367.5,778.2 L369.2,776.3 L370.9,774.9 L372.6,773.3 L374.3,771.6 L376.0,770.5 L377.7,770.2 L379.4,770.6 L381.1,771.2 L382.8,771.7 L384.5,771.6 L386.2,769.9 L387.9,769.3 L389.6,769.4 L391.3,769.6 L393.0,769.7 L394.7,769.9 L396.4,770.1 L398.0,770.2 L399.7,770.3 L401.4,770.4 L403.1,770.5 L404.8,770.6 L406.5,770.7 L408.2,770.8 L409.9,770.9 L411.6,771.0 L413.3,771.1 L415.0,771.1 L416.7,771.2 L418.4,771.3 L420.1,771.4 L421.8,771.5 L423.5,771.5 L425.2,771.6 L426.9,771.6 L428.6,771.7 L430.3,771.7 L432.0,771.8 L433.7,771.8 L435.4,771.8 L437.1,771.8 L437.1,770.1 L435.4,770.1 L433.7,770.1 L432.0,770.1 L430.3,770.0 L428.6,770.0 L426.9,769.9 L425.2,769.9 L423.5,769.8 L421.8,769.8 L420.1,769.7 L418.4,769.6 L416.7,769.5 L415.0,769.5 L413.3,769.4 L411.6,769.3 L409.9,769.2 L408.2,769.1 L406.5,769.0 L404.8,768.9 L403.1,768.8 L401.4,768.7 L399.7,768.6 L398.0,768.5 L396.4,768.4 L394.7,768.3 L393.0,768.2 L391.3,768.1 L389.6,768.0 L387.9,767.7 L386.2,766.5 L384.5,763.7 L382.8,763.5 L381.1,763.9 L379.4,764.4 L377.7,765.0 L376.0,765.6 L374.3,766.4 L372.6,767.2 L370.9,767.6 L369.2,767.6 L367.5,767.6 L365.8,777.2 L364.1,792.4 L362.4,796.8 L360.7,800.1 L359.0,802.2 L357.3,803.0Z" fill="#a6b9f6" fill-opacity="0.6" stroke="none"/>
<path d="M357.3,804.7 L359.0,804.4 L360.7,803.7 L362.4,802.6 L364.1,801.1 L365.8,795.1 L367.5,784.7 L369.2,774.7 L370.9,769.8 L372.6,767.8 L374.3,766.3 L376.0,765.3 L377.7,765.1 L379.4,765.1 L381.1,765.1 L382.8,765.1 L384.5,765.1 L386.2,765.1 L387.9,765.1 L389.6,765.1 L391.3,765.1 L393.0,765.1 L394.7,765.1 L396.4,765.1 L398.0,765.1 L399.7,765.1 L401.4,765.1 L403.1,765.1 L404.8,765.1 L406.5,765.1 L408.2,765.1 L409.9,765.1 L411.6,765.1 L413.3,765.1 L415.0,765.1 L416.7,765.1 L418.4,765.1 L420.1,765.1 L421.8,765.1 L423.5,765.1 L425.2,765.1 L426.9,765.1 L428.6,765.1 L430.3,765.1 L432.0,765.1 L433.7,765.1 L435.4,765.1 L437.1,765.1 L437.1,760.9 L435.4,760.9 L433.7,760.9 L432.0,760.9 L430.3,760.9 L428.6,760.9 L426.9,760.9 L425.2,760.9 L423.5,760.9 L421.8,760.9 L420.1,760.9 L418.4,760.9 L416.7,760.9 L415.0,760.9 L413.3,760.9 L411.6,760.9 L409.9,760.9 L408.2,760.9 L406.5,760.9 L404.8,760.9 L403.1,760.9 L401.4,760.9 L399.7,760.9 L398.0,760.9 L396.4,760.9 L394.7,760.9 L393.0,760.9 L391.3,760.9 L389.6,760.9 L387.9,760.9 L386.2,760.9 L384.5,760.9 L382.8,760.9 L381.1,761.1 L379.4,761.3 L377.7,761.6 L376.0,762.0 L374.3,762.7 L372.6,763.6 L370.9,764.9 L369.2,768.6 L367.5,776.7 L365.8,785.9 L364.1,792.5 L362.4,796.3 L360.7,799.5 L359.0,801.9 L357.3,803.0Z" fill="#f6aaaa" fill-opacity="0.6" stroke="none"/>
<path d="M357.3,803.8 L359.0,803.0 L360.7,800.7 L362.4,797.1 L364.1,792.4 L365.8,777.7 L367.5,764.2 L369.2,757.7 L370.9,754.8 L372.6,753.8 L374.3,753.2 L376.0,752.8 L377.7,752.4 L379.4,752.0 L381.1,751.6 L382.8,751.3 L384.5,751.1 L386.2,750.9 L387.9,750.7 L389.6,750.6 L391.3,750.5 L393.0,750.3 L394.7,750.2 L396.4,750.1 L398.0,750.0 L399.7,749.9 L401.4,749.8 L403.1,749.7 L404.8,749.6 L406.5,749.5 L408.2,749.5 L409.9,749.4 L411.6,749.3 L413.3,749.3 L415.0,749.2 L416.7,749.2 L418.4,749.2 L420.1,749.1 L421.8,749.1 L423.5,749.1 L425.2,749.1 L426.9,749.2 L428.6,749.4 L430.3,749.6 L432.0,749.9 L433.7,750.2 L435.4,750.5 L437.1,750.8" fill="none" stroke="#74e274" stroke-width="0.6"/>
<path d="M357.3,803.8 L359.0,803.3 L360.7,802.0 L362.4,799.8 L364.1,796.7 L365.8,784.8 L367.5,775.8 L369.2,774.4 L370.9,773.3 L372.6,771.5 L374.3,769.5 L376.0,768.0 L377.7,767.6 L379.4,767.6 L381.1,767.6 L382.8,767.6 L384.5,767.6 L386.2,767.7 L387.9,767.9 L389.6,768.2 L391.3,768.5 L393.0,768.8 L394.7,769.1 L396.4,769.2 L398.0,769.4 L399.7,769.4 L401.4,769.5 L403.1,769.6 L404.8,769.6 L406.5,769.7 L408.2,769.7 L409.9,769.8 L411.6,769.8 L413.3,769.8 L415.0,769.9 L416.7,769.9 L418.4,770.0 L420.1,770.0 L421.8,770.1 L423.5,770.1 L425.2,770.2 L426.9,770.3 L428.6,770.4 L430.3,770.5 L432.0,770.6 L433.7,770.7 L435.4,770.9 L437.1,771.0" fill="none" stroke="#6b8cf2" stroke-width="0.6"/>
<path d="M357.3,803.8 L359.0,803.3 L360.7,801.7 L362.4,799.5 L364.1,796.8 L365.8,790.4 L367.5,780.6 L369.2,771.6 L370.9,767.3 L372.6,765.6 L374.3,764.4 L376.0,763.6 L377.7,763.4 L379.4,763.4 L381.1,763.4 L382.8,763.4 L384.5,763.4 L386.2,763.4 L387.9,763.4 L389.6,763.4 L391.3,763.4 L393.0,763.4 L394.7,763.4 L396.4,763.4 L398.0,763.4 L399.7,763.4 L401.4,763.4 L403.1,763.4 L404.8,763.4 L406.5,763.4 L408.2,763.4 L409.9,763.4 L411.6,763.4 L413.3,763.4 L415.0,763.4 L416.7,763.4 L418.4,763.4 L420.1,763.4 L421.8,763.4 L423.5,763.4 L425.2,763.4 L426.9,763.4 L428.6,763.4 L430.3,763.4 L432.0,763.4 L433.7,763.4 L435.4,763.4 L437.1,763.4" fill="none" stroke="#f27878" stroke-width="0.6"/>
<path d="M357.3,803.0 L359.0,801.7 L360.7,798.6 L362.4,787.4 L364.1,775.4 L365.8,769.3 L367.5,766.6 L369.2,765.9 L370.9,765.9 L372.6,765.9 L374.3,765.9 L376.0,765.9 L377.7,765.9 L379.4,765.9 L381.1,765.9 L382.8,765.9 L384.5,765.9 L386.2,765.9 L387.9,765.9 L389.6,765.9 L391.3,765.9 L393.0,765.9 L394.7,765.9 L396.4,765.9 L398.0,765.9 L399.7,765.9 L401.4,765.9 L403.1,765.9 L404.8,765.9 L406.5,765.9 L408.2,765.9 L409.9,765.9 L411.6,765.9 L413.3,765.9 L415.0,765.9 L416.7,765.9 L418.4,765.9 L420.1,765.9 L421.8,765.9 L423.5,765.9 L425.2,765.9 L426.9,765.9 L428.6,765.9 L430.3,765.9 L432.0,765.9 L433.7,765.9 L435.4,765.9 L437.1,765.9" fill="none" stroke="#1ecf1e" stroke-width="1.45" stroke-dasharray="3.8,1.6"/>
<path d="M357.3,803.8 L359.0,802.3 L360.7,798.6 L362.4,787.2 L364.1,775.4 L365.8,768.8 L367.5,765.9 L369.2,765.5 L370.9,765.5 L372.6,765.5 L374.3,765.5 L376.0,765.5 L377.7,765.5 L379.4,765.5 L381.1,765.5 L382.8,765.5 L384.5,765.5 L386.2,765.5 L387.9,765.5 L389.6,765.5 L391.3,765.5 L393.0,765.5 L394.7,765.5 L396.4,765.5 L398.0,765.5 L399.7,765.5 L401.4,765.5 L403.1,765.5 L404.8,765.5 L406.5,765.5 L408.2,765.5 L409.9,765.5 L411.6,765.5 L413.3,765.5 L415.0,765.5 L416.7,765.5 L418.4,765.5 L420.1,765.5 L421.8,765.5 L423.5,765.5 L425.2,765.5 L426.9,765.5 L428.6,765.5 L430.3,765.5 L432.0,765.5 L433.7,765.5 L435.4,765.5 L437.1,765.5" fill="none" stroke="#ec1e1e" stroke-width="1.45" stroke-dasharray="3.8,1.6"/>
<path d="M357.3,803.0 L359.0,801.2 L360.7,796.9 L362.4,781.9 L364.1,767.0 L365.8,761.1 L367.5,760.1 L369.2,760.0 L370.9,760.0 L372.6,760.0 L374.3,760.0 L376.0,760.0 L377.7,760.0 L379.4,760.0 L381.1,760.0 L382.8,760.0 L384.5,760.0 L386.2,760.0 L387.9,760.0 L389.6,760.0 L391.3,760.0 L393.0,760.0 L394.7,760.0 L396.4,760.0 L398.0,760.0 L399.7,760.0 L401.4,760.0 L403.1,760.0 L404.8,760.0 L406.5,760.0 L408.2,760.0 L409.9,760.0 L411.6,760.0 L413.3,760.0 L415.0,760.0 L416.7,760.0 L418.4,760.0 L420.1,760.0 L421.8,760.0 L423.5,760.0 L425.2,760.0 L426.9,760.0 L428.6,760.0 L430.3,760.0 L432.0,760.0 L433.7,760.0 L435.4,760.0 L437.1,760.0" fill="none" stroke="#1c3ff0" stroke-width="1.45" stroke-dasharray="3.8,1.6"/>
</g>
<rect x="355.00" y="746.70" width="83.90" height="62.10" rx="0" fill="none" stroke="#9a9a9a" stroke-width="0.7"/>
</g>
<text x="353.80" y="805.50" font-size="6.2" font-weight="normal" text-anchor="end" fill="#222" dominant-baseline="central" stroke="#222" stroke-width="0.12">0</text>
<text x="353.80" y="788.67" font-size="6.2" font-weight="normal" text-anchor="end" fill="#222" dominant-baseline="central" stroke="#222" stroke-width="0.12">2</text>
<text x="353.80" y="771.83" font-size="6.2" font-weight="normal" text-anchor="end" fill="#222" dominant-baseline="central" stroke="#222" stroke-width="0.12">4</text>
<text x="353.80" y="755.00" font-size="6.2" font-weight="normal" text-anchor="end" fill="#222" dominant-baseline="central" stroke="#222" stroke-width="0.12">6</text>
<text x="357.30" y="811.20" font-size="6.2" font-weight="normal" text-anchor="middle" fill="#222" dominant-baseline="central" stroke="#222" stroke-width="0.12">0</text>
<text x="373.93" y="811.20" font-size="6.2" font-weight="normal" text-anchor="middle" fill="#222" dominant-baseline="central" stroke="#222" stroke-width="0.12">25</text>
<text x="390.55" y="811.20" font-size="6.2" font-weight="normal" text-anchor="middle" fill="#222" dominant-baseline="central" stroke="#222" stroke-width="0.12">50</text>
<text x="407.18" y="811.20" font-size="6.2" font-weight="normal" text-anchor="middle" fill="#222" dominant-baseline="central" stroke="#222" stroke-width="0.12">75</text>
<text x="423.80" y="811.20" font-size="6.2" font-weight="normal" text-anchor="middle" fill="#222" dominant-baseline="central" stroke="#222" stroke-width="0.12">100</text>
<text x="402.00" y="742.70" font-size="7.3" font-weight="bold" text-anchor="middle" fill="#111" dominant-baseline="central" stroke="#111" stroke-width="0.12">lactate</text>
<text x="345.50" y="779.30" font-size="7.8" font-weight="bold" text-anchor="middle" fill="#111" dominant-baseline="central" transform="rotate(-90 345.50 779.30)" stroke="#111" stroke-width="0.12">mM</text>
<g>
<rect x="249.20" y="825.60" width="81.20" height="59.40" rx="0" fill="#fff" stroke="none" stroke-width="1"/>
<path d="M251.5,825.6 L251.5,885.0" fill="none" stroke="#ececec" stroke-width="0.5"/>
<path d="M267.6,825.6 L267.6,885.0" fill="none" stroke="#ececec" stroke-width="0.5"/>
<path d="M283.8,825.6 L283.8,885.0" fill="none" stroke="#ececec" stroke-width="0.5"/>
<path d="M299.9,825.6 L299.9,885.0" fill="none" stroke="#ececec" stroke-width="0.5"/>
<path d="M316.0,825.6 L316.0,885.0" fill="none" stroke="#ececec" stroke-width="0.5"/>
<path d="M259.6,825.6 L259.6,885.0" fill="none" stroke="#f5f5f5" stroke-width="0.4"/>
<path d="M275.7,825.6 L275.7,885.0" fill="none" stroke="#f5f5f5" stroke-width="0.4"/>
<path d="M291.8,825.6 L291.8,885.0" fill="none" stroke="#f5f5f5" stroke-width="0.4"/>
<path d="M307.9,825.6 L307.9,885.0" fill="none" stroke="#f5f5f5" stroke-width="0.4"/>
<path d="M324.1,825.6 L324.1,885.0" fill="none" stroke="#f5f5f5" stroke-width="0.4"/>
<path d="M249.2,880.4 L330.4,880.4" fill="none" stroke="#ececec" stroke-width="0.5"/>
<path d="M249.2,870.0 L330.4,870.0" fill="none" stroke="#ececec" stroke-width="0.5"/>
<path d="M249.2,859.6 L330.4,859.6" fill="none" stroke="#ececec" stroke-width="0.5"/>
<path d="M249.2,849.1 L330.4,849.1" fill="none" stroke="#ececec" stroke-width="0.5"/>
<path d="M249.2,838.7 L330.4,838.7" fill="none" stroke="#ececec" stroke-width="0.5"/>
<path d="M249.2,828.3 L330.4,828.3" fill="none" stroke="#ececec" stroke-width="0.5"/>
<clipPath id="e7"><rect x="249.2" y="825.6" width="81.19999999999999" height="59.39999999999998"/></clipPath>
<g clip-path="url(#e7)">
<path d="M251.5,878.3 L253.1,867.7 L254.8,858.4 L256.4,850.7 L258.1,844.5 L259.7,839.0 L261.4,836.8 L263.0,846.8 L264.7,853.0 L266.3,844.5 L268.0,838.3 L269.6,836.4 L271.3,834.9 L272.9,833.8 L274.6,833.0 L276.2,832.5 L277.8,832.6 L279.5,834.1 L281.1,836.5 L282.8,838.3 L284.4,838.7 L286.1,838.7 L287.7,838.7 L289.4,838.7 L291.0,838.7 L292.7,838.7 L294.3,838.7 L296.0,838.7 L297.6,838.7 L299.3,838.7 L300.9,838.7 L302.6,838.7 L304.2,838.7 L305.8,838.7 L307.5,838.7 L309.1,838.7 L310.8,838.7 L312.4,838.7 L314.1,838.7 L315.7,838.7 L317.4,838.7 L319.0,838.7 L320.7,838.7 L322.3,838.7 L324.0,838.7 L325.6,838.7 L327.3,838.7 L328.9,838.7 L328.9,836.6 L327.3,836.6 L325.6,836.6 L324.0,836.6 L322.3,836.6 L320.7,836.6 L319.0,836.6 L317.4,836.5 L315.7,836.5 L314.1,836.5 L312.4,836.4 L310.8,836.4 L309.1,836.3 L307.5,836.3 L305.8,836.2 L304.2,836.1 L302.6,836.1 L300.9,836.0 L299.3,835.9 L297.6,835.8 L296.0,835.7 L294.3,835.5 L292.7,835.4 L291.0,835.3 L289.4,835.1 L287.7,835.0 L286.1,834.8 L284.4,834.6 L282.8,834.1 L281.1,832.2 L279.5,829.9 L277.8,828.4 L276.2,828.3 L274.6,828.5 L272.9,828.7 L271.3,829.1 L269.6,829.6 L268.0,830.2 L266.3,832.8 L264.7,836.5 L263.0,834.2 L261.4,830.5 L259.7,832.7 L258.1,838.3 L256.4,844.6 L254.8,852.8 L253.1,862.7 L251.5,874.1Z" fill="#f6aaaa" fill-opacity="0.6" stroke="none"/>
<path d="M251.5,876.2 L253.1,863.6 L254.8,852.7 L256.4,844.6 L258.1,840.6 L259.7,838.9 L261.4,837.7 L263.0,836.9 L264.7,836.7 L266.3,838.4 L268.0,841.5 L269.6,844.2 L271.3,845.0 L272.9,845.0 L274.6,845.0 L276.2,844.9 L277.8,841.2 L279.5,836.0 L281.1,834.5 L282.8,834.4 L284.4,834.3 L286.1,834.3 L287.7,834.2 L289.4,834.1 L291.0,834.0 L292.7,834.0 L294.3,833.9 L296.0,833.9 L297.6,833.8 L299.3,833.8 L300.9,833.8 L302.6,833.7 L304.2,833.7 L305.8,833.7 L307.5,833.6 L309.1,833.6 L310.8,833.6 L312.4,833.6 L314.1,833.6 L315.7,833.5 L317.4,833.5 L319.0,833.5 L320.7,833.5 L322.3,833.5 L324.0,833.5 L325.6,833.5 L327.3,833.5 L328.9,833.5 L328.9,831.4 L327.3,831.4 L325.6,831.4 L324.0,831.4 L322.3,831.4 L320.7,831.4 L319.0,831.4 L317.4,831.4 L315.7,831.4 L314.1,831.4 L312.4,831.4 L310.8,831.4 L309.1,831.4 L307.5,831.4 L305.8,831.4 L304.2,831.4 L302.6,831.4 L300.9,831.4 L299.3,831.4 L297.6,831.4 L296.0,831.4 L294.3,831.4 L292.7,831.4 L291.0,831.4 L289.4,831.4 L287.7,831.4 L286.1,831.4 L284.4,831.4 L282.8,831.4 L281.1,831.4 L279.5,831.4 L277.8,831.4 L276.2,831.4 L274.6,831.6 L272.9,832.0 L271.3,832.4 L269.6,832.7 L268.0,832.9 L266.3,833.1 L264.7,833.4 L263.0,833.9 L261.4,834.5 L259.7,835.3 L258.1,836.5 L256.4,840.2 L254.8,848.2 L253.1,859.3 L251.5,872.1Z" fill="#a6b9f6" fill-opacity="0.6" stroke="none"/>
<path d="M251.5,874.1 L253.1,861.5 L254.8,850.6 L256.4,842.5 L258.1,838.6 L259.7,836.9 L261.4,835.7 L263.0,834.9 L264.7,834.5 L266.3,834.2 L268.0,834.0 L269.6,833.9 L271.3,833.8 L272.9,833.6 L274.6,833.5 L276.2,833.2 L277.8,833.0 L279.5,832.8 L281.1,832.6 L282.8,832.5 L284.4,832.5 L286.1,832.5 L287.7,832.5 L289.4,832.5 L291.0,832.5 L292.7,832.5 L294.3,832.5 L296.0,832.5 L297.6,832.5 L299.3,832.5 L300.9,832.5 L302.6,832.5 L304.2,832.5 L305.8,832.5 L307.5,832.5 L309.1,832.5 L310.8,832.5 L312.4,832.5 L314.1,832.5 L315.7,832.5 L317.4,832.5 L319.0,832.5 L320.7,832.5 L322.3,832.5 L324.0,832.5 L325.6,832.5 L327.3,832.5 L328.9,832.5" fill="none" stroke="#6b8cf2" stroke-width="0.6"/>
<path d="M251.5,876.2 L253.1,864.8 L254.8,854.9 L256.4,846.7 L258.1,840.3 L259.7,834.8 L261.4,832.6 L263.0,838.8 L264.7,842.7 L266.3,836.4 L268.0,832.3 L269.6,831.6 L271.3,831.1 L272.9,830.8 L274.6,830.5 L276.2,830.4 L277.8,830.5 L279.5,832.0 L281.1,834.3 L282.8,836.2 L284.4,836.7 L286.1,836.8 L287.7,836.9 L289.4,836.9 L291.0,837.0 L292.7,837.1 L294.3,837.1 L296.0,837.2 L297.6,837.3 L299.3,837.3 L300.9,837.4 L302.6,837.4 L304.2,837.4 L305.8,837.5 L307.5,837.5 L309.1,837.5 L310.8,837.6 L312.4,837.6 L314.1,837.6 L315.7,837.6 L317.4,837.6 L319.0,837.7 L320.7,837.7 L322.3,837.7 L324.0,837.7 L325.6,837.7 L327.3,837.7 L328.9,837.7" fill="none" stroke="#f27878" stroke-width="0.6"/>
<path d="M251.5,879.4 L253.1,874.3 L254.8,867.9 L256.4,860.6 L258.1,849.9 L259.7,844.8 L261.4,844.3 L263.0,844.0 L264.7,843.9 L266.3,843.9 L268.0,843.9 L269.6,843.9 L271.3,843.9 L272.9,843.9 L274.6,843.9 L276.2,843.9 L277.8,843.9 L279.5,843.9 L281.1,843.9 L282.8,843.9 L284.4,843.9 L286.1,843.9 L287.7,843.9 L289.4,843.9 L291.0,843.9 L292.7,843.9 L294.3,843.9 L296.0,843.9 L297.6,843.9 L299.3,843.9 L300.9,843.9 L302.6,843.9 L304.2,843.9 L305.8,843.9 L307.5,843.9 L309.1,843.9 L310.8,843.9 L312.4,843.9 L314.1,843.9 L315.7,843.9 L317.4,843.9 L319.0,843.9 L320.7,843.9 L322.3,843.9 L324.0,843.9 L325.6,843.9 L327.3,843.9 L328.9,843.9" fill="none" stroke="#74e274" stroke-width="0.6"/>
<path d="M251.5,878.3 L253.1,876.9 L254.8,870.9 L256.4,854.5 L258.1,848.1 L259.7,845.7 L261.4,845.0 L263.0,845.0 L264.7,845.0 L266.3,845.0 L268.0,845.0 L269.6,845.0 L271.3,845.0 L272.9,845.0 L274.6,845.0 L276.2,845.0 L277.8,845.0 L279.5,845.0 L281.1,845.0 L282.8,845.0 L284.4,845.0 L286.1,845.0 L287.7,845.0 L289.4,845.0 L291.0,845.0 L292.7,845.0 L294.3,845.0 L296.0,845.0 L297.6,845.0 L299.3,845.0 L300.9,845.0 L302.6,845.0 L304.2,845.0 L305.8,845.0 L307.5,845.0 L309.1,845.0 L310.8,845.0 L312.4,845.0 L314.1,845.0 L315.7,845.0 L317.4,845.0 L319.0,845.0 L320.7,845.0 L322.3,845.0 L324.0,845.0 L325.6,845.0 L327.3,845.0 L328.9,845.0" fill="none" stroke="#1ecf1e" stroke-width="1.45" stroke-dasharray="3.8,1.6"/>
<path d="M251.5,875.2 L253.1,873.8 L254.8,867.4 L256.4,850.2 L258.1,845.4 L259.7,843.6 L261.4,842.9 L263.0,842.9 L264.7,842.9 L266.3,842.9 L268.0,842.9 L269.6,842.9 L271.3,842.9 L272.9,842.9 L274.6,842.9 L276.2,842.9 L277.8,842.9 L279.5,842.9 L281.1,842.9 L282.8,842.9 L284.4,842.9 L286.1,842.9 L287.7,842.9 L289.4,842.9 L291.0,842.9 L292.7,842.9 L294.3,842.9 L296.0,842.9 L297.6,842.9 L299.3,842.9 L300.9,842.9 L302.6,842.9 L304.2,842.9 L305.8,842.9 L307.5,842.9 L309.1,842.9 L310.8,842.9 L312.4,842.9 L314.1,842.9 L315.7,842.9 L317.4,842.9 L319.0,842.9 L320.7,842.9 L322.3,842.9 L324.0,842.9 L325.6,842.9 L327.3,842.9 L328.9,842.9" fill="none" stroke="#ec1e1e" stroke-width="1.45" stroke-dasharray="3.8,1.6"/>
<path d="M251.5,873.1 L253.1,871.7 L254.8,865.6 L256.4,848.4 L258.1,841.4 L259.7,838.0 L261.4,836.3 L263.0,836.2 L264.7,836.2 L266.3,836.2 L268.0,836.2 L269.6,836.2 L271.3,836.2 L272.9,836.2 L274.6,836.2 L276.2,836.2 L277.8,836.2 L279.5,836.2 L281.1,836.2 L282.8,836.2 L284.4,836.2 L286.1,836.2 L287.7,836.2 L289.4,836.2 L291.0,836.2 L292.7,836.2 L294.3,836.2 L296.0,836.2 L297.6,836.2 L299.3,836.2 L300.9,836.2 L302.6,836.2 L304.2,836.2 L305.8,836.2 L307.5,836.2 L309.1,836.2 L310.8,836.2 L312.4,836.2 L314.1,836.2 L315.7,836.2 L317.4,836.2 L319.0,836.2 L320.7,836.2 L322.3,836.2 L324.0,836.2 L325.6,836.2 L327.3,836.2 L328.9,836.2" fill="none" stroke="#1c3ff0" stroke-width="1.45" stroke-dasharray="3.8,1.6"/>
</g>
<rect x="249.20" y="825.60" width="81.20" height="59.40" rx="0" fill="none" stroke="#9a9a9a" stroke-width="0.7"/>
</g>
<text x="248.00" y="880.40" font-size="6.2" font-weight="normal" text-anchor="end" fill="#222" dominant-baseline="central" stroke="#222" stroke-width="0.12">0.5</text>
<text x="248.00" y="869.98" font-size="6.2" font-weight="normal" text-anchor="end" fill="#222" dominant-baseline="central" stroke="#222" stroke-width="0.12">1.0</text>
<text x="248.00" y="859.56" font-size="6.2" font-weight="normal" text-anchor="end" fill="#222" dominant-baseline="central" stroke="#222" stroke-width="0.12">1.5</text>
<text x="248.00" y="849.14" font-size="6.2" font-weight="normal" text-anchor="end" fill="#222" dominant-baseline="central" stroke="#222" stroke-width="0.12">2.0</text>
<text x="248.00" y="838.72" font-size="6.2" font-weight="normal" text-anchor="end" fill="#222" dominant-baseline="central" stroke="#222" stroke-width="0.12">2.5</text>
<text x="248.00" y="828.30" font-size="6.2" font-weight="normal" text-anchor="end" fill="#222" dominant-baseline="central" stroke="#222" stroke-width="0.12">3.0</text>
<text x="251.50" y="891.00" font-size="6.2" font-weight="normal" text-anchor="middle" fill="#222" dominant-baseline="central" stroke="#222" stroke-width="0.12">0</text>
<text x="267.62" y="891.00" font-size="6.2" font-weight="normal" text-anchor="middle" fill="#222" dominant-baseline="central" stroke="#222" stroke-width="0.12">25</text>
<text x="283.75" y="891.00" font-size="6.2" font-weight="normal" text-anchor="middle" fill="#222" dominant-baseline="central" stroke="#222" stroke-width="0.12">50</text>
<text x="299.88" y="891.00" font-size="6.2" font-weight="normal" text-anchor="middle" fill="#222" dominant-baseline="central" stroke="#222" stroke-width="0.12">75</text>
<text x="316.00" y="891.00" font-size="6.2" font-weight="normal" text-anchor="middle" fill="#222" dominant-baseline="central" stroke="#222" stroke-width="0.12">100</text>
<text x="290.00" y="821.60" font-size="7.3" font-weight="bold" text-anchor="middle" fill="#111" dominant-baseline="central" stroke="#111" stroke-width="0.12">formate</text>
<text x="235.40" y="862.00" font-size="7.8" font-weight="bold" text-anchor="middle" fill="#111" dominant-baseline="central" transform="rotate(-90 235.40 862.00)" stroke="#111" stroke-width="0.12">mM</text>
<g>
<rect x="357.60" y="825.60" width="81.30" height="59.40" rx="0" fill="#fff" stroke="none" stroke-width="1"/>
<path d="M359.0,825.6 L359.0,885.0" fill="none" stroke="#ececec" stroke-width="0.5"/>
<path d="M375.6,825.6 L375.6,885.0" fill="none" stroke="#ececec" stroke-width="0.5"/>
<path d="M392.2,825.6 L392.2,885.0" fill="none" stroke="#ececec" stroke-width="0.5"/>
<path d="M408.8,825.6 L408.8,885.0" fill="none" stroke="#ececec" stroke-width="0.5"/>
<path d="M425.4,825.6 L425.4,885.0" fill="none" stroke="#ececec" stroke-width="0.5"/>
<path d="M367.3,825.6 L367.3,885.0" fill="none" stroke="#f5f5f5" stroke-width="0.4"/>
<path d="M383.9,825.6 L383.9,885.0" fill="none" stroke="#f5f5f5" stroke-width="0.4"/>
<path d="M400.5,825.6 L400.5,885.0" fill="none" stroke="#f5f5f5" stroke-width="0.4"/>
<path d="M417.1,825.6 L417.1,885.0" fill="none" stroke="#f5f5f5" stroke-width="0.4"/>
<path d="M433.7,825.6 L433.7,885.0" fill="none" stroke="#f5f5f5" stroke-width="0.4"/>
<path d="M357.6,876.0 L438.9,876.0" fill="none" stroke="#ececec" stroke-width="0.5"/>
<path d="M357.6,865.9 L438.9,865.9" fill="none" stroke="#ececec" stroke-width="0.5"/>
<path d="M357.6,855.9 L438.9,855.9" fill="none" stroke="#ececec" stroke-width="0.5"/>
<path d="M357.6,845.8 L438.9,845.8" fill="none" stroke="#ececec" stroke-width="0.5"/>
<path d="M357.6,835.7 L438.9,835.7" fill="none" stroke="#ececec" stroke-width="0.5"/>
<clipPath id="e8"><rect x="357.6" y="825.6" width="81.29999999999995" height="59.39999999999998"/></clipPath>
<g clip-path="url(#e8)">
<path d="M359.0,884.1 L360.7,882.0 L362.4,878.9 L364.1,875.0 L365.8,870.6 L367.5,864.2 L369.2,856.2 L370.9,848.3 L372.6,842.4 L374.3,837.6 L376.0,835.6 L377.6,835.4 L379.3,835.1 L381.0,834.9 L382.7,834.7 L384.4,834.5 L386.1,834.3 L387.8,834.2 L389.5,834.1 L391.2,834.0 L392.9,833.9 L394.6,833.8 L396.3,833.7 L398.0,833.7 L399.7,833.6 L401.4,833.6 L403.1,833.5 L404.8,833.5 L406.5,833.4 L408.2,833.3 L409.9,833.3 L411.6,833.2 L413.3,833.1 L414.9,833.0 L416.6,833.0 L418.3,832.9 L420.0,832.8 L421.7,832.7 L423.4,832.7 L425.1,832.7 L426.8,832.7 L428.5,832.7 L430.2,832.7 L431.9,832.8 L433.6,832.9 L435.3,833.0 L437.0,833.1 L438.7,833.2 L438.7,831.2 L437.0,830.8 L435.3,830.5 L433.6,830.2 L431.9,830.0 L430.2,829.9 L428.5,829.7 L426.8,829.7 L425.1,829.7 L423.4,829.7 L421.7,829.9 L420.0,830.1 L418.3,830.3 L416.6,830.6 L414.9,830.8 L413.3,831.1 L411.6,831.2 L409.9,831.3 L408.2,831.5 L406.5,831.6 L404.8,831.6 L403.1,831.7 L401.4,831.8 L399.7,831.8 L398.0,831.9 L396.3,831.9 L394.6,832.0 L392.9,832.1 L391.2,832.1 L389.5,832.2 L387.8,832.3 L386.1,832.4 L384.4,832.6 L382.7,832.7 L381.0,832.9 L379.3,833.1 L377.6,833.4 L376.0,833.6 L374.3,834.8 L372.6,837.7 L370.9,842.4 L369.2,850.0 L367.5,858.4 L365.8,865.5 L364.1,870.7 L362.4,875.5 L360.7,879.6 L359.0,883.1Z" fill="#a6b9f6" fill-opacity="0.6" stroke="none"/>
<path d="M359.0,884.1 L360.7,882.0 L362.4,878.9 L364.1,875.0 L365.8,870.6 L367.5,864.2 L369.2,856.2 L370.9,848.3 L372.6,842.4 L374.3,837.8 L376.0,835.5 L377.6,834.6 L379.3,833.8 L381.0,833.3 L382.7,832.9 L384.4,832.7 L386.1,832.7 L387.8,832.7 L389.5,832.7 L391.2,832.7 L392.9,832.7 L394.6,832.7 L396.3,832.7 L398.0,832.7 L399.7,832.7 L401.4,832.7 L403.1,832.7 L404.8,832.7 L406.5,832.7 L408.2,832.7 L409.9,832.7 L411.6,832.7 L413.3,832.7 L414.9,832.7 L416.6,832.7 L418.3,832.7 L420.0,832.7 L421.7,832.7 L423.4,832.7 L425.1,832.7 L426.8,832.7 L428.5,832.7 L430.2,832.7 L431.9,832.7 L433.6,832.7 L435.3,832.7 L437.0,832.7 L438.7,832.7" fill="none" stroke="#f27878" stroke-width="0.6"/>
<path d="M359.0,884.1 L360.7,882.1 L362.4,879.0 L364.1,875.1 L365.8,870.6 L367.5,863.9 L369.2,855.3 L370.9,846.9 L372.6,840.9 L374.3,836.3 L376.0,834.7 L377.6,834.6 L379.3,834.5 L381.0,834.5 L382.7,834.4 L384.4,834.3 L386.1,834.3 L387.8,834.2 L389.5,834.2 L391.2,834.1 L392.9,834.1 L394.6,834.1 L396.3,834.0 L398.0,834.0 L399.7,833.9 L401.4,833.9 L403.1,833.9 L404.8,833.9 L406.5,833.8 L408.2,833.8 L409.9,833.8 L411.6,833.8 L413.3,833.8 L414.9,833.8 L416.6,833.7 L418.3,833.7 L420.0,833.7 L421.7,833.7 L423.4,833.7 L425.1,833.7 L426.8,833.7 L428.5,833.7 L430.2,833.7 L431.9,833.7 L433.6,833.7 L435.3,833.7 L437.0,833.7 L438.7,833.7" fill="none" stroke="#74e274" stroke-width="0.6"/>
<path d="M359.0,884.1 L360.7,883.6 L362.4,882.5 L364.1,877.6 L365.8,870.4 L367.5,862.8 L369.2,854.9 L370.9,846.5 L372.6,839.9 L374.3,835.2 L376.0,833.0 L377.6,832.3 L379.3,832.2 L381.0,832.2 L382.7,832.2 L384.4,832.2 L386.1,832.2 L387.8,832.2 L389.5,832.2 L391.2,832.2 L392.9,832.2 L394.6,832.2 L396.3,832.2 L398.0,832.2 L399.7,832.2 L401.4,832.2 L403.1,832.2 L404.8,832.2 L406.5,832.2 L408.2,832.2 L409.9,832.2 L411.6,832.2 L413.3,832.2 L414.9,832.2 L416.6,832.2 L418.3,832.2 L420.0,832.2 L421.7,832.2 L423.4,832.2 L425.1,832.2 L426.8,832.2 L428.5,832.2 L430.2,832.2 L431.9,832.2 L433.6,832.2 L435.3,832.2 L437.0,832.2 L438.7,832.2" fill="none" stroke="#1ecf1e" stroke-width="1.45" stroke-dasharray="3.8,1.6"/>
<path d="M359.0,884.1 L360.7,883.6 L362.4,882.5 L364.1,877.2 L365.8,869.3 L367.5,860.8 L369.2,852.4 L370.9,844.4 L372.6,839.2 L374.3,836.3 L376.0,835.1 L377.6,834.8 L379.3,834.7 L381.0,834.7 L382.7,834.7 L384.4,834.7 L386.1,834.7 L387.8,834.7 L389.5,834.7 L391.2,834.7 L392.9,834.7 L394.6,834.7 L396.3,834.7 L398.0,834.7 L399.7,834.7 L401.4,834.7 L403.1,834.7 L404.8,834.7 L406.5,834.7 L408.2,834.7 L409.9,834.7 L411.6,834.7 L413.3,834.7 L414.9,834.7 L416.6,834.7 L418.3,834.7 L420.0,834.7 L421.7,834.7 L423.4,834.7 L425.1,834.7 L426.8,834.7 L428.5,834.7 L430.2,834.7 L431.9,834.7 L433.6,834.7 L435.3,834.7 L437.0,834.7 L438.7,834.7" fill="none" stroke="#1c3ff0" stroke-width="1.45" stroke-dasharray="3.8,1.6"/>
<path d="M359.0,884.1 L360.7,883.6 L362.4,882.5 L364.1,877.6 L365.8,870.4 L367.5,862.8 L369.2,854.9 L370.9,846.5 L372.6,839.9 L374.3,835.2 L376.0,833.0 L377.6,832.1 L379.3,831.9 L381.0,831.9 L382.7,831.9 L384.4,831.9 L386.1,831.9 L387.8,831.9 L389.5,831.9 L391.2,831.9 L392.9,831.9 L394.6,831.9 L396.3,831.9 L398.0,831.9 L399.7,831.9 L401.4,831.9 L403.1,831.9 L404.8,831.9 L406.5,831.9 L408.2,831.9 L409.9,831.9 L411.6,831.9 L413.3,831.9 L414.9,831.9 L416.6,831.9 L418.3,831.9 L420.0,831.9 L421.7,831.9 L423.4,831.9 L425.1,831.9 L426.8,831.9 L428.5,831.9 L430.2,831.9 L431.9,831.9 L433.6,831.9 L435.3,831.9 L437.0,831.9 L438.7,831.9" fill="none" stroke="#ec1e1e" stroke-width="1.45" stroke-dasharray="3.8,1.6"/>
</g>
<rect x="357.60" y="825.60" width="81.30" height="59.40" rx="0" fill="none" stroke="#9a9a9a" stroke-width="0.7"/>
</g>
<text x="356.40" y="876.00" font-size="6.2" font-weight="normal" text-anchor="end" fill="#222" dominant-baseline="central" stroke="#222" stroke-width="0.12">2</text>
<text x="356.40" y="865.92" font-size="6.2" font-weight="normal" text-anchor="end" fill="#222" dominant-baseline="central" stroke="#222" stroke-width="0.12">4</text>
<text x="356.40" y="855.85" font-size="6.2" font-weight="normal" text-anchor="end" fill="#222" dominant-baseline="central" stroke="#222" stroke-width="0.12">6</text>
<text x="356.40" y="845.78" font-size="6.2" font-weight="normal" text-anchor="end" fill="#222" dominant-baseline="central" stroke="#222" stroke-width="0.12">8</text>
<text x="356.40" y="835.70" font-size="6.2" font-weight="normal" text-anchor="end" fill="#222" dominant-baseline="central" stroke="#222" stroke-width="0.12">10</text>
<text x="359.00" y="891.00" font-size="6.2" font-weight="normal" text-anchor="middle" fill="#222" dominant-baseline="central" stroke="#222" stroke-width="0.12">0</text>
<text x="375.60" y="891.00" font-size="6.2" font-weight="normal" text-anchor="middle" fill="#222" dominant-baseline="central" stroke="#222" stroke-width="0.12">25</text>
<text x="392.20" y="891.00" font-size="6.2" font-weight="normal" text-anchor="middle" fill="#222" dominant-baseline="central" stroke="#222" stroke-width="0.12">50</text>
<text x="408.80" y="891.00" font-size="6.2" font-weight="normal" text-anchor="middle" fill="#222" dominant-baseline="central" stroke="#222" stroke-width="0.12">75</text>
<text x="425.40" y="891.00" font-size="6.2" font-weight="normal" text-anchor="middle" fill="#222" dominant-baseline="central" stroke="#222" stroke-width="0.12">100</text>
<text x="402.00" y="821.60" font-size="7.3" font-weight="bold" text-anchor="middle" fill="#111" dominant-baseline="central" stroke="#111" stroke-width="0.12">succinate</text>
<text x="345.50" y="862.00" font-size="7.8" font-weight="bold" text-anchor="middle" fill="#111" dominant-baseline="central" transform="rotate(-90 345.50 862.00)" stroke="#111" stroke-width="0.12">mM</text>
<g>
<rect x="485.90" y="579.50" width="78.20" height="58.80" rx="0" fill="#fff" stroke="none" stroke-width="1"/>
<path d="M487.9,579.5 L487.9,638.3" fill="none" stroke="#ececec" stroke-width="0.5"/>
<path d="M503.6,579.5 L503.6,638.3" fill="none" stroke="#ececec" stroke-width="0.5"/>
<path d="M519.3,579.5 L519.3,638.3" fill="none" stroke="#ececec" stroke-width="0.5"/>
<path d="M535.0,579.5 L535.0,638.3" fill="none" stroke="#ececec" stroke-width="0.5"/>
<path d="M550.7,579.5 L550.7,638.3" fill="none" stroke="#ececec" stroke-width="0.5"/>
<path d="M495.8,579.5 L495.8,638.3" fill="none" stroke="#f5f5f5" stroke-width="0.4"/>
<path d="M511.4,579.5 L511.4,638.3" fill="none" stroke="#f5f5f5" stroke-width="0.4"/>
<path d="M527.1,579.5 L527.1,638.3" fill="none" stroke="#f5f5f5" stroke-width="0.4"/>
<path d="M542.9,579.5 L542.9,638.3" fill="none" stroke="#f5f5f5" stroke-width="0.4"/>
<path d="M558.6,579.5 L558.6,638.3" fill="none" stroke="#f5f5f5" stroke-width="0.4"/>
<path d="M485.9,636.6 L564.1,636.6" fill="none" stroke="#ececec" stroke-width="0.5"/>
<path d="M485.9,627.9 L564.1,627.9" fill="none" stroke="#ececec" stroke-width="0.5"/>
<path d="M485.9,619.2 L564.1,619.2" fill="none" stroke="#ececec" stroke-width="0.5"/>
<path d="M485.9,610.5 L564.1,610.5" fill="none" stroke="#ececec" stroke-width="0.5"/>
<path d="M485.9,601.9 L564.1,601.9" fill="none" stroke="#ececec" stroke-width="0.5"/>
<path d="M485.9,593.2 L564.1,593.2" fill="none" stroke="#ececec" stroke-width="0.5"/>
<path d="M485.9,584.5 L564.1,584.5" fill="none" stroke="#ececec" stroke-width="0.5"/>
<clipPath id="f1"><rect x="485.9" y="579.5" width="78.20000000000005" height="58.799999999999955"/></clipPath>
<g clip-path="url(#f1)">
<path d="M487.9,636.6 L489.5,636.4 L491.1,635.7 L492.7,630.8 L494.3,622.9 L495.9,611.9 L497.5,606.2 L499.1,606.2 L500.7,606.2 L502.3,607.5 L503.9,610.1 L505.5,613.0 L507.1,615.5 L508.7,618.0 L510.3,620.6 L512.0,622.7 L513.6,623.9 L515.2,624.6 L516.8,625.1 L518.4,625.5 L520.0,625.9 L521.6,626.2 L523.2,626.4 L524.8,626.6 L526.4,626.8 L528.0,627.0 L529.6,627.2 L531.2,627.4 L532.8,627.6 L534.4,627.8 L536.0,628.1 L537.6,628.3 L539.2,628.6 L540.8,628.9 L542.4,629.1 L544.0,629.4 L545.6,629.7 L547.2,630.0 L548.8,630.3 L550.4,630.6 L552.0,630.9 L553.6,631.2 L555.2,631.5 L556.8,631.8 L558.4,632.1 L560.1,632.5 L561.7,632.8 L563.3,633.1 L563.3,628.8 L561.7,628.1 L560.1,627.4 L558.4,626.8 L556.8,626.2 L555.2,625.6 L553.6,625.0 L552.0,624.5 L550.4,624.0 L548.8,623.5 L547.2,623.1 L545.6,622.7 L544.0,622.3 L542.4,622.0 L540.8,621.8 L539.2,621.6 L537.6,621.5 L536.0,621.4 L534.4,621.4 L532.8,621.4 L531.2,621.4 L529.6,621.4 L528.0,621.4 L526.4,621.4 L524.8,621.4 L523.2,621.4 L521.6,621.4 L520.0,621.4 L518.4,621.3 L516.8,621.0 L515.2,620.4 L513.6,619.6 L512.0,617.7 L510.3,613.1 L508.7,607.5 L507.1,602.7 L505.5,600.0 L503.9,598.1 L502.3,596.2 L500.7,593.7 L499.1,588.0 L497.5,582.4 L495.9,593.3 L494.3,613.8 L492.7,627.0 L491.1,634.8 L489.5,635.5 L487.9,635.7Z" fill="#a6eea6" fill-opacity="0.6" stroke="none"/>
<path d="M487.9,636.6 L489.5,636.4 L491.1,635.7 L492.7,632.7 L494.3,627.4 L495.9,616.4 L497.5,607.9 L499.1,604.4 L500.7,602.3 L502.3,602.1 L503.9,604.5 L505.5,608.0 L507.1,611.3 L508.7,615.2 L510.3,619.2 L512.0,622.0 L513.6,622.7 L515.2,622.2 L516.8,621.6 L518.4,621.1 L520.0,621.0 L521.6,621.1 L523.2,621.4 L524.8,621.8 L526.4,622.2 L528.0,622.7 L529.6,623.2 L531.2,623.6 L532.8,624.0 L534.4,624.4 L536.0,624.6 L537.6,624.8 L539.2,625.0 L540.8,625.2 L542.4,625.4 L544.0,625.6 L545.6,625.8 L547.2,626.0 L548.8,626.2 L550.4,626.3 L552.0,626.5 L553.6,626.6 L555.2,626.7 L556.8,626.8 L558.4,626.9 L560.1,627.0 L561.7,627.0 L563.3,627.0 L563.3,624.4 L561.7,624.2 L560.1,624.0 L558.4,623.7 L556.8,623.5 L555.2,623.3 L553.6,623.0 L552.0,622.8 L550.4,622.5 L548.8,622.3 L547.2,622.0 L545.6,621.8 L544.0,621.5 L542.4,621.3 L540.8,621.0 L539.2,620.8 L537.6,620.5 L536.0,620.3 L534.4,620.0 L532.8,619.7 L531.2,619.4 L529.6,619.0 L528.0,618.7 L526.4,618.3 L524.8,618.0 L523.2,617.8 L521.6,617.6 L520.0,617.5 L518.4,617.6 L516.8,618.1 L515.2,618.8 L513.6,619.2 L512.0,618.3 L510.3,614.5 L508.7,609.4 L507.1,604.9 L505.5,601.6 L503.9,598.4 L502.3,596.4 L500.7,596.6 L499.1,598.4 L497.5,601.4 L495.9,610.3 L494.3,622.9 L492.7,630.5 L491.1,634.8 L489.5,635.5 L487.9,635.7Z" fill="#a6b9f6" fill-opacity="0.6" stroke="none"/>
<path d="M487.9,636.6 L489.5,636.4 L491.1,635.7 L492.7,632.7 L494.3,627.4 L495.9,617.7 L497.5,610.1 L499.1,606.6 L500.7,604.5 L502.3,604.4 L503.9,607.4 L505.5,611.9 L507.1,615.7 L508.7,619.4 L510.3,623.1 L512.0,625.8 L513.6,626.8 L515.2,627.3 L516.8,627.7 L518.4,628.1 L520.0,628.4 L521.6,628.6 L523.2,628.7 L524.8,628.8 L526.4,628.8 L528.0,628.7 L529.6,628.5 L531.2,628.3 L532.8,628.1 L534.4,628.0 L536.0,627.9 L537.6,627.7 L539.2,627.6 L540.8,627.5 L542.4,627.4 L544.0,627.4 L545.6,627.3 L547.2,627.2 L548.8,627.1 L550.4,627.0 L552.0,626.9 L553.6,626.9 L555.2,626.8 L556.8,626.8 L558.4,626.7 L560.1,626.7 L561.7,626.6 L563.3,626.6 L563.3,624.4 L561.7,624.3 L560.1,624.2 L558.4,624.1 L556.8,624.0 L555.2,623.9 L553.6,623.8 L552.0,623.8 L550.4,623.7 L548.8,623.7 L547.2,623.6 L545.6,623.6 L544.0,623.6 L542.4,623.6 L540.8,623.6 L539.2,623.6 L537.6,623.6 L536.0,623.6 L534.4,623.6 L532.8,623.9 L531.2,624.4 L529.6,624.9 L528.0,625.4 L526.4,625.7 L524.8,625.7 L523.2,625.7 L521.6,625.5 L520.0,625.3 L518.4,625.0 L516.8,624.7 L515.2,624.3 L513.6,623.8 L512.0,622.4 L510.3,618.7 L508.7,613.7 L507.1,609.3 L505.5,605.7 L503.9,602.2 L502.3,599.9 L500.7,599.9 L499.1,601.3 L497.5,603.7 L495.9,611.4 L494.3,622.9 L492.7,630.4 L491.1,634.8 L489.5,635.5 L487.9,635.7Z" fill="#f6aaaa" fill-opacity="0.6" stroke="none"/>
<path d="M487.9,636.2 L489.5,635.9 L491.1,635.3 L492.7,629.1 L494.3,618.3 L495.9,599.3 L497.5,588.9 L499.1,594.6 L500.7,600.2 L502.3,602.8 L503.9,604.7 L505.5,606.6 L507.1,609.1 L508.7,612.8 L510.3,616.9 L512.0,620.2 L513.6,621.7 L515.2,622.5 L516.8,623.1 L518.4,623.4 L520.0,623.6 L521.6,623.8 L523.2,623.9 L524.8,624.0 L526.4,624.0 L528.0,624.1 L529.6,624.1 L531.2,624.2 L532.8,624.3 L534.4,624.4 L536.0,624.5 L537.6,624.7 L539.2,624.9 L540.8,625.2 L542.4,625.4 L544.0,625.7 L545.6,626.1 L547.2,626.4 L548.8,626.8 L550.4,627.3 L552.0,627.7 L553.6,628.2 L555.2,628.7 L556.8,629.2 L558.4,629.7 L560.1,630.2 L561.7,630.8 L563.3,631.4" fill="none" stroke="#74e274" stroke-width="0.6"/>
<path d="M487.9,636.2 L489.5,635.9 L491.1,635.3 L492.7,631.6 L494.3,625.1 L495.9,613.6 L497.5,604.8 L499.1,601.4 L500.7,599.2 L502.3,599.0 L503.9,601.2 L505.5,604.6 L507.1,607.9 L508.7,612.2 L510.3,616.8 L512.0,620.2 L513.6,620.9 L515.2,620.4 L516.8,619.6 L518.4,618.9 L520.0,618.9 L521.6,620.0 L523.2,621.4 L524.8,622.5 L526.4,622.7 L528.0,622.6 L529.6,622.4 L531.2,622.1 L532.8,622.0 L534.4,621.8 L536.0,621.8 L537.6,621.9 L539.2,621.9 L540.8,622.0 L542.4,622.1 L544.0,622.2 L545.6,622.3 L547.2,622.5 L548.8,622.7 L550.4,622.9 L552.0,623.1 L553.6,623.4 L555.2,623.7 L556.8,624.0 L558.4,624.4 L560.1,624.8 L561.7,625.3 L563.3,625.7" fill="none" stroke="#6b8cf2" stroke-width="0.6"/>
<path d="M487.9,636.2 L489.5,635.9 L491.1,635.3 L492.7,631.6 L494.3,625.2 L495.9,614.4 L497.5,606.7 L499.1,603.9 L500.7,602.2 L502.3,602.1 L503.9,604.7 L505.5,608.6 L507.1,612.3 L508.7,616.4 L510.3,620.6 L512.0,623.9 L513.6,625.1 L515.2,625.6 L516.8,626.0 L518.4,626.3 L520.0,626.6 L521.6,626.8 L523.2,627.0 L524.8,627.0 L526.4,627.0 L528.0,626.9 L529.6,626.6 L531.2,626.3 L532.8,626.0 L534.4,625.8 L536.0,625.7 L537.6,625.7 L539.2,625.6 L540.8,625.6 L542.4,625.5 L544.0,625.5 L545.6,625.5 L547.2,625.4 L548.8,625.4 L550.4,625.4 L552.0,625.4 L553.6,625.4 L555.2,625.3 L556.8,625.3 L558.4,625.3 L560.1,625.3 L561.7,625.3 L563.3,625.3" fill="none" stroke="#f27878" stroke-width="0.6"/>
<path d="M487.9,636.6 L489.5,636.2 L491.1,635.2 L492.7,631.8 L494.3,625.0 L495.9,610.1 L497.5,602.6 L499.1,599.6 L500.7,598.6 L502.3,598.6 L503.9,600.2 L505.5,604.5 L507.1,609.6 L508.7,615.0 L510.3,618.8 L512.0,621.4 L513.6,622.5 L515.2,623.0 L516.8,623.3 L518.4,623.5 L520.0,623.6 L521.6,623.6 L523.2,623.7 L524.8,623.7 L526.4,623.7 L528.0,623.8 L529.6,623.8 L531.2,623.8 L532.8,623.8 L534.4,623.9 L536.0,623.9 L537.6,623.9 L539.2,623.9 L540.8,623.9 L542.4,623.9 L544.0,623.9 L545.6,624.0 L547.2,624.0 L548.8,624.0 L550.4,624.0 L552.0,624.0 L553.6,624.0 L555.2,624.0 L556.8,624.0 L558.4,624.0 L560.1,624.0 L561.7,624.0 L563.3,624.0" fill="none" stroke="#1ecf1e" stroke-width="1.45" stroke-dasharray="3.8,1.6"/>
<path d="M487.9,636.6 L489.5,636.2 L491.1,635.2 L492.7,631.9 L494.3,625.5 L495.9,610.6 L497.5,603.0 L499.1,600.1 L500.7,599.0 L502.3,599.0 L503.9,600.6 L505.5,604.9 L507.1,610.0 L508.7,615.4 L510.3,619.2 L512.0,621.8 L513.6,622.9 L515.2,623.4 L516.8,623.8 L518.4,624.0 L520.0,624.0 L521.6,624.1 L523.2,624.1 L524.8,624.1 L526.4,624.2 L528.0,624.2 L529.6,624.2 L531.2,624.2 L532.8,624.3 L534.4,624.3 L536.0,624.3 L537.6,624.3 L539.2,624.3 L540.8,624.4 L542.4,624.4 L544.0,624.4 L545.6,624.4 L547.2,624.4 L548.8,624.4 L550.4,624.4 L552.0,624.4 L553.6,624.4 L555.2,624.4 L556.8,624.4 L558.4,624.4 L560.1,624.4 L561.7,624.4 L563.3,624.4" fill="none" stroke="#1c3ff0" stroke-width="1.45" stroke-dasharray="3.8,1.6"/>
<path d="M487.9,636.6 L489.5,636.2 L491.1,635.2 L492.7,631.8 L494.3,625.0 L495.9,609.7 L497.5,602.2 L499.1,599.2 L500.7,598.2 L502.3,598.1 L503.9,599.7 L505.5,604.1 L507.1,609.2 L508.7,614.5 L510.3,618.4 L512.0,621.3 L513.6,622.5 L515.2,623.0 L516.8,623.4 L518.4,623.5 L520.0,623.6 L521.6,623.6 L523.2,623.6 L524.8,623.6 L526.4,623.6 L528.0,623.6 L529.6,623.6 L531.2,623.6 L532.8,623.6 L534.4,623.6 L536.0,623.6 L537.6,623.6 L539.2,623.6 L540.8,623.6 L542.4,623.6 L544.0,623.6 L545.6,623.6 L547.2,623.6 L548.8,623.6 L550.4,623.6 L552.0,623.6 L553.6,623.6 L555.2,623.6 L556.8,623.6 L558.4,623.6 L560.1,623.6 L561.7,623.6 L563.3,623.6" fill="none" stroke="#ec1e1e" stroke-width="1.45" stroke-dasharray="3.8,1.6"/>
</g>
<rect x="485.90" y="579.50" width="78.20" height="58.80" rx="0" fill="none" stroke="#9a9a9a" stroke-width="0.7"/>
</g>
<text x="484.70" y="636.60" font-size="6.2" font-weight="normal" text-anchor="end" fill="#222" dominant-baseline="central" stroke="#222" stroke-width="0.12">0</text>
<text x="484.70" y="627.92" font-size="6.2" font-weight="normal" text-anchor="end" fill="#222" dominant-baseline="central" stroke="#222" stroke-width="0.12">2</text>
<text x="484.70" y="619.23" font-size="6.2" font-weight="normal" text-anchor="end" fill="#222" dominant-baseline="central" stroke="#222" stroke-width="0.12">4</text>
<text x="484.70" y="610.55" font-size="6.2" font-weight="normal" text-anchor="end" fill="#222" dominant-baseline="central" stroke="#222" stroke-width="0.12">6</text>
<text x="484.70" y="601.87" font-size="6.2" font-weight="normal" text-anchor="end" fill="#222" dominant-baseline="central" stroke="#222" stroke-width="0.12">8</text>
<text x="484.70" y="593.18" font-size="6.2" font-weight="normal" text-anchor="end" fill="#222" dominant-baseline="central" stroke="#222" stroke-width="0.12">10</text>
<text x="484.70" y="584.50" font-size="6.2" font-weight="normal" text-anchor="end" fill="#222" dominant-baseline="central" stroke="#222" stroke-width="0.12">12</text>
<text x="487.90" y="642.50" font-size="6.2" font-weight="normal" text-anchor="middle" fill="#222" dominant-baseline="central" stroke="#222" stroke-width="0.12">0</text>
<text x="503.60" y="642.50" font-size="6.2" font-weight="normal" text-anchor="middle" fill="#222" dominant-baseline="central" stroke="#222" stroke-width="0.12">25</text>
<text x="519.30" y="642.50" font-size="6.2" font-weight="normal" text-anchor="middle" fill="#222" dominant-baseline="central" stroke="#222" stroke-width="0.12">50</text>
<text x="535.00" y="642.50" font-size="6.2" font-weight="normal" text-anchor="middle" fill="#222" dominant-baseline="central" stroke="#222" stroke-width="0.12">75</text>
<text x="550.70" y="642.50" font-size="6.2" font-weight="normal" text-anchor="middle" fill="#222" dominant-baseline="central" stroke="#222" stroke-width="0.12">100</text>
<text x="523.80" y="574.50" font-size="7.3" font-weight="bold" text-anchor="middle" fill="#111" dominant-baseline="central" stroke="#111" stroke-width="0.12">live cells</text>
<text x="472.80" y="609.20" font-size="7.6" font-weight="bold" text-anchor="middle" fill="#111" dominant-baseline="central" transform="rotate(-90 472.80 609.20)" stroke="#111" stroke-width="0.12">10<tspan font-size="4.5" dy="-2.6">5</tspan><tspan dy="2.6"> cells/uL</tspan></text>
<g>
<rect x="593.50" y="579.30" width="80.90" height="59.20" rx="0" fill="#fff" stroke="none" stroke-width="1"/>
<path d="M595.3,579.3 L595.3,638.5" fill="none" stroke="#ececec" stroke-width="0.5"/>
<path d="M611.4,579.3 L611.4,638.5" fill="none" stroke="#ececec" stroke-width="0.5"/>
<path d="M627.5,579.3 L627.5,638.5" fill="none" stroke="#ececec" stroke-width="0.5"/>
<path d="M643.7,579.3 L643.7,638.5" fill="none" stroke="#ececec" stroke-width="0.5"/>
<path d="M659.8,579.3 L659.8,638.5" fill="none" stroke="#ececec" stroke-width="0.5"/>
<path d="M603.4,579.3 L603.4,638.5" fill="none" stroke="#f5f5f5" stroke-width="0.4"/>
<path d="M619.5,579.3 L619.5,638.5" fill="none" stroke="#f5f5f5" stroke-width="0.4"/>
<path d="M635.6,579.3 L635.6,638.5" fill="none" stroke="#f5f5f5" stroke-width="0.4"/>
<path d="M651.7,579.3 L651.7,638.5" fill="none" stroke="#f5f5f5" stroke-width="0.4"/>
<path d="M667.9,579.3 L667.9,638.5" fill="none" stroke="#f5f5f5" stroke-width="0.4"/>
<path d="M593.5,631.8 L674.4,631.8" fill="none" stroke="#ececec" stroke-width="0.5"/>
<path d="M593.5,620.6 L674.4,620.6" fill="none" stroke="#ececec" stroke-width="0.5"/>
<path d="M593.5,609.3 L674.4,609.3" fill="none" stroke="#ececec" stroke-width="0.5"/>
<path d="M593.5,598.1 L674.4,598.1" fill="none" stroke="#ececec" stroke-width="0.5"/>
<path d="M593.5,586.9 L674.4,586.9" fill="none" stroke="#ececec" stroke-width="0.5"/>
<clipPath id="f2"><rect x="593.5" y="579.3" width="80.89999999999998" height="59.200000000000045"/></clipPath>
<g clip-path="url(#f2)">
<path d="M595.3,586.9 L596.9,590.7 L598.6,596.1 L600.2,602.7 L601.9,610.0 L603.5,622.4 L605.2,629.0 L606.8,629.0 L608.5,629.0 L610.1,629.0 L611.8,629.0 L613.4,629.2 L615.1,629.7 L616.7,630.3 L618.4,630.9 L620.0,631.5 L621.6,631.9 L623.3,632.4 L624.9,632.9 L626.6,633.3 L628.2,633.8 L629.9,634.2 L631.5,634.4 L633.2,634.6 L634.8,634.5 L636.5,634.1 L638.1,633.3 L639.8,632.3 L641.4,631.5 L643.1,630.8 L644.7,630.5 L646.4,630.2 L648.0,630.0 L649.6,629.7 L651.3,629.5 L652.9,629.4 L654.6,629.2 L656.2,629.1 L657.9,629.0 L659.5,629.0 L661.2,629.1 L662.8,629.4 L664.5,629.9 L666.1,630.6 L667.8,631.5 L669.4,632.5 L671.1,633.5 L672.7,634.6 L672.7,626.2 L671.1,624.7 L669.4,623.3 L667.8,622.0 L666.1,620.9 L664.5,620.1 L662.8,619.4 L661.2,619.0 L659.5,618.9 L657.9,619.0 L656.2,619.3 L654.6,619.8 L652.9,620.3 L651.3,620.9 L649.6,621.5 L648.0,622.1 L646.4,622.7 L644.7,623.1 L643.1,623.5 L641.4,623.8 L639.8,624.2 L638.1,624.5 L636.5,624.7 L634.8,625.0 L633.2,625.2 L631.5,625.4 L629.9,625.6 L628.2,625.7 L626.6,625.9 L624.9,626.0 L623.3,626.1 L621.6,626.2 L620.0,626.2 L618.4,626.1 L616.7,625.9 L615.1,625.7 L613.4,625.4 L611.8,625.1 L610.1,624.9 L608.5,624.6 L606.8,624.2 L605.2,623.5 L603.5,613.8 L601.9,598.7 L600.2,593.0 L598.6,588.3 L596.9,585.2 L595.3,584.1Z" fill="#a6b9f6" fill-opacity="0.6" stroke="none"/>
<path d="M595.3,586.9 L596.9,588.3 L598.6,592.0 L600.2,597.3 L601.9,611.4 L603.5,631.1 L605.2,634.0 L606.8,631.0 L608.5,628.8 L610.1,627.8 L611.8,627.0 L613.4,626.4 L615.1,626.1 L616.7,626.0 L618.4,625.8 L620.0,625.6 L621.6,625.5 L623.3,625.4 L624.9,625.3 L626.6,625.2 L628.2,625.2 L629.9,625.1 L631.5,625.1 L633.2,625.1 L634.8,625.1 L636.5,625.1 L638.1,625.1 L639.8,625.1 L641.4,625.1 L643.1,625.1 L644.7,625.1 L646.4,625.1 L648.0,625.1 L649.6,625.1 L651.3,625.2 L652.9,625.2 L654.6,625.2 L656.2,625.3 L657.9,625.3 L659.5,625.4 L661.2,625.5 L662.8,625.5 L664.5,625.6 L666.1,625.7 L667.8,625.8 L669.4,625.9 L671.1,626.1 L672.7,626.2 L672.7,621.7 L671.1,621.6 L669.4,621.5 L667.8,621.5 L666.1,621.4 L664.5,621.3 L662.8,621.3 L661.2,621.2 L659.5,621.1 L657.9,621.1 L656.2,621.0 L654.6,620.9 L652.9,620.9 L651.3,620.8 L649.6,620.8 L648.0,620.8 L646.4,620.7 L644.7,620.7 L643.1,620.7 L641.4,620.6 L639.8,620.6 L638.1,620.6 L636.5,620.6 L634.8,620.6 L633.2,620.6 L631.5,620.6 L629.9,620.6 L628.2,620.6 L626.6,620.6 L624.9,620.6 L623.3,620.6 L621.6,620.6 L620.0,620.6 L618.4,620.6 L616.7,620.6 L615.1,620.6 L613.4,620.8 L611.8,621.8 L610.1,622.8 L608.5,623.4 L606.8,623.0 L605.2,621.6 L603.5,616.5 L601.9,598.0 L600.2,586.5 L598.6,583.7 L596.9,581.9 L595.3,581.3Z" fill="#a6eea6" fill-opacity="0.6" stroke="none"/>
<path d="M595.3,585.8 L596.9,587.4 L598.6,591.6 L600.2,597.5 L601.9,604.4 L603.5,618.1 L605.2,626.3 L606.8,626.7 L608.5,626.9 L610.1,627.1 L611.8,627.4 L613.4,627.7 L615.1,628.0 L616.7,628.3 L618.4,628.5 L620.0,628.8 L621.6,629.1 L623.3,629.4 L624.9,629.6 L626.6,629.9 L628.2,630.2 L629.9,630.4 L631.5,630.6 L633.2,630.7 L634.8,630.6 L636.5,630.1 L638.1,629.2 L639.8,628.2 L641.4,627.2 L643.1,626.4 L644.7,625.9 L646.4,625.5 L648.0,625.1 L649.6,624.7 L651.3,624.3 L652.9,624.0 L654.6,623.8 L656.2,623.6 L657.9,623.4 L659.5,623.4 L661.2,623.5 L662.8,624.0 L664.5,624.8 L666.1,625.8 L667.8,627.1 L669.4,628.6 L671.1,630.1 L672.7,631.8" fill="none" stroke="#6b8cf2" stroke-width="0.6"/>
<path d="M595.3,584.1 L596.9,585.1 L598.6,587.8 L600.2,591.9 L601.9,607.1 L603.5,630.4 L605.2,633.7 L606.8,629.2 L608.5,625.9 L610.1,624.4 L611.8,623.2 L613.4,622.4 L615.1,622.3 L616.7,622.3 L618.4,622.4 L620.0,622.5 L621.6,622.6 L623.3,622.7 L624.9,622.9 L626.6,623.0 L628.2,623.1 L629.9,623.3 L631.5,623.3 L633.2,623.4 L634.8,623.4 L636.5,623.4 L638.1,623.4 L639.8,623.4 L641.4,623.4 L643.1,623.4 L644.7,623.4 L646.4,623.4 L648.0,623.4 L649.6,623.4 L651.3,623.4 L652.9,623.4 L654.6,623.4 L656.2,623.4 L657.9,623.4 L659.5,623.4 L661.2,623.4 L662.8,623.4 L664.5,623.4 L666.1,623.4 L667.8,623.4 L669.4,623.4 L671.1,623.4 L672.7,623.4" fill="none" stroke="#74e274" stroke-width="0.6"/>
<path d="M595.3,586.9 L596.9,588.3 L598.6,592.1 L600.2,597.7 L601.9,604.4 L603.5,620.0 L605.2,635.8 L606.8,639.3 L608.5,640.0 L610.1,633.8 L611.8,630.2 L613.4,628.1 L615.1,627.2 L616.7,626.7 L618.4,626.3 L620.0,626.0 L621.6,625.7 L623.3,625.4 L624.9,625.2 L626.6,625.0 L628.2,624.9 L629.9,624.7 L631.5,624.6 L633.2,624.5 L634.8,624.5 L636.5,624.4 L638.1,624.3 L639.8,624.2 L641.4,624.1 L643.1,624.1 L644.7,624.0 L646.4,623.9 L648.0,623.9 L649.6,623.8 L651.3,623.8 L652.9,623.7 L654.6,623.7 L656.2,623.6 L657.9,623.6 L659.5,623.5 L661.2,623.5 L662.8,623.5 L664.5,623.4 L666.1,623.4 L667.8,623.4 L669.4,623.4 L671.1,623.4 L672.7,623.4" fill="none" stroke="#f27878" stroke-width="0.6"/>
<path d="M595.3,592.5 L596.9,592.8 L598.6,593.7 L600.2,599.8 L601.9,612.4 L603.5,622.4 L605.2,625.8 L606.8,626.5 L608.5,626.7 L610.1,626.7 L611.8,626.7 L613.4,626.7 L615.1,626.6 L616.7,626.6 L618.4,626.5 L620.0,626.4 L621.6,626.3 L623.3,626.2 L624.9,626.1 L626.6,626.0 L628.2,625.9 L629.9,625.8 L631.5,625.8 L633.2,625.7 L634.8,625.6 L636.5,625.5 L638.1,625.4 L639.8,625.3 L641.4,625.2 L643.1,625.2 L644.7,625.1 L646.4,625.0 L648.0,624.9 L649.6,624.8 L651.3,624.7 L652.9,624.6 L654.6,624.5 L656.2,624.4 L657.9,624.3 L659.5,624.2 L661.2,624.1 L662.8,624.0 L664.5,623.9 L666.1,623.8 L667.8,623.7 L669.4,623.6 L671.1,623.5 L672.7,623.4" fill="none" stroke="#1ecf1e" stroke-width="1.45" stroke-dasharray="3.8,1.6"/>
<path d="M595.3,592.5 L596.9,592.8 L598.6,593.7 L600.2,599.8 L601.9,612.3 L603.5,622.6 L605.2,626.3 L606.8,627.1 L608.5,627.3 L610.1,627.3 L611.8,627.3 L613.4,627.2 L615.1,627.2 L616.7,627.1 L618.4,627.0 L620.0,627.0 L621.6,626.9 L623.3,626.8 L624.9,626.7 L626.6,626.6 L628.2,626.5 L629.9,626.4 L631.5,626.3 L633.2,626.2 L634.8,626.1 L636.5,626.1 L638.1,626.0 L639.8,625.9 L641.4,625.8 L643.1,625.7 L644.7,625.6 L646.4,625.5 L648.0,625.5 L649.6,625.4 L651.3,625.3 L652.9,625.2 L654.6,625.1 L656.2,625.0 L657.9,624.9 L659.5,624.8 L661.2,624.7 L662.8,624.6 L664.5,624.5 L666.1,624.4 L667.8,624.3 L669.4,624.2 L671.1,624.1 L672.7,623.9" fill="none" stroke="#1c3ff0" stroke-width="1.45" stroke-dasharray="3.8,1.6"/>
<path d="M595.3,592.5 L596.9,592.8 L598.6,593.7 L600.2,599.8 L601.9,612.4 L603.5,622.4 L605.2,625.7 L606.8,626.1 L608.5,626.2 L610.1,626.2 L611.8,626.1 L613.4,626.1 L615.1,626.1 L616.7,626.0 L618.4,625.9 L620.0,625.8 L621.6,625.8 L623.3,625.7 L624.9,625.6 L626.6,625.5 L628.2,625.4 L629.9,625.3 L631.5,625.2 L633.2,625.1 L634.8,625.0 L636.5,624.9 L638.1,624.9 L639.8,624.8 L641.4,624.7 L643.1,624.6 L644.7,624.5 L646.4,624.4 L648.0,624.3 L649.6,624.2 L651.3,624.1 L652.9,624.1 L654.6,624.0 L656.2,623.9 L657.9,623.8 L659.5,623.7 L661.2,623.6 L662.8,623.5 L664.5,623.4 L666.1,623.2 L667.8,623.1 L669.4,623.0 L671.1,622.9 L672.7,622.8" fill="none" stroke="#ec1e1e" stroke-width="1.45" stroke-dasharray="3.8,1.6"/>
</g>
<rect x="593.50" y="579.30" width="80.90" height="59.20" rx="0" fill="none" stroke="#9a9a9a" stroke-width="0.7"/>
</g>
<text x="592.30" y="631.80" font-size="6.2" font-weight="normal" text-anchor="end" fill="#222" dominant-baseline="central" stroke="#222" stroke-width="0.12">5.8</text>
<text x="592.30" y="620.57" font-size="6.2" font-weight="normal" text-anchor="end" fill="#222" dominant-baseline="central" stroke="#222" stroke-width="0.12">6.0</text>
<text x="592.30" y="609.35" font-size="6.2" font-weight="normal" text-anchor="end" fill="#222" dominant-baseline="central" stroke="#222" stroke-width="0.12">6.2</text>
<text x="592.30" y="598.12" font-size="6.2" font-weight="normal" text-anchor="end" fill="#222" dominant-baseline="central" stroke="#222" stroke-width="0.12">6.4</text>
<text x="592.30" y="586.90" font-size="6.2" font-weight="normal" text-anchor="end" fill="#222" dominant-baseline="central" stroke="#222" stroke-width="0.12">6.6</text>
<text x="595.30" y="642.50" font-size="6.2" font-weight="normal" text-anchor="middle" fill="#222" dominant-baseline="central" stroke="#222" stroke-width="0.12">0</text>
<text x="611.42" y="642.50" font-size="6.2" font-weight="normal" text-anchor="middle" fill="#222" dominant-baseline="central" stroke="#222" stroke-width="0.12">25</text>
<text x="627.55" y="642.50" font-size="6.2" font-weight="normal" text-anchor="middle" fill="#222" dominant-baseline="central" stroke="#222" stroke-width="0.12">50</text>
<text x="643.67" y="642.50" font-size="6.2" font-weight="normal" text-anchor="middle" fill="#222" dominant-baseline="central" stroke="#222" stroke-width="0.12">75</text>
<text x="659.80" y="642.50" font-size="6.2" font-weight="normal" text-anchor="middle" fill="#222" dominant-baseline="central" stroke="#222" stroke-width="0.12">100</text>
<text x="633.00" y="574.50" font-size="7.3" font-weight="bold" text-anchor="middle" fill="#111" dominant-baseline="central" stroke="#111" stroke-width="0.12">pH</text>
<text x="579.60" y="607.00" font-size="7.3" font-weight="bold" text-anchor="middle" fill="#111" dominant-baseline="central" transform="rotate(-90 579.60 607.00)" stroke="#111" stroke-width="0.12">pH</text>
<g>
<rect x="482.50" y="665.00" width="79.30" height="55.50" rx="0" fill="#fff" stroke="none" stroke-width="1"/>
<path d="M485.2,665.0 L485.2,720.5" fill="none" stroke="#ececec" stroke-width="0.5"/>
<path d="M500.7,665.0 L500.7,720.5" fill="none" stroke="#ececec" stroke-width="0.5"/>
<path d="M516.2,665.0 L516.2,720.5" fill="none" stroke="#ececec" stroke-width="0.5"/>
<path d="M531.8,665.0 L531.8,720.5" fill="none" stroke="#ececec" stroke-width="0.5"/>
<path d="M547.3,665.0 L547.3,720.5" fill="none" stroke="#ececec" stroke-width="0.5"/>
<path d="M493.0,665.0 L493.0,720.5" fill="none" stroke="#f5f5f5" stroke-width="0.4"/>
<path d="M508.5,665.0 L508.5,720.5" fill="none" stroke="#f5f5f5" stroke-width="0.4"/>
<path d="M524.0,665.0 L524.0,720.5" fill="none" stroke="#f5f5f5" stroke-width="0.4"/>
<path d="M539.5,665.0 L539.5,720.5" fill="none" stroke="#f5f5f5" stroke-width="0.4"/>
<path d="M555.1,665.0 L555.1,720.5" fill="none" stroke="#f5f5f5" stroke-width="0.4"/>
<path d="M482.5,718.9 L561.8,718.9" fill="none" stroke="#ececec" stroke-width="0.5"/>
<path d="M482.5,708.2 L561.8,708.2" fill="none" stroke="#ececec" stroke-width="0.5"/>
<path d="M482.5,697.5 L561.8,697.5" fill="none" stroke="#ececec" stroke-width="0.5"/>
<path d="M482.5,686.7 L561.8,686.7" fill="none" stroke="#ececec" stroke-width="0.5"/>
<path d="M482.5,676.0 L561.8,676.0" fill="none" stroke="#ececec" stroke-width="0.5"/>
<clipPath id="f3"><rect x="482.5" y="665.0" width="79.29999999999995" height="55.5"/></clipPath>
<g clip-path="url(#f3)">
<path d="M485.2,669.0 L486.8,669.1 L488.4,669.1 L490.0,669.3 L491.5,669.7 L493.1,685.2 L494.7,704.3 L496.3,715.8 L497.9,718.9 L499.5,718.9 L501.1,718.9 L502.6,718.9 L504.2,718.9 L505.8,718.9 L507.4,718.9 L509.0,718.9 L510.6,718.9 L512.2,718.9 L513.7,718.9 L515.3,718.9 L516.9,718.9 L518.5,718.9 L520.1,718.9 L521.7,718.9 L523.3,718.9 L524.8,718.9 L526.4,718.9 L528.0,718.9 L529.6,718.9 L531.2,718.9 L532.8,718.9 L534.4,718.9 L535.9,718.9 L537.5,718.9 L539.1,718.9 L540.7,718.9 L542.3,718.9 L543.9,718.9 L545.5,718.9 L547.0,718.9 L548.6,718.9 L550.2,718.9 L551.8,718.9 L553.4,718.9 L555.0,718.9 L556.5,718.9 L558.1,718.9 L559.7,718.9 L559.7,718.4 L558.1,718.4 L556.5,718.4 L555.0,718.4 L553.4,718.4 L551.8,718.4 L550.2,718.4 L548.6,718.4 L547.0,718.4 L545.5,718.4 L543.9,718.4 L542.3,718.3 L540.7,718.3 L539.1,718.3 L537.5,718.3 L535.9,718.3 L534.4,718.3 L532.8,718.3 L531.2,718.3 L529.6,718.3 L528.0,718.3 L526.4,718.3 L524.8,718.3 L523.3,718.2 L521.7,718.2 L520.1,718.2 L518.5,718.2 L516.9,718.2 L515.3,718.2 L513.7,718.1 L512.2,718.1 L510.6,718.1 L509.0,718.1 L507.4,718.0 L505.8,718.0 L504.2,718.0 L502.6,717.9 L501.1,717.9 L499.5,717.9 L497.9,717.1 L496.3,703.0 L494.7,684.7 L493.1,670.2 L491.5,667.4 L490.0,667.4 L488.4,667.4 L486.8,667.4 L485.2,667.4Z" fill="#a6b9f6" fill-opacity="0.6" stroke="none"/>
<path d="M485.2,668.0 L486.8,668.0 L488.4,668.1 L490.0,668.2 L491.5,668.6 L493.1,675.1 L494.7,692.7 L496.3,710.5 L497.9,718.4 L499.5,718.4 L501.1,718.4 L502.6,718.4 L504.2,718.4 L505.8,718.5 L507.4,718.5 L509.0,718.5 L510.6,718.5 L512.2,718.5 L513.7,718.5 L515.3,718.5 L516.9,718.5 L518.5,718.5 L520.1,718.6 L521.7,718.6 L523.3,718.6 L524.8,718.6 L526.4,718.6 L528.0,718.6 L529.6,718.6 L531.2,718.6 L532.8,718.6 L534.4,718.6 L535.9,718.6 L537.5,718.6 L539.1,718.6 L540.7,718.6 L542.3,718.6 L543.9,718.6 L545.5,718.6 L547.0,718.6 L548.6,718.6 L550.2,718.6 L551.8,718.6 L553.4,718.6 L555.0,718.6 L556.5,718.6 L558.1,718.6 L559.7,718.6" fill="none" stroke="#6b8cf2" stroke-width="0.6"/>
<path d="M485.2,674.9 L486.8,675.6 L488.4,675.9 L490.0,676.0 L491.5,676.0 L493.1,674.9 L494.7,706.0 L496.3,717.8 L497.9,717.9 L499.5,718.0 L501.1,718.0 L502.6,718.1 L504.2,718.1 L505.8,718.1 L507.4,718.2 L509.0,718.2 L510.6,718.3 L512.2,718.3 L513.7,718.3 L515.3,718.4 L516.9,718.4 L518.5,718.4 L520.1,718.4 L521.7,718.5 L523.3,718.5 L524.8,718.5 L526.4,718.5 L528.0,718.5 L529.6,718.5 L531.2,718.6 L532.8,718.6 L534.4,718.6 L535.9,718.6 L537.5,718.6 L539.1,718.6 L540.7,718.6 L542.3,718.6 L543.9,718.6 L545.5,718.6 L547.0,718.6 L548.6,718.6 L550.2,718.6 L551.8,718.6 L553.4,718.6 L555.0,718.6 L556.5,718.6 L558.1,718.6 L559.7,718.6" fill="none" stroke="#f27878" stroke-width="0.6"/>
<path d="M485.2,671.2 L486.8,671.3 L488.4,671.8 L490.0,672.6 L491.5,683.9 L493.1,702.8 L494.7,716.9 L496.3,718.9 L497.9,718.9 L499.5,718.9 L501.1,718.9 L502.6,718.9 L504.2,718.9 L505.8,718.9 L507.4,718.9 L509.0,718.9 L510.6,718.9 L512.2,718.9 L513.7,718.9 L515.3,718.9 L516.9,718.9 L518.5,718.9 L520.1,718.9 L521.7,718.9 L523.3,718.9 L524.8,718.9 L526.4,718.9 L528.0,718.9 L529.6,718.9 L531.2,718.9 L532.8,718.9 L534.4,718.9 L535.9,718.9 L537.5,718.9 L539.1,718.9 L540.7,718.9 L542.3,718.9 L543.9,718.9 L545.5,718.9 L547.0,718.9 L548.6,718.9 L550.2,718.9 L551.8,718.9 L553.4,718.9 L555.0,718.9 L556.5,718.9 L558.1,718.9 L559.7,718.9" fill="none" stroke="#74e274" stroke-width="0.6"/>
<path d="M485.2,671.2 L486.8,671.4 L488.4,672.3 L490.0,684.5 L491.5,707.1 L493.1,718.1 L494.7,718.6 L496.3,718.6 L497.9,718.7 L499.5,718.7 L501.1,718.7 L502.6,718.7 L504.2,718.7 L505.8,718.7 L507.4,718.7 L509.0,718.7 L510.6,718.7 L512.2,718.7 L513.7,718.7 L515.3,718.7 L516.9,718.7 L518.5,718.8 L520.1,718.8 L521.7,718.8 L523.3,718.8 L524.8,718.8 L526.4,718.8 L528.0,718.8 L529.6,718.8 L531.2,718.8 L532.8,718.8 L534.4,718.8 L535.9,718.8 L537.5,718.8 L539.1,718.8 L540.7,718.8 L542.3,718.8 L543.9,718.8 L545.5,718.8 L547.0,718.8 L548.6,718.8 L550.2,718.8 L551.8,718.8 L553.4,718.8 L555.0,718.8 L556.5,718.8 L558.1,718.8 L559.7,718.8" fill="none" stroke="#1ecf1e" stroke-width="1.45" stroke-dasharray="3.8,1.6"/>
<path d="M485.2,674.4 L486.8,674.8 L488.4,676.1 L490.0,689.7 L491.5,712.0 L493.1,718.4 L494.7,718.4 L496.3,718.4 L497.9,718.5 L499.5,718.5 L501.1,718.5 L502.6,718.5 L504.2,718.5 L505.8,718.6 L507.4,718.6 L509.0,718.6 L510.6,718.6 L512.2,718.6 L513.7,718.7 L515.3,718.7 L516.9,718.7 L518.5,718.7 L520.1,718.7 L521.7,718.7 L523.3,718.7 L524.8,718.7 L526.4,718.7 L528.0,718.7 L529.6,718.8 L531.2,718.8 L532.8,718.8 L534.4,718.8 L535.9,718.8 L537.5,718.8 L539.1,718.8 L540.7,718.8 L542.3,718.8 L543.9,718.8 L545.5,718.8 L547.0,718.8 L548.6,718.8 L550.2,718.8 L551.8,718.8 L553.4,718.8 L555.0,718.8 L556.5,718.8 L558.1,718.8 L559.7,718.8" fill="none" stroke="#ec1e1e" stroke-width="1.45" stroke-dasharray="3.8,1.6"/>
<path d="M485.2,668.0 L486.8,668.1 L488.4,668.5 L490.0,681.6 L491.5,707.1 L493.1,718.1 L494.7,718.6 L496.3,718.6 L497.9,718.7 L499.5,718.7 L501.1,718.7 L502.6,718.7 L504.2,718.7 L505.8,718.7 L507.4,718.7 L509.0,718.7 L510.6,718.7 L512.2,718.7 L513.7,718.7 L515.3,718.7 L516.9,718.7 L518.5,718.8 L520.1,718.8 L521.7,718.8 L523.3,718.8 L524.8,718.8 L526.4,718.8 L528.0,718.8 L529.6,718.8 L531.2,718.8 L532.8,718.8 L534.4,718.8 L535.9,718.8 L537.5,718.8 L539.1,718.8 L540.7,718.8 L542.3,718.8 L543.9,718.8 L545.5,718.8 L547.0,718.8 L548.6,718.8 L550.2,718.8 L551.8,718.8 L553.4,718.8 L555.0,718.8 L556.5,718.8 L558.1,718.8 L559.7,718.8" fill="none" stroke="#1c3ff0" stroke-width="1.45" stroke-dasharray="3.8,1.6"/>
</g>
<rect x="482.50" y="665.00" width="79.30" height="55.50" rx="0" fill="none" stroke="#9a9a9a" stroke-width="0.7"/>
</g>
<text x="481.30" y="718.90" font-size="6.2" font-weight="normal" text-anchor="end" fill="#222" dominant-baseline="central" stroke="#222" stroke-width="0.12">0</text>
<text x="481.30" y="708.17" font-size="6.2" font-weight="normal" text-anchor="end" fill="#222" dominant-baseline="central" stroke="#222" stroke-width="0.12">2</text>
<text x="481.30" y="697.45" font-size="6.2" font-weight="normal" text-anchor="end" fill="#222" dominant-baseline="central" stroke="#222" stroke-width="0.12">4</text>
<text x="481.30" y="686.73" font-size="6.2" font-weight="normal" text-anchor="end" fill="#222" dominant-baseline="central" stroke="#222" stroke-width="0.12">6</text>
<text x="481.30" y="676.00" font-size="6.2" font-weight="normal" text-anchor="end" fill="#222" dominant-baseline="central" stroke="#222" stroke-width="0.12">8</text>
<text x="485.20" y="724.80" font-size="6.2" font-weight="normal" text-anchor="middle" fill="#222" dominant-baseline="central" stroke="#222" stroke-width="0.12">0</text>
<text x="500.72" y="724.80" font-size="6.2" font-weight="normal" text-anchor="middle" fill="#222" dominant-baseline="central" stroke="#222" stroke-width="0.12">25</text>
<text x="516.25" y="724.80" font-size="6.2" font-weight="normal" text-anchor="middle" fill="#222" dominant-baseline="central" stroke="#222" stroke-width="0.12">50</text>
<text x="531.77" y="724.80" font-size="6.2" font-weight="normal" text-anchor="middle" fill="#222" dominant-baseline="central" stroke="#222" stroke-width="0.12">75</text>
<text x="547.30" y="724.80" font-size="6.2" font-weight="normal" text-anchor="middle" fill="#222" dominant-baseline="central" stroke="#222" stroke-width="0.12">100</text>
<text x="523.80" y="658.10" font-size="7.3" font-weight="bold" text-anchor="middle" fill="#111" dominant-baseline="central" stroke="#111" stroke-width="0.12">pyruvate</text>
<text x="471.80" y="689.50" font-size="7.8" font-weight="bold" text-anchor="middle" fill="#111" dominant-baseline="central" transform="rotate(-90 471.80 689.50)" stroke="#111" stroke-width="0.12">mM</text>
<g>
<rect x="590.20" y="662.50" width="84.10" height="58.70" rx="0" fill="#fff" stroke="none" stroke-width="1"/>
<path d="M591.2,662.5 L591.2,721.2" fill="none" stroke="#ececec" stroke-width="0.5"/>
<path d="M608.2,662.5 L608.2,721.2" fill="none" stroke="#ececec" stroke-width="0.5"/>
<path d="M625.2,662.5 L625.2,721.2" fill="none" stroke="#ececec" stroke-width="0.5"/>
<path d="M642.2,662.5 L642.2,721.2" fill="none" stroke="#ececec" stroke-width="0.5"/>
<path d="M659.2,662.5 L659.2,721.2" fill="none" stroke="#ececec" stroke-width="0.5"/>
<path d="M599.7,662.5 L599.7,721.2" fill="none" stroke="#f5f5f5" stroke-width="0.4"/>
<path d="M616.7,662.5 L616.7,721.2" fill="none" stroke="#f5f5f5" stroke-width="0.4"/>
<path d="M633.7,662.5 L633.7,721.2" fill="none" stroke="#f5f5f5" stroke-width="0.4"/>
<path d="M650.7,662.5 L650.7,721.2" fill="none" stroke="#f5f5f5" stroke-width="0.4"/>
<path d="M667.7,662.5 L667.7,721.2" fill="none" stroke="#f5f5f5" stroke-width="0.4"/>
<path d="M590.2,717.2 L674.3,717.2" fill="none" stroke="#ececec" stroke-width="0.5"/>
<path d="M590.2,706.7 L674.3,706.7" fill="none" stroke="#ececec" stroke-width="0.5"/>
<path d="M590.2,696.2 L674.3,696.2" fill="none" stroke="#ececec" stroke-width="0.5"/>
<path d="M590.2,685.6 L674.3,685.6" fill="none" stroke="#ececec" stroke-width="0.5"/>
<path d="M590.2,675.1 L674.3,675.1" fill="none" stroke="#ececec" stroke-width="0.5"/>
<path d="M590.2,664.6 L674.3,664.6" fill="none" stroke="#ececec" stroke-width="0.5"/>
<clipPath id="f4"><rect x="590.2" y="662.5" width="84.09999999999991" height="58.700000000000045"/></clipPath>
<g clip-path="url(#f4)">
<path d="M591.2,720.4 L592.9,720.1 L594.7,719.3 L596.4,715.2 L598.1,708.1 L599.9,695.6 L601.6,684.8 L603.4,678.5 L605.1,673.2 L606.8,669.7 L608.6,668.8 L610.3,668.8 L612.0,668.8 L613.8,668.8 L615.5,668.8 L617.2,668.8 L619.0,668.8 L620.7,668.9 L622.5,668.9 L624.2,669.1 L625.9,669.2 L627.7,669.4 L629.4,669.6 L631.1,669.8 L632.9,670.0 L634.6,670.2 L636.3,670.4 L638.1,670.7 L639.8,670.9 L641.5,671.2 L643.3,671.5 L645.0,671.9 L646.8,672.2 L648.5,672.5 L650.2,672.9 L652.0,673.3 L653.7,673.7 L655.4,674.1 L657.2,674.6 L658.9,675.0 L660.6,675.5 L662.4,676.0 L664.1,676.5 L665.9,677.0 L667.6,677.6 L669.3,678.1 L671.1,678.7 L672.8,679.3 L672.8,674.1 L671.1,673.5 L669.3,672.9 L667.6,672.3 L665.9,671.8 L664.1,671.2 L662.4,670.7 L660.6,670.3 L658.9,669.8 L657.2,669.3 L655.4,668.8 L653.7,668.4 L652.0,667.9 L650.2,667.5 L648.5,667.2 L646.8,666.9 L645.0,666.6 L643.3,666.4 L641.5,666.2 L639.8,666.1 L638.1,665.9 L636.3,665.8 L634.6,665.7 L632.9,665.7 L631.1,665.7 L629.4,665.7 L627.7,665.7 L625.9,665.7 L624.2,665.7 L622.5,665.7 L620.7,665.7 L619.0,665.7 L617.2,665.7 L615.5,665.7 L613.8,665.7 L612.0,665.7 L610.3,665.7 L608.6,665.7 L606.8,666.4 L605.1,669.4 L603.4,673.9 L601.6,679.6 L599.9,690.4 L598.1,703.8 L596.4,712.3 L594.7,717.2 L592.9,718.0 L591.2,718.3Z" fill="#a6b9f6" fill-opacity="0.6" stroke="none"/>
<path d="M591.2,718.3 L592.9,718.0 L594.7,717.2 L596.4,713.2 L598.1,706.0 L599.9,691.1 L601.6,679.8 L603.4,675.5 L605.1,672.3 L606.8,670.4 L608.6,669.9 L610.3,670.0 L612.0,670.3 L613.8,670.8 L615.5,671.2 L617.2,671.7 L619.0,672.1 L620.7,672.5 L622.5,673.0 L624.2,673.5 L625.9,673.8 L627.7,674.0 L629.4,673.8 L631.1,672.3 L632.9,672.4 L634.6,674.4 L636.3,675.7 L638.1,676.6 L639.8,677.6 L641.5,678.5 L643.3,679.4 L645.0,680.2 L646.8,681.0 L648.5,681.8 L650.2,682.6 L652.0,683.3 L653.7,683.9 L655.4,684.6 L657.2,685.1 L658.9,685.7 L660.6,686.1 L662.4,686.5 L664.1,686.9 L665.9,687.2 L667.6,687.4 L669.3,687.6 L671.1,687.7 L672.8,687.7 L672.8,684.6 L671.1,684.6 L669.3,684.5 L667.6,684.3 L665.9,684.1 L664.1,683.9 L662.4,683.6 L660.6,683.2 L658.9,682.8 L657.2,682.3 L655.4,681.7 L653.7,681.1 L652.0,680.4 L650.2,679.7 L648.5,678.9 L646.8,678.1 L645.0,677.1 L643.3,676.2 L641.5,675.1 L639.8,674.0 L638.1,672.8 L636.3,671.6 L634.6,669.7 L632.9,665.5 L631.1,665.5 L629.4,669.1 L627.7,669.8 L625.9,669.8 L624.2,669.6 L622.5,669.4 L620.7,669.2 L619.0,668.9 L617.2,668.6 L615.5,668.0 L613.8,667.2 L612.0,666.5 L610.3,665.9 L608.6,665.7 L606.8,666.1 L605.1,667.8 L603.4,670.7 L601.6,674.6 L599.9,685.9 L598.1,701.7 L596.4,710.2 L594.7,715.0 L592.9,715.9 L591.2,716.1Z" fill="#f6aaaa" fill-opacity="0.6" stroke="none"/>
<path d="M591.2,718.3 L592.9,717.6 L594.7,716.1 L596.4,710.2 L598.1,700.6 L599.9,685.3 L601.6,674.6 L603.4,671.0 L605.1,669.9 L606.8,670.3 L608.6,671.3 L610.3,672.6 L612.0,674.2 L613.8,675.8 L615.5,677.4 L617.2,678.7 L619.0,679.6 L620.7,680.4 L622.5,681.2 L624.2,681.9 L625.9,682.6 L627.7,683.2 L629.4,683.9 L631.1,684.5 L632.9,685.0 L634.6,685.6 L636.3,686.1 L638.1,686.6 L639.8,687.1 L641.5,687.6 L643.3,688.0 L645.0,688.5 L646.8,688.9 L648.5,689.4 L650.2,689.8 L652.0,690.2 L653.7,690.6 L655.4,691.0 L657.2,691.4 L658.9,691.7 L660.6,692.1 L662.4,692.4 L664.1,692.7 L665.9,693.0 L667.6,693.3 L669.3,693.6 L671.1,693.8 L672.8,694.1 L672.8,690.9 L671.1,690.6 L669.3,690.3 L667.6,689.9 L665.9,689.6 L664.1,689.2 L662.4,688.8 L660.6,688.4 L658.9,688.0 L657.2,687.6 L655.4,687.1 L653.7,686.7 L652.0,686.2 L650.2,685.8 L648.5,685.3 L646.8,684.8 L645.0,684.3 L643.3,683.8 L641.5,683.3 L639.8,682.8 L638.1,682.3 L636.3,681.8 L634.6,681.3 L632.9,680.7 L631.1,680.2 L629.4,679.6 L627.7,679.0 L625.9,678.3 L624.2,677.7 L622.5,677.0 L620.7,676.2 L619.0,675.4 L617.2,674.5 L615.5,673.1 L613.8,671.6 L612.0,670.0 L610.3,668.4 L608.6,667.1 L606.8,666.1 L605.1,665.7 L603.4,666.5 L601.6,669.4 L599.9,679.6 L598.1,695.2 L596.4,706.6 L594.7,714.0 L592.9,715.5 L591.2,716.1Z" fill="#a6eea6" fill-opacity="0.6" stroke="none"/>
<path d="M591.2,719.3 L592.9,719.0 L594.7,718.2 L596.4,713.7 L598.1,706.0 L599.9,693.3 L601.6,682.7 L603.4,676.6 L605.1,671.5 L606.8,668.1 L608.6,667.2 L610.3,667.2 L612.0,667.2 L613.8,667.2 L615.5,667.2 L617.2,667.2 L619.0,667.2 L620.7,667.3 L622.5,667.3 L624.2,667.4 L625.9,667.4 L627.7,667.5 L629.4,667.6 L631.1,667.7 L632.9,667.8 L634.6,667.9 L636.3,668.1 L638.1,668.3 L639.8,668.5 L641.5,668.7 L643.3,669.0 L645.0,669.2 L646.8,669.5 L648.5,669.9 L650.2,670.2 L652.0,670.6 L653.7,671.1 L655.4,671.5 L657.2,672.0 L658.9,672.4 L660.6,672.9 L662.4,673.3 L664.1,673.8 L665.9,674.2 L667.6,674.7 L669.3,675.2 L671.1,675.7 L672.8,676.2" fill="none" stroke="#6b8cf2" stroke-width="0.6"/>
<path d="M591.2,717.2 L592.9,716.6 L594.7,715.0 L596.4,708.2 L598.1,697.3 L599.9,681.7 L601.6,671.5 L603.4,668.6 L605.1,667.8 L606.8,668.2 L608.6,669.2 L610.3,670.5 L612.0,672.1 L613.8,673.7 L615.5,675.3 L617.2,676.6 L619.0,677.5 L620.7,678.3 L622.5,679.1 L624.2,679.8 L625.9,680.5 L627.7,681.1 L629.4,681.7 L631.1,682.3 L632.9,682.9 L634.6,683.4 L636.3,684.0 L638.1,684.5 L639.8,685.0 L641.5,685.5 L643.3,685.9 L645.0,686.4 L646.8,686.9 L648.5,687.3 L650.2,687.8 L652.0,688.2 L653.7,688.6 L655.4,689.1 L657.2,689.5 L658.9,689.9 L660.6,690.2 L662.4,690.6 L664.1,691.0 L665.9,691.3 L667.6,691.6 L669.3,691.9 L671.1,692.2 L672.8,692.5" fill="none" stroke="#74e274" stroke-width="0.6"/>
<path d="M591.2,717.2 L592.9,716.9 L594.7,716.1 L596.4,711.7 L598.1,703.8 L599.9,688.1 L601.6,676.7 L603.4,672.8 L605.1,669.9 L606.8,668.2 L608.6,667.8 L610.3,668.0 L612.0,668.4 L613.8,669.0 L615.5,669.6 L617.2,670.1 L619.0,670.5 L620.7,670.9 L622.5,671.2 L624.2,671.5 L625.9,671.8 L627.7,671.9 L629.4,671.4 L631.1,668.4 L632.9,668.5 L634.6,672.0 L636.3,673.7 L638.1,674.8 L639.8,675.9 L641.5,676.9 L643.3,677.9 L645.0,678.9 L646.8,679.7 L648.5,680.6 L650.2,681.3 L652.0,682.0 L653.7,682.7 L655.4,683.3 L657.2,683.8 L658.9,684.3 L660.6,684.8 L662.4,685.1 L664.1,685.4 L665.9,685.7 L667.6,685.9 L669.3,686.1 L671.1,686.1 L672.8,686.2" fill="none" stroke="#f27878" stroke-width="0.6"/>
<path d="M591.2,717.2 L592.9,716.5 L594.7,715.0 L596.4,711.8 L598.1,706.1 L599.9,692.1 L601.6,679.4 L603.4,673.1 L605.1,669.4 L606.8,667.4 L608.6,666.7 L610.3,667.0 L612.0,667.3 L613.8,667.8 L615.5,668.3 L617.2,668.9 L619.0,669.5 L620.7,670.2 L622.5,670.9 L624.2,671.6 L625.9,672.2 L627.7,672.9 L629.4,673.5 L631.1,674.2 L632.9,674.8 L634.6,675.5 L636.3,676.2 L638.1,676.8 L639.8,677.4 L641.5,678.1 L643.3,678.6 L645.0,679.2 L646.8,679.8 L648.5,680.3 L650.2,680.9 L652.0,681.4 L653.7,681.9 L655.4,682.4 L657.2,682.9 L658.9,683.5 L660.6,684.0 L662.4,684.4 L664.1,684.9 L665.9,685.4 L667.6,685.9 L669.3,686.3 L671.1,686.8 L672.8,687.2" fill="none" stroke="#1ecf1e" stroke-width="1.45" stroke-dasharray="3.8,1.6"/>
<path d="M591.2,720.4 L592.9,719.7 L594.7,718.2 L596.4,714.4 L598.1,708.2 L599.9,695.7 L601.6,684.8 L603.4,678.9 L605.1,675.9 L606.8,674.5 L608.6,674.1 L610.3,674.6 L612.0,675.3 L613.8,676.0 L615.5,676.9 L617.2,677.9 L619.0,678.8 L620.7,679.8 L622.5,680.7 L624.2,681.5 L625.9,682.2 L627.7,682.9 L629.4,683.5 L631.1,684.1 L632.9,684.6 L634.6,685.1 L636.3,685.6 L638.1,686.1 L639.8,686.6 L641.5,687.1 L643.3,687.5 L645.0,687.9 L646.8,688.3 L648.5,688.7 L650.2,689.0 L652.0,689.4 L653.7,689.7 L655.4,690.1 L657.2,690.5 L658.9,690.8 L660.6,691.2 L662.4,691.6 L664.1,692.0 L665.9,692.4 L667.6,692.8 L669.3,693.2 L671.1,693.6 L672.8,694.1" fill="none" stroke="#1c3ff0" stroke-width="1.45" stroke-dasharray="3.8,1.6"/>
<path d="M591.2,718.3 L592.9,717.6 L594.7,716.1 L596.4,712.4 L598.1,706.0 L599.9,692.6 L601.6,680.5 L603.4,674.1 L605.1,670.5 L606.8,668.4 L608.6,667.8 L610.3,668.0 L612.0,668.4 L613.8,668.8 L615.5,669.3 L617.2,669.9 L619.0,670.6 L620.7,671.3 L622.5,672.0 L624.2,672.6 L625.9,673.3 L627.7,673.9 L629.4,674.6 L631.1,675.3 L632.9,675.9 L634.6,676.6 L636.3,677.3 L638.1,677.9 L639.8,678.5 L641.5,679.1 L643.3,679.7 L645.0,680.2 L646.8,680.7 L648.5,681.2 L650.2,681.7 L652.0,682.1 L653.7,682.6 L655.4,683.0 L657.2,683.5 L658.9,684.0 L660.6,684.5 L662.4,684.9 L664.1,685.4 L665.9,685.9 L667.6,686.3 L669.3,686.8 L671.1,687.3 L672.8,687.7" fill="none" stroke="#ec1e1e" stroke-width="1.45" stroke-dasharray="3.8,1.6"/>
</g>
<rect x="590.20" y="662.50" width="84.10" height="58.70" rx="0" fill="none" stroke="#9a9a9a" stroke-width="0.7"/>
</g>
<text x="589.00" y="717.20" font-size="6.2" font-weight="normal" text-anchor="end" fill="#222" dominant-baseline="central" stroke="#222" stroke-width="0.12">2</text>
<text x="589.00" y="706.68" font-size="6.2" font-weight="normal" text-anchor="end" fill="#222" dominant-baseline="central" stroke="#222" stroke-width="0.12">3</text>
<text x="589.00" y="696.16" font-size="6.2" font-weight="normal" text-anchor="end" fill="#222" dominant-baseline="central" stroke="#222" stroke-width="0.12">4</text>
<text x="589.00" y="685.64" font-size="6.2" font-weight="normal" text-anchor="end" fill="#222" dominant-baseline="central" stroke="#222" stroke-width="0.12">5</text>
<text x="589.00" y="675.12" font-size="6.2" font-weight="normal" text-anchor="end" fill="#222" dominant-baseline="central" stroke="#222" stroke-width="0.12">6</text>
<text x="589.00" y="664.60" font-size="6.2" font-weight="normal" text-anchor="end" fill="#222" dominant-baseline="central" stroke="#222" stroke-width="0.12">7</text>
<text x="591.20" y="726.30" font-size="6.2" font-weight="normal" text-anchor="middle" fill="#222" dominant-baseline="central" stroke="#222" stroke-width="0.12">0</text>
<text x="608.20" y="726.30" font-size="6.2" font-weight="normal" text-anchor="middle" fill="#222" dominant-baseline="central" stroke="#222" stroke-width="0.12">25</text>
<text x="625.20" y="726.30" font-size="6.2" font-weight="normal" text-anchor="middle" fill="#222" dominant-baseline="central" stroke="#222" stroke-width="0.12">50</text>
<text x="642.20" y="726.30" font-size="6.2" font-weight="normal" text-anchor="middle" fill="#222" dominant-baseline="central" stroke="#222" stroke-width="0.12">75</text>
<text x="659.20" y="726.30" font-size="6.2" font-weight="normal" text-anchor="middle" fill="#222" dominant-baseline="central" stroke="#222" stroke-width="0.12">100</text>
<text x="633.00" y="658.10" font-size="7.3" font-weight="bold" text-anchor="middle" fill="#111" dominant-baseline="central" stroke="#111" stroke-width="0.12">acetate</text>
<text x="579.00" y="689.50" font-size="7.8" font-weight="bold" text-anchor="middle" fill="#111" dominant-baseline="central" transform="rotate(-90 579.00 689.50)" stroke="#111" stroke-width="0.12">mM</text>
<g>
<rect x="479.20" y="746.70" width="84.90" height="60.50" rx="0" fill="#fff" stroke="none" stroke-width="1"/>
<path d="M481.9,746.7 L481.9,807.2" fill="none" stroke="#ececec" stroke-width="0.5"/>
<path d="M498.7,746.7 L498.7,807.2" fill="none" stroke="#ececec" stroke-width="0.5"/>
<path d="M515.5,746.7 L515.5,807.2" fill="none" stroke="#ececec" stroke-width="0.5"/>
<path d="M532.2,746.7 L532.2,807.2" fill="none" stroke="#ececec" stroke-width="0.5"/>
<path d="M549.0,746.7 L549.0,807.2" fill="none" stroke="#ececec" stroke-width="0.5"/>
<path d="M490.3,746.7 L490.3,807.2" fill="none" stroke="#f5f5f5" stroke-width="0.4"/>
<path d="M507.1,746.7 L507.1,807.2" fill="none" stroke="#f5f5f5" stroke-width="0.4"/>
<path d="M523.8,746.7 L523.8,807.2" fill="none" stroke="#f5f5f5" stroke-width="0.4"/>
<path d="M540.6,746.7 L540.6,807.2" fill="none" stroke="#f5f5f5" stroke-width="0.4"/>
<path d="M557.4,746.7 L557.4,807.2" fill="none" stroke="#f5f5f5" stroke-width="0.4"/>
<path d="M479.2,804.8 L564.1,804.8" fill="none" stroke="#ececec" stroke-width="0.5"/>
<path d="M479.2,792.4 L564.1,792.4" fill="none" stroke="#ececec" stroke-width="0.5"/>
<path d="M479.2,780.0 L564.1,780.0" fill="none" stroke="#ececec" stroke-width="0.5"/>
<path d="M479.2,767.5 L564.1,767.5" fill="none" stroke="#ececec" stroke-width="0.5"/>
<path d="M479.2,755.1 L564.1,755.1" fill="none" stroke="#ececec" stroke-width="0.5"/>
<clipPath id="f5"><rect x="479.2" y="746.7" width="84.90000000000003" height="60.5"/></clipPath>
<g clip-path="url(#f5)">
<path d="M481.9,758.2 L483.6,758.4 L485.3,758.9 L487.0,764.4 L488.8,774.7 L490.5,791.2 L492.2,802.6 L493.9,803.6 L495.6,803.6 L497.3,803.7 L499.0,803.7 L500.7,803.7 L502.5,803.8 L504.2,803.8 L505.9,803.8 L507.6,803.9 L509.3,803.9 L511.0,803.9 L512.7,803.9 L514.5,804.0 L516.2,804.0 L517.9,804.0 L519.6,804.0 L521.3,804.0 L523.0,804.1 L524.7,804.1 L526.4,804.1 L528.2,804.1 L529.9,804.1 L531.6,804.1 L533.3,804.1 L535.0,804.1 L536.7,804.1 L538.4,804.1 L540.1,804.2 L541.9,804.2 L543.6,804.2 L545.3,804.2 L547.0,804.2 L548.7,804.2 L550.4,804.2 L552.1,804.2 L553.9,804.2 L555.6,804.2 L557.3,804.2 L559.0,804.2 L560.7,804.2 L562.4,804.2" fill="none" stroke="#6b8cf2" stroke-width="0.6"/>
<path d="M481.9,748.9 L483.6,749.1 L485.3,749.6 L487.0,750.6 L488.8,760.5 L490.5,780.2 L492.2,799.6 L493.9,804.8 L495.6,804.8 L497.3,804.8 L499.0,804.8 L500.7,804.8 L502.5,804.8 L504.2,804.8 L505.9,804.8 L507.6,804.8 L509.3,804.8 L511.0,804.8 L512.7,804.8 L514.5,804.8 L516.2,804.8 L517.9,804.8 L519.6,804.8 L521.3,804.8 L523.0,804.8 L524.7,804.8 L526.4,804.8 L528.2,804.8 L529.9,804.8 L531.6,804.8 L533.3,804.8 L535.0,804.8 L536.7,804.8 L538.4,804.8 L540.1,804.8 L541.9,804.8 L543.6,804.8 L545.3,804.8 L547.0,804.8 L548.7,804.8 L550.4,804.8 L552.1,804.8 L553.9,804.8 L555.6,804.8 L557.3,804.8 L559.0,804.8 L560.7,804.8 L562.4,804.8" fill="none" stroke="#74e274" stroke-width="0.6"/>
<path d="M481.9,749.5 L483.6,749.7 L485.3,750.2 L487.0,751.2 L488.8,758.5 L490.5,771.4 L492.2,787.5 L493.9,798.4 L495.6,801.3 L497.3,803.1 L499.0,803.6 L500.7,803.5 L502.5,803.5 L504.2,803.5 L505.9,803.4 L507.6,803.4 L509.3,803.3 L511.0,803.2 L512.7,803.2 L514.5,803.1 L516.2,803.0 L517.9,803.0 L519.6,803.0 L521.3,802.9 L523.0,802.9 L524.7,802.9 L526.4,802.9 L528.2,802.9 L529.9,802.9 L531.6,803.0 L533.3,803.0 L535.0,803.0 L536.7,803.0 L538.4,803.0 L540.1,803.0 L541.9,803.0 L543.6,803.1 L545.3,803.1 L547.0,803.1 L548.7,803.1 L550.4,803.2 L552.1,803.2 L553.9,803.3 L555.6,803.3 L557.3,803.4 L559.0,803.4 L560.7,803.5 L562.4,803.6" fill="none" stroke="#f27878" stroke-width="0.6"/>
<path d="M481.9,748.9 L483.6,749.2 L485.3,750.2 L487.0,755.8 L488.8,765.2 L490.5,778.6 L492.2,790.3 L493.9,798.0 L495.6,802.0 L497.3,803.7 L499.0,804.2 L500.7,804.2 L502.5,804.2 L504.2,804.2 L505.9,804.2 L507.6,804.2 L509.3,804.2 L511.0,804.2 L512.7,804.2 L514.5,804.2 L516.2,804.2 L517.9,804.2 L519.6,804.2 L521.3,804.2 L523.0,804.2 L524.7,804.2 L526.4,804.2 L528.2,804.2 L529.9,804.2 L531.6,804.2 L533.3,804.2 L535.0,804.2 L536.7,804.2 L538.4,804.2 L540.1,804.2 L541.9,804.2 L543.6,804.2 L545.3,804.2 L547.0,804.2 L548.7,804.2 L550.4,804.2 L552.1,804.2 L553.9,804.2 L555.6,804.2 L557.3,804.2 L559.0,804.2 L560.7,804.2 L562.4,804.2" fill="none" stroke="#1ecf1e" stroke-width="1.45" stroke-dasharray="3.8,1.6"/>
<path d="M481.9,758.2 L483.6,758.4 L485.3,758.9 L487.0,764.8 L488.8,774.5 L490.5,786.1 L492.2,796.6 L493.9,803.5 L495.6,804.3 L497.3,804.5 L499.0,804.5 L500.7,804.5 L502.5,804.5 L504.2,804.5 L505.9,804.5 L507.6,804.5 L509.3,804.5 L511.0,804.5 L512.7,804.5 L514.5,804.5 L516.2,804.5 L517.9,804.5 L519.6,804.5 L521.3,804.5 L523.0,804.5 L524.7,804.5 L526.4,804.5 L528.2,804.5 L529.9,804.5 L531.6,804.5 L533.3,804.5 L535.0,804.5 L536.7,804.5 L538.4,804.5 L540.1,804.5 L541.9,804.5 L543.6,804.5 L545.3,804.5 L547.0,804.5 L548.7,804.5 L550.4,804.5 L552.1,804.5 L553.9,804.5 L555.6,804.5 L557.3,804.5 L559.0,804.5 L560.7,804.5 L562.4,804.5" fill="none" stroke="#1c3ff0" stroke-width="1.45" stroke-dasharray="3.8,1.6"/>
<path d="M481.9,748.9 L483.6,749.2 L485.3,750.2 L487.0,757.2 L488.8,768.4 L490.5,782.3 L492.2,793.2 L493.9,798.9 L495.6,802.0 L497.3,803.7 L499.0,804.2 L500.7,804.2 L502.5,804.2 L504.2,804.2 L505.9,804.2 L507.6,804.2 L509.3,804.2 L511.0,804.2 L512.7,804.2 L514.5,804.2 L516.2,804.2 L517.9,804.2 L519.6,804.2 L521.3,804.2 L523.0,804.2 L524.7,804.2 L526.4,804.2 L528.2,804.2 L529.9,804.2 L531.6,804.2 L533.3,804.2 L535.0,804.2 L536.7,804.2 L538.4,804.2 L540.1,804.2 L541.9,804.2 L543.6,804.2 L545.3,804.2 L547.0,804.2 L548.7,804.2 L550.4,804.2 L552.1,804.2 L553.9,804.2 L555.6,804.2 L557.3,804.2 L559.0,804.2 L560.7,804.2 L562.4,804.2" fill="none" stroke="#ec1e1e" stroke-width="1.45" stroke-dasharray="3.8,1.6"/>
</g>
<rect x="479.20" y="746.70" width="84.90" height="60.50" rx="0" fill="none" stroke="#9a9a9a" stroke-width="0.7"/>
</g>
<text x="478.00" y="804.80" font-size="6.2" font-weight="normal" text-anchor="end" fill="#222" dominant-baseline="central" stroke="#222" stroke-width="0.12">0</text>
<text x="478.00" y="792.38" font-size="6.2" font-weight="normal" text-anchor="end" fill="#222" dominant-baseline="central" stroke="#222" stroke-width="0.12">2</text>
<text x="478.00" y="779.95" font-size="6.2" font-weight="normal" text-anchor="end" fill="#222" dominant-baseline="central" stroke="#222" stroke-width="0.12">4</text>
<text x="478.00" y="767.52" font-size="6.2" font-weight="normal" text-anchor="end" fill="#222" dominant-baseline="central" stroke="#222" stroke-width="0.12">6</text>
<text x="478.00" y="755.10" font-size="6.2" font-weight="normal" text-anchor="end" fill="#222" dominant-baseline="central" stroke="#222" stroke-width="0.12">8</text>
<text x="481.90" y="811.20" font-size="6.2" font-weight="normal" text-anchor="middle" fill="#222" dominant-baseline="central" stroke="#222" stroke-width="0.12">0</text>
<text x="498.67" y="811.20" font-size="6.2" font-weight="normal" text-anchor="middle" fill="#222" dominant-baseline="central" stroke="#222" stroke-width="0.12">25</text>
<text x="515.45" y="811.20" font-size="6.2" font-weight="normal" text-anchor="middle" fill="#222" dominant-baseline="central" stroke="#222" stroke-width="0.12">50</text>
<text x="532.23" y="811.20" font-size="6.2" font-weight="normal" text-anchor="middle" fill="#222" dominant-baseline="central" stroke="#222" stroke-width="0.12">75</text>
<text x="549.00" y="811.20" font-size="6.2" font-weight="normal" text-anchor="middle" fill="#222" dominant-baseline="central" stroke="#222" stroke-width="0.12">100</text>
<text x="523.80" y="742.70" font-size="7.3" font-weight="bold" text-anchor="middle" fill="#111" dominant-baseline="central" stroke="#111" stroke-width="0.12">glucose</text>
<text x="471.80" y="779.30" font-size="7.8" font-weight="bold" text-anchor="middle" fill="#111" dominant-baseline="central" transform="rotate(-90 471.80 779.30)" stroke="#111" stroke-width="0.12">mM</text>
<g>
<rect x="590.10" y="747.20" width="84.20" height="59.10" rx="0" fill="#fff" stroke="none" stroke-width="1"/>
<path d="M591.2,747.2 L591.2,806.3" fill="none" stroke="#ececec" stroke-width="0.5"/>
<path d="M608.2,747.2 L608.2,806.3" fill="none" stroke="#ececec" stroke-width="0.5"/>
<path d="M625.2,747.2 L625.2,806.3" fill="none" stroke="#ececec" stroke-width="0.5"/>
<path d="M642.2,747.2 L642.2,806.3" fill="none" stroke="#ececec" stroke-width="0.5"/>
<path d="M659.2,747.2 L659.2,806.3" fill="none" stroke="#ececec" stroke-width="0.5"/>
<path d="M599.7,747.2 L599.7,806.3" fill="none" stroke="#f5f5f5" stroke-width="0.4"/>
<path d="M616.7,747.2 L616.7,806.3" fill="none" stroke="#f5f5f5" stroke-width="0.4"/>
<path d="M633.7,747.2 L633.7,806.3" fill="none" stroke="#f5f5f5" stroke-width="0.4"/>
<path d="M650.7,747.2 L650.7,806.3" fill="none" stroke="#f5f5f5" stroke-width="0.4"/>
<path d="M667.7,747.2 L667.7,806.3" fill="none" stroke="#f5f5f5" stroke-width="0.4"/>
<path d="M590.1,793.0 L674.3,793.0" fill="none" stroke="#ececec" stroke-width="0.5"/>
<path d="M590.1,777.4 L674.3,777.4" fill="none" stroke="#ececec" stroke-width="0.5"/>
<path d="M590.1,761.7 L674.3,761.7" fill="none" stroke="#ececec" stroke-width="0.5"/>
<clipPath id="f6"><rect x="590.1" y="747.2" width="84.19999999999993" height="59.09999999999991"/></clipPath>
<g clip-path="url(#f6)">
<path d="M591.2,805.5 L592.9,805.4 L594.7,805.2 L596.4,804.8 L598.1,799.5 L599.9,785.8 L601.6,767.6 L603.4,765.6 L605.1,764.4 L606.8,763.6 L608.6,763.2 L610.3,762.8 L612.0,762.6 L613.8,762.4 L615.5,762.2 L617.2,761.9 L619.0,761.6 L620.7,761.2 L622.5,760.8 L624.2,760.3 L625.9,759.7 L627.7,759.0 L629.4,757.9 L631.1,755.9 L632.9,756.2 L634.6,759.4 L636.3,760.3 L638.1,760.5 L639.8,760.8 L641.5,760.9 L643.3,761.1 L645.0,761.3 L646.8,761.4 L648.5,761.5 L650.2,761.5 L652.0,761.6 L653.7,761.6 L655.4,761.7 L657.2,761.7 L658.9,761.7 L660.6,761.7 L662.4,761.6 L664.1,761.4 L665.9,761.2 L667.6,761.0 L669.3,760.7 L671.1,760.4 L672.8,760.1 L672.8,757.0 L671.1,757.3 L669.3,757.6 L667.6,757.9 L665.9,758.1 L664.1,758.3 L662.4,758.5 L660.6,758.5 L658.9,758.6 L657.2,758.6 L655.4,758.5 L653.7,758.5 L652.0,758.5 L650.2,758.4 L648.5,758.3 L646.8,758.3 L645.0,758.1 L643.3,758.0 L641.5,757.8 L639.8,757.6 L638.1,757.4 L636.3,757.2 L634.6,755.8 L632.9,750.4 L631.1,750.1 L629.4,754.3 L627.7,756.0 L625.9,756.7 L624.2,757.3 L622.5,757.7 L620.7,758.0 L619.0,758.4 L617.2,758.9 L615.5,759.2 L613.8,759.6 L612.0,759.9 L610.3,760.3 L608.6,760.8 L606.8,761.3 L605.1,761.9 L603.4,762.9 L601.6,764.6 L599.9,782.4 L598.1,797.3 L596.4,803.2 L594.7,803.7 L592.9,803.9 L591.2,804.0Z" fill="#f6aaaa" fill-opacity="0.6" stroke="none"/>
<path d="M591.2,799.3 L592.9,799.2 L594.7,799.0 L596.4,796.0 L598.1,787.7 L599.9,778.9 L601.6,774.1 L603.4,773.4 L605.1,773.0 L606.8,772.7 L608.6,772.7 L610.3,772.7 L612.0,772.9 L613.8,773.0 L615.5,773.3 L617.2,773.5 L619.0,773.7 L620.7,774.0 L622.5,774.1 L624.2,774.2 L625.9,774.2 L627.7,774.2 L629.4,774.1 L631.1,773.9 L632.9,773.7 L634.6,773.5 L636.3,773.3 L638.1,773.1 L639.8,772.9 L641.5,772.7 L643.3,772.6 L645.0,772.4 L646.8,772.2 L648.5,772.0 L650.2,771.9 L652.0,771.7 L653.7,771.5 L655.4,771.4 L657.2,771.2 L658.9,771.1 L660.6,771.0 L662.4,770.9 L664.1,770.8 L665.9,770.7 L667.6,770.6 L669.3,770.5 L671.1,770.4 L672.8,770.3 L672.8,766.4 L671.1,766.0 L669.3,765.6 L667.6,765.3 L665.9,765.1 L664.1,765.0 L662.4,764.9 L660.6,764.8 L658.9,764.8 L657.2,765.0 L655.4,765.2 L653.7,765.6 L652.0,766.1 L650.2,766.7 L648.5,767.2 L646.8,767.7 L645.0,768.2 L643.3,768.6 L641.5,768.8 L639.8,769.1 L638.1,769.3 L636.3,769.5 L634.6,769.7 L632.9,769.9 L631.1,770.0 L629.4,770.2 L627.7,770.3 L625.9,770.3 L624.2,770.3 L622.5,770.3 L620.7,770.2 L619.0,770.1 L617.2,770.0 L615.5,769.8 L613.8,769.7 L612.0,769.6 L610.3,769.6 L608.6,769.5 L606.8,769.6 L605.1,769.8 L603.4,770.3 L601.6,771.0 L599.9,775.6 L598.1,784.5 L596.4,794.4 L594.7,798.1 L592.9,798.3 L591.2,798.3Z" fill="#a6eea6" fill-opacity="0.6" stroke="none"/>
<path d="M591.2,803.6 L592.9,803.6 L594.7,803.3 L596.4,800.9 L598.1,794.0 L599.9,784.8 L601.6,778.6 L603.4,776.5 L605.1,775.8 L606.8,777.2 L608.6,779.8 L610.3,783.0 L612.0,785.8 L613.8,788.9 L615.5,792.0 L617.2,794.8 L619.0,796.7 L620.7,798.1 L622.5,799.2 L624.2,800.3 L625.9,801.2 L627.7,802.3 L629.4,803.2 L631.1,803.8 L632.9,804.0 L634.6,804.2 L636.3,804.3 L638.1,804.4 L639.8,804.6 L641.5,804.7 L643.3,804.8 L645.0,804.9 L646.8,805.0 L648.5,805.0 L650.2,805.1 L652.0,805.2 L653.7,805.2 L655.4,805.3 L657.2,805.3 L658.9,805.4 L660.6,805.4 L662.4,805.4 L664.1,805.5 L665.9,805.5 L667.6,805.5 L669.3,805.5 L671.1,805.5 L672.8,805.5 L672.8,804.0 L671.1,804.0 L669.3,803.9 L667.6,803.9 L665.9,803.9 L664.1,803.9 L662.4,803.9 L660.6,803.9 L658.9,803.8 L657.2,803.8 L655.4,803.7 L653.7,803.7 L652.0,803.6 L650.2,803.6 L648.5,803.5 L646.8,803.4 L645.0,803.3 L643.3,803.2 L641.5,803.1 L639.8,803.0 L638.1,802.9 L636.3,802.8 L634.6,802.6 L632.9,802.5 L631.1,802.2 L629.4,801.3 L627.7,799.9 L625.9,798.3 L624.2,796.8 L622.5,795.0 L620.7,793.0 L619.0,790.7 L617.2,787.9 L615.5,784.4 L613.8,780.7 L612.0,777.8 L610.3,776.0 L608.6,774.4 L606.8,773.2 L605.1,772.7 L603.4,773.0 L601.6,774.0 L599.9,780.2 L598.1,790.8 L596.4,799.2 L594.7,802.3 L592.9,802.6 L591.2,802.7Z" fill="#a6b9f6" fill-opacity="0.6" stroke="none"/>
<path d="M591.2,804.7 L592.9,804.7 L594.7,804.4 L596.4,804.0 L598.1,798.4 L599.9,784.1 L601.6,766.1 L603.4,764.0 L605.1,762.8 L606.8,762.1 L608.6,761.6 L610.3,761.3 L612.0,761.0 L613.8,760.8 L615.5,760.6 L617.2,760.3 L619.0,760.0 L620.7,759.7 L622.5,759.3 L624.2,758.8 L625.9,758.3 L627.7,757.5 L629.4,756.1 L631.1,753.0 L632.9,753.3 L634.6,757.6 L636.3,758.7 L638.1,759.0 L639.8,759.2 L641.5,759.4 L643.3,759.6 L645.0,759.7 L646.8,759.8 L648.5,759.9 L650.2,760.0 L652.0,760.0 L653.7,760.1 L655.4,760.1 L657.2,760.1 L658.9,760.1 L660.6,760.1 L662.4,760.0 L664.1,759.9 L665.9,759.7 L667.6,759.4 L669.3,759.2 L671.1,758.9 L672.8,758.6" fill="none" stroke="#f27878" stroke-width="0.6"/>
<path d="M591.2,798.9 L592.9,798.9 L594.7,798.6 L596.4,795.2 L598.1,786.1 L599.9,777.2 L601.6,772.6 L603.4,771.9 L605.1,771.4 L606.8,771.1 L608.6,771.1 L610.3,771.2 L612.0,771.3 L613.8,771.5 L615.5,771.7 L617.2,771.9 L619.0,772.2 L620.7,772.4 L622.5,772.5 L624.2,772.6 L625.9,772.7 L627.7,772.6 L629.4,772.5 L631.1,772.4 L632.9,772.2 L634.6,772.0 L636.3,771.8 L638.1,771.6 L639.8,771.4 L641.5,771.2 L643.3,770.9 L645.0,770.6 L646.8,770.2 L648.5,769.8 L650.2,769.4 L652.0,769.0 L653.7,768.6 L655.4,768.3 L657.2,768.1 L658.9,768.0 L660.6,768.0 L662.4,768.0 L664.1,768.0 L665.9,768.0 L667.6,768.0 L669.3,768.0 L671.1,768.0 L672.8,768.0" fill="none" stroke="#74e274" stroke-width="0.6"/>
<path d="M591.2,803.2 L592.9,803.0 L594.7,802.6 L596.4,799.8 L598.1,792.4 L599.9,782.5 L601.6,776.3 L603.4,774.7 L605.1,774.2 L606.8,775.2 L608.6,777.1 L610.3,779.5 L612.0,781.9 L613.8,784.8 L615.5,788.2 L617.2,791.4 L619.0,793.7 L620.7,795.5 L622.5,797.1 L624.2,798.5 L625.9,799.8 L627.7,801.1 L629.4,802.2 L631.1,803.0 L632.9,803.3 L634.6,803.4 L636.3,803.5 L638.1,803.7 L639.8,803.8 L641.5,803.9 L643.3,804.0 L645.0,804.1 L646.8,804.2 L648.5,804.3 L650.2,804.3 L652.0,804.4 L653.7,804.5 L655.4,804.5 L657.2,804.6 L658.9,804.6 L660.6,804.6 L662.4,804.7 L664.1,804.7 L665.9,804.7 L667.6,804.7 L669.3,804.7 L671.1,804.7 L672.8,804.7" fill="none" stroke="#6b8cf2" stroke-width="0.6"/>
<path d="M591.2,799.3 L592.9,799.2 L594.7,798.9 L596.4,796.6 L598.1,790.0 L599.9,780.9 L601.6,773.9 L603.4,771.9 L605.1,771.0 L606.8,770.5 L608.6,770.3 L610.3,770.4 L612.0,770.7 L613.8,771.0 L615.5,771.5 L617.2,772.0 L619.0,772.5 L620.7,773.0 L622.5,773.5 L624.2,774.0 L625.9,774.4 L627.7,774.7 L629.4,775.1 L631.1,775.4 L632.9,775.7 L634.6,776.0 L636.3,776.3 L638.1,776.6 L639.8,776.9 L641.5,777.2 L643.3,777.5 L645.0,777.8 L646.8,778.1 L648.5,778.4 L650.2,778.8 L652.0,779.1 L653.7,779.4 L655.4,779.7 L657.2,780.1 L658.9,780.4 L660.6,780.8 L662.4,781.2 L664.1,781.6 L665.9,782.0 L667.6,782.4 L669.3,782.8 L671.1,783.2 L672.8,783.6" fill="none" stroke="#1ecf1e" stroke-width="1.45" stroke-dasharray="3.8,1.6"/>
<path d="M591.2,804.7 L592.9,804.7 L594.7,804.5 L596.4,802.3 L598.1,795.9 L599.9,787.4 L601.6,780.9 L603.4,777.4 L605.1,776.0 L606.8,775.3 L608.6,775.0 L610.3,775.1 L612.0,775.4 L613.8,775.8 L615.5,776.2 L617.2,776.7 L619.0,777.2 L620.7,777.8 L622.5,778.3 L624.2,778.7 L625.9,779.1 L627.7,779.4 L629.4,779.7 L631.1,780.0 L632.9,780.3 L634.6,780.6 L636.3,780.9 L638.1,781.1 L639.8,781.4 L641.5,781.7 L643.3,781.9 L645.0,782.2 L646.8,782.4 L648.5,782.7 L650.2,783.0 L652.0,783.2 L653.7,783.5 L655.4,783.8 L657.2,784.1 L658.9,784.3 L660.6,784.6 L662.4,784.9 L664.1,785.2 L665.9,785.5 L667.6,785.8 L669.3,786.1 L671.1,786.4 L672.8,786.7" fill="none" stroke="#ec1e1e" stroke-width="1.45" stroke-dasharray="3.8,1.6"/>
<path d="M591.2,803.2 L592.9,803.1 L594.7,802.8 L596.4,799.8 L598.1,794.2 L599.9,788.3 L601.6,783.3 L603.4,780.7 L605.1,779.6 L606.8,779.1 L608.6,778.9 L610.3,779.0 L612.0,779.1 L613.8,779.3 L615.5,779.6 L617.2,779.9 L619.0,780.2 L620.7,780.5 L622.5,780.8 L624.2,781.1 L625.9,781.4 L627.7,781.6 L629.4,781.8 L631.1,782.1 L632.9,782.3 L634.6,782.5 L636.3,782.8 L638.1,783.0 L639.8,783.2 L641.5,783.4 L643.3,783.7 L645.0,783.9 L646.8,784.2 L648.5,784.4 L650.2,784.6 L652.0,784.9 L653.7,785.1 L655.4,785.4 L657.2,785.6 L658.9,785.9 L660.6,786.2 L662.4,786.5 L664.1,786.8 L665.9,787.1 L667.6,787.4 L669.3,787.7 L671.1,788.0 L672.8,788.3" fill="none" stroke="#1c3ff0" stroke-width="1.45" stroke-dasharray="3.8,1.6"/>
</g>
<rect x="590.10" y="747.20" width="84.20" height="59.10" rx="0" fill="none" stroke="#9a9a9a" stroke-width="0.7"/>
</g>
<text x="588.90" y="793.00" font-size="6.2" font-weight="normal" text-anchor="end" fill="#222" dominant-baseline="central" stroke="#222" stroke-width="0.12">1</text>
<text x="588.90" y="777.35" font-size="6.2" font-weight="normal" text-anchor="end" fill="#222" dominant-baseline="central" stroke="#222" stroke-width="0.12">2</text>
<text x="588.90" y="761.70" font-size="6.2" font-weight="normal" text-anchor="end" fill="#222" dominant-baseline="central" stroke="#222" stroke-width="0.12">3</text>
<text x="591.20" y="811.20" font-size="6.2" font-weight="normal" text-anchor="middle" fill="#222" dominant-baseline="central" stroke="#222" stroke-width="0.12">0</text>
<text x="608.20" y="811.20" font-size="6.2" font-weight="normal" text-anchor="middle" fill="#222" dominant-baseline="central" stroke="#222" stroke-width="0.12">25</text>
<text x="625.20" y="811.20" font-size="6.2" font-weight="normal" text-anchor="middle" fill="#222" dominant-baseline="central" stroke="#222" stroke-width="0.12">50</text>
<text x="642.20" y="811.20" font-size="6.2" font-weight="normal" text-anchor="middle" fill="#222" dominant-baseline="central" stroke="#222" stroke-width="0.12">75</text>
<text x="659.20" y="811.20" font-size="6.2" font-weight="normal" text-anchor="middle" fill="#222" dominant-baseline="central" stroke="#222" stroke-width="0.12">100</text>
<text x="633.00" y="742.70" font-size="7.3" font-weight="bold" text-anchor="middle" fill="#111" dominant-baseline="central" stroke="#111" stroke-width="0.12">lactate</text>
<text x="579.00" y="779.30" font-size="7.8" font-weight="bold" text-anchor="middle" fill="#111" dominant-baseline="central" transform="rotate(-90 579.00 779.30)" stroke="#111" stroke-width="0.12">mM</text>
<g>
<rect x="483.60" y="826.00" width="81.90" height="59.30" rx="0" fill="#fff" stroke="none" stroke-width="1"/>
<path d="M485.7,826.0 L485.7,885.3" fill="none" stroke="#ececec" stroke-width="0.5"/>
<path d="M501.9,826.0 L501.9,885.3" fill="none" stroke="#ececec" stroke-width="0.5"/>
<path d="M518.2,826.0 L518.2,885.3" fill="none" stroke="#ececec" stroke-width="0.5"/>
<path d="M534.5,826.0 L534.5,885.3" fill="none" stroke="#ececec" stroke-width="0.5"/>
<path d="M550.7,826.0 L550.7,885.3" fill="none" stroke="#ececec" stroke-width="0.5"/>
<path d="M493.8,826.0 L493.8,885.3" fill="none" stroke="#f5f5f5" stroke-width="0.4"/>
<path d="M510.1,826.0 L510.1,885.3" fill="none" stroke="#f5f5f5" stroke-width="0.4"/>
<path d="M526.3,826.0 L526.3,885.3" fill="none" stroke="#f5f5f5" stroke-width="0.4"/>
<path d="M542.6,826.0 L542.6,885.3" fill="none" stroke="#f5f5f5" stroke-width="0.4"/>
<path d="M558.8,826.0 L558.8,885.3" fill="none" stroke="#f5f5f5" stroke-width="0.4"/>
<path d="M483.6,884.4 L565.5,884.4" fill="none" stroke="#ececec" stroke-width="0.5"/>
<path d="M483.6,874.4 L565.5,874.4" fill="none" stroke="#ececec" stroke-width="0.5"/>
<path d="M483.6,864.4 L565.5,864.4" fill="none" stroke="#ececec" stroke-width="0.5"/>
<path d="M483.6,854.5 L565.5,854.5" fill="none" stroke="#ececec" stroke-width="0.5"/>
<path d="M483.6,844.5 L565.5,844.5" fill="none" stroke="#ececec" stroke-width="0.5"/>
<path d="M483.6,834.5 L565.5,834.5" fill="none" stroke="#ececec" stroke-width="0.5"/>
<clipPath id="f7"><rect x="483.6" y="826.0" width="81.89999999999998" height="59.299999999999955"/></clipPath>
<g clip-path="url(#f7)">
<path d="M485.7,883.9 L487.4,883.3 L489.0,881.8 L490.7,869.6 L492.3,853.4 L494.0,840.0 L495.7,836.4 L497.3,835.6 L499.0,835.1 L500.6,834.7 L502.3,834.4 L504.0,834.2 L505.6,833.9 L507.3,833.7 L508.9,833.4 L510.6,833.3 L512.3,833.1 L513.9,832.9 L515.6,832.8 L517.2,832.6 L518.9,832.5 L520.6,832.3 L522.2,832.2 L523.9,832.1 L525.5,831.9 L527.2,831.8 L528.8,831.7 L530.5,831.5 L532.2,831.4 L533.8,831.3 L535.5,831.1 L537.1,831.0 L538.8,830.9 L540.5,830.8 L542.1,830.7 L543.8,830.6 L545.4,830.4 L547.1,830.3 L548.8,830.2 L550.4,830.1 L552.1,830.0 L553.7,830.0 L555.4,829.9 L557.1,829.8 L558.7,829.7 L560.4,829.6 L562.0,829.6 L563.7,829.5" fill="none" stroke="#74e274" stroke-width="0.6"/>
<path d="M485.7,883.9 L487.4,883.3 L489.0,881.8 L490.7,872.0 L492.3,858.5 L494.0,845.8 L495.7,839.4 L497.3,838.5 L499.0,838.0 L500.6,837.7 L502.3,837.4 L504.0,837.2 L505.6,837.0 L507.3,836.7 L508.9,836.5 L510.6,836.3 L512.3,836.0 L513.9,835.8 L515.6,835.6 L517.2,835.4 L518.9,835.2 L520.6,835.0 L522.2,834.8 L523.9,834.7 L525.5,834.5 L527.2,834.3 L528.8,834.2 L530.5,834.0 L532.2,833.9 L533.8,833.7 L535.5,833.6 L537.1,833.5 L538.8,833.4 L540.5,833.3 L542.1,833.2 L543.8,833.1 L545.4,833.0 L547.1,832.9 L548.8,832.8 L550.4,832.8 L552.1,832.7 L553.7,832.6 L555.4,832.6 L557.1,832.6 L558.7,832.5 L560.4,832.5 L562.0,832.5 L563.7,832.5" fill="none" stroke="#6b8cf2" stroke-width="0.6"/>
<path d="M485.7,883.9 L487.4,883.3 L489.0,881.8 L490.7,878.8 L492.3,874.0 L494.0,866.7 L495.7,858.4 L497.3,849.1 L499.0,844.3 L500.6,843.3 L502.3,842.6 L504.0,842.2 L505.6,841.9 L507.3,841.6 L508.9,841.3 L510.6,841.1 L512.3,840.8 L513.9,840.5 L515.6,840.3 L517.2,840.0 L518.9,839.8 L520.6,839.5 L522.2,839.3 L523.9,839.1 L525.5,838.9 L527.2,838.7 L528.8,838.5 L530.5,838.3 L532.2,838.2 L533.8,838.0 L535.5,837.8 L537.1,837.7 L538.8,837.5 L540.5,837.4 L542.1,837.3 L543.8,837.2 L545.4,837.1 L547.1,837.0 L548.8,836.9 L550.4,836.8 L552.1,836.7 L553.7,836.7 L555.4,836.6 L557.1,836.6 L558.7,836.5 L560.4,836.5 L562.0,836.5 L563.7,836.5" fill="none" stroke="#f27878" stroke-width="0.6"/>
<path d="M485.7,884.4 L487.4,883.7 L489.0,881.8 L490.7,869.3 L492.3,853.5 L494.0,843.3 L495.7,841.4 L497.3,840.6 L499.0,840.1 L500.6,839.7 L502.3,839.4 L504.0,839.1 L505.6,838.8 L507.3,838.6 L508.9,838.3 L510.6,838.0 L512.3,837.7 L513.9,837.5 L515.6,837.2 L517.2,836.9 L518.9,836.7 L520.6,836.4 L522.2,836.2 L523.9,836.0 L525.5,835.7 L527.2,835.5 L528.8,835.3 L530.5,835.1 L532.2,834.9 L533.8,834.7 L535.5,834.6 L537.1,834.4 L538.8,834.2 L540.5,834.1 L542.1,833.9 L543.8,833.8 L545.4,833.7 L547.1,833.6 L548.8,833.5 L550.4,833.4 L552.1,833.3 L553.7,833.2 L555.4,833.1 L557.1,833.1 L558.7,833.1 L560.4,833.0 L562.0,833.0 L563.7,833.0" fill="none" stroke="#1ecf1e" stroke-width="1.45" stroke-dasharray="3.8,1.6"/>
<path d="M485.7,884.4 L487.4,883.7 L489.0,881.8 L490.7,870.4 L492.3,856.1 L494.0,846.9 L495.7,844.3 L497.3,843.4 L499.0,842.9 L500.6,842.6 L502.3,842.3 L504.0,842.0 L505.6,841.7 L507.3,841.5 L508.9,841.2 L510.6,840.9 L512.3,840.7 L513.9,840.4 L515.6,840.2 L517.2,840.0 L518.9,839.8 L520.6,839.6 L522.2,839.4 L523.9,839.2 L525.5,839.0 L527.2,838.8 L528.8,838.6 L530.5,838.5 L532.2,838.3 L533.8,838.2 L535.5,838.1 L537.1,837.9 L538.8,837.8 L540.5,837.7 L542.1,837.6 L543.8,837.5 L545.4,837.4 L547.1,837.4 L548.8,837.3 L550.4,837.2 L552.1,837.2 L553.7,837.1 L555.4,837.1 L557.1,837.1 L558.7,837.0 L560.4,837.0 L562.0,837.0 L563.7,837.0" fill="none" stroke="#ec1e1e" stroke-width="1.45" stroke-dasharray="3.8,1.6"/>
<path d="M485.7,884.4 L487.4,883.7 L489.0,881.8 L490.7,869.7 L492.3,853.4 L494.0,841.0 L495.7,838.3 L497.3,837.4 L499.0,836.9 L500.6,836.7 L502.3,836.4 L504.0,836.2 L505.6,835.9 L507.3,835.7 L508.9,835.4 L510.6,835.2 L512.3,835.0 L513.9,834.8 L515.6,834.6 L517.2,834.4 L518.9,834.2 L520.6,834.1 L522.2,833.9 L523.9,833.7 L525.5,833.6 L527.2,833.5 L528.8,833.3 L530.5,833.2 L532.2,833.1 L533.8,833.0 L535.5,832.8 L537.1,832.7 L538.8,832.7 L540.5,832.6 L542.1,832.5 L543.8,832.4 L545.4,832.3 L547.1,832.3 L548.8,832.2 L550.4,832.2 L552.1,832.1 L553.7,832.1 L555.4,832.1 L557.1,832.0 L558.7,832.0 L560.4,832.0 L562.0,832.0 L563.7,832.0" fill="none" stroke="#1c3ff0" stroke-width="1.45" stroke-dasharray="3.8,1.6"/>
</g>
<rect x="483.60" y="826.00" width="81.90" height="59.30" rx="0" fill="none" stroke="#9a9a9a" stroke-width="0.7"/>
</g>
<text x="482.40" y="884.40" font-size="6.2" font-weight="normal" text-anchor="end" fill="#222" dominant-baseline="central" stroke="#222" stroke-width="0.12">0</text>
<text x="482.40" y="874.42" font-size="6.2" font-weight="normal" text-anchor="end" fill="#222" dominant-baseline="central" stroke="#222" stroke-width="0.12">2</text>
<text x="482.40" y="864.44" font-size="6.2" font-weight="normal" text-anchor="end" fill="#222" dominant-baseline="central" stroke="#222" stroke-width="0.12">4</text>
<text x="482.40" y="854.46" font-size="6.2" font-weight="normal" text-anchor="end" fill="#222" dominant-baseline="central" stroke="#222" stroke-width="0.12">6</text>
<text x="482.40" y="844.48" font-size="6.2" font-weight="normal" text-anchor="end" fill="#222" dominant-baseline="central" stroke="#222" stroke-width="0.12">8</text>
<text x="482.40" y="834.50" font-size="6.2" font-weight="normal" text-anchor="end" fill="#222" dominant-baseline="central" stroke="#222" stroke-width="0.12">10</text>
<text x="485.70" y="890.10" font-size="6.2" font-weight="normal" text-anchor="middle" fill="#222" dominant-baseline="central" stroke="#222" stroke-width="0.12">0</text>
<text x="501.95" y="890.10" font-size="6.2" font-weight="normal" text-anchor="middle" fill="#222" dominant-baseline="central" stroke="#222" stroke-width="0.12">25</text>
<text x="518.20" y="890.10" font-size="6.2" font-weight="normal" text-anchor="middle" fill="#222" dominant-baseline="central" stroke="#222" stroke-width="0.12">50</text>
<text x="534.45" y="890.10" font-size="6.2" font-weight="normal" text-anchor="middle" fill="#222" dominant-baseline="central" stroke="#222" stroke-width="0.12">75</text>
<text x="550.70" y="890.10" font-size="6.2" font-weight="normal" text-anchor="middle" fill="#222" dominant-baseline="central" stroke="#222" stroke-width="0.12">100</text>
<text x="523.80" y="821.80" font-size="7.3" font-weight="bold" text-anchor="middle" fill="#111" dominant-baseline="central" stroke="#111" stroke-width="0.12">butyrate</text>
<text x="471.80" y="862.00" font-size="7.8" font-weight="bold" text-anchor="middle" fill="#111" dominant-baseline="central" transform="rotate(-90 471.80 862.00)" stroke="#111" stroke-width="0.12">mM</text>
<text x="1.50" y="567.20" font-size="14" font-weight="bold" text-anchor="start" fill="#111" dominant-baseline="central" stroke="#111" stroke-width="0.12">D</text>
<text x="231.30" y="567.20" font-size="14" font-weight="bold" text-anchor="start" fill="#111" dominant-baseline="central" stroke="#111" stroke-width="0.12">E</text>
<text x="461.40" y="567.20" font-size="14" font-weight="bold" text-anchor="start" fill="#111" dominant-baseline="central" stroke="#111" stroke-width="0.12">F</text>
<text x="106.60" y="897.80" font-size="7.5" font-weight="bold" text-anchor="middle" fill="#111" dominant-baseline="central" stroke="#111" stroke-width="0.12">time(h)</text>
<text x="331.20" y="897.80" font-size="7.5" font-weight="bold" text-anchor="middle" fill="#111" dominant-baseline="central" stroke="#111" stroke-width="0.12">time(h)</text>
<text x="574.20" y="897.80" font-size="7.5" font-weight="bold" text-anchor="middle" fill="#111" dominant-baseline="central" stroke="#111" stroke-width="0.12">time(h)</text>
<path d="M155.5,913.5 L189.0,913.5" fill="none" stroke="#6b8cf2" stroke-width="0.9"/>
<text x="193.00" y="913.50" font-size="7.55" font-weight="bold" text-anchor="start" fill="#111" dominant-baseline="central" stroke="#111" stroke-width="0.12">Experiment 1 (6 replicates)</text>
<path d="M293.3,913.5 L328.0,913.5" fill="none" stroke="#f27878" stroke-width="0.9"/>
<text x="331.00" y="913.50" font-size="7.55" font-weight="bold" text-anchor="start" fill="#111" dominant-baseline="central" stroke="#111" stroke-width="0.12">Experiment 2 (6 replicates)</text>
<path d="M441.6,913.5 L477.0,913.5" fill="none" stroke="#74e274" stroke-width="0.9"/>
<text x="480.00" y="913.50" font-size="7.55" font-weight="bold" text-anchor="start" fill="#111" dominant-baseline="central" stroke="#111" stroke-width="0.12">Experiment 3 (3 replicates)</text>
<path d="M157.0,929.5 L191.0,929.5" fill="none" stroke="#1c3ff0" stroke-width="1.0" stroke-dasharray="4,3.2"/>
<text x="195.20" y="929.50" font-size="7.55" font-weight="bold" text-anchor="start" fill="#111" dominant-baseline="central" stroke="#111" stroke-width="0.12">Simulation 1</text>
<path d="M293.3,929.5 L326.0,929.5" fill="none" stroke="#ec1e1e" stroke-width="1.0" stroke-dasharray="4,3.2"/>
<text x="331.00" y="929.50" font-size="7.55" font-weight="bold" text-anchor="start" fill="#111" dominant-baseline="central" stroke="#111" stroke-width="0.12">Simulation 2</text>
<path d="M442.8,929.5 L477.0,929.5" fill="none" stroke="#1ecf1e" stroke-width="1.0" stroke-dasharray="4,3.2"/>
<text x="481.00" y="929.50" font-size="7.55" font-weight="bold" text-anchor="start" fill="#111" dominant-baseline="central" stroke="#111" stroke-width="0.12">Simulation 3</text>
</svg></body></html>
